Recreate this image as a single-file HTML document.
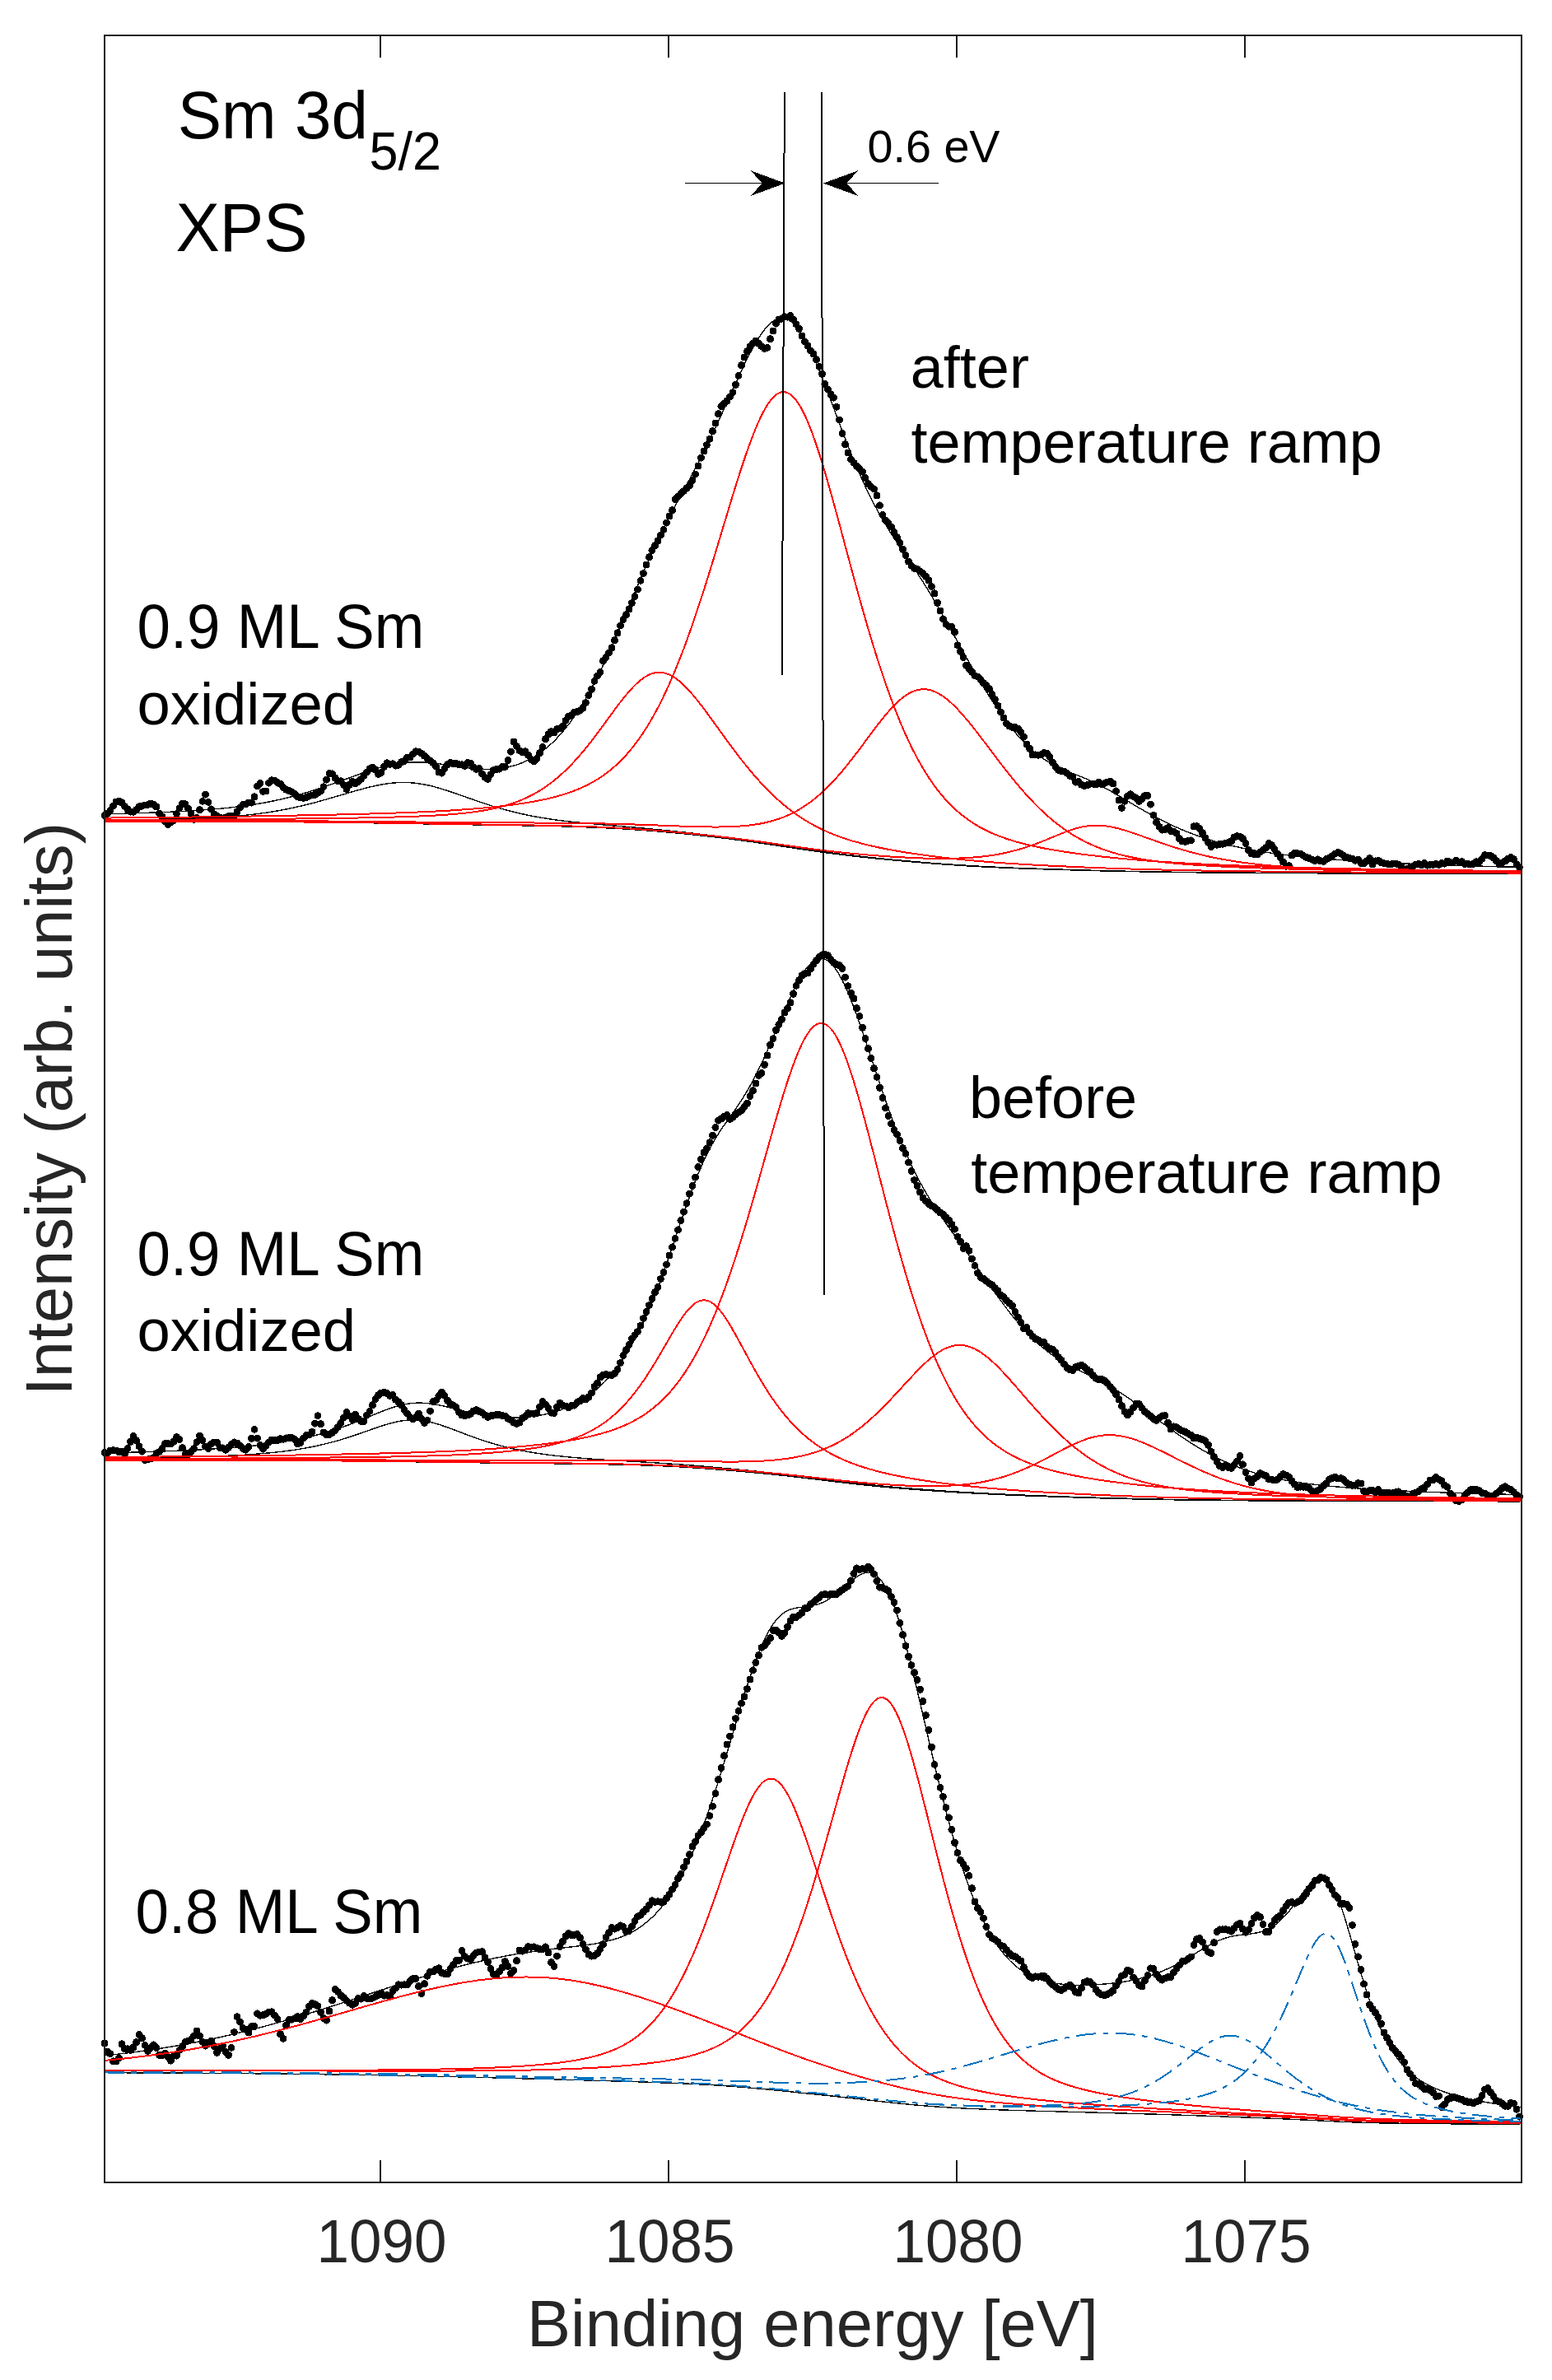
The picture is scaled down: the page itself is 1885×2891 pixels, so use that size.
<!DOCTYPE html>
<html lang="en"><head><meta charset="utf-8"><title>Sm 3d5/2 XPS</title>
<style>html,body{margin:0;padding:0;background:#fff;overflow:hidden}svg{display:block}</style></head>
<body>
<svg width="1885" height="2891" viewBox="0 0 1885 2891">
<rect x="0" y="0" width="1885" height="2891" fill="#fff"/>
<g fill="none" stroke-width="1.4" stroke-linejoin="round" shape-rendering="crispEdges">
<g fill="#000"><circle cx="127.0" cy="990.7" r="4.5"/><circle cx="130.5" cy="988.3" r="4.5"/><circle cx="134.0" cy="984.5" r="4.5"/><circle cx="137.5" cy="979.2" r="4.5"/><circle cx="141.0" cy="974.0" r="4.5"/><circle cx="144.5" cy="973.4" r="4.5"/><circle cx="148.0" cy="974.9" r="4.5"/><circle cx="151.5" cy="979.5" r="4.5"/><circle cx="155.0" cy="982.9" r="4.5"/><circle cx="158.5" cy="986.1" r="4.5"/><circle cx="162.0" cy="986.3" r="4.5"/><circle cx="165.5" cy="983.6" r="4.5"/><circle cx="169.0" cy="979.9" r="4.5"/><circle cx="172.5" cy="979.1" r="4.5"/><circle cx="176.0" cy="978.1" r="4.5"/><circle cx="179.5" cy="977.5" r="4.5"/><circle cx="183.0" cy="976.0" r="4.5"/><circle cx="186.5" cy="977.3" r="4.5"/><circle cx="190.0" cy="980.0" r="4.5"/><circle cx="193.5" cy="988.0" r="4.5"/><circle cx="197.0" cy="992.0" r="4.5"/><circle cx="200.5" cy="997.6" r="4.5"/><circle cx="204.0" cy="1001.5" r="4.5"/><circle cx="207.5" cy="998.9" r="4.5"/><circle cx="211.0" cy="996.4" r="4.5"/><circle cx="214.5" cy="988.5" r="4.5"/><circle cx="218.0" cy="981.8" r="4.5"/><circle cx="221.5" cy="976.4" r="4.5"/><circle cx="225.0" cy="976.9" r="4.5"/><circle cx="228.5" cy="982.1" r="4.5"/><circle cx="232.0" cy="988.2" r="4.5"/><circle cx="235.5" cy="995.4" r="4.5"/><circle cx="239.0" cy="993.5" r="4.5"/><circle cx="242.5" cy="983.7" r="4.5"/><circle cx="246.0" cy="973.3" r="4.5"/><circle cx="249.5" cy="965.2" r="4.5"/><circle cx="253.0" cy="974.3" r="4.5"/><circle cx="256.5" cy="982.9" r="4.5"/><circle cx="260.0" cy="988.8" r="4.5"/><circle cx="263.5" cy="991.1" r="4.5"/><circle cx="267.0" cy="993.0" r="4.5"/><circle cx="270.5" cy="994.5" r="4.5"/><circle cx="274.0" cy="993.0" r="4.5"/><circle cx="277.5" cy="991.7" r="4.5"/><circle cx="281.0" cy="991.6" r="4.5"/><circle cx="284.5" cy="991.2" r="4.5"/><circle cx="288.0" cy="986.1" r="4.5"/><circle cx="291.5" cy="981.2" r="4.5"/><circle cx="295.0" cy="977.3" r="4.5"/><circle cx="298.5" cy="976.9" r="4.5"/><circle cx="302.0" cy="975.1" r="4.5"/><circle cx="305.5" cy="975.0" r="4.5"/><circle cx="309.0" cy="967.9" r="4.5"/><circle cx="312.5" cy="954.9" r="4.5"/><circle cx="316.0" cy="951.6" r="4.5"/><circle cx="319.5" cy="961.5" r="4.5"/><circle cx="323.0" cy="961.1" r="4.5"/><circle cx="326.5" cy="951.1" r="4.5"/><circle cx="330.0" cy="947.9" r="4.5"/><circle cx="333.5" cy="948.1" r="4.5"/><circle cx="337.0" cy="950.7" r="4.5"/><circle cx="340.5" cy="952.4" r="4.5"/><circle cx="344.0" cy="956.5" r="4.5"/><circle cx="347.5" cy="959.2" r="4.5"/><circle cx="351.0" cy="960.5" r="4.5"/><circle cx="354.5" cy="961.9" r="4.5"/><circle cx="358.0" cy="964.5" r="4.5"/><circle cx="361.5" cy="967.7" r="4.5"/><circle cx="365.0" cy="969.1" r="4.5"/><circle cx="368.5" cy="969.3" r="4.5"/><circle cx="372.0" cy="968.5" r="4.5"/><circle cx="375.5" cy="967.0" r="4.5"/><circle cx="379.0" cy="966.1" r="4.5"/><circle cx="382.5" cy="965.4" r="4.5"/><circle cx="386.0" cy="963.2" r="4.5"/><circle cx="389.5" cy="961.0" r="4.5"/><circle cx="393.0" cy="955.8" r="4.5"/><circle cx="396.5" cy="947.2" r="4.5"/><circle cx="400.0" cy="939.4" r="4.5"/><circle cx="403.5" cy="939.9" r="4.5"/><circle cx="407.0" cy="945.1" r="4.5"/><circle cx="410.5" cy="948.8" r="4.5"/><circle cx="414.0" cy="948.8" r="4.5"/><circle cx="417.5" cy="953.5" r="4.5"/><circle cx="421.0" cy="958.8" r="4.5"/><circle cx="424.5" cy="953.4" r="4.5"/><circle cx="428.0" cy="949.2" r="4.5"/><circle cx="431.5" cy="951.8" r="4.5"/><circle cx="435.0" cy="949.5" r="4.5"/><circle cx="438.5" cy="946.5" r="4.5"/><circle cx="442.0" cy="942.0" r="4.5"/><circle cx="445.5" cy="938.2" r="4.5"/><circle cx="449.0" cy="933.9" r="4.5"/><circle cx="452.5" cy="932.3" r="4.5"/><circle cx="456.0" cy="934.9" r="4.5"/><circle cx="459.5" cy="940.3" r="4.5"/><circle cx="463.0" cy="938.7" r="4.5"/><circle cx="466.5" cy="931.4" r="4.5"/><circle cx="470.0" cy="926.8" r="4.5"/><circle cx="473.5" cy="928.5" r="4.5"/><circle cx="477.0" cy="927.8" r="4.5"/><circle cx="480.5" cy="930.0" r="4.5"/><circle cx="484.0" cy="929.3" r="4.5"/><circle cx="487.5" cy="925.8" r="4.5"/><circle cx="491.0" cy="924.4" r="4.5"/><circle cx="494.5" cy="920.3" r="4.5"/><circle cx="498.0" cy="920.1" r="4.5"/><circle cx="501.5" cy="916.1" r="4.5"/><circle cx="505.0" cy="912.8" r="4.5"/><circle cx="508.5" cy="913.2" r="4.5"/><circle cx="512.0" cy="915.2" r="4.5"/><circle cx="515.5" cy="918.2" r="4.5"/><circle cx="519.0" cy="921.7" r="4.5"/><circle cx="522.5" cy="924.0" r="4.5"/><circle cx="526.0" cy="926.8" r="4.5"/><circle cx="529.5" cy="930.8" r="4.5"/><circle cx="533.0" cy="937.9" r="4.5"/><circle cx="536.5" cy="939.1" r="4.5"/><circle cx="540.0" cy="933.4" r="4.5"/><circle cx="543.5" cy="928.8" r="4.5"/><circle cx="547.0" cy="926.7" r="4.5"/><circle cx="550.5" cy="927.8" r="4.5"/><circle cx="554.0" cy="927.7" r="4.5"/><circle cx="557.5" cy="928.7" r="4.5"/><circle cx="561.0" cy="928.9" r="4.5"/><circle cx="564.5" cy="930.4" r="4.5"/><circle cx="568.0" cy="926.5" r="4.5"/><circle cx="571.5" cy="927.3" r="4.5"/><circle cx="575.0" cy="931.9" r="4.5"/><circle cx="578.5" cy="934.5" r="4.5"/><circle cx="582.0" cy="933.4" r="4.5"/><circle cx="585.5" cy="939.9" r="4.5"/><circle cx="589.0" cy="944.2" r="4.5"/><circle cx="592.5" cy="946.3" r="4.5"/><circle cx="596.0" cy="940.8" r="4.5"/><circle cx="599.5" cy="935.5" r="4.5"/><circle cx="603.0" cy="934.6" r="4.5"/><circle cx="606.5" cy="934.2" r="4.5"/><circle cx="610.0" cy="931.7" r="4.5"/><circle cx="613.5" cy="931.5" r="4.5"/><circle cx="617.0" cy="923.4" r="4.5"/><circle cx="620.5" cy="913.0" r="4.5"/><circle cx="624.0" cy="901.1" r="4.5"/><circle cx="627.5" cy="906.5" r="4.5"/><circle cx="631.0" cy="911.8" r="4.5"/><circle cx="634.5" cy="913.8" r="4.5"/><circle cx="638.0" cy="912.8" r="4.5"/><circle cx="641.5" cy="917.4" r="4.5"/><circle cx="645.0" cy="922.6" r="4.5"/><circle cx="648.5" cy="924.6" r="4.5"/><circle cx="652.0" cy="921.4" r="4.5"/><circle cx="655.5" cy="914.6" r="4.5"/><circle cx="659.0" cy="907.4" r="4.5"/><circle cx="662.5" cy="897.6" r="4.5"/><circle cx="666.0" cy="892.1" r="4.5"/><circle cx="669.5" cy="888.5" r="4.5"/><circle cx="673.0" cy="890.1" r="4.5"/><circle cx="676.5" cy="885.8" r="4.5"/><circle cx="680.0" cy="884.9" r="4.5"/><circle cx="683.5" cy="881.9" r="4.5"/><circle cx="687.0" cy="875.2" r="4.5"/><circle cx="690.5" cy="870.4" r="4.5"/><circle cx="694.0" cy="869.1" r="4.5"/><circle cx="697.5" cy="865.0" r="4.5"/><circle cx="701.0" cy="864.7" r="4.5"/><circle cx="704.5" cy="863.2" r="4.5"/><circle cx="708.0" cy="860.1" r="4.5"/><circle cx="711.5" cy="853.5" r="4.5"/><circle cx="715.0" cy="844.5" r="4.5"/><circle cx="718.5" cy="837.4" r="4.5"/><circle cx="722.0" cy="827.3" r="4.5"/><circle cx="725.5" cy="821.1" r="4.5"/><circle cx="729.0" cy="816.6" r="4.5"/><circle cx="732.5" cy="802.6" r="4.5"/><circle cx="736.0" cy="798.4" r="4.5"/><circle cx="739.5" cy="792.9" r="4.5"/><circle cx="743.0" cy="786.9" r="4.5"/><circle cx="746.5" cy="777.8" r="4.5"/><circle cx="750.0" cy="768.9" r="4.5"/><circle cx="753.5" cy="759.9" r="4.5"/><circle cx="757.0" cy="752.7" r="4.5"/><circle cx="760.5" cy="746.7" r="4.5"/><circle cx="764.0" cy="740.0" r="4.5"/><circle cx="767.5" cy="732.5" r="4.5"/><circle cx="771.0" cy="724.4" r="4.5"/><circle cx="774.5" cy="715.9" r="4.5"/><circle cx="778.0" cy="705.3" r="4.5"/><circle cx="781.5" cy="696.5" r="4.5"/><circle cx="785.0" cy="686.1" r="4.5"/><circle cx="788.5" cy="676.7" r="4.5"/><circle cx="792.0" cy="668.5" r="4.5"/><circle cx="795.5" cy="662.8" r="4.5"/><circle cx="799.0" cy="656.9" r="4.5"/><circle cx="802.5" cy="649.9" r="4.5"/><circle cx="806.0" cy="643.3" r="4.5"/><circle cx="809.5" cy="635.0" r="4.5"/><circle cx="813.0" cy="627.1" r="4.5"/><circle cx="816.5" cy="619.8" r="4.5"/><circle cx="820.0" cy="606.7" r="4.5"/><circle cx="823.5" cy="603.1" r="4.5"/><circle cx="827.0" cy="599.4" r="4.5"/><circle cx="830.5" cy="596.5" r="4.5"/><circle cx="834.0" cy="592.9" r="4.5"/><circle cx="837.5" cy="589.8" r="4.5"/><circle cx="841.0" cy="583.4" r="4.5"/><circle cx="844.5" cy="576.2" r="4.5"/><circle cx="848.0" cy="566.0" r="4.5"/><circle cx="851.5" cy="556.2" r="4.5"/><circle cx="855.0" cy="548.0" r="4.5"/><circle cx="858.5" cy="540.5" r="4.5"/><circle cx="862.0" cy="533.2" r="4.5"/><circle cx="865.5" cy="523.6" r="4.5"/><circle cx="869.0" cy="514.0" r="4.5"/><circle cx="872.5" cy="502.8" r="4.5"/><circle cx="876.0" cy="493.5" r="4.5"/><circle cx="879.5" cy="490.4" r="4.5"/><circle cx="883.0" cy="487.0" r="4.5"/><circle cx="886.5" cy="481.9" r="4.5"/><circle cx="890.0" cy="476.8" r="4.5"/><circle cx="893.5" cy="467.4" r="4.5"/><circle cx="897.0" cy="456.3" r="4.5"/><circle cx="900.5" cy="443.6" r="4.5"/><circle cx="904.0" cy="434.0" r="4.5"/><circle cx="907.5" cy="426.7" r="4.5"/><circle cx="911.0" cy="421.0" r="4.5"/><circle cx="914.5" cy="417.0" r="4.5"/><circle cx="918.0" cy="414.1" r="4.5"/><circle cx="921.5" cy="417.4" r="4.5"/><circle cx="925.0" cy="420.8" r="4.5"/><circle cx="928.5" cy="423.4" r="4.5"/><circle cx="932.0" cy="422.3" r="4.5"/><circle cx="935.5" cy="411.8" r="4.5"/><circle cx="939.0" cy="402.0" r="4.5"/><circle cx="942.5" cy="393.0" r="4.5"/><circle cx="946.0" cy="388.1" r="4.5"/><circle cx="949.5" cy="387.0" r="4.5"/><circle cx="953.0" cy="384.9" r="4.5"/><circle cx="956.5" cy="385.1" r="4.5"/><circle cx="960.0" cy="383.7" r="4.5"/><circle cx="963.5" cy="387.9" r="4.5"/><circle cx="967.0" cy="393.8" r="4.5"/><circle cx="970.5" cy="399.4" r="4.5"/><circle cx="974.0" cy="408.0" r="4.5"/><circle cx="977.5" cy="414.9" r="4.5"/><circle cx="981.0" cy="420.1" r="4.5"/><circle cx="984.5" cy="425.9" r="4.5"/><circle cx="988.0" cy="430.1" r="4.5"/><circle cx="991.5" cy="436.8" r="4.5"/><circle cx="995.0" cy="445.2" r="4.5"/><circle cx="998.5" cy="454.4" r="4.5"/><circle cx="1002.0" cy="466.5" r="4.5"/><circle cx="1005.5" cy="473.1" r="4.5"/><circle cx="1009.0" cy="479.0" r="4.5"/><circle cx="1012.5" cy="483.1" r="4.5"/><circle cx="1016.0" cy="494.2" r="4.5"/><circle cx="1019.5" cy="510.1" r="4.5"/><circle cx="1023.0" cy="526.4" r="4.5"/><circle cx="1026.5" cy="539.8" r="4.5"/><circle cx="1030.0" cy="550.0" r="4.5"/><circle cx="1033.5" cy="557.9" r="4.5"/><circle cx="1037.0" cy="562.2" r="4.5"/><circle cx="1040.5" cy="566.3" r="4.5"/><circle cx="1044.0" cy="569.3" r="4.5"/><circle cx="1047.5" cy="573.1" r="4.5"/><circle cx="1051.0" cy="580.6" r="4.5"/><circle cx="1054.5" cy="587.7" r="4.5"/><circle cx="1058.0" cy="591.3" r="4.5"/><circle cx="1061.5" cy="593.9" r="4.5"/><circle cx="1065.0" cy="601.9" r="4.5"/><circle cx="1068.5" cy="613.9" r="4.5"/><circle cx="1072.0" cy="625.5" r="4.5"/><circle cx="1075.5" cy="632.1" r="4.5"/><circle cx="1079.0" cy="635.3" r="4.5"/><circle cx="1082.5" cy="640.0" r="4.5"/><circle cx="1086.0" cy="646.6" r="4.5"/><circle cx="1089.5" cy="652.8" r="4.5"/><circle cx="1093.0" cy="659.6" r="4.5"/><circle cx="1096.5" cy="667.3" r="4.5"/><circle cx="1100.0" cy="674.7" r="4.5"/><circle cx="1103.5" cy="682.2" r="4.5"/><circle cx="1107.0" cy="687.3" r="4.5"/><circle cx="1110.5" cy="690.4" r="4.5"/><circle cx="1114.0" cy="691.2" r="4.5"/><circle cx="1117.5" cy="694.1" r="4.5"/><circle cx="1121.0" cy="696.7" r="4.5"/><circle cx="1124.5" cy="700.3" r="4.5"/><circle cx="1128.0" cy="704.9" r="4.5"/><circle cx="1131.5" cy="712.5" r="4.5"/><circle cx="1135.0" cy="720.9" r="4.5"/><circle cx="1138.5" cy="732.3" r="4.5"/><circle cx="1142.0" cy="742.0" r="4.5"/><circle cx="1145.5" cy="752.1" r="4.5"/><circle cx="1149.0" cy="758.3" r="4.5"/><circle cx="1152.5" cy="761.0" r="4.5"/><circle cx="1156.0" cy="761.6" r="4.5"/><circle cx="1159.5" cy="767.6" r="4.5"/><circle cx="1163.0" cy="783.8" r="4.5"/><circle cx="1166.5" cy="791.4" r="4.5"/><circle cx="1170.0" cy="798.7" r="4.5"/><circle cx="1173.5" cy="808.2" r="4.5"/><circle cx="1177.0" cy="812.5" r="4.5"/><circle cx="1180.5" cy="816.4" r="4.5"/><circle cx="1184.0" cy="820.8" r="4.5"/><circle cx="1187.5" cy="822.0" r="4.5"/><circle cx="1191.0" cy="825.4" r="4.5"/><circle cx="1194.5" cy="829.6" r="4.5"/><circle cx="1198.0" cy="832.6" r="4.5"/><circle cx="1201.5" cy="836.8" r="4.5"/><circle cx="1205.0" cy="843.7" r="4.5"/><circle cx="1208.5" cy="849.5" r="4.5"/><circle cx="1212.0" cy="857.2" r="4.5"/><circle cx="1215.5" cy="864.9" r="4.5"/><circle cx="1219.0" cy="872.1" r="4.5"/><circle cx="1222.5" cy="879.0" r="4.5"/><circle cx="1226.0" cy="882.1" r="4.5"/><circle cx="1229.5" cy="883.4" r="4.5"/><circle cx="1233.0" cy="883.7" r="4.5"/><circle cx="1236.5" cy="885.4" r="4.5"/><circle cx="1240.0" cy="889.6" r="4.5"/><circle cx="1243.5" cy="895.1" r="4.5"/><circle cx="1247.0" cy="904.0" r="4.5"/><circle cx="1250.5" cy="909.4" r="4.5"/><circle cx="1254.0" cy="917.1" r="4.5"/><circle cx="1257.5" cy="916.9" r="4.5"/><circle cx="1261.0" cy="917.2" r="4.5"/><circle cx="1264.5" cy="916.7" r="4.5"/><circle cx="1268.0" cy="914.6" r="4.5"/><circle cx="1271.5" cy="915.4" r="4.5"/><circle cx="1275.0" cy="919.5" r="4.5"/><circle cx="1278.5" cy="926.4" r="4.5"/><circle cx="1282.0" cy="931.7" r="4.5"/><circle cx="1285.5" cy="935.4" r="4.5"/><circle cx="1289.0" cy="936.7" r="4.5"/><circle cx="1292.5" cy="937.2" r="4.5"/><circle cx="1296.0" cy="939.3" r="4.5"/><circle cx="1299.5" cy="942.3" r="4.5"/><circle cx="1303.0" cy="943.6" r="4.5"/><circle cx="1306.5" cy="950.0" r="4.5"/><circle cx="1310.0" cy="949.6" r="4.5"/><circle cx="1313.5" cy="953.2" r="4.5"/><circle cx="1317.0" cy="954.7" r="4.5"/><circle cx="1320.5" cy="953.8" r="4.5"/><circle cx="1324.0" cy="952.3" r="4.5"/><circle cx="1327.5" cy="952.1" r="4.5"/><circle cx="1331.0" cy="952.9" r="4.5"/><circle cx="1334.5" cy="950.3" r="4.5"/><circle cx="1338.0" cy="952.7" r="4.5"/><circle cx="1341.5" cy="951.5" r="4.5"/><circle cx="1345.0" cy="950.0" r="4.5"/><circle cx="1348.5" cy="949.3" r="4.5"/><circle cx="1352.0" cy="952.0" r="4.5"/><circle cx="1355.5" cy="960.9" r="4.5"/><circle cx="1359.0" cy="972.0" r="4.5"/><circle cx="1362.5" cy="981.5" r="4.5"/><circle cx="1366.0" cy="973.3" r="4.5"/><circle cx="1369.5" cy="966.9" r="4.5"/><circle cx="1373.0" cy="964.8" r="4.5"/><circle cx="1376.5" cy="967.5" r="4.5"/><circle cx="1380.0" cy="969.7" r="4.5"/><circle cx="1383.5" cy="973.3" r="4.5"/><circle cx="1387.0" cy="970.4" r="4.5"/><circle cx="1390.5" cy="966.5" r="4.5"/><circle cx="1394.0" cy="966.4" r="4.5"/><circle cx="1397.5" cy="977.0" r="4.5"/><circle cx="1401.0" cy="990.2" r="4.5"/><circle cx="1404.5" cy="998.6" r="4.5"/><circle cx="1408.0" cy="1004.2" r="4.5"/><circle cx="1411.5" cy="1008.1" r="4.5"/><circle cx="1415.0" cy="1007.4" r="4.5"/><circle cx="1418.5" cy="1005.8" r="4.5"/><circle cx="1422.0" cy="1009.4" r="4.5"/><circle cx="1425.5" cy="1010.1" r="4.5"/><circle cx="1429.0" cy="1012.2" r="4.5"/><circle cx="1432.5" cy="1018.8" r="4.5"/><circle cx="1436.0" cy="1021.9" r="4.5"/><circle cx="1439.5" cy="1022.3" r="4.5"/><circle cx="1443.0" cy="1021.3" r="4.5"/><circle cx="1446.5" cy="1020.9" r="4.5"/><circle cx="1450.0" cy="1003.9" r="4.5"/><circle cx="1453.5" cy="1003.7" r="4.5"/><circle cx="1457.0" cy="1006.4" r="4.5"/><circle cx="1460.5" cy="1011.7" r="4.5"/><circle cx="1464.0" cy="1018.0" r="4.5"/><circle cx="1467.5" cy="1023.5" r="4.5"/><circle cx="1471.0" cy="1028.7" r="4.5"/><circle cx="1474.5" cy="1025.7" r="4.5"/><circle cx="1478.0" cy="1026.2" r="4.5"/><circle cx="1481.5" cy="1025.3" r="4.5"/><circle cx="1485.0" cy="1025.2" r="4.5"/><circle cx="1488.5" cy="1024.0" r="4.5"/><circle cx="1492.0" cy="1023.5" r="4.5"/><circle cx="1495.5" cy="1021.8" r="4.5"/><circle cx="1499.0" cy="1017.1" r="4.5"/><circle cx="1502.5" cy="1015.5" r="4.5"/><circle cx="1506.0" cy="1016.2" r="4.5"/><circle cx="1509.5" cy="1018.6" r="4.5"/><circle cx="1513.0" cy="1024.7" r="4.5"/><circle cx="1516.5" cy="1032.8" r="4.5"/><circle cx="1520.0" cy="1037.1" r="4.5"/><circle cx="1523.5" cy="1037.7" r="4.5"/><circle cx="1527.0" cy="1038.0" r="4.5"/><circle cx="1530.5" cy="1035.0" r="4.5"/><circle cx="1534.0" cy="1032.7" r="4.5"/><circle cx="1537.5" cy="1029.6" r="4.5"/><circle cx="1541.0" cy="1024.6" r="4.5"/><circle cx="1544.5" cy="1026.6" r="4.5"/><circle cx="1548.0" cy="1031.5" r="4.5"/><circle cx="1551.5" cy="1037.2" r="4.5"/><circle cx="1555.0" cy="1041.6" r="4.5"/><circle cx="1558.5" cy="1047.2" r="4.5"/><circle cx="1562.0" cy="1052.3" r="4.5"/><circle cx="1565.5" cy="1051.6" r="4.5"/><circle cx="1569.0" cy="1039.1" r="4.5"/><circle cx="1572.5" cy="1036.4" r="4.5"/><circle cx="1576.0" cy="1036.9" r="4.5"/><circle cx="1579.5" cy="1037.2" r="4.5"/><circle cx="1583.0" cy="1039.3" r="4.5"/><circle cx="1586.5" cy="1041.3" r="4.5"/><circle cx="1590.0" cy="1042.6" r="4.5"/><circle cx="1593.5" cy="1044.0" r="4.5"/><circle cx="1597.0" cy="1045.8" r="4.5"/><circle cx="1600.5" cy="1043.9" r="4.5"/><circle cx="1604.0" cy="1045.9" r="4.5"/><circle cx="1607.5" cy="1046.4" r="4.5"/><circle cx="1611.0" cy="1043.5" r="4.5"/><circle cx="1614.5" cy="1042.0" r="4.5"/><circle cx="1618.0" cy="1039.8" r="4.5"/><circle cx="1621.5" cy="1037.2" r="4.5"/><circle cx="1625.0" cy="1035.4" r="4.5"/><circle cx="1628.5" cy="1036.9" r="4.5"/><circle cx="1632.0" cy="1039.5" r="4.5"/><circle cx="1635.5" cy="1041.0" r="4.5"/><circle cx="1639.0" cy="1042.5" r="4.5"/><circle cx="1642.5" cy="1043.2" r="4.5"/><circle cx="1646.0" cy="1045.2" r="4.5"/><circle cx="1649.5" cy="1044.1" r="4.5"/><circle cx="1653.0" cy="1048.5" r="4.5"/><circle cx="1656.5" cy="1048.7" r="4.5"/><circle cx="1660.0" cy="1046.1" r="4.5"/><circle cx="1663.5" cy="1042.8" r="4.5"/><circle cx="1667.0" cy="1049.9" r="4.5"/><circle cx="1670.5" cy="1045.9" r="4.5"/><circle cx="1674.0" cy="1045.2" r="4.5"/><circle cx="1677.5" cy="1047.6" r="4.5"/><circle cx="1681.0" cy="1048.8" r="4.5"/><circle cx="1684.5" cy="1049.1" r="4.5"/><circle cx="1688.0" cy="1050.1" r="4.5"/><circle cx="1691.5" cy="1049.2" r="4.5"/><circle cx="1695.0" cy="1049.0" r="4.5"/><circle cx="1698.5" cy="1050.2" r="4.5"/><circle cx="1702.0" cy="1052.3" r="4.5"/><circle cx="1705.5" cy="1055.9" r="4.5"/><circle cx="1709.0" cy="1055.3" r="4.5"/><circle cx="1712.5" cy="1054.0" r="4.5"/><circle cx="1716.0" cy="1052.3" r="4.5"/><circle cx="1719.5" cy="1050.0" r="4.5"/><circle cx="1723.0" cy="1049.3" r="4.5"/><circle cx="1726.5" cy="1050.6" r="4.5"/><circle cx="1730.0" cy="1048.7" r="4.5"/><circle cx="1733.5" cy="1051.1" r="4.5"/><circle cx="1737.0" cy="1050.3" r="4.5"/><circle cx="1740.5" cy="1050.5" r="4.5"/><circle cx="1744.0" cy="1049.5" r="4.5"/><circle cx="1747.5" cy="1050.3" r="4.5"/><circle cx="1751.0" cy="1048.7" r="4.5"/><circle cx="1754.5" cy="1049.1" r="4.5"/><circle cx="1758.0" cy="1046.1" r="4.5"/><circle cx="1761.5" cy="1047.8" r="4.5"/><circle cx="1765.0" cy="1047.8" r="4.5"/><circle cx="1768.5" cy="1045.3" r="4.5"/><circle cx="1772.0" cy="1047.4" r="4.5"/><circle cx="1775.5" cy="1046.6" r="4.5"/><circle cx="1779.0" cy="1049.4" r="4.5"/><circle cx="1782.5" cy="1049.2" r="4.5"/><circle cx="1786.0" cy="1050.0" r="4.5"/><circle cx="1789.5" cy="1049.3" r="4.5"/><circle cx="1793.0" cy="1046.8" r="4.5"/><circle cx="1796.5" cy="1046.8" r="4.5"/><circle cx="1800.0" cy="1043.3" r="4.5"/><circle cx="1803.5" cy="1038.7" r="4.5"/><circle cx="1807.0" cy="1039.0" r="4.5"/><circle cx="1810.5" cy="1039.7" r="4.5"/><circle cx="1814.0" cy="1041.9" r="4.5"/><circle cx="1817.5" cy="1045.6" r="4.5"/><circle cx="1821.0" cy="1050.0" r="4.5"/><circle cx="1824.5" cy="1047.9" r="4.5"/><circle cx="1828.0" cy="1046.0" r="4.5"/><circle cx="1831.5" cy="1043.4" r="4.5"/><circle cx="1835.0" cy="1041.5" r="4.5"/><circle cx="1838.5" cy="1043.8" r="4.5"/><circle cx="1842.0" cy="1050.0" r="4.5"/><circle cx="1845.5" cy="1053.5" r="4.5"/></g>
<path d="M127.0,997.8 L130.0,997.8 L133.0,997.8 L136.0,997.8 L139.0,997.8 L142.0,997.8 L145.0,997.8 L148.0,997.9 L151.0,997.9 L154.0,997.9 L157.0,997.9 L160.0,997.9 L163.0,997.9 L166.0,997.9 L169.0,997.9 L172.0,997.9 L175.0,997.9 L178.0,997.9 L181.0,997.9 L184.0,997.9 L187.0,997.9 L190.0,998.0 L193.0,998.0 L196.0,998.0 L199.0,998.0 L202.0,998.0 L205.0,998.0 L208.0,998.0 L211.0,998.0 L214.0,998.0 L217.0,998.0 L220.0,998.0 L223.0,998.0 L226.0,998.1 L229.0,998.1 L232.0,998.1 L235.0,998.1 L238.0,998.1 L241.0,998.1 L244.0,998.1 L247.0,998.1 L250.0,998.1 L253.0,998.1 L256.0,998.2 L259.0,998.2 L262.0,998.2 L265.0,998.2 L268.0,998.2 L271.0,998.2 L274.0,998.2 L277.0,998.2 L280.0,998.2 L283.0,998.3 L286.0,998.3 L289.0,998.3 L292.0,998.3 L295.0,998.3 L298.0,998.3 L301.0,998.3 L304.0,998.3 L307.0,998.4 L310.0,998.4 L313.0,998.4 L316.0,998.4 L319.0,998.4 L322.0,998.4 L325.0,998.5 L328.0,998.5 L331.0,998.5 L334.0,998.5 L337.0,998.5 L340.0,998.5 L343.0,998.6 L346.0,998.6 L349.0,998.6 L352.0,998.6 L355.0,998.7 L358.0,998.7 L361.0,998.7 L364.0,998.7 L367.0,998.7 L370.0,998.8 L373.0,998.8 L376.0,998.8 L379.0,998.8 L382.0,998.9 L385.0,998.9 L388.0,998.9 L391.0,999.0 L394.0,999.0 L397.0,999.0 L400.0,999.1 L403.0,999.1 L406.0,999.1 L409.0,999.2 L412.0,999.2 L415.0,999.2 L418.0,999.3 L421.0,999.3 L424.0,999.3 L427.0,999.4 L430.0,999.4 L433.0,999.5 L436.0,999.5 L439.0,999.5 L442.0,999.6 L445.0,999.6 L448.0,999.7 L451.0,999.7 L454.0,999.8 L457.0,999.8 L460.0,999.9 L463.0,999.9 L466.0,999.9 L469.0,1000.0 L472.0,1000.0 L475.0,1000.1 L478.0,1000.1 L481.0,1000.2 L484.0,1000.2 L487.0,1000.3 L490.0,1000.4 L493.0,1000.4 L496.0,1000.5 L499.0,1000.5 L502.0,1000.6 L505.0,1000.6 L508.0,1000.7 L511.0,1000.7 L514.0,1000.8 L517.0,1000.8 L520.0,1000.9 L523.0,1000.9 L526.0,1001.0 L529.0,1001.0 L532.0,1001.1 L535.0,1001.1 L538.0,1001.2 L541.0,1001.2 L544.0,1001.3 L547.0,1001.3 L550.0,1001.4 L553.0,1001.4 L556.0,1001.5 L559.0,1001.5 L562.0,1001.6 L565.0,1001.6 L568.0,1001.7 L571.0,1001.7 L574.0,1001.8 L577.0,1001.8 L580.0,1001.9 L583.0,1001.9 L586.0,1002.0 L589.0,1002.0 L592.0,1002.1 L595.0,1002.1 L598.0,1002.2 L601.0,1002.2 L604.0,1002.3 L607.0,1002.3 L610.0,1002.4 L613.0,1002.4 L616.0,1002.5 L619.0,1002.5 L622.0,1002.6 L625.0,1002.6 L628.0,1002.7 L631.0,1002.7 L634.0,1002.8 L637.0,1002.8 L640.0,1002.9 L643.0,1002.9 L646.0,1003.0 L649.0,1003.1 L652.0,1003.1 L655.0,1003.2 L658.0,1003.2 L661.0,1003.3 L664.0,1003.4 L667.0,1003.4 L670.0,1003.5 L673.0,1003.6 L676.0,1003.7 L679.0,1003.7 L682.0,1003.8 L685.0,1003.9 L688.0,1004.0 L691.0,1004.1 L694.0,1004.2 L697.0,1004.2 L700.0,1004.3 L703.0,1004.4 L706.0,1004.5 L709.0,1004.6 L712.0,1004.8 L715.0,1004.9 L718.0,1005.0 L721.0,1005.1 L724.0,1005.2 L727.0,1005.4 L730.0,1005.5 L733.0,1005.6 L736.0,1005.8 L739.0,1005.9 L742.0,1006.1 L745.0,1006.2 L748.0,1006.4 L751.0,1006.6 L754.0,1006.7 L757.0,1006.9 L760.0,1007.1 L763.0,1007.3 L766.0,1007.5 L769.0,1007.7 L772.0,1007.9 L775.0,1008.1 L778.0,1008.3 L781.0,1008.5 L784.0,1008.7 L787.0,1009.0 L790.0,1009.2 L793.0,1009.4 L796.0,1009.7 L799.0,1009.9 L802.0,1010.2 L805.0,1010.4 L808.0,1010.7 L811.0,1011.0 L814.0,1011.2 L817.0,1011.5 L820.0,1011.8 L823.0,1012.1 L826.0,1012.3 L829.0,1012.6 L832.0,1012.9 L835.0,1013.2 L838.0,1013.5 L841.0,1013.8 L844.0,1014.2 L847.0,1014.5 L850.0,1014.8 L853.0,1015.1 L856.0,1015.4 L859.0,1015.8 L862.0,1016.1 L865.0,1016.5 L868.0,1016.8 L871.0,1017.2 L874.0,1017.5 L877.0,1017.9 L880.0,1018.2 L883.0,1018.6 L886.0,1019.0 L889.0,1019.4 L892.0,1019.8 L895.0,1020.2 L898.0,1020.5 L901.0,1021.0 L904.0,1021.4 L907.0,1021.8 L910.0,1022.2 L913.0,1022.6 L916.0,1023.0 L919.0,1023.5 L922.0,1023.9 L925.0,1024.3 L928.0,1024.8 L931.0,1025.2 L934.0,1025.7 L937.0,1026.1 L940.0,1026.6 L943.0,1027.0 L946.0,1027.5 L949.0,1027.9 L952.0,1028.4 L955.0,1028.8 L958.0,1029.3 L961.0,1029.7 L964.0,1030.2 L967.0,1030.6 L970.0,1031.1 L973.0,1031.5 L976.0,1032.0 L979.0,1032.4 L982.0,1032.8 L985.0,1033.3 L988.0,1033.7 L991.0,1034.1 L994.0,1034.5 L997.0,1035.0 L1000.0,1035.4 L1003.0,1035.8 L1006.0,1036.2 L1009.0,1036.6 L1012.0,1037.0 L1015.0,1037.3 L1018.0,1037.7 L1021.0,1038.1 L1024.0,1038.4 L1027.0,1038.8 L1030.0,1039.2 L1033.0,1039.5 L1036.0,1039.9 L1039.0,1040.2 L1042.0,1040.5 L1045.0,1040.9 L1048.0,1041.2 L1051.0,1041.5 L1054.0,1041.8 L1057.0,1042.1 L1060.0,1042.5 L1063.0,1042.8 L1066.0,1043.1 L1069.0,1043.4 L1072.0,1043.7 L1075.0,1043.9 L1078.0,1044.2 L1081.0,1044.5 L1084.0,1044.8 L1087.0,1045.1 L1090.0,1045.4 L1093.0,1045.6 L1096.0,1045.9 L1099.0,1046.2 L1102.0,1046.4 L1105.0,1046.7 L1108.0,1046.9 L1111.0,1047.2 L1114.0,1047.4 L1117.0,1047.7 L1120.0,1047.9 L1123.0,1048.2 L1126.0,1048.4 L1129.0,1048.7 L1132.0,1048.9 L1135.0,1049.1 L1138.0,1049.3 L1141.0,1049.6 L1144.0,1049.8 L1147.0,1050.0 L1150.0,1050.2 L1153.0,1050.4 L1156.0,1050.6 L1159.0,1050.8 L1162.0,1051.0 L1165.0,1051.2 L1168.0,1051.4 L1171.0,1051.6 L1174.0,1051.8 L1177.0,1051.9 L1180.0,1052.1 L1183.0,1052.3 L1186.0,1052.4 L1189.0,1052.6 L1192.0,1052.8 L1195.0,1052.9 L1198.0,1053.1 L1201.0,1053.2 L1204.0,1053.4 L1207.0,1053.5 L1210.0,1053.7 L1213.0,1053.8 L1216.0,1053.9 L1219.0,1054.1 L1222.0,1054.2 L1225.0,1054.3 L1228.0,1054.4 L1231.0,1054.6 L1234.0,1054.7 L1237.0,1054.8 L1240.0,1054.9 L1243.0,1055.0 L1246.0,1055.1 L1249.0,1055.2 L1252.0,1055.3 L1255.0,1055.4 L1258.0,1055.5 L1261.0,1055.6 L1264.0,1055.7 L1267.0,1055.8 L1270.0,1055.9 L1273.0,1056.0 L1276.0,1056.1 L1279.0,1056.2 L1282.0,1056.3 L1285.0,1056.4 L1288.0,1056.5 L1291.0,1056.6 L1294.0,1056.6 L1297.0,1056.7 L1300.0,1056.8 L1303.0,1056.9 L1306.0,1057.0 L1309.0,1057.1 L1312.0,1057.1 L1315.0,1057.2 L1318.0,1057.3 L1321.0,1057.4 L1324.0,1057.5 L1327.0,1057.5 L1330.0,1057.6 L1333.0,1057.7 L1336.0,1057.8 L1339.0,1057.8 L1342.0,1057.9 L1345.0,1058.0 L1348.0,1058.0 L1351.0,1058.1 L1354.0,1058.2 L1357.0,1058.2 L1360.0,1058.3 L1363.0,1058.4 L1366.0,1058.4 L1369.0,1058.5 L1372.0,1058.6 L1375.0,1058.6 L1378.0,1058.7 L1381.0,1058.7 L1384.0,1058.8 L1387.0,1058.8 L1390.0,1058.9 L1393.0,1058.9 L1396.0,1059.0 L1399.0,1059.0 L1402.0,1059.1 L1405.0,1059.1 L1408.0,1059.2 L1411.0,1059.2 L1414.0,1059.3 L1417.0,1059.3 L1420.0,1059.4 L1423.0,1059.4 L1426.0,1059.4 L1429.0,1059.5 L1432.0,1059.5 L1435.0,1059.6 L1438.0,1059.6 L1441.0,1059.6 L1444.0,1059.7 L1447.0,1059.7 L1450.0,1059.7 L1453.0,1059.8 L1456.0,1059.8 L1459.0,1059.8 L1462.0,1059.9 L1465.0,1059.9 L1468.0,1059.9 L1471.0,1059.9 L1474.0,1060.0 L1477.0,1060.0 L1480.0,1060.0 L1483.0,1060.1 L1486.0,1060.1 L1489.0,1060.1 L1492.0,1060.1 L1495.0,1060.2 L1498.0,1060.2 L1501.0,1060.2 L1504.0,1060.2 L1507.0,1060.2 L1510.0,1060.3 L1513.0,1060.3 L1516.0,1060.3 L1519.0,1060.3 L1522.0,1060.3 L1525.0,1060.4 L1528.0,1060.4 L1531.0,1060.4 L1534.0,1060.4 L1537.0,1060.4 L1540.0,1060.5 L1543.0,1060.5 L1546.0,1060.5 L1549.0,1060.5 L1552.0,1060.5 L1555.0,1060.5 L1558.0,1060.6 L1561.0,1060.6 L1564.0,1060.6 L1567.0,1060.6 L1570.0,1060.6 L1573.0,1060.6 L1576.0,1060.7 L1579.0,1060.7 L1582.0,1060.7 L1585.0,1060.7 L1588.0,1060.7 L1591.0,1060.7 L1594.0,1060.7 L1597.0,1060.7 L1600.0,1060.8 L1603.0,1060.8 L1606.0,1060.8 L1609.0,1060.8 L1612.0,1060.8 L1615.0,1060.8 L1618.0,1060.8 L1621.0,1060.8 L1624.0,1060.9 L1627.0,1060.9 L1630.0,1060.9 L1633.0,1060.9 L1636.0,1060.9 L1639.0,1060.9 L1642.0,1060.9 L1645.0,1060.9 L1648.0,1060.9 L1651.0,1061.0 L1654.0,1061.0 L1657.0,1061.0 L1660.0,1061.0 L1663.0,1061.0 L1666.0,1061.0 L1669.0,1061.0 L1672.0,1061.0 L1675.0,1061.0 L1678.0,1061.0 L1681.0,1061.1 L1684.0,1061.1 L1687.0,1061.1 L1690.0,1061.1 L1693.0,1061.1 L1696.0,1061.1 L1699.0,1061.1 L1702.0,1061.1 L1705.0,1061.1 L1708.0,1061.1 L1711.0,1061.1 L1714.0,1061.2 L1717.0,1061.2 L1720.0,1061.2 L1723.0,1061.2 L1726.0,1061.2 L1729.0,1061.2 L1732.0,1061.2 L1735.0,1061.2 L1738.0,1061.2 L1741.0,1061.2 L1744.0,1061.2 L1747.0,1061.2 L1750.0,1061.3 L1753.0,1061.3 L1756.0,1061.3 L1759.0,1061.3 L1762.0,1061.3 L1765.0,1061.3 L1768.0,1061.3 L1771.0,1061.3 L1774.0,1061.3 L1777.0,1061.3 L1780.0,1061.3 L1783.0,1061.3 L1786.0,1061.3 L1789.0,1061.3 L1792.0,1061.4 L1795.0,1061.4 L1798.0,1061.4 L1801.0,1061.4 L1804.0,1061.4 L1807.0,1061.4 L1810.0,1061.4 L1813.0,1061.4 L1816.0,1061.4 L1819.0,1061.4 L1822.0,1061.4 L1825.0,1061.4 L1828.0,1061.4 L1831.0,1061.4 L1834.0,1061.4 L1837.0,1061.4 L1840.0,1061.5 L1843.0,1061.5 L1846.0,1061.5" stroke="#000"/>
<path d="M127.0,988.8 L129.0,988.8 L131.0,988.7 L133.0,988.7 L135.0,988.6 L137.0,988.6 L139.0,988.5 L141.0,988.4 L143.0,988.4 L145.0,988.3 L147.0,988.3 L149.0,988.2 L151.0,988.2 L153.0,988.1 L155.0,988.0 L157.0,988.0 L159.0,987.9 L161.0,987.9 L163.0,987.8 L165.0,987.7 L167.0,987.7 L169.0,987.6 L171.0,987.5 L173.0,987.5 L175.0,987.4 L177.0,987.3 L179.0,987.3 L181.0,987.2 L183.0,987.1 L185.0,987.1 L187.0,987.0 L189.0,986.9 L191.0,986.8 L193.0,986.7 L195.0,986.7 L197.0,986.6 L199.0,986.5 L201.0,986.4 L203.0,986.3 L205.0,986.2 L207.0,986.2 L209.0,986.1 L211.0,986.0 L213.0,985.9 L215.0,985.8 L217.0,985.7 L219.0,985.6 L221.0,985.5 L223.0,985.4 L225.0,985.3 L227.0,985.1 L229.0,985.0 L231.0,984.9 L233.0,984.8 L235.0,984.7 L237.0,984.5 L239.0,984.4 L241.0,984.3 L243.0,984.2 L245.0,984.0 L247.0,983.9 L249.0,983.7 L251.0,983.6 L253.0,983.4 L255.0,983.3 L257.0,983.1 L259.0,983.0 L261.0,982.8 L263.0,982.6 L265.0,982.4 L267.0,982.3 L269.0,982.1 L271.0,981.9 L273.0,981.7 L275.0,981.5 L277.0,981.3 L279.0,981.1 L281.0,980.8 L283.0,980.6 L285.0,980.4 L287.0,980.1 L289.0,979.9 L291.0,979.7 L293.0,979.4 L295.0,979.1 L297.0,978.9 L299.0,978.6 L301.0,978.3 L303.0,978.0 L305.0,977.7 L307.0,977.4 L309.0,977.1 L311.0,976.8 L313.0,976.5 L315.0,976.1 L317.0,975.8 L319.0,975.4 L321.0,975.1 L323.0,974.7 L325.0,974.3 L327.0,973.9 L329.0,973.5 L331.0,973.1 L333.0,972.7 L335.0,972.3 L337.0,971.8 L339.0,971.4 L341.0,970.9 L343.0,970.5 L345.0,970.0 L347.0,969.5 L349.0,969.0 L351.0,968.5 L353.0,968.0 L355.0,967.5 L357.0,967.0 L359.0,966.4 L361.0,965.9 L363.0,965.3 L365.0,964.8 L367.0,964.2 L369.0,963.6 L371.0,963.0 L373.0,962.4 L375.0,961.8 L377.0,961.2 L379.0,960.6 L381.0,960.0 L383.0,959.3 L385.0,958.7 L387.0,958.0 L389.0,957.3 L391.0,956.7 L393.0,956.0 L395.0,955.3 L397.0,954.6 L399.0,953.9 L401.0,953.2 L403.0,952.5 L405.0,951.8 L407.0,951.1 L409.0,950.4 L411.0,949.7 L413.0,948.9 L415.0,948.2 L417.0,947.5 L419.0,946.8 L421.0,946.0 L423.0,945.3 L425.0,944.6 L427.0,943.9 L429.0,943.1 L431.0,942.4 L433.0,941.7 L435.0,941.0 L437.0,940.3 L439.0,939.6 L441.0,938.9 L443.0,938.2 L445.0,937.5 L447.0,936.9 L449.0,936.2 L451.0,935.6 L453.0,934.9 L455.0,934.3 L457.0,933.7 L459.0,933.1 L461.0,932.6 L463.0,932.0 L465.0,931.5 L467.0,930.9 L469.0,930.5 L471.0,930.0 L473.0,929.5 L475.0,929.1 L477.0,928.7 L479.0,928.3 L481.0,927.9 L483.0,927.6 L485.0,927.3 L487.0,927.0 L489.0,926.8 L491.0,926.5 L493.0,926.4 L495.0,926.2 L497.0,926.0 L499.0,925.9 L501.0,925.9 L503.0,925.8 L505.0,925.8 L507.0,925.8 L509.0,925.8 L511.0,925.8 L513.0,925.9 L515.0,926.0 L517.0,926.1 L519.0,926.3 L521.0,926.4 L523.0,926.6 L525.0,926.8 L527.0,927.0 L529.0,927.2 L531.0,927.5 L533.0,927.7 L535.0,928.0 L537.0,928.3 L539.0,928.6 L541.0,928.9 L543.0,929.2 L545.0,929.5 L547.0,929.8 L549.0,930.1 L551.0,930.4 L553.0,930.7 L555.0,931.0 L557.0,931.3 L559.0,931.6 L561.0,931.8 L563.0,932.1 L565.0,932.4 L567.0,932.6 L569.0,932.8 L571.0,933.1 L573.0,933.3 L575.0,933.5 L577.0,933.6 L579.0,933.8 L581.0,933.9 L583.0,934.0 L585.0,934.1 L587.0,934.2 L589.0,934.2 L591.0,934.3 L593.0,934.3 L595.0,934.2 L597.0,934.2 L599.0,934.1 L601.0,934.0 L603.0,933.8 L605.0,933.6 L607.0,933.4 L609.0,933.1 L611.0,932.9 L613.0,932.5 L615.0,932.2 L617.0,931.8 L619.0,931.3 L621.0,930.8 L623.0,930.3 L625.0,929.7 L627.0,929.1 L629.0,928.5 L631.0,927.7 L633.0,927.0 L635.0,926.2 L637.0,925.3 L639.0,924.4 L641.0,923.5 L643.0,922.5 L645.0,921.4 L647.0,920.3 L649.0,919.1 L651.0,917.8 L653.0,916.6 L655.0,915.2 L657.0,913.8 L659.0,912.3 L661.0,910.8 L663.0,909.1 L665.0,907.5 L667.0,905.7 L669.0,903.9 L671.0,902.1 L673.0,900.1 L675.0,898.1 L677.0,896.0 L679.0,893.9 L681.0,891.6 L683.0,889.3 L685.0,887.0 L687.0,884.5 L689.0,882.0 L691.0,879.4 L693.0,876.7 L695.0,873.9 L697.0,871.1 L699.0,868.2 L701.0,865.2 L703.0,862.1 L705.0,859.0 L707.0,855.8 L709.0,852.5 L711.0,849.1 L713.0,845.6 L715.0,842.1 L717.0,838.5 L719.0,834.8 L721.0,831.0 L723.0,827.2 L725.0,823.3 L727.0,819.3 L729.0,815.3 L731.0,811.2 L733.0,807.0 L735.0,802.7 L737.0,798.4 L739.0,794.1 L741.0,789.7 L743.0,785.2 L745.0,780.7 L747.0,776.1 L749.0,771.5 L751.0,766.9 L753.0,762.2 L755.0,757.5 L757.0,752.7 L759.0,748.0 L761.0,743.2 L763.0,738.4 L765.0,733.7 L767.0,728.9 L769.0,724.1 L771.0,719.3 L773.0,714.6 L775.0,709.9 L777.0,705.1 L779.0,700.5 L781.0,695.8 L783.0,691.2 L785.0,686.7 L787.0,682.2 L789.0,677.7 L791.0,673.3 L793.0,668.9 L795.0,664.6 L797.0,660.3 L799.0,656.1 L801.0,652.0 L803.0,647.8 L805.0,643.8 L807.0,639.8 L809.0,635.8 L811.0,631.9 L813.0,628.0 L815.0,624.2 L817.0,620.4 L819.0,616.6 L821.0,612.8 L823.0,609.1 L825.0,605.4 L827.0,601.7 L829.0,597.9 L831.0,594.2 L833.0,590.5 L835.0,586.8 L837.0,583.1 L839.0,579.3 L841.0,575.5 L843.0,571.7 L845.0,567.9 L847.0,564.1 L849.0,560.2 L851.0,556.3 L853.0,552.3 L855.0,548.3 L857.0,544.3 L859.0,540.2 L861.0,536.1 L863.0,532.0 L865.0,527.8 L867.0,523.6 L869.0,519.3 L871.0,515.0 L873.0,510.7 L875.0,506.3 L877.0,502.0 L879.0,497.6 L881.0,493.1 L883.0,488.7 L885.0,484.3 L887.0,479.8 L889.0,475.4 L891.0,471.0 L893.0,466.6 L895.0,462.2 L897.0,457.8 L899.0,453.5 L901.0,449.2 L903.0,445.0 L905.0,440.9 L907.0,436.8 L909.0,432.8 L911.0,428.9 L913.0,425.1 L915.0,421.4 L917.0,417.9 L919.0,414.5 L921.0,411.2 L923.0,408.1 L925.0,405.1 L927.0,402.4 L929.0,399.8 L931.0,397.4 L933.0,395.2 L935.0,393.3 L937.0,391.6 L939.0,390.1 L941.0,388.8 L943.0,387.8 L945.0,387.1 L947.0,386.6 L949.0,386.4 L951.0,386.4 L953.0,386.8 L955.0,387.4 L957.0,388.2 L959.0,389.4 L961.0,390.8 L963.0,392.5 L965.0,394.4 L967.0,396.6 L969.0,399.1 L971.0,401.8 L973.0,404.7 L975.0,407.9 L977.0,411.3 L979.0,414.9 L981.0,418.7 L983.0,422.7 L985.0,426.8 L987.0,431.1 L989.0,435.6 L991.0,440.2 L993.0,445.0 L995.0,449.9 L997.0,454.8 L999.0,459.9 L1001.0,465.0 L1003.0,470.2 L1005.0,475.5 L1007.0,480.8 L1009.0,486.1 L1011.0,491.4 L1013.0,496.8 L1015.0,502.2 L1017.0,507.5 L1019.0,512.9 L1021.0,518.2 L1023.0,523.5 L1025.0,528.7 L1027.0,533.9 L1029.0,539.1 L1031.0,544.1 L1033.0,549.2 L1035.0,554.1 L1037.0,559.0 L1039.0,563.8 L1041.0,568.6 L1043.0,573.2 L1045.0,577.8 L1047.0,582.3 L1049.0,586.7 L1051.0,591.0 L1053.0,595.2 L1055.0,599.3 L1057.0,603.4 L1059.0,607.3 L1061.0,611.2 L1063.0,615.0 L1065.0,618.8 L1067.0,622.4 L1069.0,626.0 L1071.0,629.5 L1073.0,632.9 L1075.0,636.3 L1077.0,639.6 L1079.0,642.8 L1081.0,646.0 L1083.0,649.2 L1085.0,652.3 L1087.0,655.4 L1089.0,658.5 L1091.0,661.5 L1093.0,664.5 L1095.0,667.5 L1097.0,670.5 L1099.0,673.4 L1101.0,676.4 L1103.0,679.4 L1105.0,682.4 L1107.0,685.4 L1109.0,688.4 L1111.0,691.4 L1113.0,694.4 L1115.0,697.5 L1117.0,700.6 L1119.0,703.7 L1121.0,706.9 L1123.0,710.1 L1125.0,713.3 L1127.0,716.6 L1129.0,719.9 L1131.0,723.2 L1133.0,726.5 L1135.0,729.9 L1137.0,733.3 L1139.0,736.7 L1141.0,740.2 L1143.0,743.7 L1145.0,747.2 L1147.0,750.7 L1149.0,754.3 L1151.0,757.8 L1153.0,761.4 L1155.0,765.0 L1157.0,768.6 L1159.0,772.2 L1161.0,775.8 L1163.0,779.4 L1165.0,783.0 L1167.0,786.6 L1169.0,790.2 L1171.0,793.8 L1173.0,797.4 L1175.0,801.0 L1177.0,804.5 L1179.0,808.0 L1181.0,811.6 L1183.0,815.0 L1185.0,818.5 L1187.0,821.9 L1189.0,825.3 L1191.0,828.7 L1193.0,832.1 L1195.0,835.4 L1197.0,838.7 L1199.0,841.9 L1201.0,845.1 L1203.0,848.2 L1205.0,851.4 L1207.0,854.4 L1209.0,857.5 L1211.0,860.4 L1213.0,863.4 L1215.0,866.2 L1217.0,869.1 L1219.0,871.9 L1221.0,874.6 L1223.0,877.3 L1225.0,879.9 L1227.0,882.4 L1229.0,884.9 L1231.0,887.4 L1233.0,889.8 L1235.0,892.1 L1237.0,894.4 L1239.0,896.6 L1241.0,898.8 L1243.0,900.9 L1245.0,902.9 L1247.0,904.9 L1249.0,906.8 L1251.0,908.7 L1253.0,910.5 L1255.0,912.2 L1257.0,913.9 L1259.0,915.5 L1261.0,917.0 L1263.0,918.6 L1265.0,920.0 L1267.0,921.4 L1269.0,922.7 L1271.0,924.0 L1273.0,925.3 L1275.0,926.5 L1277.0,927.6 L1279.0,928.7 L1281.0,929.8 L1283.0,930.8 L1285.0,931.8 L1287.0,932.7 L1289.0,933.6 L1291.0,934.5 L1293.0,935.4 L1295.0,936.2 L1297.0,937.1 L1299.0,937.9 L1301.0,938.7 L1303.0,939.5 L1305.0,940.3 L1307.0,941.1 L1309.0,941.8 L1311.0,942.6 L1313.0,943.5 L1315.0,944.3 L1317.0,945.1 L1319.0,945.9 L1321.0,946.8 L1323.0,947.7 L1325.0,948.6 L1327.0,949.5 L1329.0,950.4 L1331.0,951.4 L1333.0,952.4 L1335.0,953.4 L1337.0,954.4 L1339.0,955.5 L1341.0,956.5 L1343.0,957.6 L1345.0,958.7 L1347.0,959.8 L1349.0,960.9 L1351.0,962.1 L1353.0,963.2 L1355.0,964.4 L1357.0,965.6 L1359.0,966.8 L1361.0,968.0 L1363.0,969.1 L1365.0,970.3 L1367.0,971.5 L1369.0,972.7 L1371.0,973.9 L1373.0,975.1 L1375.0,976.3 L1377.0,977.5 L1379.0,978.7 L1381.0,979.9 L1383.0,981.1 L1385.0,982.2 L1387.0,983.4 L1389.0,984.5 L1391.0,985.7 L1393.0,986.8 L1395.0,987.9 L1397.0,989.0 L1399.0,990.1 L1401.0,991.2 L1403.0,992.3 L1405.0,993.3 L1407.0,994.4 L1409.0,995.4 L1411.0,996.4 L1413.0,997.4 L1415.0,998.4 L1417.0,999.4 L1419.0,1000.4 L1421.0,1001.3 L1423.0,1002.3 L1425.0,1003.2 L1427.0,1004.1 L1429.0,1005.0 L1431.0,1005.9 L1433.0,1006.7 L1435.0,1007.6 L1437.0,1008.4 L1439.0,1009.2 L1441.0,1010.1 L1443.0,1010.9 L1445.0,1011.6 L1447.0,1012.4 L1449.0,1013.2 L1451.0,1013.9 L1453.0,1014.6 L1455.0,1015.3 L1457.0,1016.0 L1459.0,1016.7 L1461.0,1017.4 L1463.0,1018.1 L1465.0,1018.7 L1467.0,1019.3 L1469.0,1020.0 L1471.0,1020.6 L1473.0,1021.2 L1475.0,1021.8 L1477.0,1022.4 L1479.0,1022.9 L1481.0,1023.5 L1483.0,1024.0 L1485.0,1024.5 L1487.0,1025.1 L1489.0,1025.6 L1491.0,1026.1 L1493.0,1026.6 L1495.0,1027.1 L1497.0,1027.5 L1499.0,1028.0 L1501.0,1028.4 L1503.0,1028.9 L1505.0,1029.3 L1507.0,1029.7 L1509.0,1030.2 L1511.0,1030.6 L1513.0,1031.0 L1515.0,1031.3 L1517.0,1031.7 L1519.0,1032.1 L1521.0,1032.5 L1523.0,1032.8 L1525.0,1033.2 L1527.0,1033.5 L1529.0,1033.9 L1531.0,1034.2 L1533.0,1034.5 L1535.0,1034.8 L1537.0,1035.1 L1539.0,1035.5 L1541.0,1035.7 L1543.0,1036.0 L1545.0,1036.3 L1547.0,1036.6 L1549.0,1036.9 L1551.0,1037.2 L1553.0,1037.4 L1555.0,1037.7 L1557.0,1037.9 L1559.0,1038.2 L1561.0,1038.4 L1563.0,1038.7 L1565.0,1038.9 L1567.0,1039.1 L1569.0,1039.4 L1571.0,1039.6 L1573.0,1039.8 L1575.0,1040.0 L1577.0,1040.2 L1579.0,1040.4 L1581.0,1040.6 L1583.0,1040.9 L1585.0,1041.0 L1587.0,1041.2 L1589.0,1041.4 L1591.0,1041.6 L1593.0,1041.8 L1595.0,1042.0 L1597.0,1042.2 L1599.0,1042.3 L1601.0,1042.5 L1603.0,1042.7 L1605.0,1042.8 L1607.0,1043.0 L1609.0,1043.2 L1611.0,1043.3 L1613.0,1043.5 L1615.0,1043.6 L1617.0,1043.8 L1619.0,1043.9 L1621.0,1044.1 L1623.0,1044.2 L1625.0,1044.4 L1627.0,1044.5 L1629.0,1044.7 L1631.0,1044.8 L1633.0,1044.9 L1635.0,1045.1 L1637.0,1045.2 L1639.0,1045.3 L1641.0,1045.5 L1643.0,1045.6 L1645.0,1045.7 L1647.0,1045.8 L1649.0,1046.0 L1651.0,1046.1 L1653.0,1046.2 L1655.0,1046.3 L1657.0,1046.4 L1659.0,1046.6 L1661.0,1046.7 L1663.0,1046.8 L1665.0,1046.9 L1667.0,1047.0 L1669.0,1047.1 L1671.0,1047.2 L1673.0,1047.3 L1675.0,1047.4 L1677.0,1047.5 L1679.0,1047.6 L1681.0,1047.7 L1683.0,1047.8 L1685.0,1047.9 L1687.0,1048.0 L1689.0,1048.1 L1691.0,1048.2 L1693.0,1048.3 L1695.0,1048.4 L1697.0,1048.5 L1699.0,1048.6 L1701.0,1048.7 L1703.0,1048.8 L1705.0,1048.9 L1707.0,1048.9 L1709.0,1049.0 L1711.0,1049.1 L1713.0,1049.2 L1715.0,1049.3 L1717.0,1049.4 L1719.0,1049.4 L1721.0,1049.5 L1723.0,1049.6 L1725.0,1049.7 L1727.0,1049.8 L1729.0,1049.8 L1731.0,1049.9 L1733.0,1050.0 L1735.0,1050.1 L1737.0,1050.1 L1739.0,1050.2 L1741.0,1050.3 L1743.0,1050.4 L1745.0,1050.4 L1747.0,1050.5 L1749.0,1050.6 L1751.0,1050.6 L1753.0,1050.7 L1755.0,1050.8 L1757.0,1050.9 L1759.0,1050.9 L1761.0,1051.0 L1763.0,1051.1 L1765.0,1051.1 L1767.0,1051.2 L1769.0,1051.3 L1771.0,1051.3 L1773.0,1051.4 L1775.0,1051.4 L1777.0,1051.5 L1779.0,1051.6 L1781.0,1051.6 L1783.0,1051.7 L1785.0,1051.7 L1787.0,1051.8 L1789.0,1051.9 L1791.0,1051.9 L1793.0,1052.0 L1795.0,1052.0 L1797.0,1052.1 L1799.0,1052.1 L1801.0,1052.2 L1803.0,1052.3 L1805.0,1052.3 L1807.0,1052.4 L1809.0,1052.4 L1811.0,1052.5 L1813.0,1052.5 L1815.0,1052.6 L1817.0,1052.6 L1819.0,1052.7 L1821.0,1052.7 L1823.0,1052.8 L1825.0,1052.8 L1827.0,1052.9 L1829.0,1052.9 L1831.0,1053.0 L1833.0,1053.0 L1835.0,1053.1 L1837.0,1053.1 L1839.0,1053.2 L1841.0,1053.2 L1843.0,1053.3 L1845.0,1053.3 L1847.0,1053.4" stroke="#000"/>
<path d="M127.0,996.0 L129.0,996.0 L131.0,996.0 L133.0,995.9 L135.0,995.9 L137.0,995.9 L139.0,995.9 L141.0,995.9 L143.0,995.9 L145.0,995.8 L147.0,995.8 L149.0,995.8 L151.0,995.8 L153.0,995.8 L155.0,995.8 L157.0,995.7 L159.0,995.7 L161.0,995.7 L163.0,995.7 L165.0,995.6 L167.0,995.6 L169.0,995.6 L171.0,995.6 L173.0,995.6 L175.0,995.5 L177.0,995.5 L179.0,995.5 L181.0,995.4 L183.0,995.4 L185.0,995.4 L187.0,995.4 L189.0,995.3 L191.0,995.3 L193.0,995.3 L195.0,995.2 L197.0,995.2 L199.0,995.2 L201.0,995.1 L203.0,995.1 L205.0,995.0 L207.0,995.0 L209.0,994.9 L211.0,994.9 L213.0,994.9 L215.0,994.8 L217.0,994.8 L219.0,994.7 L221.0,994.7 L223.0,994.6 L225.0,994.5 L227.0,994.5 L229.0,994.4 L231.0,994.4 L233.0,994.3 L235.0,994.2 L237.0,994.2 L239.0,994.1 L241.0,994.0 L243.0,993.9 L245.0,993.8 L247.0,993.8 L249.0,993.7 L251.0,993.6 L253.0,993.5 L255.0,993.4 L257.0,993.3 L259.0,993.2 L261.0,993.1 L263.0,993.0 L265.0,992.9 L267.0,992.7 L269.0,992.6 L271.0,992.5 L273.0,992.4 L275.0,992.2 L277.0,992.1 L279.0,991.9 L281.0,991.8 L283.0,991.6 L285.0,991.5 L287.0,991.3 L289.0,991.1 L291.0,990.9 L293.0,990.7 L295.0,990.6 L297.0,990.4 L299.0,990.2 L301.0,989.9 L303.0,989.7 L305.0,989.5 L307.0,989.3 L309.0,989.0 L311.0,988.8 L313.0,988.5 L315.0,988.3 L317.0,988.0 L319.0,987.7 L321.0,987.5 L323.0,987.2 L325.0,986.9 L327.0,986.6 L329.0,986.3 L331.0,985.9 L333.0,985.6 L335.0,985.3 L337.0,984.9 L339.0,984.6 L341.0,984.2 L343.0,983.8 L345.0,983.4 L347.0,983.1 L349.0,982.7 L351.0,982.3 L353.0,981.8 L355.0,981.4 L357.0,981.0 L359.0,980.5 L361.0,980.1 L363.0,979.6 L365.0,979.2 L367.0,978.7 L369.0,978.2 L371.0,977.7 L373.0,977.2 L375.0,976.7 L377.0,976.2 L379.0,975.7 L381.0,975.2 L383.0,974.7 L385.0,974.1 L387.0,973.6 L389.0,973.0 L391.0,972.5 L393.0,971.9 L395.0,971.4 L397.0,970.8 L399.0,970.2 L401.0,969.6 L403.0,969.1 L405.0,968.5 L407.0,967.9 L409.0,967.3 L411.0,966.7 L413.0,966.1 L415.0,965.5 L417.0,965.0 L419.0,964.4 L421.0,963.8 L423.0,963.2 L425.0,962.6 L427.0,962.0 L429.0,961.5 L431.0,960.9 L433.0,960.3 L435.0,959.8 L437.0,959.2 L439.0,958.7 L441.0,958.1 L443.0,957.6 L445.0,957.1 L447.0,956.6 L449.0,956.1 L451.0,955.6 L453.0,955.2 L455.0,954.7 L457.0,954.3 L459.0,953.9 L461.0,953.5 L463.0,953.1 L465.0,952.7 L467.0,952.4 L469.0,952.1 L471.0,951.8 L473.0,951.6 L475.0,951.3 L477.0,951.1 L479.0,950.9 L481.0,950.8 L483.0,950.7 L485.0,950.6 L487.0,950.5 L489.0,950.5 L491.0,950.5 L493.0,950.5 L495.0,950.6 L497.0,950.6 L499.0,950.8 L501.0,950.9 L503.0,951.1 L505.0,951.3 L507.0,951.6 L509.0,951.9 L511.0,952.2 L513.0,952.5 L515.0,952.9 L517.0,953.3 L519.0,953.7 L521.0,954.1 L523.0,954.6 L525.0,955.1 L527.0,955.6 L529.0,956.1 L531.0,956.7 L533.0,957.2 L535.0,957.8 L537.0,958.4 L539.0,959.1 L541.0,959.7 L543.0,960.3 L545.0,961.0 L547.0,961.7 L549.0,962.3 L551.0,963.0 L553.0,963.7 L555.0,964.4 L557.0,965.1 L559.0,965.8 L561.0,966.5 L563.0,967.2 L565.0,967.9 L567.0,968.6 L569.0,969.3 L571.0,970.0 L573.0,970.7 L575.0,971.4 L577.0,972.1 L579.0,972.8 L581.0,973.5 L583.0,974.2 L585.0,974.9 L587.0,975.5 L589.0,976.2 L591.0,976.9 L593.0,977.5 L595.0,978.1 L597.0,978.8 L599.0,979.4 L601.0,980.0 L603.0,980.6 L605.0,981.2 L607.0,981.8 L609.0,982.4 L611.0,982.9 L613.0,983.5 L615.0,984.0 L617.0,984.6 L619.0,985.1 L621.0,985.6 L623.0,986.1 L625.0,986.6 L627.0,987.1 L629.0,987.6 L631.0,988.0 L633.0,988.5 L635.0,988.9 L637.0,989.3 L639.0,989.8 L641.0,990.2 L643.0,990.6 L645.0,991.0 L647.0,991.4 L649.0,991.7 L651.0,992.1 L653.0,992.5 L655.0,992.8 L657.0,993.2 L659.0,993.5 L661.0,993.8 L663.0,994.1 L665.0,994.4 L667.0,994.8 L669.0,995.0 L671.0,995.3 L673.0,995.6 L675.0,995.9 L677.0,996.2 L679.0,996.4 L681.0,996.7 L683.0,996.9 L685.0,997.2 L687.0,997.4 L689.0,997.6 L691.0,997.9 L693.0,998.1 L695.0,998.3 L697.0,998.5 L699.0,998.7 L701.0,998.9 L703.0,999.1 L705.0,999.3 L707.0,999.5 L709.0,999.7 L711.0,999.9 L713.0,1000.1 L715.0,1000.3 L717.0,1000.5 L719.0,1000.7 L721.0,1000.8 L723.0,1001.0 L725.0,1001.2 L727.0,1001.4 L729.0,1001.5 L731.0,1001.7 L733.0,1001.9 L735.0,1002.1 L737.0,1002.2 L739.0,1002.4 L741.0,1002.6 L743.0,1002.7 L745.0,1002.9 L747.0,1003.1 L749.0,1003.2 L751.0,1003.4 L753.0,1003.6 L755.0,1003.7 L757.0,1003.9 L759.0,1004.1 L761.0,1004.3 L763.0,1004.4 L765.0,1004.6 L767.0,1004.8 L769.0,1005.0 L771.0,1005.1 L773.0,1005.3 L775.0,1005.5 L777.0,1005.7 L779.0,1005.8 L781.0,1006.0 L783.0,1006.2 L785.0,1006.4 L787.0,1006.6 L789.0,1006.8 L791.0,1007.0 L793.0,1007.2 L795.0,1007.3 L797.0,1007.5 L799.0,1007.7 L801.0,1007.9 L803.0,1008.1 L805.0,1008.3 L807.0,1008.5 L809.0,1008.7 L811.0,1008.9 L813.0,1009.1 L815.0,1009.3 L817.0,1009.5 L819.0,1009.8 L821.0,1010.0 L823.0,1010.2 L825.0,1010.4 L827.0,1010.6 L829.0,1010.8 L831.0,1011.0 L833.0,1011.2 L835.0,1011.5 L837.0,1011.7 L839.0,1011.9 L841.0,1012.1 L843.0,1012.4 L845.0,1012.6 L847.0,1012.8 L849.0,1013.0 L851.0,1013.3 L853.0,1013.5 L855.0,1013.7 L857.0,1014.0 L859.0,1014.2 L861.0,1014.5 L863.0,1014.7 L865.0,1015.0 L867.0,1015.2 L869.0,1015.4 L871.0,1015.7 L873.0,1016.0 L875.0,1016.2 L877.0,1016.5 L879.0,1016.7 L881.0,1017.0 L883.0,1017.2 L885.0,1017.5 L887.0,1017.8 L889.0,1018.0 L891.0,1018.3 L893.0,1018.6 L895.0,1018.9 L897.0,1019.1 L899.0,1019.4 L901.0,1019.7 L903.0,1020.0 L905.0,1020.3 L907.0,1020.5 L909.0,1020.8 L911.0,1021.1 L913.0,1021.4 L915.0,1021.7 L917.0,1022.0 L919.0,1022.3 L921.0,1022.6 L923.0,1022.9 L925.0,1023.2 L927.0,1023.5 L929.0,1023.8 L931.0,1024.1 L933.0,1024.4 L935.0,1024.7 L937.0,1025.0 L939.0,1025.3 L941.0,1025.6 L943.0,1026.0 L945.0,1026.3 L947.0,1026.6 L949.0,1026.9 L951.0,1027.2 L953.0,1027.5 L955.0,1027.8 L957.0,1028.1 L959.0,1028.4 L961.0,1028.8 L963.0,1029.1 L965.0,1029.4 L967.0,1029.7 L969.0,1030.0 L971.0,1030.3 L973.0,1030.6 L975.0,1030.9 L977.0,1031.2 L979.0,1031.5 L981.0,1031.8 L983.0,1032.1 L985.0,1032.4 L987.0,1032.7 L989.0,1033.0 L991.0,1033.3 L993.0,1033.5 L995.0,1033.8 L997.0,1034.1 L999.0,1034.4 L1001.0,1034.7 L1003.0,1034.9 L1005.0,1035.2 L1007.0,1035.5 L1009.0,1035.8 L1011.0,1036.0 L1013.0,1036.3 L1015.0,1036.5 L1017.0,1036.8 L1019.0,1037.1 L1021.0,1037.3 L1023.0,1037.6 L1025.0,1037.8 L1027.0,1038.1 L1029.0,1038.3 L1031.0,1038.5 L1033.0,1038.8 L1035.0,1039.0 L1037.0,1039.2 L1039.0,1039.5 L1041.0,1039.7 L1043.0,1039.9 L1045.0,1040.2 L1047.0,1040.4 L1049.0,1040.6 L1051.0,1040.8 L1053.0,1041.0 L1055.0,1041.3 L1057.0,1041.5 L1059.0,1041.7 L1061.0,1041.9 L1063.0,1042.1 L1065.0,1042.3 L1067.0,1042.5 L1069.0,1042.7 L1071.0,1042.9 L1073.0,1043.1 L1075.0,1043.3 L1077.0,1043.5 L1079.0,1043.7 L1081.0,1043.9 L1083.0,1044.1 L1085.0,1044.3 L1087.0,1044.5 L1089.0,1044.7 L1091.0,1044.8 L1093.0,1045.0 L1095.0,1045.2 L1097.0,1045.4 L1099.0,1045.6 L1101.0,1045.8 L1103.0,1045.9 L1105.0,1046.1 L1107.0,1046.3 L1109.0,1046.5 L1111.0,1046.6 L1113.0,1046.8 L1115.0,1047.0 L1117.0,1047.1 L1119.0,1047.3 L1121.0,1047.5 L1123.0,1047.6 L1125.0,1047.8 L1127.0,1048.0 L1129.0,1048.1 L1131.0,1048.3 L1133.0,1048.4 L1135.0,1048.6 L1137.0,1048.7 L1139.0,1048.9 L1141.0,1049.0 L1143.0,1049.2 L1145.0,1049.3 L1147.0,1049.5 L1149.0,1049.6 L1151.0,1049.8 L1153.0,1049.9 L1155.0,1050.0 L1157.0,1050.2 L1159.0,1050.3 L1161.0,1050.5 L1163.0,1050.6 L1165.0,1050.7 L1167.0,1050.8 L1169.0,1051.0 L1171.0,1051.1 L1173.0,1051.2 L1175.0,1051.3 L1177.0,1051.5 L1179.0,1051.6 L1181.0,1051.7 L1183.0,1051.8 L1185.0,1051.9 L1187.0,1052.0 L1189.0,1052.2 L1191.0,1052.3 L1193.0,1052.4 L1195.0,1052.5 L1197.0,1052.6 L1199.0,1052.7 L1201.0,1052.8 L1203.0,1052.9 L1205.0,1053.0 L1207.0,1053.1 L1209.0,1053.2 L1211.0,1053.3 L1213.0,1053.4 L1215.0,1053.5 L1217.0,1053.6 L1219.0,1053.6 L1221.0,1053.7 L1223.0,1053.8 L1225.0,1053.9 L1227.0,1054.0 L1229.0,1054.1 L1231.0,1054.2 L1233.0,1054.2 L1235.0,1054.3 L1237.0,1054.4 L1239.0,1054.5 L1241.0,1054.5 L1243.0,1054.6 L1245.0,1054.7 L1247.0,1054.8 L1249.0,1054.8 L1251.0,1054.9 L1253.0,1055.0 L1255.0,1055.1 L1257.0,1055.1 L1259.0,1055.2 L1261.0,1055.3 L1263.0,1055.3 L1265.0,1055.4 L1267.0,1055.5 L1269.0,1055.5 L1271.0,1055.6 L1273.0,1055.7 L1275.0,1055.7 L1277.0,1055.8 L1279.0,1055.8 L1281.0,1055.9 L1283.0,1056.0 L1285.0,1056.0 L1287.0,1056.1 L1289.0,1056.1 L1291.0,1056.2 L1293.0,1056.3 L1295.0,1056.3 L1297.0,1056.4 L1299.0,1056.4 L1301.0,1056.5 L1303.0,1056.6 L1305.0,1056.6 L1307.0,1056.7 L1309.0,1056.7 L1311.0,1056.8 L1313.0,1056.8 L1315.0,1056.9 L1317.0,1056.9 L1319.0,1057.0 L1321.0,1057.1 L1323.0,1057.1 L1325.0,1057.2 L1327.0,1057.2 L1329.0,1057.3 L1331.0,1057.3 L1333.0,1057.4 L1335.0,1057.4 L1337.0,1057.5 L1339.0,1057.5 L1341.0,1057.6 L1343.0,1057.6 L1345.0,1057.7 L1347.0,1057.7 L1349.0,1057.8 L1351.0,1057.8 L1353.0,1057.9 L1355.0,1057.9 L1357.0,1058.0 L1359.0,1058.0 L1361.0,1058.0 L1363.0,1058.1 L1365.0,1058.1 L1367.0,1058.2 L1369.0,1058.2 L1371.0,1058.3 L1373.0,1058.3 L1375.0,1058.3 L1377.0,1058.4 L1379.0,1058.4 L1381.0,1058.5 L1383.0,1058.5 L1385.0,1058.5 L1387.0,1058.6 L1389.0,1058.6 L1391.0,1058.6 L1393.0,1058.7 L1395.0,1058.7 L1397.0,1058.7 L1399.0,1058.8 L1401.0,1058.8 L1403.0,1058.8 L1405.0,1058.9 L1407.0,1058.9 L1409.0,1058.9 L1411.0,1059.0 L1413.0,1059.0 L1415.0,1059.0 L1417.0,1059.1 L1419.0,1059.1 L1421.0,1059.1 L1423.0,1059.2 L1425.0,1059.2 L1427.0,1059.2 L1429.0,1059.2 L1431.0,1059.3 L1433.0,1059.3 L1435.0,1059.3 L1437.0,1059.3 L1439.0,1059.4 L1441.0,1059.4 L1443.0,1059.4 L1445.0,1059.4 L1447.0,1059.5 L1449.0,1059.5 L1451.0,1059.5 L1453.0,1059.5 L1455.0,1059.6 L1457.0,1059.6 L1459.0,1059.6 L1461.0,1059.6 L1463.0,1059.6 L1465.0,1059.7 L1467.0,1059.7 L1469.0,1059.7 L1471.0,1059.7 L1473.0,1059.7 L1475.0,1059.8 L1477.0,1059.8 L1479.0,1059.8 L1481.0,1059.8 L1483.0,1059.8 L1485.0,1059.8 L1487.0,1059.9 L1489.0,1059.9 L1491.0,1059.9 L1493.0,1059.9 L1495.0,1059.9 L1497.0,1059.9 L1499.0,1060.0 L1501.0,1060.0 L1503.0,1060.0 L1505.0,1060.0 L1507.0,1060.0 L1509.0,1060.0 L1511.0,1060.1 L1513.0,1060.1 L1515.0,1060.1 L1517.0,1060.1 L1519.0,1060.1 L1521.0,1060.1 L1523.0,1060.1 L1525.0,1060.2 L1527.0,1060.2 L1529.0,1060.2 L1531.0,1060.2 L1533.0,1060.2 L1535.0,1060.2 L1537.0,1060.2 L1539.0,1060.3 L1541.0,1060.3 L1543.0,1060.3 L1545.0,1060.3 L1547.0,1060.3 L1549.0,1060.3 L1551.0,1060.3 L1553.0,1060.3 L1555.0,1060.3 L1557.0,1060.4 L1559.0,1060.4 L1561.0,1060.4 L1563.0,1060.4 L1565.0,1060.4 L1567.0,1060.4 L1569.0,1060.4 L1571.0,1060.4 L1573.0,1060.4 L1575.0,1060.5 L1577.0,1060.5 L1579.0,1060.5 L1581.0,1060.5 L1583.0,1060.5 L1585.0,1060.5 L1587.0,1060.5 L1589.0,1060.5 L1591.0,1060.5 L1593.0,1060.5 L1595.0,1060.6 L1597.0,1060.6 L1599.0,1060.6 L1601.0,1060.6 L1603.0,1060.6 L1605.0,1060.6 L1607.0,1060.6 L1609.0,1060.6 L1611.0,1060.6 L1613.0,1060.6 L1615.0,1060.6 L1617.0,1060.7 L1619.0,1060.7 L1621.0,1060.7 L1623.0,1060.7 L1625.0,1060.7 L1627.0,1060.7 L1629.0,1060.7 L1631.0,1060.7 L1633.0,1060.7 L1635.0,1060.7 L1637.0,1060.7 L1639.0,1060.7 L1641.0,1060.8 L1643.0,1060.8 L1645.0,1060.8 L1647.0,1060.8 L1649.0,1060.8 L1651.0,1060.8 L1653.0,1060.8 L1655.0,1060.8 L1657.0,1060.8 L1659.0,1060.8 L1661.0,1060.8 L1663.0,1060.8 L1665.0,1060.8 L1667.0,1060.9 L1669.0,1060.9 L1671.0,1060.9 L1673.0,1060.9 L1675.0,1060.9 L1677.0,1060.9 L1679.0,1060.9 L1681.0,1060.9 L1683.0,1060.9 L1685.0,1060.9 L1687.0,1060.9 L1689.0,1060.9 L1691.0,1060.9 L1693.0,1060.9 L1695.0,1060.9 L1697.0,1061.0 L1699.0,1061.0 L1701.0,1061.0 L1703.0,1061.0 L1705.0,1061.0 L1707.0,1061.0 L1709.0,1061.0 L1711.0,1061.0 L1713.0,1061.0 L1715.0,1061.0 L1717.0,1061.0 L1719.0,1061.0 L1721.0,1061.0 L1723.0,1061.0 L1725.0,1061.0 L1727.0,1061.0 L1729.0,1061.1 L1731.0,1061.1 L1733.0,1061.1 L1735.0,1061.1 L1737.0,1061.1 L1739.0,1061.1 L1741.0,1061.1 L1743.0,1061.1 L1745.0,1061.1 L1747.0,1061.1 L1749.0,1061.1 L1751.0,1061.1 L1753.0,1061.1 L1755.0,1061.1 L1757.0,1061.1 L1759.0,1061.1 L1761.0,1061.1 L1763.0,1061.1 L1765.0,1061.2 L1767.0,1061.2 L1769.0,1061.2 L1771.0,1061.2 L1773.0,1061.2 L1775.0,1061.2 L1777.0,1061.2 L1779.0,1061.2 L1781.0,1061.2 L1783.0,1061.2 L1785.0,1061.2 L1787.0,1061.2 L1789.0,1061.2 L1791.0,1061.2 L1793.0,1061.2 L1795.0,1061.2 L1797.0,1061.2 L1799.0,1061.2 L1801.0,1061.2 L1803.0,1061.2 L1805.0,1061.3 L1807.0,1061.3 L1809.0,1061.3 L1811.0,1061.3 L1813.0,1061.3 L1815.0,1061.3 L1817.0,1061.3 L1819.0,1061.3 L1821.0,1061.3 L1823.0,1061.3 L1825.0,1061.3 L1827.0,1061.3 L1829.0,1061.3 L1831.0,1061.3 L1833.0,1061.3 L1835.0,1061.3 L1837.0,1061.3 L1839.0,1061.3 L1841.0,1061.3 L1843.0,1061.3 L1845.0,1061.3 L1847.0,1061.3" stroke="#000"/>
<path d="M127.0,995.9 L129.0,995.9 L131.0,995.9 L133.0,995.9 L135.0,995.9 L137.0,995.9 L139.0,995.9 L141.0,995.9 L143.0,995.9 L145.0,995.9 L147.0,995.9 L149.0,995.9 L151.0,995.9 L153.0,995.9 L155.0,995.8 L157.0,995.8 L159.0,995.8 L161.0,995.8 L163.0,995.8 L165.0,995.8 L167.0,995.8 L169.0,995.8 L171.0,995.8 L173.0,995.8 L175.0,995.8 L177.0,995.8 L179.0,995.7 L181.0,995.7 L183.0,995.7 L185.0,995.7 L187.0,995.7 L189.0,995.7 L191.0,995.7 L193.0,995.7 L195.0,995.7 L197.0,995.7 L199.0,995.7 L201.0,995.6 L203.0,995.6 L205.0,995.6 L207.0,995.6 L209.0,995.6 L211.0,995.6 L213.0,995.6 L215.0,995.6 L217.0,995.6 L219.0,995.6 L221.0,995.5 L223.0,995.5 L225.0,995.5 L227.0,995.5 L229.0,995.5 L231.0,995.5 L233.0,995.5 L235.0,995.5 L237.0,995.5 L239.0,995.4 L241.0,995.4 L243.0,995.4 L245.0,995.4 L247.0,995.4 L249.0,995.4 L251.0,995.4 L253.0,995.4 L255.0,995.3 L257.0,995.3 L259.0,995.3 L261.0,995.3 L263.0,995.3 L265.0,995.3 L267.0,995.3 L269.0,995.3 L271.0,995.2 L273.0,995.2 L275.0,995.2 L277.0,995.2 L279.0,995.2 L281.0,995.2 L283.0,995.1 L285.0,995.1 L287.0,995.1 L289.0,995.1 L291.0,995.1 L293.0,995.1 L295.0,995.1 L297.0,995.0 L299.0,995.0 L301.0,995.0 L303.0,995.0 L305.0,995.0 L307.0,995.0 L309.0,994.9 L311.0,994.9 L313.0,994.9 L315.0,994.9 L317.0,994.9 L319.0,994.9 L321.0,994.8 L323.0,994.8 L325.0,994.8 L327.0,994.8 L329.0,994.8 L331.0,994.7 L333.0,994.7 L335.0,994.7 L337.0,994.7 L339.0,994.7 L341.0,994.7 L343.0,994.6 L345.0,994.6 L347.0,994.6 L349.0,994.6 L351.0,994.6 L353.0,994.5 L355.0,994.5 L357.0,994.5 L359.0,994.5 L361.0,994.4 L363.0,994.4 L365.0,994.4 L367.0,994.4 L369.0,994.4 L371.0,994.3 L373.0,994.3 L375.0,994.3 L377.0,994.3 L379.0,994.2 L381.0,994.2 L383.0,994.2 L385.0,994.2 L387.0,994.1 L389.0,994.1 L391.0,994.1 L393.0,994.1 L395.0,994.0 L397.0,994.0 L399.0,994.0 L401.0,994.0 L403.0,993.9 L405.0,993.9 L407.0,993.9 L409.0,993.9 L411.0,993.8 L413.0,993.8 L415.0,993.8 L417.0,993.7 L419.0,993.7 L421.0,993.7 L423.0,993.7 L425.0,993.6 L427.0,993.6 L429.0,993.6 L431.0,993.5 L433.0,993.5 L435.0,993.5 L437.0,993.4 L439.0,993.4 L441.0,993.3 L443.0,993.3 L445.0,993.3 L447.0,993.2 L449.0,993.2 L451.0,993.2 L453.0,993.1 L455.0,993.1 L457.0,993.0 L459.0,993.0 L461.0,992.9 L463.0,992.9 L465.0,992.9 L467.0,992.8 L469.0,992.8 L471.0,992.7 L473.0,992.7 L475.0,992.6 L477.0,992.6 L479.0,992.5 L481.0,992.4 L483.0,992.4 L485.0,992.3 L487.0,992.3 L489.0,992.2 L491.0,992.1 L493.0,992.1 L495.0,992.0 L497.0,991.9 L499.0,991.9 L501.0,991.8 L503.0,991.7 L505.0,991.6 L507.0,991.6 L509.0,991.5 L511.0,991.4 L513.0,991.3 L515.0,991.2 L517.0,991.1 L519.0,991.0 L521.0,990.9 L523.0,990.8 L525.0,990.7 L527.0,990.6 L529.0,990.5 L531.0,990.4 L533.0,990.3 L535.0,990.1 L537.0,990.0 L539.0,989.9 L541.0,989.7 L543.0,989.6 L545.0,989.4 L547.0,989.3 L549.0,989.1 L551.0,988.9 L553.0,988.8 L555.0,988.6 L557.0,988.4 L559.0,988.2 L561.0,988.0 L563.0,987.8 L565.0,987.6 L567.0,987.4 L569.0,987.1 L571.0,986.9 L573.0,986.6 L575.0,986.4 L577.0,986.1 L579.0,985.8 L581.0,985.5 L583.0,985.2 L585.0,984.9 L587.0,984.6 L589.0,984.2 L591.0,983.8 L593.0,983.5 L595.0,983.1 L597.0,982.7 L599.0,982.3 L601.0,981.8 L603.0,981.4 L605.0,980.9 L607.0,980.4 L609.0,979.9 L611.0,979.3 L613.0,978.8 L615.0,978.2 L617.0,977.6 L619.0,977.0 L621.0,976.3 L623.0,975.7 L625.0,975.0 L627.0,974.2 L629.0,973.5 L631.0,972.7 L633.0,971.9 L635.0,971.0 L637.0,970.2 L639.0,969.2 L641.0,968.3 L643.0,967.3 L645.0,966.3 L647.0,965.3 L649.0,964.2 L651.0,963.1 L653.0,961.9 L655.0,960.7 L657.0,959.5 L659.0,958.2 L661.0,956.9 L663.0,955.5 L665.0,954.1 L667.0,952.6 L669.0,951.2 L671.0,949.6 L673.0,948.0 L675.0,946.4 L677.0,944.7 L679.0,943.0 L681.0,941.3 L683.0,939.5 L685.0,937.6 L687.0,935.7 L689.0,933.7 L691.0,931.7 L693.0,929.7 L695.0,927.6 L697.0,925.5 L699.0,923.3 L701.0,921.1 L703.0,918.8 L705.0,916.5 L707.0,914.2 L709.0,911.8 L711.0,909.4 L713.0,906.9 L715.0,904.4 L717.0,901.9 L719.0,899.3 L721.0,896.7 L723.0,894.1 L725.0,891.4 L727.0,888.7 L729.0,886.0 L731.0,883.3 L733.0,880.6 L735.0,877.9 L737.0,875.1 L739.0,872.4 L741.0,869.7 L743.0,866.9 L745.0,864.2 L747.0,861.5 L749.0,858.8 L751.0,856.2 L753.0,853.5 L755.0,851.0 L757.0,848.4 L759.0,846.0 L761.0,843.5 L763.0,841.2 L765.0,838.9 L767.0,836.7 L769.0,834.5 L771.0,832.5 L773.0,830.6 L775.0,828.7 L777.0,827.0 L779.0,825.4 L781.0,823.9 L783.0,822.6 L785.0,821.4 L787.0,820.3 L789.0,819.3 L791.0,818.5 L793.0,817.9 L795.0,817.4 L797.0,817.0 L799.0,816.8 L801.0,816.8 L803.0,816.9 L805.0,817.1 L807.0,817.5 L809.0,818.1 L811.0,818.8 L813.0,819.6 L815.0,820.6 L817.0,821.7 L819.0,822.9 L821.0,824.3 L823.0,825.7 L825.0,827.3 L827.0,829.0 L829.0,830.8 L831.0,832.7 L833.0,834.7 L835.0,836.8 L837.0,838.9 L839.0,841.2 L841.0,843.5 L843.0,845.8 L845.0,848.3 L847.0,850.7 L849.0,853.3 L851.0,855.8 L853.0,858.5 L855.0,861.1 L857.0,863.8 L859.0,866.5 L861.0,869.2 L863.0,871.9 L865.0,874.7 L867.0,877.5 L869.0,880.2 L871.0,883.0 L873.0,885.8 L875.0,888.6 L877.0,891.3 L879.0,894.1 L881.0,896.9 L883.0,899.6 L885.0,902.3 L887.0,905.1 L889.0,907.8 L891.0,910.4 L893.0,913.1 L895.0,915.7 L897.0,918.3 L899.0,920.9 L901.0,923.5 L903.0,926.0 L905.0,928.5 L907.0,931.0 L909.0,933.4 L911.0,935.9 L913.0,938.2 L915.0,940.6 L917.0,942.9 L919.0,945.2 L921.0,947.4 L923.0,949.6 L925.0,951.8 L927.0,954.0 L929.0,956.1 L931.0,958.1 L933.0,960.2 L935.0,962.2 L937.0,964.1 L939.0,966.0 L941.0,967.9 L943.0,969.8 L945.0,971.6 L947.0,973.3 L949.0,975.1 L951.0,976.8 L953.0,978.5 L955.0,980.1 L957.0,981.7 L959.0,983.2 L961.0,984.8 L963.0,986.3 L965.0,987.7 L967.0,989.1 L969.0,990.5 L971.0,991.9 L973.0,993.2 L975.0,994.5 L977.0,995.8 L979.0,997.0 L981.0,998.2 L983.0,999.4 L985.0,1000.5 L987.0,1001.6 L989.0,1002.7 L991.0,1003.8 L993.0,1004.8 L995.0,1005.8 L997.0,1006.8 L999.0,1007.8 L1001.0,1008.7 L1003.0,1009.6 L1005.0,1010.5 L1007.0,1011.4 L1009.0,1012.2 L1011.0,1013.0 L1013.0,1013.8 L1015.0,1014.6 L1017.0,1015.3 L1019.0,1016.1 L1021.0,1016.8 L1023.0,1017.5 L1025.0,1018.2 L1027.0,1018.9 L1029.0,1019.5 L1031.0,1020.1 L1033.0,1020.8 L1035.0,1021.4 L1037.0,1022.0 L1039.0,1022.5 L1041.0,1023.1 L1043.0,1023.6 L1045.0,1024.2 L1047.0,1024.7 L1049.0,1025.2 L1051.0,1025.7 L1053.0,1026.2 L1055.0,1026.7 L1057.0,1027.2 L1059.0,1027.6 L1061.0,1028.1 L1063.0,1028.5 L1065.0,1029.0 L1067.0,1029.4 L1069.0,1029.8 L1071.0,1030.2 L1073.0,1030.6 L1075.0,1031.0 L1077.0,1031.4 L1079.0,1031.8 L1081.0,1032.1 L1083.0,1032.5 L1085.0,1032.9 L1087.0,1033.2 L1089.0,1033.6 L1091.0,1033.9 L1093.0,1034.3 L1095.0,1034.6 L1097.0,1034.9 L1099.0,1035.3 L1101.0,1035.6 L1103.0,1035.9 L1105.0,1036.2 L1107.0,1036.5 L1109.0,1036.8 L1111.0,1037.1 L1113.0,1037.4 L1115.0,1037.7 L1117.0,1038.0 L1119.0,1038.3 L1121.0,1038.5 L1123.0,1038.8 L1125.0,1039.1 L1127.0,1039.3 L1129.0,1039.6 L1131.0,1039.9 L1133.0,1040.1 L1135.0,1040.4 L1137.0,1040.6 L1139.0,1040.9 L1141.0,1041.1 L1143.0,1041.3 L1145.0,1041.6 L1147.0,1041.8 L1149.0,1042.0 L1151.0,1042.3 L1153.0,1042.5 L1155.0,1042.7 L1157.0,1042.9 L1159.0,1043.1 L1161.0,1043.4 L1163.0,1043.6 L1165.0,1043.8 L1167.0,1044.0 L1169.0,1044.2 L1171.0,1044.4 L1173.0,1044.6 L1175.0,1044.8 L1177.0,1044.9 L1179.0,1045.1 L1181.0,1045.3 L1183.0,1045.5 L1185.0,1045.7 L1187.0,1045.9 L1189.0,1046.0 L1191.0,1046.2 L1193.0,1046.4 L1195.0,1046.5 L1197.0,1046.7 L1199.0,1046.9 L1201.0,1047.0 L1203.0,1047.2 L1205.0,1047.3 L1207.0,1047.5 L1209.0,1047.6 L1211.0,1047.8 L1213.0,1047.9 L1215.0,1048.1 L1217.0,1048.2 L1219.0,1048.3 L1221.0,1048.5 L1223.0,1048.6 L1225.0,1048.7 L1227.0,1048.9 L1229.0,1049.0 L1231.0,1049.1 L1233.0,1049.3 L1235.0,1049.4 L1237.0,1049.5 L1239.0,1049.6 L1241.0,1049.8 L1243.0,1049.9 L1245.0,1050.0 L1247.0,1050.1 L1249.0,1050.2 L1251.0,1050.3 L1253.0,1050.4 L1255.0,1050.6 L1257.0,1050.7 L1259.0,1050.8 L1261.0,1050.9 L1263.0,1051.0 L1265.0,1051.1 L1267.0,1051.2 L1269.0,1051.3 L1271.0,1051.4 L1273.0,1051.5 L1275.0,1051.6 L1277.0,1051.7 L1279.0,1051.8 L1281.0,1051.9 L1283.0,1052.0 L1285.0,1052.1 L1287.0,1052.2 L1289.0,1052.2 L1291.0,1052.3 L1293.0,1052.4 L1295.0,1052.5 L1297.0,1052.6 L1299.0,1052.7 L1301.0,1052.8 L1303.0,1052.9 L1305.0,1053.0 L1307.0,1053.0 L1309.0,1053.1 L1311.0,1053.2 L1313.0,1053.3 L1315.0,1053.4 L1317.0,1053.5 L1319.0,1053.5 L1321.0,1053.6 L1323.0,1053.7 L1325.0,1053.8 L1327.0,1053.9 L1329.0,1053.9 L1331.0,1054.0 L1333.0,1054.1 L1335.0,1054.2 L1337.0,1054.2 L1339.0,1054.3 L1341.0,1054.4 L1343.0,1054.5 L1345.0,1054.5 L1347.0,1054.6 L1349.0,1054.7 L1351.0,1054.7 L1353.0,1054.8 L1355.0,1054.9 L1357.0,1054.9 L1359.0,1055.0 L1361.0,1055.1 L1363.0,1055.1 L1365.0,1055.2 L1367.0,1055.3 L1369.0,1055.3 L1371.0,1055.4 L1373.0,1055.5 L1375.0,1055.5 L1377.0,1055.6 L1379.0,1055.6 L1381.0,1055.7 L1383.0,1055.8 L1385.0,1055.8 L1387.0,1055.9 L1389.0,1055.9 L1391.0,1056.0 L1393.0,1056.0 L1395.0,1056.1 L1397.0,1056.1 L1399.0,1056.2 L1401.0,1056.2 L1403.0,1056.3 L1405.0,1056.3 L1407.0,1056.4 L1409.0,1056.4 L1411.0,1056.5 L1413.0,1056.5 L1415.0,1056.6 L1417.0,1056.6 L1419.0,1056.7 L1421.0,1056.7 L1423.0,1056.8 L1425.0,1056.8 L1427.0,1056.8 L1429.0,1056.9 L1431.0,1056.9 L1433.0,1057.0 L1435.0,1057.0 L1437.0,1057.0 L1439.0,1057.1 L1441.0,1057.1 L1443.0,1057.2 L1445.0,1057.2 L1447.0,1057.2 L1449.0,1057.3 L1451.0,1057.3 L1453.0,1057.3 L1455.0,1057.4 L1457.0,1057.4 L1459.0,1057.5 L1461.0,1057.5 L1463.0,1057.5 L1465.0,1057.6 L1467.0,1057.6 L1469.0,1057.6 L1471.0,1057.7 L1473.0,1057.7 L1475.0,1057.7 L1477.0,1057.7 L1479.0,1057.8 L1481.0,1057.8 L1483.0,1057.8 L1485.0,1057.9 L1487.0,1057.9 L1489.0,1057.9 L1491.0,1058.0 L1493.0,1058.0 L1495.0,1058.0 L1497.0,1058.0 L1499.0,1058.1 L1501.0,1058.1 L1503.0,1058.1 L1505.0,1058.1 L1507.0,1058.2 L1509.0,1058.2 L1511.0,1058.2 L1513.0,1058.3 L1515.0,1058.3 L1517.0,1058.3 L1519.0,1058.3 L1521.0,1058.3 L1523.0,1058.4 L1525.0,1058.4 L1527.0,1058.4 L1529.0,1058.4 L1531.0,1058.5 L1533.0,1058.5 L1535.0,1058.5 L1537.0,1058.5 L1539.0,1058.6 L1541.0,1058.6 L1543.0,1058.6 L1545.0,1058.6 L1547.0,1058.6 L1549.0,1058.7 L1551.0,1058.7 L1553.0,1058.7 L1555.0,1058.7 L1557.0,1058.7 L1559.0,1058.8 L1561.0,1058.8 L1563.0,1058.8 L1565.0,1058.8 L1567.0,1058.8 L1569.0,1058.9 L1571.0,1058.9 L1573.0,1058.9 L1575.0,1058.9 L1577.0,1058.9 L1579.0,1059.0 L1581.0,1059.0 L1583.0,1059.0 L1585.0,1059.0 L1587.0,1059.0 L1589.0,1059.0 L1591.0,1059.1 L1593.0,1059.1 L1595.0,1059.1 L1597.0,1059.1 L1599.0,1059.1 L1601.0,1059.1 L1603.0,1059.2 L1605.0,1059.2 L1607.0,1059.2 L1609.0,1059.2 L1611.0,1059.2 L1613.0,1059.2 L1615.0,1059.3 L1617.0,1059.3 L1619.0,1059.3 L1621.0,1059.3 L1623.0,1059.3 L1625.0,1059.3 L1627.0,1059.4 L1629.0,1059.4 L1631.0,1059.4 L1633.0,1059.4 L1635.0,1059.4 L1637.0,1059.4 L1639.0,1059.4 L1641.0,1059.5 L1643.0,1059.5 L1645.0,1059.5 L1647.0,1059.5 L1649.0,1059.5 L1651.0,1059.5 L1653.0,1059.5 L1655.0,1059.6 L1657.0,1059.6 L1659.0,1059.6 L1661.0,1059.6 L1663.0,1059.6 L1665.0,1059.6 L1667.0,1059.6 L1669.0,1059.6 L1671.0,1059.7 L1673.0,1059.7 L1675.0,1059.7 L1677.0,1059.7 L1679.0,1059.7 L1681.0,1059.7 L1683.0,1059.7 L1685.0,1059.7 L1687.0,1059.8 L1689.0,1059.8 L1691.0,1059.8 L1693.0,1059.8 L1695.0,1059.8 L1697.0,1059.8 L1699.0,1059.8 L1701.0,1059.8 L1703.0,1059.9 L1705.0,1059.9 L1707.0,1059.9 L1709.0,1059.9 L1711.0,1059.9 L1713.0,1059.9 L1715.0,1059.9 L1717.0,1059.9 L1719.0,1059.9 L1721.0,1060.0 L1723.0,1060.0 L1725.0,1060.0 L1727.0,1060.0 L1729.0,1060.0 L1731.0,1060.0 L1733.0,1060.0 L1735.0,1060.0 L1737.0,1060.0 L1739.0,1060.0 L1741.0,1060.1 L1743.0,1060.1 L1745.0,1060.1 L1747.0,1060.1 L1749.0,1060.1 L1751.0,1060.1 L1753.0,1060.1 L1755.0,1060.1 L1757.0,1060.1 L1759.0,1060.1 L1761.0,1060.2 L1763.0,1060.2 L1765.0,1060.2 L1767.0,1060.2 L1769.0,1060.2 L1771.0,1060.2 L1773.0,1060.2 L1775.0,1060.2 L1777.0,1060.2 L1779.0,1060.2 L1781.0,1060.2 L1783.0,1060.3 L1785.0,1060.3 L1787.0,1060.3 L1789.0,1060.3 L1791.0,1060.3 L1793.0,1060.3 L1795.0,1060.3 L1797.0,1060.3 L1799.0,1060.3 L1801.0,1060.3 L1803.0,1060.3 L1805.0,1060.3 L1807.0,1060.4 L1809.0,1060.4 L1811.0,1060.4 L1813.0,1060.4 L1815.0,1060.4 L1817.0,1060.4 L1819.0,1060.4 L1821.0,1060.4 L1823.0,1060.4 L1825.0,1060.4 L1827.0,1060.4 L1829.0,1060.4 L1831.0,1060.5 L1833.0,1060.5 L1835.0,1060.5 L1837.0,1060.5 L1839.0,1060.5 L1841.0,1060.5 L1843.0,1060.5 L1845.0,1060.5 L1847.0,1060.5" stroke="#f00" stroke-width="2"/>
<path d="M127.0,993.5 L129.0,993.5 L131.0,993.5 L133.0,993.5 L135.0,993.5 L137.0,993.4 L139.0,993.4 L141.0,993.4 L143.0,993.4 L145.0,993.4 L147.0,993.3 L149.0,993.3 L151.0,993.3 L153.0,993.3 L155.0,993.3 L157.0,993.3 L159.0,993.2 L161.0,993.2 L163.0,993.2 L165.0,993.2 L167.0,993.2 L169.0,993.1 L171.0,993.1 L173.0,993.1 L175.0,993.1 L177.0,993.1 L179.0,993.1 L181.0,993.0 L183.0,993.0 L185.0,993.0 L187.0,993.0 L189.0,993.0 L191.0,992.9 L193.0,992.9 L195.0,992.9 L197.0,992.9 L199.0,992.8 L201.0,992.8 L203.0,992.8 L205.0,992.8 L207.0,992.8 L209.0,992.7 L211.0,992.7 L213.0,992.7 L215.0,992.7 L217.0,992.6 L219.0,992.6 L221.0,992.6 L223.0,992.6 L225.0,992.6 L227.0,992.5 L229.0,992.5 L231.0,992.5 L233.0,992.5 L235.0,992.4 L237.0,992.4 L239.0,992.4 L241.0,992.4 L243.0,992.3 L245.0,992.3 L247.0,992.3 L249.0,992.3 L251.0,992.2 L253.0,992.2 L255.0,992.2 L257.0,992.2 L259.0,992.1 L261.0,992.1 L263.0,992.1 L265.0,992.0 L267.0,992.0 L269.0,992.0 L271.0,992.0 L273.0,991.9 L275.0,991.9 L277.0,991.9 L279.0,991.9 L281.0,991.8 L283.0,991.8 L285.0,991.8 L287.0,991.7 L289.0,991.7 L291.0,991.7 L293.0,991.6 L295.0,991.6 L297.0,991.6 L299.0,991.6 L301.0,991.5 L303.0,991.5 L305.0,991.5 L307.0,991.4 L309.0,991.4 L311.0,991.4 L313.0,991.3 L315.0,991.3 L317.0,991.3 L319.0,991.2 L321.0,991.2 L323.0,991.2 L325.0,991.1 L327.0,991.1 L329.0,991.1 L331.0,991.0 L333.0,991.0 L335.0,991.0 L337.0,990.9 L339.0,990.9 L341.0,990.8 L343.0,990.8 L345.0,990.8 L347.0,990.7 L349.0,990.7 L351.0,990.7 L353.0,990.6 L355.0,990.6 L357.0,990.6 L359.0,990.5 L361.0,990.5 L363.0,990.4 L365.0,990.4 L367.0,990.4 L369.0,990.3 L371.0,990.3 L373.0,990.2 L375.0,990.2 L377.0,990.2 L379.0,990.1 L381.0,990.1 L383.0,990.0 L385.0,990.0 L387.0,990.0 L389.0,989.9 L391.0,989.9 L393.0,989.8 L395.0,989.8 L397.0,989.7 L399.0,989.7 L401.0,989.7 L403.0,989.6 L405.0,989.6 L407.0,989.5 L409.0,989.5 L411.0,989.4 L413.0,989.4 L415.0,989.3 L417.0,989.3 L419.0,989.2 L421.0,989.2 L423.0,989.1 L425.0,989.1 L427.0,989.0 L429.0,989.0 L431.0,988.9 L433.0,988.9 L435.0,988.8 L437.0,988.8 L439.0,988.7 L441.0,988.7 L443.0,988.6 L445.0,988.6 L447.0,988.5 L449.0,988.5 L451.0,988.4 L453.0,988.4 L455.0,988.3 L457.0,988.2 L459.0,988.2 L461.0,988.1 L463.0,988.1 L465.0,988.0 L467.0,987.9 L469.0,987.9 L471.0,987.8 L473.0,987.8 L475.0,987.7 L477.0,987.6 L479.0,987.6 L481.0,987.5 L483.0,987.4 L485.0,987.4 L487.0,987.3 L489.0,987.2 L491.0,987.1 L493.0,987.1 L495.0,987.0 L497.0,986.9 L499.0,986.8 L501.0,986.8 L503.0,986.7 L505.0,986.6 L507.0,986.5 L509.0,986.4 L511.0,986.3 L513.0,986.2 L515.0,986.2 L517.0,986.1 L519.0,986.0 L521.0,985.9 L523.0,985.8 L525.0,985.7 L527.0,985.6 L529.0,985.5 L531.0,985.4 L533.0,985.3 L535.0,985.2 L537.0,985.0 L539.0,984.9 L541.0,984.8 L543.0,984.7 L545.0,984.6 L547.0,984.5 L549.0,984.3 L551.0,984.2 L553.0,984.1 L555.0,983.9 L557.0,983.8 L559.0,983.7 L561.0,983.5 L563.0,983.4 L565.0,983.3 L567.0,983.1 L569.0,983.0 L571.0,982.8 L573.0,982.6 L575.0,982.5 L577.0,982.3 L579.0,982.2 L581.0,982.0 L583.0,981.8 L585.0,981.6 L587.0,981.5 L589.0,981.3 L591.0,981.1 L593.0,980.9 L595.0,980.7 L597.0,980.5 L599.0,980.3 L601.0,980.1 L603.0,979.9 L605.0,979.7 L607.0,979.5 L609.0,979.2 L611.0,979.0 L613.0,978.8 L615.0,978.5 L617.0,978.3 L619.0,978.0 L621.0,977.8 L623.0,977.5 L625.0,977.3 L627.0,977.0 L629.0,976.7 L631.0,976.4 L633.0,976.1 L635.0,975.8 L637.0,975.5 L639.0,975.2 L641.0,974.9 L643.0,974.5 L645.0,974.2 L647.0,973.8 L649.0,973.5 L651.0,973.1 L653.0,972.7 L655.0,972.3 L657.0,971.9 L659.0,971.5 L661.0,971.1 L663.0,970.7 L665.0,970.2 L667.0,969.7 L669.0,969.3 L671.0,968.8 L673.0,968.3 L675.0,967.7 L677.0,967.2 L679.0,966.6 L681.0,966.0 L683.0,965.5 L685.0,964.8 L687.0,964.2 L689.0,963.5 L691.0,962.9 L693.0,962.2 L695.0,961.4 L697.0,960.7 L699.0,959.9 L701.0,959.1 L703.0,958.3 L705.0,957.4 L707.0,956.5 L709.0,955.6 L711.0,954.7 L713.0,953.7 L715.0,952.7 L717.0,951.6 L719.0,950.5 L721.0,949.4 L723.0,948.2 L725.0,947.0 L727.0,945.8 L729.0,944.5 L731.0,943.1 L733.0,941.7 L735.0,940.3 L737.0,938.8 L739.0,937.3 L741.0,935.7 L743.0,934.1 L745.0,932.4 L747.0,930.6 L749.0,928.8 L751.0,926.9 L753.0,925.0 L755.0,923.0 L757.0,920.9 L759.0,918.8 L761.0,916.6 L763.0,914.3 L765.0,912.0 L767.0,909.5 L769.0,907.1 L771.0,904.5 L773.0,901.8 L775.0,899.1 L777.0,896.3 L779.0,893.4 L781.0,890.5 L783.0,887.4 L785.0,884.3 L787.0,881.0 L789.0,877.7 L791.0,874.3 L793.0,870.8 L795.0,867.2 L797.0,863.5 L799.0,859.8 L801.0,855.9 L803.0,851.9 L805.0,847.9 L807.0,843.7 L809.0,839.5 L811.0,835.1 L813.0,830.7 L815.0,826.1 L817.0,821.5 L819.0,816.8 L821.0,811.9 L823.0,807.0 L825.0,802.0 L827.0,796.9 L829.0,791.7 L831.0,786.4 L833.0,781.0 L835.0,775.5 L837.0,769.9 L839.0,764.3 L841.0,758.6 L843.0,752.8 L845.0,746.9 L847.0,740.9 L849.0,734.9 L851.0,728.7 L853.0,722.6 L855.0,716.3 L857.0,710.0 L859.0,703.7 L861.0,697.3 L863.0,690.8 L865.0,684.3 L867.0,677.8 L869.0,671.2 L871.0,664.6 L873.0,658.0 L875.0,651.3 L877.0,644.7 L879.0,638.0 L881.0,631.4 L883.0,624.8 L885.0,618.2 L887.0,611.6 L889.0,605.0 L891.0,598.5 L893.0,592.1 L895.0,585.7 L897.0,579.4 L899.0,573.1 L901.0,567.0 L903.0,561.0 L905.0,555.0 L907.0,549.2 L909.0,543.6 L911.0,538.1 L913.0,532.7 L915.0,527.5 L917.0,522.5 L919.0,517.7 L921.0,513.1 L923.0,508.7 L925.0,504.5 L927.0,500.6 L929.0,497.0 L931.0,493.6 L933.0,490.4 L935.0,487.6 L937.0,485.0 L939.0,482.8 L941.0,480.9 L943.0,479.3 L945.0,478.0 L947.0,477.0 L949.0,476.4 L951.0,476.1 L953.0,476.2 L955.0,476.6 L957.0,477.4 L959.0,478.5 L961.0,479.9 L963.0,481.7 L965.0,483.9 L967.0,486.3 L969.0,489.1 L971.0,492.2 L973.0,495.6 L975.0,499.4 L977.0,503.4 L979.0,507.7 L981.0,512.3 L983.0,517.1 L985.0,522.2 L987.0,527.5 L989.0,533.1 L991.0,538.9 L993.0,544.8 L995.0,551.0 L997.0,557.3 L999.0,563.8 L1001.0,570.4 L1003.0,577.2 L1005.0,584.1 L1007.0,591.1 L1009.0,598.2 L1011.0,605.3 L1013.0,612.6 L1015.0,619.9 L1017.0,627.3 L1019.0,634.7 L1021.0,642.1 L1023.0,649.6 L1025.0,657.0 L1027.0,664.5 L1029.0,672.0 L1031.0,679.4 L1033.0,686.8 L1035.0,694.2 L1037.0,701.6 L1039.0,708.9 L1041.0,716.2 L1043.0,723.5 L1045.0,730.6 L1047.0,737.7 L1049.0,744.8 L1051.0,751.7 L1053.0,758.6 L1055.0,765.4 L1057.0,772.2 L1059.0,778.8 L1061.0,785.3 L1063.0,791.8 L1065.0,798.1 L1067.0,804.4 L1069.0,810.6 L1071.0,816.6 L1073.0,822.6 L1075.0,828.4 L1077.0,834.2 L1079.0,839.8 L1081.0,845.3 L1083.0,850.8 L1085.0,856.1 L1087.0,861.3 L1089.0,866.4 L1091.0,871.3 L1093.0,876.2 L1095.0,881.0 L1097.0,885.6 L1099.0,890.2 L1101.0,894.6 L1103.0,898.9 L1105.0,903.2 L1107.0,907.3 L1109.0,911.3 L1111.0,915.2 L1113.0,919.0 L1115.0,922.7 L1117.0,926.3 L1119.0,929.8 L1121.0,933.2 L1123.0,936.6 L1125.0,939.8 L1127.0,942.9 L1129.0,946.0 L1131.0,948.9 L1133.0,951.8 L1135.0,954.6 L1137.0,957.3 L1139.0,959.9 L1141.0,962.4 L1143.0,964.9 L1145.0,967.2 L1147.0,969.6 L1149.0,971.8 L1151.0,974.0 L1153.0,976.1 L1155.0,978.1 L1157.0,980.0 L1159.0,982.0 L1161.0,983.8 L1163.0,985.6 L1165.0,987.3 L1167.0,989.0 L1169.0,990.6 L1171.0,992.1 L1173.0,993.6 L1175.0,995.1 L1177.0,996.5 L1179.0,997.9 L1181.0,999.2 L1183.0,1000.5 L1185.0,1001.7 L1187.0,1002.9 L1189.0,1004.1 L1191.0,1005.2 L1193.0,1006.3 L1195.0,1007.3 L1197.0,1008.3 L1199.0,1009.3 L1201.0,1010.3 L1203.0,1011.2 L1205.0,1012.1 L1207.0,1013.0 L1209.0,1013.8 L1211.0,1014.6 L1213.0,1015.4 L1215.0,1016.2 L1217.0,1016.9 L1219.0,1017.6 L1221.0,1018.3 L1223.0,1019.0 L1225.0,1019.7 L1227.0,1020.3 L1229.0,1020.9 L1231.0,1021.5 L1233.0,1022.1 L1235.0,1022.7 L1237.0,1023.3 L1239.0,1023.8 L1241.0,1024.3 L1243.0,1024.9 L1245.0,1025.4 L1247.0,1025.9 L1249.0,1026.3 L1251.0,1026.8 L1253.0,1027.3 L1255.0,1027.7 L1257.0,1028.1 L1259.0,1028.6 L1261.0,1029.0 L1263.0,1029.4 L1265.0,1029.8 L1267.0,1030.2 L1269.0,1030.6 L1271.0,1030.9 L1273.0,1031.3 L1275.0,1031.7 L1277.0,1032.0 L1279.0,1032.4 L1281.0,1032.7 L1283.0,1033.1 L1285.0,1033.4 L1287.0,1033.7 L1289.0,1034.0 L1291.0,1034.3 L1293.0,1034.6 L1295.0,1034.9 L1297.0,1035.2 L1299.0,1035.5 L1301.0,1035.8 L1303.0,1036.1 L1305.0,1036.4 L1307.0,1036.7 L1309.0,1036.9 L1311.0,1037.2 L1313.0,1037.5 L1315.0,1037.7 L1317.0,1038.0 L1319.0,1038.2 L1321.0,1038.5 L1323.0,1038.7 L1325.0,1039.0 L1327.0,1039.2 L1329.0,1039.4 L1331.0,1039.7 L1333.0,1039.9 L1335.0,1040.1 L1337.0,1040.3 L1339.0,1040.6 L1341.0,1040.8 L1343.0,1041.0 L1345.0,1041.2 L1347.0,1041.4 L1349.0,1041.6 L1351.0,1041.8 L1353.0,1042.0 L1355.0,1042.2 L1357.0,1042.4 L1359.0,1042.6 L1361.0,1042.8 L1363.0,1043.0 L1365.0,1043.1 L1367.0,1043.3 L1369.0,1043.5 L1371.0,1043.7 L1373.0,1043.9 L1375.0,1044.0 L1377.0,1044.2 L1379.0,1044.4 L1381.0,1044.5 L1383.0,1044.7 L1385.0,1044.8 L1387.0,1045.0 L1389.0,1045.2 L1391.0,1045.3 L1393.0,1045.5 L1395.0,1045.6 L1397.0,1045.8 L1399.0,1045.9 L1401.0,1046.1 L1403.0,1046.2 L1405.0,1046.3 L1407.0,1046.5 L1409.0,1046.6 L1411.0,1046.7 L1413.0,1046.9 L1415.0,1047.0 L1417.0,1047.1 L1419.0,1047.3 L1421.0,1047.4 L1423.0,1047.5 L1425.0,1047.6 L1427.0,1047.8 L1429.0,1047.9 L1431.0,1048.0 L1433.0,1048.1 L1435.0,1048.2 L1437.0,1048.3 L1439.0,1048.5 L1441.0,1048.6 L1443.0,1048.7 L1445.0,1048.8 L1447.0,1048.9 L1449.0,1049.0 L1451.0,1049.1 L1453.0,1049.2 L1455.0,1049.3 L1457.0,1049.4 L1459.0,1049.5 L1461.0,1049.6 L1463.0,1049.7 L1465.0,1049.8 L1467.0,1049.9 L1469.0,1050.0 L1471.0,1050.1 L1473.0,1050.2 L1475.0,1050.3 L1477.0,1050.4 L1479.0,1050.4 L1481.0,1050.5 L1483.0,1050.6 L1485.0,1050.7 L1487.0,1050.8 L1489.0,1050.9 L1491.0,1051.0 L1493.0,1051.0 L1495.0,1051.1 L1497.0,1051.2 L1499.0,1051.3 L1501.0,1051.4 L1503.0,1051.4 L1505.0,1051.5 L1507.0,1051.6 L1509.0,1051.7 L1511.0,1051.7 L1513.0,1051.8 L1515.0,1051.9 L1517.0,1051.9 L1519.0,1052.0 L1521.0,1052.1 L1523.0,1052.2 L1525.0,1052.2 L1527.0,1052.3 L1529.0,1052.4 L1531.0,1052.4 L1533.0,1052.5 L1535.0,1052.6 L1537.0,1052.6 L1539.0,1052.7 L1541.0,1052.7 L1543.0,1052.8 L1545.0,1052.9 L1547.0,1052.9 L1549.0,1053.0 L1551.0,1053.1 L1553.0,1053.1 L1555.0,1053.2 L1557.0,1053.2 L1559.0,1053.3 L1561.0,1053.3 L1563.0,1053.4 L1565.0,1053.5 L1567.0,1053.5 L1569.0,1053.6 L1571.0,1053.6 L1573.0,1053.7 L1575.0,1053.7 L1577.0,1053.8 L1579.0,1053.8 L1581.0,1053.9 L1583.0,1053.9 L1585.0,1054.0 L1587.0,1054.0 L1589.0,1054.1 L1591.0,1054.1 L1593.0,1054.2 L1595.0,1054.2 L1597.0,1054.3 L1599.0,1054.3 L1601.0,1054.4 L1603.0,1054.4 L1605.0,1054.5 L1607.0,1054.5 L1609.0,1054.6 L1611.0,1054.6 L1613.0,1054.7 L1615.0,1054.7 L1617.0,1054.7 L1619.0,1054.8 L1621.0,1054.8 L1623.0,1054.9 L1625.0,1054.9 L1627.0,1055.0 L1629.0,1055.0 L1631.0,1055.0 L1633.0,1055.1 L1635.0,1055.1 L1637.0,1055.2 L1639.0,1055.2 L1641.0,1055.2 L1643.0,1055.3 L1645.0,1055.3 L1647.0,1055.4 L1649.0,1055.4 L1651.0,1055.4 L1653.0,1055.5 L1655.0,1055.5 L1657.0,1055.5 L1659.0,1055.6 L1661.0,1055.6 L1663.0,1055.7 L1665.0,1055.7 L1667.0,1055.7 L1669.0,1055.8 L1671.0,1055.8 L1673.0,1055.8 L1675.0,1055.9 L1677.0,1055.9 L1679.0,1055.9 L1681.0,1056.0 L1683.0,1056.0 L1685.0,1056.0 L1687.0,1056.1 L1689.0,1056.1 L1691.0,1056.1 L1693.0,1056.2 L1695.0,1056.2 L1697.0,1056.2 L1699.0,1056.3 L1701.0,1056.3 L1703.0,1056.3 L1705.0,1056.4 L1707.0,1056.4 L1709.0,1056.4 L1711.0,1056.5 L1713.0,1056.5 L1715.0,1056.5 L1717.0,1056.5 L1719.0,1056.6 L1721.0,1056.6 L1723.0,1056.6 L1725.0,1056.7 L1727.0,1056.7 L1729.0,1056.7 L1731.0,1056.7 L1733.0,1056.8 L1735.0,1056.8 L1737.0,1056.8 L1739.0,1056.9 L1741.0,1056.9 L1743.0,1056.9 L1745.0,1056.9 L1747.0,1057.0 L1749.0,1057.0 L1751.0,1057.0 L1753.0,1057.0 L1755.0,1057.1 L1757.0,1057.1 L1759.0,1057.1 L1761.0,1057.1 L1763.0,1057.2 L1765.0,1057.2 L1767.0,1057.2 L1769.0,1057.2 L1771.0,1057.3 L1773.0,1057.3 L1775.0,1057.3 L1777.0,1057.3 L1779.0,1057.4 L1781.0,1057.4 L1783.0,1057.4 L1785.0,1057.4 L1787.0,1057.4 L1789.0,1057.5 L1791.0,1057.5 L1793.0,1057.5 L1795.0,1057.5 L1797.0,1057.6 L1799.0,1057.6 L1801.0,1057.6 L1803.0,1057.6 L1805.0,1057.6 L1807.0,1057.7 L1809.0,1057.7 L1811.0,1057.7 L1813.0,1057.7 L1815.0,1057.8 L1817.0,1057.8 L1819.0,1057.8 L1821.0,1057.8 L1823.0,1057.8 L1825.0,1057.9 L1827.0,1057.9 L1829.0,1057.9 L1831.0,1057.9 L1833.0,1057.9 L1835.0,1058.0 L1837.0,1058.0 L1839.0,1058.0 L1841.0,1058.0 L1843.0,1058.0 L1845.0,1058.1 L1847.0,1058.1" stroke="#f00" stroke-width="2"/>
<path d="M127.0,997.0 L129.0,997.0 L131.0,997.0 L133.0,997.0 L135.0,997.0 L137.0,997.0 L139.0,997.0 L141.0,997.0 L143.0,997.0 L145.0,997.0 L147.0,997.0 L149.0,997.0 L151.0,997.0 L153.0,997.0 L155.0,997.0 L157.0,997.0 L159.0,997.0 L161.0,997.0 L163.0,997.0 L165.0,997.0 L167.0,997.0 L169.0,997.0 L171.0,997.0 L173.0,997.0 L175.0,997.0 L177.0,997.0 L179.0,997.0 L181.0,997.0 L183.0,997.0 L185.0,997.0 L187.0,997.0 L189.0,997.0 L191.0,997.0 L193.0,997.0 L195.0,997.0 L197.0,997.0 L199.0,997.0 L201.0,997.0 L203.0,997.0 L205.0,997.0 L207.0,997.0 L209.0,997.0 L211.0,997.0 L213.0,997.0 L215.0,997.0 L217.0,997.0 L219.0,997.0 L221.0,997.0 L223.0,997.0 L225.0,997.0 L227.0,997.0 L229.0,997.0 L231.0,997.0 L233.0,997.0 L235.0,997.0 L237.0,997.0 L239.0,997.0 L241.0,997.0 L243.0,997.0 L245.0,997.0 L247.0,997.0 L249.0,997.0 L251.0,997.0 L253.0,997.0 L255.0,997.0 L257.0,997.0 L259.0,997.0 L261.0,997.0 L263.0,997.0 L265.0,997.0 L267.0,997.1 L269.0,997.1 L271.0,997.1 L273.0,997.1 L275.0,997.1 L277.0,997.1 L279.0,997.1 L281.0,997.1 L283.0,997.1 L285.0,997.1 L287.0,997.1 L289.0,997.1 L291.0,997.1 L293.0,997.1 L295.0,997.1 L297.0,997.1 L299.0,997.1 L301.0,997.1 L303.0,997.1 L305.0,997.1 L307.0,997.1 L309.0,997.1 L311.0,997.1 L313.0,997.1 L315.0,997.1 L317.0,997.1 L319.0,997.1 L321.0,997.1 L323.0,997.1 L325.0,997.1 L327.0,997.2 L329.0,997.2 L331.0,997.2 L333.0,997.2 L335.0,997.2 L337.0,997.2 L339.0,997.2 L341.0,997.2 L343.0,997.2 L345.0,997.2 L347.0,997.2 L349.0,997.2 L351.0,997.2 L353.0,997.2 L355.0,997.2 L357.0,997.2 L359.0,997.3 L361.0,997.3 L363.0,997.3 L365.0,997.3 L367.0,997.3 L369.0,997.3 L371.0,997.3 L373.0,997.3 L375.0,997.3 L377.0,997.3 L379.0,997.3 L381.0,997.4 L383.0,997.4 L385.0,997.4 L387.0,997.4 L389.0,997.4 L391.0,997.4 L393.0,997.4 L395.0,997.4 L397.0,997.4 L399.0,997.5 L401.0,997.5 L403.0,997.5 L405.0,997.5 L407.0,997.5 L409.0,997.5 L411.0,997.5 L413.0,997.6 L415.0,997.6 L417.0,997.6 L419.0,997.6 L421.0,997.6 L423.0,997.6 L425.0,997.6 L427.0,997.7 L429.0,997.7 L431.0,997.7 L433.0,997.7 L435.0,997.7 L437.0,997.7 L439.0,997.8 L441.0,997.8 L443.0,997.8 L445.0,997.8 L447.0,997.8 L449.0,997.9 L451.0,997.9 L453.0,997.9 L455.0,997.9 L457.0,997.9 L459.0,998.0 L461.0,998.0 L463.0,998.0 L465.0,998.0 L467.0,998.0 L469.0,998.1 L471.0,998.1 L473.0,998.1 L475.0,998.1 L477.0,998.1 L479.0,998.2 L481.0,998.2 L483.0,998.2 L485.0,998.2 L487.0,998.3 L489.0,998.3 L491.0,998.3 L493.0,998.3 L495.0,998.3 L497.0,998.4 L499.0,998.4 L501.0,998.4 L503.0,998.4 L505.0,998.5 L507.0,998.5 L509.0,998.5 L511.0,998.5 L513.0,998.5 L515.0,998.6 L517.0,998.6 L519.0,998.6 L521.0,998.6 L523.0,998.6 L525.0,998.7 L527.0,998.7 L529.0,998.7 L531.0,998.7 L533.0,998.7 L535.0,998.8 L537.0,998.8 L539.0,998.8 L541.0,998.8 L543.0,998.8 L545.0,998.9 L547.0,998.9 L549.0,998.9 L551.0,998.9 L553.0,998.9 L555.0,998.9 L557.0,999.0 L559.0,999.0 L561.0,999.0 L563.0,999.0 L565.0,999.0 L567.0,999.0 L569.0,999.0 L571.0,999.1 L573.0,999.1 L575.0,999.1 L577.0,999.1 L579.0,999.1 L581.0,999.1 L583.0,999.1 L585.0,999.1 L587.0,999.2 L589.0,999.2 L591.0,999.2 L593.0,999.2 L595.0,999.2 L597.0,999.2 L599.0,999.2 L601.0,999.2 L603.0,999.2 L605.0,999.2 L607.0,999.3 L609.0,999.3 L611.0,999.3 L613.0,999.3 L615.0,999.3 L617.0,999.3 L619.0,999.3 L621.0,999.3 L623.0,999.3 L625.0,999.3 L627.0,999.4 L629.0,999.4 L631.0,999.4 L633.0,999.4 L635.0,999.4 L637.0,999.4 L639.0,999.4 L641.0,999.4 L643.0,999.4 L645.0,999.4 L647.0,999.4 L649.0,999.5 L651.0,999.5 L653.0,999.5 L655.0,999.5 L657.0,999.5 L659.0,999.5 L661.0,999.5 L663.0,999.5 L665.0,999.5 L667.0,999.6 L669.0,999.6 L671.0,999.6 L673.0,999.6 L675.0,999.6 L677.0,999.6 L679.0,999.7 L681.0,999.7 L683.0,999.7 L685.0,999.7 L687.0,999.7 L689.0,999.7 L691.0,999.8 L693.0,999.8 L695.0,999.8 L697.0,999.8 L699.0,999.9 L701.0,999.9 L703.0,999.9 L705.0,999.9 L707.0,1000.0 L709.0,1000.0 L711.0,1000.0 L713.0,1000.0 L715.0,1000.1 L717.0,1000.1 L719.0,1000.1 L721.0,1000.2 L723.0,1000.2 L725.0,1000.2 L727.0,1000.3 L729.0,1000.3 L731.0,1000.4 L733.0,1000.4 L735.0,1000.5 L737.0,1000.5 L739.0,1000.5 L741.0,1000.6 L743.0,1000.6 L745.0,1000.7 L747.0,1000.7 L749.0,1000.8 L751.0,1000.8 L753.0,1000.9 L755.0,1001.0 L757.0,1001.0 L759.0,1001.1 L761.0,1001.1 L763.0,1001.2 L765.0,1001.3 L767.0,1001.3 L769.0,1001.4 L771.0,1001.5 L773.0,1001.5 L775.0,1001.6 L777.0,1001.7 L779.0,1001.7 L781.0,1001.8 L783.0,1001.9 L785.0,1002.0 L787.0,1002.0 L789.0,1002.1 L791.0,1002.2 L793.0,1002.3 L795.0,1002.3 L797.0,1002.4 L799.0,1002.5 L801.0,1002.6 L803.0,1002.7 L805.0,1002.7 L807.0,1002.8 L809.0,1002.9 L811.0,1003.0 L813.0,1003.0 L815.0,1003.1 L817.0,1003.2 L819.0,1003.3 L821.0,1003.3 L823.0,1003.4 L825.0,1003.5 L827.0,1003.6 L829.0,1003.6 L831.0,1003.7 L833.0,1003.8 L835.0,1003.8 L837.0,1003.9 L839.0,1004.0 L841.0,1004.0 L843.0,1004.1 L845.0,1004.1 L847.0,1004.2 L849.0,1004.2 L851.0,1004.3 L853.0,1004.3 L855.0,1004.3 L857.0,1004.4 L859.0,1004.4 L861.0,1004.4 L863.0,1004.4 L865.0,1004.5 L867.0,1004.5 L869.0,1004.5 L871.0,1004.5 L873.0,1004.5 L875.0,1004.4 L877.0,1004.4 L879.0,1004.4 L881.0,1004.3 L883.0,1004.3 L885.0,1004.2 L887.0,1004.2 L889.0,1004.1 L891.0,1004.0 L893.0,1003.9 L895.0,1003.8 L897.0,1003.6 L899.0,1003.5 L901.0,1003.3 L903.0,1003.2 L905.0,1003.0 L907.0,1002.8 L909.0,1002.6 L911.0,1002.4 L913.0,1002.1 L915.0,1001.8 L917.0,1001.5 L919.0,1001.2 L921.0,1000.9 L923.0,1000.6 L925.0,1000.2 L927.0,999.8 L929.0,999.4 L931.0,998.9 L933.0,998.4 L935.0,997.9 L937.0,997.4 L939.0,996.8 L941.0,996.2 L943.0,995.6 L945.0,995.0 L947.0,994.3 L949.0,993.6 L951.0,992.8 L953.0,992.0 L955.0,991.2 L957.0,990.3 L959.0,989.4 L961.0,988.5 L963.0,987.5 L965.0,986.4 L967.0,985.4 L969.0,984.3 L971.0,983.1 L973.0,981.9 L975.0,980.6 L977.0,979.3 L979.0,978.0 L981.0,976.6 L983.0,975.2 L985.0,973.7 L987.0,972.2 L989.0,970.6 L991.0,969.0 L993.0,967.3 L995.0,965.6 L997.0,963.8 L999.0,962.0 L1001.0,960.1 L1003.0,958.2 L1005.0,956.2 L1007.0,954.2 L1009.0,952.2 L1011.0,950.1 L1013.0,947.9 L1015.0,945.7 L1017.0,943.5 L1019.0,941.2 L1021.0,938.9 L1023.0,936.6 L1025.0,934.2 L1027.0,931.7 L1029.0,929.3 L1031.0,926.8 L1033.0,924.2 L1035.0,921.7 L1037.0,919.1 L1039.0,916.5 L1041.0,913.9 L1043.0,911.2 L1045.0,908.6 L1047.0,905.9 L1049.0,903.2 L1051.0,900.5 L1053.0,897.8 L1055.0,895.1 L1057.0,892.4 L1059.0,889.8 L1061.0,887.1 L1063.0,884.5 L1065.0,881.8 L1067.0,879.2 L1069.0,876.7 L1071.0,874.1 L1073.0,871.7 L1075.0,869.2 L1077.0,866.8 L1079.0,864.5 L1081.0,862.3 L1083.0,860.1 L1085.0,857.9 L1087.0,855.9 L1089.0,853.9 L1091.0,852.0 L1093.0,850.3 L1095.0,848.6 L1097.0,847.0 L1099.0,845.5 L1101.0,844.2 L1103.0,842.9 L1105.0,841.8 L1107.0,840.8 L1109.0,839.9 L1111.0,839.1 L1113.0,838.5 L1115.0,838.0 L1117.0,837.6 L1119.0,837.4 L1121.0,837.3 L1123.0,837.3 L1125.0,837.4 L1127.0,837.7 L1129.0,838.1 L1131.0,838.6 L1133.0,839.3 L1135.0,840.1 L1137.0,840.9 L1139.0,841.9 L1141.0,843.1 L1143.0,844.3 L1145.0,845.6 L1147.0,847.0 L1149.0,848.5 L1151.0,850.1 L1153.0,851.8 L1155.0,853.6 L1157.0,855.4 L1159.0,857.4 L1161.0,859.4 L1163.0,861.4 L1165.0,863.6 L1167.0,865.8 L1169.0,868.0 L1171.0,870.3 L1173.0,872.6 L1175.0,875.0 L1177.0,877.4 L1179.0,879.9 L1181.0,882.4 L1183.0,884.9 L1185.0,887.5 L1187.0,890.0 L1189.0,892.6 L1191.0,895.2 L1193.0,897.9 L1195.0,900.5 L1197.0,903.1 L1199.0,905.8 L1201.0,908.4 L1203.0,911.1 L1205.0,913.7 L1207.0,916.4 L1209.0,919.0 L1211.0,921.7 L1213.0,924.3 L1215.0,926.9 L1217.0,929.5 L1219.0,932.1 L1221.0,934.6 L1223.0,937.2 L1225.0,939.7 L1227.0,942.2 L1229.0,944.7 L1231.0,947.2 L1233.0,949.6 L1235.0,952.0 L1237.0,954.4 L1239.0,956.7 L1241.0,959.1 L1243.0,961.4 L1245.0,963.6 L1247.0,965.9 L1249.0,968.1 L1251.0,970.2 L1253.0,972.4 L1255.0,974.4 L1257.0,976.5 L1259.0,978.5 L1261.0,980.5 L1263.0,982.5 L1265.0,984.4 L1267.0,986.3 L1269.0,988.1 L1271.0,990.0 L1273.0,991.7 L1275.0,993.5 L1277.0,995.2 L1279.0,996.8 L1281.0,998.5 L1283.0,1000.1 L1285.0,1001.6 L1287.0,1003.1 L1289.0,1004.6 L1291.0,1006.1 L1293.0,1007.5 L1295.0,1008.9 L1297.0,1010.2 L1299.0,1011.5 L1301.0,1012.8 L1303.0,1014.1 L1305.0,1015.3 L1307.0,1016.5 L1309.0,1017.6 L1311.0,1018.7 L1313.0,1019.8 L1315.0,1020.9 L1317.0,1021.9 L1319.0,1022.9 L1321.0,1023.9 L1323.0,1024.8 L1325.0,1025.7 L1327.0,1026.6 L1329.0,1027.5 L1331.0,1028.3 L1333.0,1029.2 L1335.0,1029.9 L1337.0,1030.7 L1339.0,1031.4 L1341.0,1032.2 L1343.0,1032.9 L1345.0,1033.5 L1347.0,1034.2 L1349.0,1034.8 L1351.0,1035.4 L1353.0,1036.0 L1355.0,1036.6 L1357.0,1037.2 L1359.0,1037.7 L1361.0,1038.2 L1363.0,1038.7 L1365.0,1039.2 L1367.0,1039.7 L1369.0,1040.2 L1371.0,1040.6 L1373.0,1041.0 L1375.0,1041.4 L1377.0,1041.8 L1379.0,1042.2 L1381.0,1042.6 L1383.0,1043.0 L1385.0,1043.3 L1387.0,1043.7 L1389.0,1044.0 L1391.0,1044.3 L1393.0,1044.6 L1395.0,1044.9 L1397.0,1045.2 L1399.0,1045.5 L1401.0,1045.8 L1403.0,1046.1 L1405.0,1046.3 L1407.0,1046.6 L1409.0,1046.8 L1411.0,1047.0 L1413.0,1047.3 L1415.0,1047.5 L1417.0,1047.7 L1419.0,1047.9 L1421.0,1048.1 L1423.0,1048.3 L1425.0,1048.5 L1427.0,1048.7 L1429.0,1048.9 L1431.0,1049.1 L1433.0,1049.2 L1435.0,1049.4 L1437.0,1049.6 L1439.0,1049.7 L1441.0,1049.9 L1443.0,1050.1 L1445.0,1050.2 L1447.0,1050.4 L1449.0,1050.5 L1451.0,1050.6 L1453.0,1050.8 L1455.0,1050.9 L1457.0,1051.0 L1459.0,1051.2 L1461.0,1051.3 L1463.0,1051.4 L1465.0,1051.5 L1467.0,1051.6 L1469.0,1051.8 L1471.0,1051.9 L1473.0,1052.0 L1475.0,1052.1 L1477.0,1052.2 L1479.0,1052.3 L1481.0,1052.4 L1483.0,1052.5 L1485.0,1052.6 L1487.0,1052.7 L1489.0,1052.8 L1491.0,1052.9 L1493.0,1053.0 L1495.0,1053.1 L1497.0,1053.2 L1499.0,1053.2 L1501.0,1053.3 L1503.0,1053.4 L1505.0,1053.5 L1507.0,1053.6 L1509.0,1053.7 L1511.0,1053.7 L1513.0,1053.8 L1515.0,1053.9 L1517.0,1054.0 L1519.0,1054.0 L1521.0,1054.1 L1523.0,1054.2 L1525.0,1054.3 L1527.0,1054.3 L1529.0,1054.4 L1531.0,1054.5 L1533.0,1054.5 L1535.0,1054.6 L1537.0,1054.7 L1539.0,1054.7 L1541.0,1054.8 L1543.0,1054.8 L1545.0,1054.9 L1547.0,1055.0 L1549.0,1055.0 L1551.0,1055.1 L1553.0,1055.1 L1555.0,1055.2 L1557.0,1055.3 L1559.0,1055.3 L1561.0,1055.4 L1563.0,1055.4 L1565.0,1055.5 L1567.0,1055.5 L1569.0,1055.6 L1571.0,1055.6 L1573.0,1055.7 L1575.0,1055.7 L1577.0,1055.8 L1579.0,1055.8 L1581.0,1055.9 L1583.0,1055.9 L1585.0,1056.0 L1587.0,1056.0 L1589.0,1056.1 L1591.0,1056.1 L1593.0,1056.2 L1595.0,1056.2 L1597.0,1056.3 L1599.0,1056.3 L1601.0,1056.4 L1603.0,1056.4 L1605.0,1056.4 L1607.0,1056.5 L1609.0,1056.5 L1611.0,1056.6 L1613.0,1056.6 L1615.0,1056.7 L1617.0,1056.7 L1619.0,1056.7 L1621.0,1056.8 L1623.0,1056.8 L1625.0,1056.9 L1627.0,1056.9 L1629.0,1056.9 L1631.0,1057.0 L1633.0,1057.0 L1635.0,1057.0 L1637.0,1057.1 L1639.0,1057.1 L1641.0,1057.1 L1643.0,1057.2 L1645.0,1057.2 L1647.0,1057.3 L1649.0,1057.3 L1651.0,1057.3 L1653.0,1057.4 L1655.0,1057.4 L1657.0,1057.4 L1659.0,1057.5 L1661.0,1057.5 L1663.0,1057.5 L1665.0,1057.5 L1667.0,1057.6 L1669.0,1057.6 L1671.0,1057.6 L1673.0,1057.7 L1675.0,1057.7 L1677.0,1057.7 L1679.0,1057.8 L1681.0,1057.8 L1683.0,1057.8 L1685.0,1057.8 L1687.0,1057.9 L1689.0,1057.9 L1691.0,1057.9 L1693.0,1058.0 L1695.0,1058.0 L1697.0,1058.0 L1699.0,1058.0 L1701.0,1058.1 L1703.0,1058.1 L1705.0,1058.1 L1707.0,1058.1 L1709.0,1058.2 L1711.0,1058.2 L1713.0,1058.2 L1715.0,1058.2 L1717.0,1058.3 L1719.0,1058.3 L1721.0,1058.3 L1723.0,1058.3 L1725.0,1058.4 L1727.0,1058.4 L1729.0,1058.4 L1731.0,1058.4 L1733.0,1058.5 L1735.0,1058.5 L1737.0,1058.5 L1739.0,1058.5 L1741.0,1058.5 L1743.0,1058.6 L1745.0,1058.6 L1747.0,1058.6 L1749.0,1058.6 L1751.0,1058.7 L1753.0,1058.7 L1755.0,1058.7 L1757.0,1058.7 L1759.0,1058.7 L1761.0,1058.8 L1763.0,1058.8 L1765.0,1058.8 L1767.0,1058.8 L1769.0,1058.8 L1771.0,1058.9 L1773.0,1058.9 L1775.0,1058.9 L1777.0,1058.9 L1779.0,1058.9 L1781.0,1059.0 L1783.0,1059.0 L1785.0,1059.0 L1787.0,1059.0 L1789.0,1059.0 L1791.0,1059.0 L1793.0,1059.1 L1795.0,1059.1 L1797.0,1059.1 L1799.0,1059.1 L1801.0,1059.1 L1803.0,1059.1 L1805.0,1059.2 L1807.0,1059.2 L1809.0,1059.2 L1811.0,1059.2 L1813.0,1059.2 L1815.0,1059.2 L1817.0,1059.3 L1819.0,1059.3 L1821.0,1059.3 L1823.0,1059.3 L1825.0,1059.3 L1827.0,1059.3 L1829.0,1059.4 L1831.0,1059.4 L1833.0,1059.4 L1835.0,1059.4 L1837.0,1059.4 L1839.0,1059.4 L1841.0,1059.5 L1843.0,1059.5 L1845.0,1059.5 L1847.0,1059.5" stroke="#f00" stroke-width="2"/>
<path d="M127.0,997.6 L129.0,997.6 L131.0,997.6 L133.0,997.6 L135.0,997.6 L137.0,997.6 L139.0,997.6 L141.0,997.6 L143.0,997.6 L145.0,997.6 L147.0,997.6 L149.0,997.7 L151.0,997.7 L153.0,997.7 L155.0,997.7 L157.0,997.7 L159.0,997.7 L161.0,997.7 L163.0,997.7 L165.0,997.7 L167.0,997.7 L169.0,997.7 L171.0,997.7 L173.0,997.7 L175.0,997.7 L177.0,997.7 L179.0,997.7 L181.0,997.7 L183.0,997.7 L185.0,997.7 L187.0,997.7 L189.0,997.7 L191.0,997.7 L193.0,997.7 L195.0,997.7 L197.0,997.8 L199.0,997.8 L201.0,997.8 L203.0,997.8 L205.0,997.8 L207.0,997.8 L209.0,997.8 L211.0,997.8 L213.0,997.8 L215.0,997.8 L217.0,997.8 L219.0,997.8 L221.0,997.8 L223.0,997.8 L225.0,997.8 L227.0,997.8 L229.0,997.8 L231.0,997.8 L233.0,997.8 L235.0,997.8 L237.0,997.9 L239.0,997.9 L241.0,997.9 L243.0,997.9 L245.0,997.9 L247.0,997.9 L249.0,997.9 L251.0,997.9 L253.0,997.9 L255.0,997.9 L257.0,997.9 L259.0,997.9 L261.0,997.9 L263.0,997.9 L265.0,997.9 L267.0,997.9 L269.0,998.0 L271.0,998.0 L273.0,998.0 L275.0,998.0 L277.0,998.0 L279.0,998.0 L281.0,998.0 L283.0,998.0 L285.0,998.0 L287.0,998.0 L289.0,998.0 L291.0,998.0 L293.0,998.0 L295.0,998.0 L297.0,998.1 L299.0,998.1 L301.0,998.1 L303.0,998.1 L305.0,998.1 L307.0,998.1 L309.0,998.1 L311.0,998.1 L313.0,998.1 L315.0,998.1 L317.0,998.1 L319.0,998.2 L321.0,998.2 L323.0,998.2 L325.0,998.2 L327.0,998.2 L329.0,998.2 L331.0,998.2 L333.0,998.2 L335.0,998.2 L337.0,998.2 L339.0,998.3 L341.0,998.3 L343.0,998.3 L345.0,998.3 L347.0,998.3 L349.0,998.3 L351.0,998.3 L353.0,998.3 L355.0,998.4 L357.0,998.4 L359.0,998.4 L361.0,998.4 L363.0,998.4 L365.0,998.4 L367.0,998.4 L369.0,998.5 L371.0,998.5 L373.0,998.5 L375.0,998.5 L377.0,998.5 L379.0,998.5 L381.0,998.6 L383.0,998.6 L385.0,998.6 L387.0,998.6 L389.0,998.6 L391.0,998.6 L393.0,998.7 L395.0,998.7 L397.0,998.7 L399.0,998.7 L401.0,998.7 L403.0,998.8 L405.0,998.8 L407.0,998.8 L409.0,998.8 L411.0,998.8 L413.0,998.9 L415.0,998.9 L417.0,998.9 L419.0,998.9 L421.0,999.0 L423.0,999.0 L425.0,999.0 L427.0,999.0 L429.0,999.1 L431.0,999.1 L433.0,999.1 L435.0,999.1 L437.0,999.2 L439.0,999.2 L441.0,999.2 L443.0,999.2 L445.0,999.3 L447.0,999.3 L449.0,999.3 L451.0,999.4 L453.0,999.4 L455.0,999.4 L457.0,999.4 L459.0,999.5 L461.0,999.5 L463.0,999.5 L465.0,999.6 L467.0,999.6 L469.0,999.6 L471.0,999.7 L473.0,999.7 L475.0,999.7 L477.0,999.7 L479.0,999.8 L481.0,999.8 L483.0,999.8 L485.0,999.9 L487.0,999.9 L489.0,999.9 L491.0,1000.0 L493.0,1000.0 L495.0,1000.0 L497.0,1000.1 L499.0,1000.1 L501.0,1000.1 L503.0,1000.2 L505.0,1000.2 L507.0,1000.2 L509.0,1000.3 L511.0,1000.3 L513.0,1000.3 L515.0,1000.4 L517.0,1000.4 L519.0,1000.4 L521.0,1000.5 L523.0,1000.5 L525.0,1000.5 L527.0,1000.6 L529.0,1000.6 L531.0,1000.6 L533.0,1000.7 L535.0,1000.7 L537.0,1000.7 L539.0,1000.8 L541.0,1000.8 L543.0,1000.8 L545.0,1000.9 L547.0,1000.9 L549.0,1000.9 L551.0,1001.0 L553.0,1001.0 L555.0,1001.0 L557.0,1001.1 L559.0,1001.1 L561.0,1001.1 L563.0,1001.1 L565.0,1001.2 L567.0,1001.2 L569.0,1001.2 L571.0,1001.3 L573.0,1001.3 L575.0,1001.3 L577.0,1001.4 L579.0,1001.4 L581.0,1001.4 L583.0,1001.4 L585.0,1001.5 L587.0,1001.5 L589.0,1001.5 L591.0,1001.6 L593.0,1001.6 L595.0,1001.6 L597.0,1001.6 L599.0,1001.7 L601.0,1001.7 L603.0,1001.7 L605.0,1001.8 L607.0,1001.8 L609.0,1001.8 L611.0,1001.9 L613.0,1001.9 L615.0,1001.9 L617.0,1001.9 L619.0,1002.0 L621.0,1002.0 L623.0,1002.0 L625.0,1002.1 L627.0,1002.1 L629.0,1002.1 L631.0,1002.2 L633.0,1002.2 L635.0,1002.2 L637.0,1002.3 L639.0,1002.3 L641.0,1002.3 L643.0,1002.4 L645.0,1002.4 L647.0,1002.4 L649.0,1002.5 L651.0,1002.5 L653.0,1002.5 L655.0,1002.6 L657.0,1002.6 L659.0,1002.7 L661.0,1002.7 L663.0,1002.7 L665.0,1002.8 L667.0,1002.8 L669.0,1002.9 L671.0,1002.9 L673.0,1002.9 L675.0,1003.0 L677.0,1003.0 L679.0,1003.1 L681.0,1003.1 L683.0,1003.2 L685.0,1003.2 L687.0,1003.3 L689.0,1003.3 L691.0,1003.4 L693.0,1003.4 L695.0,1003.5 L697.0,1003.6 L699.0,1003.6 L701.0,1003.7 L703.0,1003.7 L705.0,1003.8 L707.0,1003.9 L709.0,1003.9 L711.0,1004.0 L713.0,1004.1 L715.0,1004.1 L717.0,1004.2 L719.0,1004.3 L721.0,1004.4 L723.0,1004.4 L725.0,1004.5 L727.0,1004.6 L729.0,1004.7 L731.0,1004.8 L733.0,1004.9 L735.0,1005.0 L737.0,1005.0 L739.0,1005.1 L741.0,1005.2 L743.0,1005.3 L745.0,1005.4 L747.0,1005.5 L749.0,1005.6 L751.0,1005.7 L753.0,1005.9 L755.0,1006.0 L757.0,1006.1 L759.0,1006.2 L761.0,1006.3 L763.0,1006.4 L765.0,1006.5 L767.0,1006.7 L769.0,1006.8 L771.0,1006.9 L773.0,1007.1 L775.0,1007.2 L777.0,1007.3 L779.0,1007.5 L781.0,1007.6 L783.0,1007.7 L785.0,1007.9 L787.0,1008.0 L789.0,1008.2 L791.0,1008.3 L793.0,1008.5 L795.0,1008.6 L797.0,1008.8 L799.0,1009.0 L801.0,1009.1 L803.0,1009.3 L805.0,1009.4 L807.0,1009.6 L809.0,1009.8 L811.0,1009.9 L813.0,1010.1 L815.0,1010.3 L817.0,1010.5 L819.0,1010.6 L821.0,1010.8 L823.0,1011.0 L825.0,1011.2 L827.0,1011.4 L829.0,1011.6 L831.0,1011.7 L833.0,1011.9 L835.0,1012.1 L837.0,1012.3 L839.0,1012.5 L841.0,1012.7 L843.0,1012.9 L845.0,1013.1 L847.0,1013.3 L849.0,1013.5 L851.0,1013.7 L853.0,1013.9 L855.0,1014.1 L857.0,1014.3 L859.0,1014.6 L861.0,1014.8 L863.0,1015.0 L865.0,1015.2 L867.0,1015.4 L869.0,1015.7 L871.0,1015.9 L873.0,1016.1 L875.0,1016.3 L877.0,1016.6 L879.0,1016.8 L881.0,1017.0 L883.0,1017.3 L885.0,1017.5 L887.0,1017.8 L889.0,1018.0 L891.0,1018.2 L893.0,1018.5 L895.0,1018.7 L897.0,1019.0 L899.0,1019.2 L901.0,1019.5 L903.0,1019.8 L905.0,1020.0 L907.0,1020.3 L909.0,1020.5 L911.0,1020.8 L913.0,1021.1 L915.0,1021.3 L917.0,1021.6 L919.0,1021.9 L921.0,1022.2 L923.0,1022.4 L925.0,1022.7 L927.0,1023.0 L929.0,1023.3 L931.0,1023.5 L933.0,1023.8 L935.0,1024.1 L937.0,1024.4 L939.0,1024.7 L941.0,1024.9 L943.0,1025.2 L945.0,1025.5 L947.0,1025.8 L949.0,1026.1 L951.0,1026.4 L953.0,1026.7 L955.0,1026.9 L957.0,1027.2 L959.0,1027.5 L961.0,1027.8 L963.0,1028.1 L965.0,1028.3 L967.0,1028.6 L969.0,1028.9 L971.0,1029.2 L973.0,1029.5 L975.0,1029.7 L977.0,1030.0 L979.0,1030.3 L981.0,1030.5 L983.0,1030.8 L985.0,1031.1 L987.0,1031.3 L989.0,1031.6 L991.0,1031.9 L993.0,1032.1 L995.0,1032.4 L997.0,1032.6 L999.0,1032.9 L1001.0,1033.1 L1003.0,1033.3 L1005.0,1033.6 L1007.0,1033.8 L1009.0,1034.0 L1011.0,1034.3 L1013.0,1034.5 L1015.0,1034.7 L1017.0,1034.9 L1019.0,1035.2 L1021.0,1035.4 L1023.0,1035.6 L1025.0,1035.8 L1027.0,1036.0 L1029.0,1036.2 L1031.0,1036.4 L1033.0,1036.6 L1035.0,1036.8 L1037.0,1037.0 L1039.0,1037.2 L1041.0,1037.4 L1043.0,1037.5 L1045.0,1037.7 L1047.0,1037.9 L1049.0,1038.1 L1051.0,1038.3 L1053.0,1038.4 L1055.0,1038.6 L1057.0,1038.8 L1059.0,1038.9 L1061.0,1039.1 L1063.0,1039.2 L1065.0,1039.4 L1067.0,1039.5 L1069.0,1039.7 L1071.0,1039.8 L1073.0,1040.0 L1075.0,1040.1 L1077.0,1040.2 L1079.0,1040.4 L1081.0,1040.5 L1083.0,1040.6 L1085.0,1040.8 L1087.0,1040.9 L1089.0,1041.0 L1091.0,1041.1 L1093.0,1041.2 L1095.0,1041.3 L1097.0,1041.4 L1099.0,1041.5 L1101.0,1041.6 L1103.0,1041.7 L1105.0,1041.8 L1107.0,1041.9 L1109.0,1042.0 L1111.0,1042.1 L1113.0,1042.2 L1115.0,1042.3 L1117.0,1042.3 L1119.0,1042.4 L1121.0,1042.5 L1123.0,1042.5 L1125.0,1042.6 L1127.0,1042.6 L1129.0,1042.7 L1131.0,1042.7 L1133.0,1042.8 L1135.0,1042.8 L1137.0,1042.8 L1139.0,1042.8 L1141.0,1042.8 L1143.0,1042.9 L1145.0,1042.9 L1147.0,1042.8 L1149.0,1042.8 L1151.0,1042.8 L1153.0,1042.8 L1155.0,1042.8 L1157.0,1042.7 L1159.0,1042.7 L1161.0,1042.6 L1163.0,1042.6 L1165.0,1042.5 L1167.0,1042.4 L1169.0,1042.3 L1171.0,1042.2 L1173.0,1042.1 L1175.0,1042.0 L1177.0,1041.9 L1179.0,1041.7 L1181.0,1041.6 L1183.0,1041.4 L1185.0,1041.3 L1187.0,1041.1 L1189.0,1040.9 L1191.0,1040.7 L1193.0,1040.5 L1195.0,1040.2 L1197.0,1040.0 L1199.0,1039.8 L1201.0,1039.5 L1203.0,1039.2 L1205.0,1038.9 L1207.0,1038.6 L1209.0,1038.3 L1211.0,1037.9 L1213.0,1037.6 L1215.0,1037.2 L1217.0,1036.8 L1219.0,1036.4 L1221.0,1036.0 L1223.0,1035.5 L1225.0,1035.1 L1227.0,1034.6 L1229.0,1034.1 L1231.0,1033.6 L1233.0,1033.1 L1235.0,1032.5 L1237.0,1032.0 L1239.0,1031.4 L1241.0,1030.8 L1243.0,1030.2 L1245.0,1029.6 L1247.0,1028.9 L1249.0,1028.3 L1251.0,1027.6 L1253.0,1026.9 L1255.0,1026.2 L1257.0,1025.4 L1259.0,1024.7 L1261.0,1023.9 L1263.0,1023.2 L1265.0,1022.4 L1267.0,1021.6 L1269.0,1020.8 L1271.0,1020.0 L1273.0,1019.1 L1275.0,1018.3 L1277.0,1017.5 L1279.0,1016.7 L1281.0,1015.8 L1283.0,1015.0 L1285.0,1014.2 L1287.0,1013.4 L1289.0,1012.6 L1291.0,1011.8 L1293.0,1011.0 L1295.0,1010.2 L1297.0,1009.5 L1299.0,1008.8 L1301.0,1008.1 L1303.0,1007.4 L1305.0,1006.8 L1307.0,1006.2 L1309.0,1005.7 L1311.0,1005.2 L1313.0,1004.7 L1315.0,1004.3 L1317.0,1003.9 L1319.0,1003.6 L1321.0,1003.3 L1323.0,1003.0 L1325.0,1002.9 L1327.0,1002.7 L1329.0,1002.6 L1331.0,1002.6 L1333.0,1002.6 L1335.0,1002.7 L1337.0,1002.8 L1339.0,1002.9 L1341.0,1003.1 L1343.0,1003.4 L1345.0,1003.7 L1347.0,1004.0 L1349.0,1004.3 L1351.0,1004.7 L1353.0,1005.2 L1355.0,1005.6 L1357.0,1006.1 L1359.0,1006.6 L1361.0,1007.2 L1363.0,1007.7 L1365.0,1008.3 L1367.0,1008.9 L1369.0,1009.5 L1371.0,1010.2 L1373.0,1010.8 L1375.0,1011.5 L1377.0,1012.2 L1379.0,1012.8 L1381.0,1013.5 L1383.0,1014.2 L1385.0,1014.9 L1387.0,1015.6 L1389.0,1016.4 L1391.0,1017.1 L1393.0,1017.8 L1395.0,1018.5 L1397.0,1019.2 L1399.0,1019.9 L1401.0,1020.6 L1403.0,1021.3 L1405.0,1022.0 L1407.0,1022.7 L1409.0,1023.4 L1411.0,1024.1 L1413.0,1024.8 L1415.0,1025.5 L1417.0,1026.2 L1419.0,1026.8 L1421.0,1027.5 L1423.0,1028.1 L1425.0,1028.8 L1427.0,1029.4 L1429.0,1030.0 L1431.0,1030.7 L1433.0,1031.3 L1435.0,1031.9 L1437.0,1032.5 L1439.0,1033.0 L1441.0,1033.6 L1443.0,1034.2 L1445.0,1034.7 L1447.0,1035.3 L1449.0,1035.8 L1451.0,1036.3 L1453.0,1036.8 L1455.0,1037.3 L1457.0,1037.8 L1459.0,1038.3 L1461.0,1038.8 L1463.0,1039.3 L1465.0,1039.7 L1467.0,1040.2 L1469.0,1040.6 L1471.0,1041.1 L1473.0,1041.5 L1475.0,1041.9 L1477.0,1042.3 L1479.0,1042.7 L1481.0,1043.1 L1483.0,1043.4 L1485.0,1043.8 L1487.0,1044.2 L1489.0,1044.5 L1491.0,1044.9 L1493.0,1045.2 L1495.0,1045.5 L1497.0,1045.9 L1499.0,1046.2 L1501.0,1046.5 L1503.0,1046.8 L1505.0,1047.1 L1507.0,1047.4 L1509.0,1047.6 L1511.0,1047.9 L1513.0,1048.2 L1515.0,1048.4 L1517.0,1048.7 L1519.0,1048.9 L1521.0,1049.2 L1523.0,1049.4 L1525.0,1049.6 L1527.0,1049.8 L1529.0,1050.1 L1531.0,1050.3 L1533.0,1050.5 L1535.0,1050.7 L1537.0,1050.9 L1539.0,1051.0 L1541.0,1051.2 L1543.0,1051.4 L1545.0,1051.6 L1547.0,1051.8 L1549.0,1051.9 L1551.0,1052.1 L1553.0,1052.2 L1555.0,1052.4 L1557.0,1052.6 L1559.0,1052.7 L1561.0,1052.8 L1563.0,1053.0 L1565.0,1053.1 L1567.0,1053.3 L1569.0,1053.4 L1571.0,1053.5 L1573.0,1053.6 L1575.0,1053.8 L1577.0,1053.9 L1579.0,1054.0 L1581.0,1054.1 L1583.0,1054.2 L1585.0,1054.3 L1587.0,1054.4 L1589.0,1054.5 L1591.0,1054.6 L1593.0,1054.7 L1595.0,1054.8 L1597.0,1054.9 L1599.0,1055.0 L1601.0,1055.1 L1603.0,1055.2 L1605.0,1055.3 L1607.0,1055.4 L1609.0,1055.4 L1611.0,1055.5 L1613.0,1055.6 L1615.0,1055.7 L1617.0,1055.8 L1619.0,1055.8 L1621.0,1055.9 L1623.0,1056.0 L1625.0,1056.0 L1627.0,1056.1 L1629.0,1056.2 L1631.0,1056.2 L1633.0,1056.3 L1635.0,1056.4 L1637.0,1056.4 L1639.0,1056.5 L1641.0,1056.6 L1643.0,1056.6 L1645.0,1056.7 L1647.0,1056.7 L1649.0,1056.8 L1651.0,1056.8 L1653.0,1056.9 L1655.0,1057.0 L1657.0,1057.0 L1659.0,1057.1 L1661.0,1057.1 L1663.0,1057.2 L1665.0,1057.2 L1667.0,1057.3 L1669.0,1057.3 L1671.0,1057.4 L1673.0,1057.4 L1675.0,1057.4 L1677.0,1057.5 L1679.0,1057.5 L1681.0,1057.6 L1683.0,1057.6 L1685.0,1057.7 L1687.0,1057.7 L1689.0,1057.8 L1691.0,1057.8 L1693.0,1057.8 L1695.0,1057.9 L1697.0,1057.9 L1699.0,1057.9 L1701.0,1058.0 L1703.0,1058.0 L1705.0,1058.1 L1707.0,1058.1 L1709.0,1058.1 L1711.0,1058.2 L1713.0,1058.2 L1715.0,1058.2 L1717.0,1058.3 L1719.0,1058.3 L1721.0,1058.3 L1723.0,1058.4 L1725.0,1058.4 L1727.0,1058.4 L1729.0,1058.5 L1731.0,1058.5 L1733.0,1058.5 L1735.0,1058.6 L1737.0,1058.6 L1739.0,1058.6 L1741.0,1058.6 L1743.0,1058.7 L1745.0,1058.7 L1747.0,1058.7 L1749.0,1058.8 L1751.0,1058.8 L1753.0,1058.8 L1755.0,1058.8 L1757.0,1058.9 L1759.0,1058.9 L1761.0,1058.9 L1763.0,1058.9 L1765.0,1059.0 L1767.0,1059.0 L1769.0,1059.0 L1771.0,1059.0 L1773.0,1059.1 L1775.0,1059.1 L1777.0,1059.1 L1779.0,1059.1 L1781.0,1059.2 L1783.0,1059.2 L1785.0,1059.2 L1787.0,1059.2 L1789.0,1059.3 L1791.0,1059.3 L1793.0,1059.3 L1795.0,1059.3 L1797.0,1059.3 L1799.0,1059.4 L1801.0,1059.4 L1803.0,1059.4 L1805.0,1059.4 L1807.0,1059.4 L1809.0,1059.5 L1811.0,1059.5 L1813.0,1059.5 L1815.0,1059.5 L1817.0,1059.5 L1819.0,1059.6 L1821.0,1059.6 L1823.0,1059.6 L1825.0,1059.6 L1827.0,1059.6 L1829.0,1059.6 L1831.0,1059.7 L1833.0,1059.7 L1835.0,1059.7 L1837.0,1059.7 L1839.0,1059.7 L1841.0,1059.8 L1843.0,1059.8 L1845.0,1059.8 L1847.0,1059.8" stroke="#f00" stroke-width="2"/>
<g fill="#000"><circle cx="127.0" cy="1764.6" r="4.5"/><circle cx="130.5" cy="1765.1" r="4.5"/><circle cx="134.0" cy="1762.0" r="4.5"/><circle cx="137.5" cy="1761.5" r="4.5"/><circle cx="141.0" cy="1762.0" r="4.5"/><circle cx="144.5" cy="1763.7" r="4.5"/><circle cx="148.0" cy="1763.3" r="4.5"/><circle cx="151.5" cy="1765.6" r="4.5"/><circle cx="155.0" cy="1759.5" r="4.5"/><circle cx="158.5" cy="1751.4" r="4.5"/><circle cx="162.0" cy="1744.7" r="4.5"/><circle cx="165.5" cy="1749.7" r="4.5"/><circle cx="169.0" cy="1756.8" r="4.5"/><circle cx="172.5" cy="1763.0" r="4.5"/><circle cx="176.0" cy="1773.4" r="4.5"/><circle cx="179.5" cy="1772.9" r="4.5"/><circle cx="183.0" cy="1772.1" r="4.5"/><circle cx="186.5" cy="1770.8" r="4.5"/><circle cx="190.0" cy="1765.2" r="4.5"/><circle cx="193.5" cy="1763.5" r="4.5"/><circle cx="197.0" cy="1759.5" r="4.5"/><circle cx="200.5" cy="1753.8" r="4.5"/><circle cx="204.0" cy="1753.3" r="4.5"/><circle cx="207.5" cy="1753.9" r="4.5"/><circle cx="211.0" cy="1751.0" r="4.5"/><circle cx="214.5" cy="1745.6" r="4.5"/><circle cx="218.0" cy="1748.7" r="4.5"/><circle cx="221.5" cy="1758.7" r="4.5"/><circle cx="225.0" cy="1766.7" r="4.5"/><circle cx="228.5" cy="1766.6" r="4.5"/><circle cx="232.0" cy="1763.7" r="4.5"/><circle cx="235.5" cy="1759.7" r="4.5"/><circle cx="239.0" cy="1751.8" r="4.5"/><circle cx="242.5" cy="1744.2" r="4.5"/><circle cx="246.0" cy="1749.4" r="4.5"/><circle cx="249.5" cy="1757.1" r="4.5"/><circle cx="253.0" cy="1759.4" r="4.5"/><circle cx="256.5" cy="1754.2" r="4.5"/><circle cx="260.0" cy="1752.1" r="4.5"/><circle cx="263.5" cy="1752.4" r="4.5"/><circle cx="267.0" cy="1758.7" r="4.5"/><circle cx="270.5" cy="1758.9" r="4.5"/><circle cx="274.0" cy="1761.2" r="4.5"/><circle cx="277.5" cy="1758.3" r="4.5"/><circle cx="281.0" cy="1754.7" r="4.5"/><circle cx="284.5" cy="1751.9" r="4.5"/><circle cx="288.0" cy="1753.0" r="4.5"/><circle cx="291.5" cy="1756.0" r="4.5"/><circle cx="295.0" cy="1759.5" r="4.5"/><circle cx="298.5" cy="1761.2" r="4.5"/><circle cx="302.0" cy="1757.6" r="4.5"/><circle cx="305.5" cy="1747.4" r="4.5"/><circle cx="309.0" cy="1736.3" r="4.5"/><circle cx="312.5" cy="1747.1" r="4.5"/><circle cx="316.0" cy="1755.7" r="4.5"/><circle cx="319.5" cy="1760.1" r="4.5"/><circle cx="323.0" cy="1756.1" r="4.5"/><circle cx="326.5" cy="1752.1" r="4.5"/><circle cx="330.0" cy="1749.1" r="4.5"/><circle cx="333.5" cy="1749.5" r="4.5"/><circle cx="337.0" cy="1749.7" r="4.5"/><circle cx="340.5" cy="1747.6" r="4.5"/><circle cx="344.0" cy="1748.2" r="4.5"/><circle cx="347.5" cy="1746.9" r="4.5"/><circle cx="351.0" cy="1746.4" r="4.5"/><circle cx="354.5" cy="1746.5" r="4.5"/><circle cx="358.0" cy="1748.6" r="4.5"/><circle cx="361.5" cy="1753.6" r="4.5"/><circle cx="365.0" cy="1752.5" r="4.5"/><circle cx="368.5" cy="1747.2" r="4.5"/><circle cx="372.0" cy="1743.4" r="4.5"/><circle cx="375.5" cy="1742.9" r="4.5"/><circle cx="379.0" cy="1739.2" r="4.5"/><circle cx="382.5" cy="1729.0" r="4.5"/><circle cx="386.0" cy="1719.8" r="4.5"/><circle cx="389.5" cy="1729.8" r="4.5"/><circle cx="393.0" cy="1740.1" r="4.5"/><circle cx="396.5" cy="1742.8" r="4.5"/><circle cx="400.0" cy="1742.7" r="4.5"/><circle cx="403.5" cy="1740.4" r="4.5"/><circle cx="407.0" cy="1737.8" r="4.5"/><circle cx="410.5" cy="1733.5" r="4.5"/><circle cx="414.0" cy="1728.5" r="4.5"/><circle cx="417.5" cy="1721.9" r="4.5"/><circle cx="421.0" cy="1715.4" r="4.5"/><circle cx="424.5" cy="1720.1" r="4.5"/><circle cx="428.0" cy="1724.4" r="4.5"/><circle cx="431.5" cy="1718.3" r="4.5"/><circle cx="435.0" cy="1723.2" r="4.5"/><circle cx="438.5" cy="1726.3" r="4.5"/><circle cx="442.0" cy="1726.4" r="4.5"/><circle cx="445.5" cy="1719.0" r="4.5"/><circle cx="449.0" cy="1714.3" r="4.5"/><circle cx="452.5" cy="1706.8" r="4.5"/><circle cx="456.0" cy="1699.4" r="4.5"/><circle cx="459.5" cy="1694.8" r="4.5"/><circle cx="463.0" cy="1692.1" r="4.5"/><circle cx="466.5" cy="1691.2" r="4.5"/><circle cx="470.0" cy="1692.5" r="4.5"/><circle cx="473.5" cy="1695.3" r="4.5"/><circle cx="477.0" cy="1694.4" r="4.5"/><circle cx="480.5" cy="1700.2" r="4.5"/><circle cx="484.0" cy="1703.0" r="4.5"/><circle cx="487.5" cy="1706.8" r="4.5"/><circle cx="491.0" cy="1712.7" r="4.5"/><circle cx="494.5" cy="1717.0" r="4.5"/><circle cx="498.0" cy="1721.6" r="4.5"/><circle cx="501.5" cy="1723.7" r="4.5"/><circle cx="505.0" cy="1721.7" r="4.5"/><circle cx="508.5" cy="1717.2" r="4.5"/><circle cx="512.0" cy="1723.5" r="4.5"/><circle cx="515.5" cy="1728.5" r="4.5"/><circle cx="519.0" cy="1725.2" r="4.5"/><circle cx="522.5" cy="1714.1" r="4.5"/><circle cx="526.0" cy="1702.5" r="4.5"/><circle cx="529.5" cy="1701.0" r="4.5"/><circle cx="533.0" cy="1695.5" r="4.5"/><circle cx="536.5" cy="1691.4" r="4.5"/><circle cx="540.0" cy="1695.3" r="4.5"/><circle cx="543.5" cy="1701.4" r="4.5"/><circle cx="547.0" cy="1705.3" r="4.5"/><circle cx="550.5" cy="1706.9" r="4.5"/><circle cx="554.0" cy="1709.5" r="4.5"/><circle cx="557.5" cy="1715.5" r="4.5"/><circle cx="561.0" cy="1719.1" r="4.5"/><circle cx="564.5" cy="1719.6" r="4.5"/><circle cx="568.0" cy="1719.1" r="4.5"/><circle cx="571.5" cy="1717.4" r="4.5"/><circle cx="575.0" cy="1714.1" r="4.5"/><circle cx="578.5" cy="1712.7" r="4.5"/><circle cx="582.0" cy="1714.4" r="4.5"/><circle cx="585.5" cy="1715.9" r="4.5"/><circle cx="589.0" cy="1719.0" r="4.5"/><circle cx="592.5" cy="1721.5" r="4.5"/><circle cx="596.0" cy="1719.9" r="4.5"/><circle cx="599.5" cy="1719.1" r="4.5"/><circle cx="603.0" cy="1718.6" r="4.5"/><circle cx="606.5" cy="1718.5" r="4.5"/><circle cx="610.0" cy="1719.6" r="4.5"/><circle cx="613.5" cy="1720.0" r="4.5"/><circle cx="617.0" cy="1723.2" r="4.5"/><circle cx="620.5" cy="1725.1" r="4.5"/><circle cx="624.0" cy="1728.1" r="4.5"/><circle cx="627.5" cy="1729.4" r="4.5"/><circle cx="631.0" cy="1727.9" r="4.5"/><circle cx="634.5" cy="1722.6" r="4.5"/><circle cx="638.0" cy="1720.7" r="4.5"/><circle cx="641.5" cy="1716.7" r="4.5"/><circle cx="645.0" cy="1717.1" r="4.5"/><circle cx="648.5" cy="1717.5" r="4.5"/><circle cx="652.0" cy="1716.7" r="4.5"/><circle cx="655.5" cy="1709.0" r="4.5"/><circle cx="659.0" cy="1702.4" r="4.5"/><circle cx="662.5" cy="1706.1" r="4.5"/><circle cx="666.0" cy="1710.7" r="4.5"/><circle cx="669.5" cy="1716.1" r="4.5"/><circle cx="673.0" cy="1716.5" r="4.5"/><circle cx="676.5" cy="1709.0" r="4.5"/><circle cx="680.0" cy="1704.2" r="4.5"/><circle cx="683.5" cy="1707.0" r="4.5"/><circle cx="687.0" cy="1708.0" r="4.5"/><circle cx="690.5" cy="1709.6" r="4.5"/><circle cx="694.0" cy="1707.4" r="4.5"/><circle cx="697.5" cy="1707.1" r="4.5"/><circle cx="701.0" cy="1703.5" r="4.5"/><circle cx="704.5" cy="1701.7" r="4.5"/><circle cx="708.0" cy="1698.3" r="4.5"/><circle cx="711.5" cy="1699.8" r="4.5"/><circle cx="715.0" cy="1697.0" r="4.5"/><circle cx="718.5" cy="1692.2" r="4.5"/><circle cx="722.0" cy="1684.2" r="4.5"/><circle cx="725.5" cy="1679.9" r="4.5"/><circle cx="729.0" cy="1673.0" r="4.5"/><circle cx="732.5" cy="1670.3" r="4.5"/><circle cx="736.0" cy="1669.5" r="4.5"/><circle cx="739.5" cy="1670.0" r="4.5"/><circle cx="743.0" cy="1670.7" r="4.5"/><circle cx="746.5" cy="1668.4" r="4.5"/><circle cx="750.0" cy="1663.6" r="4.5"/><circle cx="753.5" cy="1655.5" r="4.5"/><circle cx="757.0" cy="1646.5" r="4.5"/><circle cx="760.5" cy="1639.7" r="4.5"/><circle cx="764.0" cy="1633.3" r="4.5"/><circle cx="767.5" cy="1626.1" r="4.5"/><circle cx="771.0" cy="1621.8" r="4.5"/><circle cx="774.5" cy="1617.5" r="4.5"/><circle cx="778.0" cy="1610.2" r="4.5"/><circle cx="781.5" cy="1601.5" r="4.5"/><circle cx="785.0" cy="1593.7" r="4.5"/><circle cx="788.5" cy="1585.5" r="4.5"/><circle cx="792.0" cy="1577.4" r="4.5"/><circle cx="795.5" cy="1569.6" r="4.5"/><circle cx="799.0" cy="1563.6" r="4.5"/><circle cx="802.5" cy="1553.5" r="4.5"/><circle cx="806.0" cy="1545.6" r="4.5"/><circle cx="809.5" cy="1536.1" r="4.5"/><circle cx="813.0" cy="1525.1" r="4.5"/><circle cx="816.5" cy="1514.9" r="4.5"/><circle cx="820.0" cy="1504.3" r="4.5"/><circle cx="823.5" cy="1493.9" r="4.5"/><circle cx="827.0" cy="1482.5" r="4.5"/><circle cx="830.5" cy="1472.1" r="4.5"/><circle cx="834.0" cy="1461.8" r="4.5"/><circle cx="837.5" cy="1450.2" r="4.5"/><circle cx="841.0" cy="1440.6" r="4.5"/><circle cx="844.5" cy="1430.2" r="4.5"/><circle cx="848.0" cy="1417.5" r="4.5"/><circle cx="851.5" cy="1408.4" r="4.5"/><circle cx="855.0" cy="1399.9" r="4.5"/><circle cx="858.5" cy="1395.2" r="4.5"/><circle cx="862.0" cy="1387.8" r="4.5"/><circle cx="865.5" cy="1379.4" r="4.5"/><circle cx="869.0" cy="1369.5" r="4.5"/><circle cx="872.5" cy="1361.0" r="4.5"/><circle cx="876.0" cy="1359.0" r="4.5"/><circle cx="879.5" cy="1356.4" r="4.5"/><circle cx="883.0" cy="1354.3" r="4.5"/><circle cx="886.5" cy="1359.5" r="4.5"/><circle cx="890.0" cy="1357.3" r="4.5"/><circle cx="893.5" cy="1354.1" r="4.5"/><circle cx="897.0" cy="1351.2" r="4.5"/><circle cx="900.5" cy="1348.9" r="4.5"/><circle cx="904.0" cy="1344.5" r="4.5"/><circle cx="907.5" cy="1340.4" r="4.5"/><circle cx="911.0" cy="1331.6" r="4.5"/><circle cx="914.5" cy="1324.6" r="4.5"/><circle cx="918.0" cy="1316.0" r="4.5"/><circle cx="921.5" cy="1306.3" r="4.5"/><circle cx="925.0" cy="1303.4" r="4.5"/><circle cx="928.5" cy="1293.3" r="4.5"/><circle cx="932.0" cy="1282.1" r="4.5"/><circle cx="935.5" cy="1269.4" r="4.5"/><circle cx="939.0" cy="1261.8" r="4.5"/><circle cx="942.5" cy="1251.3" r="4.5"/><circle cx="946.0" cy="1244.5" r="4.5"/><circle cx="949.5" cy="1238.4" r="4.5"/><circle cx="953.0" cy="1230.1" r="4.5"/><circle cx="956.5" cy="1225.0" r="4.5"/><circle cx="960.0" cy="1217.9" r="4.5"/><circle cx="963.5" cy="1207.3" r="4.5"/><circle cx="967.0" cy="1197.3" r="4.5"/><circle cx="970.5" cy="1190.7" r="4.5"/><circle cx="974.0" cy="1184.9" r="4.5"/><circle cx="977.5" cy="1182.8" r="4.5"/><circle cx="981.0" cy="1182.0" r="4.5"/><circle cx="984.5" cy="1177.2" r="4.5"/><circle cx="988.0" cy="1171.3" r="4.5"/><circle cx="991.5" cy="1166.7" r="4.5"/><circle cx="995.0" cy="1162.5" r="4.5"/><circle cx="998.5" cy="1159.9" r="4.5"/><circle cx="1002.0" cy="1159.2" r="4.5"/><circle cx="1005.5" cy="1160.7" r="4.5"/><circle cx="1009.0" cy="1165.3" r="4.5"/><circle cx="1012.5" cy="1169.4" r="4.5"/><circle cx="1016.0" cy="1171.5" r="4.5"/><circle cx="1019.5" cy="1172.8" r="4.5"/><circle cx="1023.0" cy="1176.6" r="4.5"/><circle cx="1026.5" cy="1187.0" r="4.5"/><circle cx="1030.0" cy="1197.8" r="4.5"/><circle cx="1033.5" cy="1206.0" r="4.5"/><circle cx="1037.0" cy="1212.9" r="4.5"/><circle cx="1040.5" cy="1224.7" r="4.5"/><circle cx="1044.0" cy="1234.3" r="4.5"/><circle cx="1047.5" cy="1248.3" r="4.5"/><circle cx="1051.0" cy="1261.4" r="4.5"/><circle cx="1054.5" cy="1273.8" r="4.5"/><circle cx="1058.0" cy="1285.5" r="4.5"/><circle cx="1061.5" cy="1297.8" r="4.5"/><circle cx="1065.0" cy="1308.3" r="4.5"/><circle cx="1068.5" cy="1321.4" r="4.5"/><circle cx="1072.0" cy="1333.6" r="4.5"/><circle cx="1075.5" cy="1345.9" r="4.5"/><circle cx="1079.0" cy="1355.7" r="4.5"/><circle cx="1082.5" cy="1364.9" r="4.5"/><circle cx="1086.0" cy="1372.6" r="4.5"/><circle cx="1089.5" cy="1378.1" r="4.5"/><circle cx="1093.0" cy="1385.4" r="4.5"/><circle cx="1096.5" cy="1394.6" r="4.5"/><circle cx="1100.0" cy="1401.3" r="4.5"/><circle cx="1103.5" cy="1411.9" r="4.5"/><circle cx="1107.0" cy="1422.6" r="4.5"/><circle cx="1110.5" cy="1433.5" r="4.5"/><circle cx="1114.0" cy="1440.4" r="4.5"/><circle cx="1117.5" cy="1448.2" r="4.5"/><circle cx="1121.0" cy="1455.0" r="4.5"/><circle cx="1124.5" cy="1459.0" r="4.5"/><circle cx="1128.0" cy="1462.5" r="4.5"/><circle cx="1131.5" cy="1464.8" r="4.5"/><circle cx="1135.0" cy="1466.4" r="4.5"/><circle cx="1138.5" cy="1469.8" r="4.5"/><circle cx="1142.0" cy="1473.1" r="4.5"/><circle cx="1145.5" cy="1475.1" r="4.5"/><circle cx="1149.0" cy="1478.9" r="4.5"/><circle cx="1152.5" cy="1482.4" r="4.5"/><circle cx="1156.0" cy="1487.2" r="4.5"/><circle cx="1159.5" cy="1493.1" r="4.5"/><circle cx="1163.0" cy="1502.2" r="4.5"/><circle cx="1166.5" cy="1508.4" r="4.5"/><circle cx="1170.0" cy="1516.6" r="4.5"/><circle cx="1173.5" cy="1513.5" r="4.5"/><circle cx="1177.0" cy="1519.2" r="4.5"/><circle cx="1180.5" cy="1529.2" r="4.5"/><circle cx="1184.0" cy="1537.3" r="4.5"/><circle cx="1187.5" cy="1546.5" r="4.5"/><circle cx="1191.0" cy="1551.4" r="4.5"/><circle cx="1194.5" cy="1553.4" r="4.5"/><circle cx="1198.0" cy="1556.2" r="4.5"/><circle cx="1201.5" cy="1558.9" r="4.5"/><circle cx="1205.0" cy="1560.9" r="4.5"/><circle cx="1208.5" cy="1564.8" r="4.5"/><circle cx="1212.0" cy="1568.0" r="4.5"/><circle cx="1215.5" cy="1572.9" r="4.5"/><circle cx="1219.0" cy="1575.6" r="4.5"/><circle cx="1222.5" cy="1579.7" r="4.5"/><circle cx="1226.0" cy="1583.1" r="4.5"/><circle cx="1229.5" cy="1586.3" r="4.5"/><circle cx="1233.0" cy="1593.6" r="4.5"/><circle cx="1236.5" cy="1599.9" r="4.5"/><circle cx="1240.0" cy="1606.6" r="4.5"/><circle cx="1243.5" cy="1613.8" r="4.5"/><circle cx="1247.0" cy="1612.3" r="4.5"/><circle cx="1250.5" cy="1619.0" r="4.5"/><circle cx="1254.0" cy="1623.2" r="4.5"/><circle cx="1257.5" cy="1626.3" r="4.5"/><circle cx="1261.0" cy="1627.8" r="4.5"/><circle cx="1264.5" cy="1630.6" r="4.5"/><circle cx="1268.0" cy="1630.7" r="4.5"/><circle cx="1271.5" cy="1635.8" r="4.5"/><circle cx="1275.0" cy="1638.1" r="4.5"/><circle cx="1278.5" cy="1639.4" r="4.5"/><circle cx="1282.0" cy="1643.1" r="4.5"/><circle cx="1285.5" cy="1648.5" r="4.5"/><circle cx="1289.0" cy="1652.2" r="4.5"/><circle cx="1292.5" cy="1657.1" r="4.5"/><circle cx="1296.0" cy="1661.6" r="4.5"/><circle cx="1299.5" cy="1663.7" r="4.5"/><circle cx="1303.0" cy="1664.4" r="4.5"/><circle cx="1306.5" cy="1660.8" r="4.5"/><circle cx="1310.0" cy="1659.5" r="4.5"/><circle cx="1313.5" cy="1658.3" r="4.5"/><circle cx="1317.0" cy="1660.7" r="4.5"/><circle cx="1320.5" cy="1663.6" r="4.5"/><circle cx="1324.0" cy="1666.0" r="4.5"/><circle cx="1327.5" cy="1670.6" r="4.5"/><circle cx="1331.0" cy="1674.2" r="4.5"/><circle cx="1334.5" cy="1675.6" r="4.5"/><circle cx="1338.0" cy="1675.2" r="4.5"/><circle cx="1341.5" cy="1677.3" r="4.5"/><circle cx="1345.0" cy="1680.3" r="4.5"/><circle cx="1348.5" cy="1684.5" r="4.5"/><circle cx="1352.0" cy="1688.6" r="4.5"/><circle cx="1355.5" cy="1694.0" r="4.5"/><circle cx="1359.0" cy="1700.1" r="4.5"/><circle cx="1362.5" cy="1707.8" r="4.5"/><circle cx="1366.0" cy="1714.8" r="4.5"/><circle cx="1369.5" cy="1718.7" r="4.5"/><circle cx="1373.0" cy="1714.9" r="4.5"/><circle cx="1376.5" cy="1710.2" r="4.5"/><circle cx="1380.0" cy="1705.0" r="4.5"/><circle cx="1383.5" cy="1705.8" r="4.5"/><circle cx="1387.0" cy="1710.3" r="4.5"/><circle cx="1390.5" cy="1714.8" r="4.5"/><circle cx="1394.0" cy="1717.4" r="4.5"/><circle cx="1397.5" cy="1720.4" r="4.5"/><circle cx="1401.0" cy="1723.6" r="4.5"/><circle cx="1404.5" cy="1725.5" r="4.5"/><circle cx="1408.0" cy="1722.6" r="4.5"/><circle cx="1411.5" cy="1719.9" r="4.5"/><circle cx="1415.0" cy="1719.7" r="4.5"/><circle cx="1418.5" cy="1728.4" r="4.5"/><circle cx="1422.0" cy="1736.1" r="4.5"/><circle cx="1425.5" cy="1732.9" r="4.5"/><circle cx="1429.0" cy="1733.8" r="4.5"/><circle cx="1432.5" cy="1736.3" r="4.5"/><circle cx="1436.0" cy="1738.0" r="4.5"/><circle cx="1439.5" cy="1739.4" r="4.5"/><circle cx="1443.0" cy="1741.3" r="4.5"/><circle cx="1446.5" cy="1743.4" r="4.5"/><circle cx="1450.0" cy="1747.1" r="4.5"/><circle cx="1453.5" cy="1746.3" r="4.5"/><circle cx="1457.0" cy="1747.4" r="4.5"/><circle cx="1460.5" cy="1748.8" r="4.5"/><circle cx="1464.0" cy="1750.6" r="4.5"/><circle cx="1467.5" cy="1755.3" r="4.5"/><circle cx="1471.0" cy="1763.2" r="4.5"/><circle cx="1474.5" cy="1769.8" r="4.5"/><circle cx="1478.0" cy="1775.6" r="4.5"/><circle cx="1481.5" cy="1780.8" r="4.5"/><circle cx="1485.0" cy="1782.4" r="4.5"/><circle cx="1488.5" cy="1780.2" r="4.5"/><circle cx="1492.0" cy="1782.5" r="4.5"/><circle cx="1495.5" cy="1783.5" r="4.5"/><circle cx="1499.0" cy="1779.7" r="4.5"/><circle cx="1502.5" cy="1774.9" r="4.5"/><circle cx="1506.0" cy="1768.4" r="4.5"/><circle cx="1509.5" cy="1778.9" r="4.5"/><circle cx="1513.0" cy="1788.4" r="4.5"/><circle cx="1516.5" cy="1796.0" r="4.5"/><circle cx="1520.0" cy="1801.0" r="4.5"/><circle cx="1523.5" cy="1795.9" r="4.5"/><circle cx="1527.0" cy="1793.4" r="4.5"/><circle cx="1530.5" cy="1789.8" r="4.5"/><circle cx="1534.0" cy="1791.2" r="4.5"/><circle cx="1537.5" cy="1792.8" r="4.5"/><circle cx="1541.0" cy="1796.8" r="4.5"/><circle cx="1544.5" cy="1797.2" r="4.5"/><circle cx="1548.0" cy="1798.1" r="4.5"/><circle cx="1551.5" cy="1797.0" r="4.5"/><circle cx="1555.0" cy="1793.5" r="4.5"/><circle cx="1558.5" cy="1790.7" r="4.5"/><circle cx="1562.0" cy="1792.1" r="4.5"/><circle cx="1565.5" cy="1793.9" r="4.5"/><circle cx="1569.0" cy="1798.9" r="4.5"/><circle cx="1572.5" cy="1803.2" r="4.5"/><circle cx="1576.0" cy="1806.8" r="4.5"/><circle cx="1579.5" cy="1806.2" r="4.5"/><circle cx="1583.0" cy="1806.2" r="4.5"/><circle cx="1586.5" cy="1806.5" r="4.5"/><circle cx="1590.0" cy="1807.4" r="4.5"/><circle cx="1593.5" cy="1811.1" r="4.5"/><circle cx="1597.0" cy="1812.3" r="4.5"/><circle cx="1600.5" cy="1810.5" r="4.5"/><circle cx="1604.0" cy="1808.5" r="4.5"/><circle cx="1607.5" cy="1804.8" r="4.5"/><circle cx="1611.0" cy="1801.9" r="4.5"/><circle cx="1614.5" cy="1796.9" r="4.5"/><circle cx="1618.0" cy="1795.7" r="4.5"/><circle cx="1621.5" cy="1794.0" r="4.5"/><circle cx="1625.0" cy="1796.1" r="4.5"/><circle cx="1628.5" cy="1795.8" r="4.5"/><circle cx="1632.0" cy="1797.7" r="4.5"/><circle cx="1635.5" cy="1801.0" r="4.5"/><circle cx="1639.0" cy="1803.1" r="4.5"/><circle cx="1642.5" cy="1804.5" r="4.5"/><circle cx="1646.0" cy="1804.2" r="4.5"/><circle cx="1649.5" cy="1801.6" r="4.5"/><circle cx="1653.0" cy="1802.0" r="4.5"/><circle cx="1656.5" cy="1811.4" r="4.5"/><circle cx="1660.0" cy="1812.5" r="4.5"/><circle cx="1663.5" cy="1810.5" r="4.5"/><circle cx="1667.0" cy="1810.6" r="4.5"/><circle cx="1670.5" cy="1812.9" r="4.5"/><circle cx="1674.0" cy="1809.6" r="4.5"/><circle cx="1677.5" cy="1813.7" r="4.5"/><circle cx="1681.0" cy="1814.3" r="4.5"/><circle cx="1684.5" cy="1814.5" r="4.5"/><circle cx="1688.0" cy="1814.2" r="4.5"/><circle cx="1691.5" cy="1813.6" r="4.5"/><circle cx="1695.0" cy="1812.9" r="4.5"/><circle cx="1698.5" cy="1811.9" r="4.5"/><circle cx="1702.0" cy="1814.2" r="4.5"/><circle cx="1705.5" cy="1816.3" r="4.5"/><circle cx="1709.0" cy="1817.3" r="4.5"/><circle cx="1712.5" cy="1818.4" r="4.5"/><circle cx="1716.0" cy="1814.5" r="4.5"/><circle cx="1719.5" cy="1813.1" r="4.5"/><circle cx="1723.0" cy="1811.5" r="4.5"/><circle cx="1726.5" cy="1808.8" r="4.5"/><circle cx="1730.0" cy="1807.0" r="4.5"/><circle cx="1733.5" cy="1803.1" r="4.5"/><circle cx="1737.0" cy="1798.0" r="4.5"/><circle cx="1740.5" cy="1797.6" r="4.5"/><circle cx="1744.0" cy="1794.6" r="4.5"/><circle cx="1747.5" cy="1796.9" r="4.5"/><circle cx="1751.0" cy="1798.9" r="4.5"/><circle cx="1754.5" cy="1804.2" r="4.5"/><circle cx="1758.0" cy="1806.3" r="4.5"/><circle cx="1761.5" cy="1814.0" r="4.5"/><circle cx="1765.0" cy="1817.7" r="4.5"/><circle cx="1768.5" cy="1822.6" r="4.5"/><circle cx="1772.0" cy="1823.8" r="4.5"/><circle cx="1775.5" cy="1821.8" r="4.5"/><circle cx="1779.0" cy="1816.6" r="4.5"/><circle cx="1782.5" cy="1813.0" r="4.5"/><circle cx="1786.0" cy="1809.8" r="4.5"/><circle cx="1789.5" cy="1809.4" r="4.5"/><circle cx="1793.0" cy="1809.4" r="4.5"/><circle cx="1796.5" cy="1810.7" r="4.5"/><circle cx="1800.0" cy="1813.7" r="4.5"/><circle cx="1803.5" cy="1814.2" r="4.5"/><circle cx="1807.0" cy="1816.7" r="4.5"/><circle cx="1810.5" cy="1817.8" r="4.5"/><circle cx="1814.0" cy="1817.3" r="4.5"/><circle cx="1817.5" cy="1814.1" r="4.5"/><circle cx="1821.0" cy="1811.4" r="4.5"/><circle cx="1824.5" cy="1807.8" r="4.5"/><circle cx="1828.0" cy="1805.8" r="4.5"/><circle cx="1831.5" cy="1807.9" r="4.5"/><circle cx="1835.0" cy="1809.5" r="4.5"/><circle cx="1838.5" cy="1812.5" r="4.5"/><circle cx="1842.0" cy="1815.8" r="4.5"/><circle cx="1845.5" cy="1818.4" r="4.5"/></g>
<path d="M127.0,1773.8 L130.0,1773.8 L133.0,1773.8 L136.0,1773.8 L139.0,1773.8 L142.0,1773.8 L145.0,1773.8 L148.0,1773.8 L151.0,1773.8 L154.0,1773.8 L157.0,1773.8 L160.0,1773.8 L163.0,1773.8 L166.0,1773.8 L169.0,1773.8 L172.0,1773.8 L175.0,1773.8 L178.0,1773.9 L181.0,1773.9 L184.0,1773.9 L187.0,1773.9 L190.0,1773.9 L193.0,1773.9 L196.0,1773.9 L199.0,1773.9 L202.0,1773.9 L205.0,1773.9 L208.0,1773.9 L211.0,1773.9 L214.0,1773.9 L217.0,1773.9 L220.0,1773.9 L223.0,1774.0 L226.0,1774.0 L229.0,1774.0 L232.0,1774.0 L235.0,1774.0 L238.0,1774.0 L241.0,1774.0 L244.0,1774.0 L247.0,1774.0 L250.0,1774.0 L253.0,1774.0 L256.0,1774.0 L259.0,1774.0 L262.0,1774.0 L265.0,1774.1 L268.0,1774.1 L271.0,1774.1 L274.0,1774.1 L277.0,1774.1 L280.0,1774.1 L283.0,1774.1 L286.0,1774.1 L289.0,1774.1 L292.0,1774.1 L295.0,1774.1 L298.0,1774.2 L301.0,1774.2 L304.0,1774.2 L307.0,1774.2 L310.0,1774.2 L313.0,1774.2 L316.0,1774.2 L319.0,1774.2 L322.0,1774.2 L325.0,1774.3 L328.0,1774.3 L331.0,1774.3 L334.0,1774.3 L337.0,1774.3 L340.0,1774.3 L343.0,1774.3 L346.0,1774.3 L349.0,1774.4 L352.0,1774.4 L355.0,1774.4 L358.0,1774.4 L361.0,1774.4 L364.0,1774.4 L367.0,1774.4 L370.0,1774.5 L373.0,1774.5 L376.0,1774.5 L379.0,1774.5 L382.0,1774.5 L385.0,1774.5 L388.0,1774.6 L391.0,1774.6 L394.0,1774.6 L397.0,1774.6 L400.0,1774.6 L403.0,1774.7 L406.0,1774.7 L409.0,1774.7 L412.0,1774.7 L415.0,1774.8 L418.0,1774.8 L421.0,1774.8 L424.0,1774.8 L427.0,1774.9 L430.0,1774.9 L433.0,1774.9 L436.0,1774.9 L439.0,1775.0 L442.0,1775.0 L445.0,1775.0 L448.0,1775.1 L451.0,1775.1 L454.0,1775.1 L457.0,1775.2 L460.0,1775.2 L463.0,1775.2 L466.0,1775.3 L469.0,1775.3 L472.0,1775.3 L475.0,1775.4 L478.0,1775.4 L481.0,1775.4 L484.0,1775.5 L487.0,1775.5 L490.0,1775.6 L493.0,1775.6 L496.0,1775.6 L499.0,1775.7 L502.0,1775.7 L505.0,1775.8 L508.0,1775.8 L511.0,1775.9 L514.0,1775.9 L517.0,1775.9 L520.0,1776.0 L523.0,1776.0 L526.0,1776.1 L529.0,1776.1 L532.0,1776.1 L535.0,1776.2 L538.0,1776.2 L541.0,1776.3 L544.0,1776.3 L547.0,1776.3 L550.0,1776.4 L553.0,1776.4 L556.0,1776.5 L559.0,1776.5 L562.0,1776.5 L565.0,1776.6 L568.0,1776.6 L571.0,1776.6 L574.0,1776.7 L577.0,1776.7 L580.0,1776.7 L583.0,1776.8 L586.0,1776.8 L589.0,1776.8 L592.0,1776.9 L595.0,1776.9 L598.0,1776.9 L601.0,1777.0 L604.0,1777.0 L607.0,1777.0 L610.0,1777.1 L613.0,1777.1 L616.0,1777.1 L619.0,1777.2 L622.0,1777.2 L625.0,1777.2 L628.0,1777.3 L631.0,1777.3 L634.0,1777.3 L637.0,1777.4 L640.0,1777.4 L643.0,1777.4 L646.0,1777.5 L649.0,1777.5 L652.0,1777.5 L655.0,1777.6 L658.0,1777.6 L661.0,1777.6 L664.0,1777.7 L667.0,1777.7 L670.0,1777.7 L673.0,1777.8 L676.0,1777.8 L679.0,1777.8 L682.0,1777.9 L685.0,1777.9 L688.0,1778.0 L691.0,1778.0 L694.0,1778.0 L697.0,1778.1 L700.0,1778.1 L703.0,1778.2 L706.0,1778.2 L709.0,1778.3 L712.0,1778.3 L715.0,1778.3 L718.0,1778.4 L721.0,1778.4 L724.0,1778.5 L727.0,1778.5 L730.0,1778.6 L733.0,1778.7 L736.0,1778.7 L739.0,1778.8 L742.0,1778.8 L745.0,1778.9 L748.0,1779.0 L751.0,1779.0 L754.0,1779.1 L757.0,1779.2 L760.0,1779.3 L763.0,1779.3 L766.0,1779.4 L769.0,1779.5 L772.0,1779.6 L775.0,1779.7 L778.0,1779.8 L781.0,1779.9 L784.0,1780.0 L787.0,1780.1 L790.0,1780.2 L793.0,1780.3 L796.0,1780.4 L799.0,1780.5 L802.0,1780.7 L805.0,1780.8 L808.0,1780.9 L811.0,1781.1 L814.0,1781.2 L817.0,1781.4 L820.0,1781.5 L823.0,1781.7 L826.0,1781.9 L829.0,1782.0 L832.0,1782.2 L835.0,1782.4 L838.0,1782.6 L841.0,1782.8 L844.0,1783.0 L847.0,1783.2 L850.0,1783.4 L853.0,1783.6 L856.0,1783.8 L859.0,1784.0 L862.0,1784.3 L865.0,1784.5 L868.0,1784.7 L871.0,1785.0 L874.0,1785.2 L877.0,1785.4 L880.0,1785.7 L883.0,1785.9 L886.0,1786.2 L889.0,1786.4 L892.0,1786.7 L895.0,1786.9 L898.0,1787.2 L901.0,1787.4 L904.0,1787.7 L907.0,1788.0 L910.0,1788.2 L913.0,1788.5 L916.0,1788.8 L919.0,1789.1 L922.0,1789.4 L925.0,1789.6 L928.0,1789.9 L931.0,1790.2 L934.0,1790.5 L937.0,1790.8 L940.0,1791.1 L943.0,1791.5 L946.0,1791.8 L949.0,1792.1 L952.0,1792.4 L955.0,1792.7 L958.0,1793.1 L961.0,1793.4 L964.0,1793.8 L967.0,1794.1 L970.0,1794.4 L973.0,1794.8 L976.0,1795.2 L979.0,1795.5 L982.0,1795.9 L985.0,1796.2 L988.0,1796.6 L991.0,1797.0 L994.0,1797.3 L997.0,1797.7 L1000.0,1798.1 L1003.0,1798.4 L1006.0,1798.8 L1009.0,1799.2 L1012.0,1799.5 L1015.0,1799.9 L1018.0,1800.3 L1021.0,1800.6 L1024.0,1801.0 L1027.0,1801.3 L1030.0,1801.7 L1033.0,1802.0 L1036.0,1802.4 L1039.0,1802.7 L1042.0,1803.0 L1045.0,1803.4 L1048.0,1803.7 L1051.0,1804.0 L1054.0,1804.3 L1057.0,1804.6 L1060.0,1804.9 L1063.0,1805.2 L1066.0,1805.5 L1069.0,1805.8 L1072.0,1806.1 L1075.0,1806.4 L1078.0,1806.6 L1081.0,1806.9 L1084.0,1807.2 L1087.0,1807.4 L1090.0,1807.7 L1093.0,1807.9 L1096.0,1808.2 L1099.0,1808.4 L1102.0,1808.6 L1105.0,1808.9 L1108.0,1809.1 L1111.0,1809.3 L1114.0,1809.6 L1117.0,1809.8 L1120.0,1810.0 L1123.0,1810.2 L1126.0,1810.4 L1129.0,1810.6 L1132.0,1810.8 L1135.0,1811.0 L1138.0,1811.2 L1141.0,1811.4 L1144.0,1811.6 L1147.0,1811.8 L1150.0,1812.0 L1153.0,1812.2 L1156.0,1812.4 L1159.0,1812.6 L1162.0,1812.8 L1165.0,1812.9 L1168.0,1813.1 L1171.0,1813.3 L1174.0,1813.5 L1177.0,1813.6 L1180.0,1813.8 L1183.0,1814.0 L1186.0,1814.1 L1189.0,1814.3 L1192.0,1814.4 L1195.0,1814.6 L1198.0,1814.7 L1201.0,1814.9 L1204.0,1815.0 L1207.0,1815.2 L1210.0,1815.3 L1213.0,1815.5 L1216.0,1815.6 L1219.0,1815.7 L1222.0,1815.9 L1225.0,1816.0 L1228.0,1816.1 L1231.0,1816.3 L1234.0,1816.4 L1237.0,1816.5 L1240.0,1816.6 L1243.0,1816.7 L1246.0,1816.9 L1249.0,1817.0 L1252.0,1817.1 L1255.0,1817.2 L1258.0,1817.3 L1261.0,1817.4 L1264.0,1817.5 L1267.0,1817.6 L1270.0,1817.7 L1273.0,1817.8 L1276.0,1817.9 L1279.0,1818.0 L1282.0,1818.1 L1285.0,1818.2 L1288.0,1818.3 L1291.0,1818.4 L1294.0,1818.5 L1297.0,1818.6 L1300.0,1818.7 L1303.0,1818.8 L1306.0,1818.9 L1309.0,1819.0 L1312.0,1819.1 L1315.0,1819.2 L1318.0,1819.3 L1321.0,1819.4 L1324.0,1819.4 L1327.0,1819.5 L1330.0,1819.6 L1333.0,1819.7 L1336.0,1819.8 L1339.0,1819.9 L1342.0,1819.9 L1345.0,1820.0 L1348.0,1820.1 L1351.0,1820.2 L1354.0,1820.3 L1357.0,1820.3 L1360.0,1820.4 L1363.0,1820.5 L1366.0,1820.6 L1369.0,1820.6 L1372.0,1820.7 L1375.0,1820.8 L1378.0,1820.8 L1381.0,1820.9 L1384.0,1821.0 L1387.0,1821.0 L1390.0,1821.1 L1393.0,1821.2 L1396.0,1821.2 L1399.0,1821.3 L1402.0,1821.4 L1405.0,1821.4 L1408.0,1821.5 L1411.0,1821.5 L1414.0,1821.6 L1417.0,1821.6 L1420.0,1821.7 L1423.0,1821.7 L1426.0,1821.8 L1429.0,1821.8 L1432.0,1821.9 L1435.0,1821.9 L1438.0,1822.0 L1441.0,1822.0 L1444.0,1822.0 L1447.0,1822.1 L1450.0,1822.1 L1453.0,1822.2 L1456.0,1822.2 L1459.0,1822.2 L1462.0,1822.3 L1465.0,1822.3 L1468.0,1822.3 L1471.0,1822.4 L1474.0,1822.4 L1477.0,1822.4 L1480.0,1822.5 L1483.0,1822.5 L1486.0,1822.5 L1489.0,1822.6 L1492.0,1822.6 L1495.0,1822.6 L1498.0,1822.6 L1501.0,1822.7 L1504.0,1822.7 L1507.0,1822.7 L1510.0,1822.7 L1513.0,1822.7 L1516.0,1822.8 L1519.0,1822.8 L1522.0,1822.8 L1525.0,1822.8 L1528.0,1822.9 L1531.0,1822.9 L1534.0,1822.9 L1537.0,1822.9 L1540.0,1822.9 L1543.0,1822.9 L1546.0,1823.0 L1549.0,1823.0 L1552.0,1823.0 L1555.0,1823.0 L1558.0,1823.0 L1561.0,1823.0 L1564.0,1823.0 L1567.0,1823.1 L1570.0,1823.1 L1573.0,1823.1 L1576.0,1823.1 L1579.0,1823.1 L1582.0,1823.1 L1585.0,1823.1 L1588.0,1823.2 L1591.0,1823.2 L1594.0,1823.2 L1597.0,1823.2 L1600.0,1823.2 L1603.0,1823.2 L1606.0,1823.2 L1609.0,1823.2 L1612.0,1823.2 L1615.0,1823.3 L1618.0,1823.3 L1621.0,1823.3 L1624.0,1823.3 L1627.0,1823.3 L1630.0,1823.3 L1633.0,1823.3 L1636.0,1823.3 L1639.0,1823.3 L1642.0,1823.3 L1645.0,1823.4 L1648.0,1823.4 L1651.0,1823.4 L1654.0,1823.4 L1657.0,1823.4 L1660.0,1823.4 L1663.0,1823.4 L1666.0,1823.4 L1669.0,1823.4 L1672.0,1823.4 L1675.0,1823.4 L1678.0,1823.4 L1681.0,1823.5 L1684.0,1823.5 L1687.0,1823.5 L1690.0,1823.5 L1693.0,1823.5 L1696.0,1823.5 L1699.0,1823.5 L1702.0,1823.5 L1705.0,1823.5 L1708.0,1823.5 L1711.0,1823.5 L1714.0,1823.5 L1717.0,1823.5 L1720.0,1823.6 L1723.0,1823.6 L1726.0,1823.6 L1729.0,1823.6 L1732.0,1823.6 L1735.0,1823.6 L1738.0,1823.6 L1741.0,1823.6 L1744.0,1823.6 L1747.0,1823.6 L1750.0,1823.6 L1753.0,1823.6 L1756.0,1823.6 L1759.0,1823.6 L1762.0,1823.6 L1765.0,1823.6 L1768.0,1823.7 L1771.0,1823.7 L1774.0,1823.7 L1777.0,1823.7 L1780.0,1823.7 L1783.0,1823.7 L1786.0,1823.7 L1789.0,1823.7 L1792.0,1823.7 L1795.0,1823.7 L1798.0,1823.7 L1801.0,1823.7 L1804.0,1823.7 L1807.0,1823.7 L1810.0,1823.7 L1813.0,1823.7 L1816.0,1823.7 L1819.0,1823.8 L1822.0,1823.8 L1825.0,1823.8 L1828.0,1823.8 L1831.0,1823.8 L1834.0,1823.8 L1837.0,1823.8 L1840.0,1823.8 L1843.0,1823.8 L1846.0,1823.8" stroke="#000"/>
<path d="M127.0,1765.0 L129.0,1765.0 L131.0,1764.9 L133.0,1764.9 L135.0,1764.8 L137.0,1764.8 L139.0,1764.7 L141.0,1764.7 L143.0,1764.6 L145.0,1764.6 L147.0,1764.5 L149.0,1764.5 L151.0,1764.4 L153.0,1764.3 L155.0,1764.3 L157.0,1764.2 L159.0,1764.2 L161.0,1764.1 L163.0,1764.1 L165.0,1764.0 L167.0,1763.9 L169.0,1763.9 L171.0,1763.8 L173.0,1763.7 L175.0,1763.7 L177.0,1763.6 L179.0,1763.5 L181.0,1763.5 L183.0,1763.4 L185.0,1763.3 L187.0,1763.3 L189.0,1763.2 L191.0,1763.1 L193.0,1763.1 L195.0,1763.0 L197.0,1762.9 L199.0,1762.8 L201.0,1762.8 L203.0,1762.7 L205.0,1762.6 L207.0,1762.5 L209.0,1762.4 L211.0,1762.4 L213.0,1762.3 L215.0,1762.2 L217.0,1762.1 L219.0,1762.0 L221.0,1761.9 L223.0,1761.8 L225.0,1761.7 L227.0,1761.7 L229.0,1761.6 L231.0,1761.5 L233.0,1761.4 L235.0,1761.3 L237.0,1761.2 L239.0,1761.1 L241.0,1761.0 L243.0,1760.9 L245.0,1760.8 L247.0,1760.6 L249.0,1760.5 L251.0,1760.4 L253.0,1760.3 L255.0,1760.2 L257.0,1760.1 L259.0,1760.0 L261.0,1759.8 L263.0,1759.7 L265.0,1759.6 L267.0,1759.5 L269.0,1759.3 L271.0,1759.2 L273.0,1759.0 L275.0,1758.9 L277.0,1758.8 L279.0,1758.6 L281.0,1758.5 L283.0,1758.3 L285.0,1758.2 L287.0,1758.0 L289.0,1757.8 L291.0,1757.7 L293.0,1757.5 L295.0,1757.3 L297.0,1757.1 L299.0,1757.0 L301.0,1756.8 L303.0,1756.6 L305.0,1756.4 L307.0,1756.2 L309.0,1756.0 L311.0,1755.8 L313.0,1755.6 L315.0,1755.4 L317.0,1755.1 L319.0,1754.9 L321.0,1754.7 L323.0,1754.4 L325.0,1754.2 L327.0,1753.9 L329.0,1753.7 L331.0,1753.4 L333.0,1753.1 L335.0,1752.8 L337.0,1752.6 L339.0,1752.3 L341.0,1752.0 L343.0,1751.7 L345.0,1751.3 L347.0,1751.0 L349.0,1750.7 L351.0,1750.3 L353.0,1750.0 L355.0,1749.6 L357.0,1749.3 L359.0,1748.9 L361.0,1748.5 L363.0,1748.1 L365.0,1747.7 L367.0,1747.3 L369.0,1746.9 L371.0,1746.4 L373.0,1746.0 L375.0,1745.5 L377.0,1745.0 L379.0,1744.6 L381.0,1744.1 L383.0,1743.6 L385.0,1743.1 L387.0,1742.5 L389.0,1742.0 L391.0,1741.4 L393.0,1740.9 L395.0,1740.3 L397.0,1739.7 L399.0,1739.1 L401.0,1738.5 L403.0,1737.9 L405.0,1737.2 L407.0,1736.6 L409.0,1735.9 L411.0,1735.3 L413.0,1734.6 L415.0,1733.9 L417.0,1733.2 L419.0,1732.4 L421.0,1731.7 L423.0,1731.0 L425.0,1730.2 L427.0,1729.4 L429.0,1728.7 L431.0,1727.9 L433.0,1727.1 L435.0,1726.3 L437.0,1725.5 L439.0,1724.6 L441.0,1723.8 L443.0,1723.0 L445.0,1722.2 L447.0,1721.3 L449.0,1720.5 L451.0,1719.7 L453.0,1718.8 L455.0,1718.0 L457.0,1717.2 L459.0,1716.4 L461.0,1715.6 L463.0,1714.8 L465.0,1714.0 L467.0,1713.2 L469.0,1712.5 L471.0,1711.7 L473.0,1711.0 L475.0,1710.3 L477.0,1709.7 L479.0,1709.0 L481.0,1708.4 L483.0,1707.9 L485.0,1707.3 L487.0,1706.8 L489.0,1706.4 L491.0,1705.9 L493.0,1705.6 L495.0,1705.2 L497.0,1704.9 L499.0,1704.7 L501.0,1704.5 L503.0,1704.3 L505.0,1704.2 L507.0,1704.1 L509.0,1704.1 L511.0,1704.1 L513.0,1704.2 L515.0,1704.3 L517.0,1704.4 L519.0,1704.6 L521.0,1704.8 L523.0,1705.1 L525.0,1705.4 L527.0,1705.7 L529.0,1706.0 L531.0,1706.4 L533.0,1706.8 L535.0,1707.2 L537.0,1707.6 L539.0,1708.1 L541.0,1708.6 L543.0,1709.0 L545.0,1709.5 L547.0,1710.0 L549.0,1710.5 L551.0,1711.0 L553.0,1711.6 L555.0,1712.1 L557.0,1712.6 L559.0,1713.1 L561.0,1713.6 L563.0,1714.1 L565.0,1714.5 L567.0,1715.0 L569.0,1715.5 L571.0,1715.9 L573.0,1716.4 L575.0,1716.8 L577.0,1717.2 L579.0,1717.6 L581.0,1718.0 L583.0,1718.4 L585.0,1718.8 L587.0,1719.1 L589.0,1719.4 L591.0,1719.7 L593.0,1720.0 L595.0,1720.3 L597.0,1720.6 L599.0,1720.8 L601.0,1721.0 L603.0,1721.2 L605.0,1721.4 L607.0,1721.6 L609.0,1721.7 L611.0,1721.8 L613.0,1721.9 L615.0,1722.0 L617.0,1722.1 L619.0,1722.1 L621.0,1722.1 L623.0,1722.1 L625.0,1722.1 L627.0,1722.1 L629.0,1722.0 L631.0,1722.0 L633.0,1721.9 L635.0,1721.7 L637.0,1721.6 L639.0,1721.4 L641.0,1721.3 L643.0,1721.1 L645.0,1720.8 L647.0,1720.6 L649.0,1720.3 L651.0,1720.0 L653.0,1719.7 L655.0,1719.4 L657.0,1719.0 L659.0,1718.6 L661.0,1718.2 L663.0,1717.8 L665.0,1717.3 L667.0,1716.8 L669.0,1716.3 L671.0,1715.8 L673.0,1715.2 L675.0,1714.6 L677.0,1714.0 L679.0,1713.3 L681.0,1712.6 L683.0,1711.9 L685.0,1711.1 L687.0,1710.4 L689.0,1709.5 L691.0,1708.7 L693.0,1707.8 L695.0,1706.9 L697.0,1705.9 L699.0,1704.9 L701.0,1703.8 L703.0,1702.7 L705.0,1701.6 L707.0,1700.4 L709.0,1699.1 L711.0,1697.9 L713.0,1696.5 L715.0,1695.1 L717.0,1693.7 L719.0,1692.2 L721.0,1690.6 L723.0,1689.0 L725.0,1687.3 L727.0,1685.6 L729.0,1683.8 L731.0,1681.9 L733.0,1680.0 L735.0,1678.0 L737.0,1675.9 L739.0,1673.7 L741.0,1671.5 L743.0,1669.1 L745.0,1666.7 L747.0,1664.2 L749.0,1661.7 L751.0,1659.0 L753.0,1656.3 L755.0,1653.4 L757.0,1650.5 L759.0,1647.4 L761.0,1644.3 L763.0,1641.0 L765.0,1637.7 L767.0,1634.3 L769.0,1630.7 L771.0,1627.1 L773.0,1623.3 L775.0,1619.4 L777.0,1615.4 L779.0,1611.3 L781.0,1607.1 L783.0,1602.8 L785.0,1598.3 L787.0,1593.8 L789.0,1589.1 L791.0,1584.4 L793.0,1579.5 L795.0,1574.5 L797.0,1569.4 L799.0,1564.2 L801.0,1558.9 L803.0,1553.5 L805.0,1548.0 L807.0,1542.4 L809.0,1536.8 L811.0,1531.1 L813.0,1525.3 L815.0,1519.5 L817.0,1513.6 L819.0,1507.7 L821.0,1501.7 L823.0,1495.8 L825.0,1489.8 L827.0,1483.9 L829.0,1478.0 L831.0,1472.1 L833.0,1466.3 L835.0,1460.6 L837.0,1454.9 L839.0,1449.4 L841.0,1443.9 L843.0,1438.6 L845.0,1433.4 L847.0,1428.3 L849.0,1423.4 L851.0,1418.6 L853.0,1414.0 L855.0,1409.6 L857.0,1405.3 L859.0,1401.2 L861.0,1397.3 L863.0,1393.5 L865.0,1389.8 L867.0,1386.3 L869.0,1382.9 L871.0,1379.7 L873.0,1376.5 L875.0,1373.4 L877.0,1370.5 L879.0,1367.5 L881.0,1364.7 L883.0,1361.8 L885.0,1359.0 L887.0,1356.2 L889.0,1353.4 L891.0,1350.6 L893.0,1347.7 L895.0,1344.8 L897.0,1341.8 L899.0,1338.8 L901.0,1335.7 L903.0,1332.6 L905.0,1329.3 L907.0,1326.0 L909.0,1322.5 L911.0,1319.0 L913.0,1315.3 L915.0,1311.6 L917.0,1307.8 L919.0,1303.9 L921.0,1299.8 L923.0,1295.7 L925.0,1291.5 L927.0,1287.2 L929.0,1282.8 L931.0,1278.4 L933.0,1273.9 L935.0,1269.3 L937.0,1264.7 L939.0,1260.0 L941.0,1255.3 L943.0,1250.6 L945.0,1245.9 L947.0,1241.2 L949.0,1236.5 L951.0,1231.8 L953.0,1227.1 L955.0,1222.5 L957.0,1218.0 L959.0,1213.6 L961.0,1209.2 L963.0,1205.0 L965.0,1200.9 L967.0,1196.9 L969.0,1193.1 L971.0,1189.5 L973.0,1186.1 L975.0,1182.8 L977.0,1179.8 L979.0,1177.0 L981.0,1174.5 L983.0,1172.2 L985.0,1170.2 L987.0,1168.5 L989.0,1167.0 L991.0,1165.9 L993.0,1165.1 L995.0,1164.6 L997.0,1164.4 L999.0,1164.5 L1001.0,1165.0 L1003.0,1165.8 L1005.0,1166.9 L1007.0,1168.3 L1009.0,1170.1 L1011.0,1172.2 L1013.0,1174.6 L1015.0,1177.3 L1017.0,1180.2 L1019.0,1183.5 L1021.0,1187.1 L1023.0,1190.9 L1025.0,1194.9 L1027.0,1199.2 L1029.0,1203.7 L1031.0,1208.4 L1033.0,1213.3 L1035.0,1218.4 L1037.0,1223.6 L1039.0,1229.0 L1041.0,1234.5 L1043.0,1240.2 L1045.0,1245.9 L1047.0,1251.7 L1049.0,1257.6 L1051.0,1263.5 L1053.0,1269.5 L1055.0,1275.5 L1057.0,1281.6 L1059.0,1287.6 L1061.0,1293.7 L1063.0,1299.7 L1065.0,1305.7 L1067.0,1311.7 L1069.0,1317.7 L1071.0,1323.6 L1073.0,1329.4 L1075.0,1335.2 L1077.0,1340.9 L1079.0,1346.5 L1081.0,1352.0 L1083.0,1357.5 L1085.0,1362.9 L1087.0,1368.2 L1089.0,1373.3 L1091.0,1378.4 L1093.0,1383.4 L1095.0,1388.3 L1097.0,1393.1 L1099.0,1397.7 L1101.0,1402.3 L1103.0,1406.8 L1105.0,1411.1 L1107.0,1415.4 L1109.0,1419.5 L1111.0,1423.6 L1113.0,1427.6 L1115.0,1431.4 L1117.0,1435.2 L1119.0,1438.9 L1121.0,1442.5 L1123.0,1446.0 L1125.0,1449.4 L1127.0,1452.8 L1129.0,1456.1 L1131.0,1459.3 L1133.0,1462.5 L1135.0,1465.6 L1137.0,1468.6 L1139.0,1471.7 L1141.0,1474.6 L1143.0,1477.6 L1145.0,1480.4 L1147.0,1483.3 L1149.0,1486.2 L1151.0,1489.0 L1153.0,1491.8 L1155.0,1494.6 L1157.0,1497.4 L1159.0,1500.2 L1161.0,1502.9 L1163.0,1505.7 L1165.0,1508.5 L1167.0,1511.3 L1169.0,1514.1 L1171.0,1516.9 L1173.0,1519.7 L1175.0,1522.5 L1177.0,1525.3 L1179.0,1528.2 L1181.0,1531.0 L1183.0,1533.9 L1185.0,1536.7 L1187.0,1539.6 L1189.0,1542.5 L1191.0,1545.3 L1193.0,1548.2 L1195.0,1551.1 L1197.0,1553.9 L1199.0,1556.8 L1201.0,1559.7 L1203.0,1562.5 L1205.0,1565.3 L1207.0,1568.2 L1209.0,1571.0 L1211.0,1573.8 L1213.0,1576.5 L1215.0,1579.3 L1217.0,1582.0 L1219.0,1584.7 L1221.0,1587.3 L1223.0,1590.0 L1225.0,1592.6 L1227.0,1595.1 L1229.0,1597.7 L1231.0,1600.2 L1233.0,1602.6 L1235.0,1605.0 L1237.0,1607.4 L1239.0,1609.7 L1241.0,1612.0 L1243.0,1614.2 L1245.0,1616.4 L1247.0,1618.6 L1249.0,1620.7 L1251.0,1622.7 L1253.0,1624.7 L1255.0,1626.7 L1257.0,1628.6 L1259.0,1630.4 L1261.0,1632.2 L1263.0,1634.0 L1265.0,1635.7 L1267.0,1637.4 L1269.0,1639.0 L1271.0,1640.6 L1273.0,1642.1 L1275.0,1643.6 L1277.0,1645.1 L1279.0,1646.5 L1281.0,1647.8 L1283.0,1649.2 L1285.0,1650.4 L1287.0,1651.7 L1289.0,1652.9 L1291.0,1654.1 L1293.0,1655.3 L1295.0,1656.4 L1297.0,1657.5 L1299.0,1658.6 L1301.0,1659.6 L1303.0,1660.7 L1305.0,1661.7 L1307.0,1662.7 L1309.0,1663.7 L1311.0,1664.6 L1313.0,1665.6 L1315.0,1666.6 L1317.0,1667.6 L1319.0,1668.5 L1321.0,1669.5 L1323.0,1670.5 L1325.0,1671.4 L1327.0,1672.4 L1329.0,1673.4 L1331.0,1674.4 L1333.0,1675.4 L1335.0,1676.5 L1337.0,1677.5 L1339.0,1678.6 L1341.0,1679.7 L1343.0,1680.8 L1345.0,1681.9 L1347.0,1683.1 L1349.0,1684.3 L1351.0,1685.5 L1353.0,1686.7 L1355.0,1687.9 L1357.0,1689.2 L1359.0,1690.5 L1361.0,1691.8 L1363.0,1693.1 L1365.0,1694.4 L1367.0,1695.8 L1369.0,1697.2 L1371.0,1698.6 L1373.0,1700.0 L1375.0,1701.4 L1377.0,1702.8 L1379.0,1704.3 L1381.0,1705.7 L1383.0,1707.2 L1385.0,1708.7 L1387.0,1710.1 L1389.0,1711.6 L1391.0,1713.1 L1393.0,1714.6 L1395.0,1716.1 L1397.0,1717.6 L1399.0,1719.1 L1401.0,1720.6 L1403.0,1722.1 L1405.0,1723.6 L1407.0,1725.1 L1409.0,1726.6 L1411.0,1728.1 L1413.0,1729.5 L1415.0,1731.0 L1417.0,1732.5 L1419.0,1733.9 L1421.0,1735.4 L1423.0,1736.8 L1425.0,1738.2 L1427.0,1739.7 L1429.0,1741.1 L1431.0,1742.4 L1433.0,1743.8 L1435.0,1745.2 L1437.0,1746.6 L1439.0,1747.9 L1441.0,1749.2 L1443.0,1750.5 L1445.0,1751.8 L1447.0,1753.1 L1449.0,1754.4 L1451.0,1755.6 L1453.0,1756.9 L1455.0,1758.1 L1457.0,1759.3 L1459.0,1760.5 L1461.0,1761.6 L1463.0,1762.8 L1465.0,1763.9 L1467.0,1765.0 L1469.0,1766.1 L1471.0,1767.2 L1473.0,1768.2 L1475.0,1769.3 L1477.0,1770.3 L1479.0,1771.3 L1481.0,1772.3 L1483.0,1773.3 L1485.0,1774.2 L1487.0,1775.1 L1489.0,1776.0 L1491.0,1776.9 L1493.0,1777.8 L1495.0,1778.7 L1497.0,1779.5 L1499.0,1780.3 L1501.0,1781.1 L1503.0,1781.9 L1505.0,1782.7 L1507.0,1783.4 L1509.0,1784.2 L1511.0,1784.9 L1513.0,1785.6 L1515.0,1786.3 L1517.0,1786.9 L1519.0,1787.6 L1521.0,1788.2 L1523.0,1788.8 L1525.0,1789.4 L1527.0,1790.0 L1529.0,1790.6 L1531.0,1791.1 L1533.0,1791.7 L1535.0,1792.2 L1537.0,1792.7 L1539.0,1793.2 L1541.0,1793.7 L1543.0,1794.2 L1545.0,1794.7 L1547.0,1795.1 L1549.0,1795.6 L1551.0,1796.0 L1553.0,1796.4 L1555.0,1796.8 L1557.0,1797.2 L1559.0,1797.6 L1561.0,1798.0 L1563.0,1798.4 L1565.0,1798.7 L1567.0,1799.1 L1569.0,1799.4 L1571.0,1799.7 L1573.0,1800.0 L1575.0,1800.4 L1577.0,1800.7 L1579.0,1801.0 L1581.0,1801.2 L1583.0,1801.5 L1585.0,1801.8 L1587.0,1802.1 L1589.0,1802.3 L1591.0,1802.6 L1593.0,1802.8 L1595.0,1803.1 L1597.0,1803.3 L1599.0,1803.5 L1601.0,1803.8 L1603.0,1804.0 L1605.0,1804.2 L1607.0,1804.4 L1609.0,1804.6 L1611.0,1804.8 L1613.0,1805.0 L1615.0,1805.2 L1617.0,1805.4 L1619.0,1805.6 L1621.0,1805.7 L1623.0,1805.9 L1625.0,1806.1 L1627.0,1806.2 L1629.0,1806.4 L1631.0,1806.6 L1633.0,1806.7 L1635.0,1806.9 L1637.0,1807.0 L1639.0,1807.2 L1641.0,1807.3 L1643.0,1807.5 L1645.0,1807.6 L1647.0,1807.7 L1649.0,1807.9 L1651.0,1808.0 L1653.0,1808.2 L1655.0,1808.3 L1657.0,1808.4 L1659.0,1808.5 L1661.0,1808.7 L1663.0,1808.8 L1665.0,1808.9 L1667.0,1809.0 L1669.0,1809.1 L1671.0,1809.2 L1673.0,1809.4 L1675.0,1809.5 L1677.0,1809.6 L1679.0,1809.7 L1681.0,1809.8 L1683.0,1809.9 L1685.0,1810.0 L1687.0,1810.1 L1689.0,1810.2 L1691.0,1810.3 L1693.0,1810.4 L1695.0,1810.5 L1697.0,1810.6 L1699.0,1810.7 L1701.0,1810.8 L1703.0,1810.9 L1705.0,1811.0 L1707.0,1811.1 L1709.0,1811.2 L1711.0,1811.2 L1713.0,1811.3 L1715.0,1811.4 L1717.0,1811.5 L1719.0,1811.6 L1721.0,1811.7 L1723.0,1811.8 L1725.0,1811.8 L1727.0,1811.9 L1729.0,1812.0 L1731.0,1812.1 L1733.0,1812.2 L1735.0,1812.2 L1737.0,1812.3 L1739.0,1812.4 L1741.0,1812.5 L1743.0,1812.5 L1745.0,1812.6 L1747.0,1812.7 L1749.0,1812.8 L1751.0,1812.8 L1753.0,1812.9 L1755.0,1813.0 L1757.0,1813.0 L1759.0,1813.1 L1761.0,1813.2 L1763.0,1813.2 L1765.0,1813.3 L1767.0,1813.4 L1769.0,1813.4 L1771.0,1813.5 L1773.0,1813.6 L1775.0,1813.6 L1777.0,1813.7 L1779.0,1813.8 L1781.0,1813.8 L1783.0,1813.9 L1785.0,1813.9 L1787.0,1814.0 L1789.0,1814.1 L1791.0,1814.1 L1793.0,1814.2 L1795.0,1814.2 L1797.0,1814.3 L1799.0,1814.4 L1801.0,1814.4 L1803.0,1814.5 L1805.0,1814.5 L1807.0,1814.6 L1809.0,1814.6 L1811.0,1814.7 L1813.0,1814.7 L1815.0,1814.8 L1817.0,1814.9 L1819.0,1814.9 L1821.0,1815.0 L1823.0,1815.0 L1825.0,1815.1 L1827.0,1815.1 L1829.0,1815.2 L1831.0,1815.2 L1833.0,1815.3 L1835.0,1815.3 L1837.0,1815.4 L1839.0,1815.4 L1841.0,1815.5 L1843.0,1815.5 L1845.0,1815.6 L1847.0,1815.6" stroke="#000"/>
<path d="M127.0,1771.5 L129.0,1771.5 L131.0,1771.4 L133.0,1771.4 L135.0,1771.4 L137.0,1771.4 L139.0,1771.4 L141.0,1771.3 L143.0,1771.3 L145.0,1771.3 L147.0,1771.3 L149.0,1771.2 L151.0,1771.2 L153.0,1771.2 L155.0,1771.2 L157.0,1771.1 L159.0,1771.1 L161.0,1771.1 L163.0,1771.1 L165.0,1771.0 L167.0,1771.0 L169.0,1771.0 L171.0,1771.0 L173.0,1770.9 L175.0,1770.9 L177.0,1770.9 L179.0,1770.8 L181.0,1770.8 L183.0,1770.8 L185.0,1770.7 L187.0,1770.7 L189.0,1770.7 L191.0,1770.6 L193.0,1770.6 L195.0,1770.6 L197.0,1770.5 L199.0,1770.5 L201.0,1770.5 L203.0,1770.4 L205.0,1770.4 L207.0,1770.4 L209.0,1770.3 L211.0,1770.3 L213.0,1770.2 L215.0,1770.2 L217.0,1770.1 L219.0,1770.1 L221.0,1770.0 L223.0,1770.0 L225.0,1770.0 L227.0,1769.9 L229.0,1769.9 L231.0,1769.8 L233.0,1769.7 L235.0,1769.7 L237.0,1769.6 L239.0,1769.6 L241.0,1769.5 L243.0,1769.5 L245.0,1769.4 L247.0,1769.3 L249.0,1769.3 L251.0,1769.2 L253.0,1769.2 L255.0,1769.1 L257.0,1769.0 L259.0,1768.9 L261.0,1768.9 L263.0,1768.8 L265.0,1768.7 L267.0,1768.6 L269.0,1768.6 L271.0,1768.5 L273.0,1768.4 L275.0,1768.3 L277.0,1768.2 L279.0,1768.1 L281.0,1768.0 L283.0,1767.9 L285.0,1767.8 L287.0,1767.7 L289.0,1767.6 L291.0,1767.5 L293.0,1767.4 L295.0,1767.3 L297.0,1767.2 L299.0,1767.0 L301.0,1766.9 L303.0,1766.8 L305.0,1766.6 L307.0,1766.5 L309.0,1766.4 L311.0,1766.2 L313.0,1766.1 L315.0,1765.9 L317.0,1765.7 L319.0,1765.6 L321.0,1765.4 L323.0,1765.2 L325.0,1765.1 L327.0,1764.9 L329.0,1764.7 L331.0,1764.5 L333.0,1764.3 L335.0,1764.1 L337.0,1763.8 L339.0,1763.6 L341.0,1763.4 L343.0,1763.2 L345.0,1762.9 L347.0,1762.7 L349.0,1762.4 L351.0,1762.1 L353.0,1761.9 L355.0,1761.6 L357.0,1761.3 L359.0,1761.0 L361.0,1760.7 L363.0,1760.4 L365.0,1760.0 L367.0,1759.7 L369.0,1759.4 L371.0,1759.0 L373.0,1758.6 L375.0,1758.3 L377.0,1757.9 L379.0,1757.5 L381.0,1757.1 L383.0,1756.7 L385.0,1756.2 L387.0,1755.8 L389.0,1755.3 L391.0,1754.9 L393.0,1754.4 L395.0,1753.9 L397.0,1753.4 L399.0,1752.9 L401.0,1752.4 L403.0,1751.9 L405.0,1751.4 L407.0,1750.8 L409.0,1750.2 L411.0,1749.7 L413.0,1749.1 L415.0,1748.5 L417.0,1747.9 L419.0,1747.3 L421.0,1746.6 L423.0,1746.0 L425.0,1745.4 L427.0,1744.7 L429.0,1744.0 L431.0,1743.4 L433.0,1742.7 L435.0,1742.0 L437.0,1741.3 L439.0,1740.6 L441.0,1739.9 L443.0,1739.2 L445.0,1738.5 L447.0,1737.8 L449.0,1737.1 L451.0,1736.4 L453.0,1735.7 L455.0,1735.0 L457.0,1734.3 L459.0,1733.6 L461.0,1732.9 L463.0,1732.3 L465.0,1731.6 L467.0,1731.0 L469.0,1730.4 L471.0,1729.8 L473.0,1729.2 L475.0,1728.7 L477.0,1728.2 L479.0,1727.7 L481.0,1727.2 L483.0,1726.8 L485.0,1726.4 L487.0,1726.1 L489.0,1725.8 L491.0,1725.5 L493.0,1725.3 L495.0,1725.1 L497.0,1725.0 L499.0,1724.9 L501.0,1724.9 L503.0,1724.9 L505.0,1725.0 L507.0,1725.1 L509.0,1725.2 L511.0,1725.4 L513.0,1725.7 L515.0,1726.0 L517.0,1726.3 L519.0,1726.7 L521.0,1727.1 L523.0,1727.5 L525.0,1728.0 L527.0,1728.6 L529.0,1729.1 L531.0,1729.7 L533.0,1730.3 L535.0,1730.9 L537.0,1731.6 L539.0,1732.3 L541.0,1733.0 L543.0,1733.7 L545.0,1734.4 L547.0,1735.1 L549.0,1735.9 L551.0,1736.6 L553.0,1737.4 L555.0,1738.1 L557.0,1738.9 L559.0,1739.7 L561.0,1740.4 L563.0,1741.2 L565.0,1742.0 L567.0,1742.7 L569.0,1743.5 L571.0,1744.2 L573.0,1744.9 L575.0,1745.7 L577.0,1746.4 L579.0,1747.1 L581.0,1747.8 L583.0,1748.5 L585.0,1749.1 L587.0,1749.8 L589.0,1750.5 L591.0,1751.1 L593.0,1751.7 L595.0,1752.4 L597.0,1753.0 L599.0,1753.6 L601.0,1754.2 L603.0,1754.7 L605.0,1755.3 L607.0,1755.8 L609.0,1756.4 L611.0,1756.9 L613.0,1757.4 L615.0,1757.9 L617.0,1758.4 L619.0,1758.9 L621.0,1759.3 L623.0,1759.8 L625.0,1760.2 L627.0,1760.7 L629.0,1761.1 L631.0,1761.5 L633.0,1761.9 L635.0,1762.3 L637.0,1762.7 L639.0,1763.0 L641.0,1763.4 L643.0,1763.7 L645.0,1764.1 L647.0,1764.4 L649.0,1764.7 L651.0,1765.1 L653.0,1765.4 L655.0,1765.7 L657.0,1766.0 L659.0,1766.2 L661.0,1766.5 L663.0,1766.8 L665.0,1767.1 L667.0,1767.3 L669.0,1767.6 L671.0,1767.8 L673.0,1768.0 L675.0,1768.3 L677.0,1768.5 L679.0,1768.7 L681.0,1768.9 L683.0,1769.1 L685.0,1769.3 L687.0,1769.5 L689.0,1769.7 L691.0,1769.9 L693.0,1770.1 L695.0,1770.3 L697.0,1770.5 L699.0,1770.6 L701.0,1770.8 L703.0,1771.0 L705.0,1771.1 L707.0,1771.3 L709.0,1771.5 L711.0,1771.6 L713.0,1771.8 L715.0,1771.9 L717.0,1772.0 L719.0,1772.2 L721.0,1772.3 L723.0,1772.5 L725.0,1772.6 L727.0,1772.7 L729.0,1772.9 L731.0,1773.0 L733.0,1773.1 L735.0,1773.3 L737.0,1773.4 L739.0,1773.5 L741.0,1773.6 L743.0,1773.7 L745.0,1773.9 L747.0,1774.0 L749.0,1774.1 L751.0,1774.2 L753.0,1774.3 L755.0,1774.5 L757.0,1774.6 L759.0,1774.7 L761.0,1774.8 L763.0,1774.9 L765.0,1775.0 L767.0,1775.2 L769.0,1775.3 L771.0,1775.4 L773.0,1775.5 L775.0,1775.6 L777.0,1775.7 L779.0,1775.9 L781.0,1776.0 L783.0,1776.1 L785.0,1776.2 L787.0,1776.3 L789.0,1776.5 L791.0,1776.6 L793.0,1776.7 L795.0,1776.8 L797.0,1776.9 L799.0,1777.1 L801.0,1777.2 L803.0,1777.3 L805.0,1777.5 L807.0,1777.6 L809.0,1777.7 L811.0,1777.9 L813.0,1778.0 L815.0,1778.1 L817.0,1778.3 L819.0,1778.4 L821.0,1778.6 L823.0,1778.7 L825.0,1778.8 L827.0,1779.0 L829.0,1779.1 L831.0,1779.3 L833.0,1779.4 L835.0,1779.6 L837.0,1779.8 L839.0,1779.9 L841.0,1780.1 L843.0,1780.2 L845.0,1780.4 L847.0,1780.6 L849.0,1780.7 L851.0,1780.9 L853.0,1781.1 L855.0,1781.2 L857.0,1781.4 L859.0,1781.6 L861.0,1781.8 L863.0,1781.9 L865.0,1782.1 L867.0,1782.3 L869.0,1782.5 L871.0,1782.6 L873.0,1782.8 L875.0,1783.0 L877.0,1783.2 L879.0,1783.4 L881.0,1783.6 L883.0,1783.7 L885.0,1783.9 L887.0,1784.1 L889.0,1784.3 L891.0,1784.5 L893.0,1784.7 L895.0,1784.9 L897.0,1785.1 L899.0,1785.3 L901.0,1785.5 L903.0,1785.6 L905.0,1785.8 L907.0,1786.0 L909.0,1786.2 L911.0,1786.4 L913.0,1786.6 L915.0,1786.8 L917.0,1787.0 L919.0,1787.2 L921.0,1787.5 L923.0,1787.7 L925.0,1787.9 L927.0,1788.1 L929.0,1788.3 L931.0,1788.5 L933.0,1788.7 L935.0,1788.9 L937.0,1789.1 L939.0,1789.4 L941.0,1789.6 L943.0,1789.8 L945.0,1790.0 L947.0,1790.3 L949.0,1790.5 L951.0,1790.7 L953.0,1790.9 L955.0,1791.2 L957.0,1791.4 L959.0,1791.7 L961.0,1791.9 L963.0,1792.1 L965.0,1792.4 L967.0,1792.6 L969.0,1792.9 L971.0,1793.1 L973.0,1793.4 L975.0,1793.6 L977.0,1793.8 L979.0,1794.1 L981.0,1794.3 L983.0,1794.6 L985.0,1794.9 L987.0,1795.1 L989.0,1795.4 L991.0,1795.6 L993.0,1795.9 L995.0,1796.1 L997.0,1796.4 L999.0,1796.6 L1001.0,1796.9 L1003.0,1797.2 L1005.0,1797.4 L1007.0,1797.7 L1009.0,1797.9 L1011.0,1798.2 L1013.0,1798.4 L1015.0,1798.7 L1017.0,1798.9 L1019.0,1799.2 L1021.0,1799.4 L1023.0,1799.7 L1025.0,1799.9 L1027.0,1800.2 L1029.0,1800.4 L1031.0,1800.6 L1033.0,1800.9 L1035.0,1801.1 L1037.0,1801.3 L1039.0,1801.6 L1041.0,1801.8 L1043.0,1802.0 L1045.0,1802.3 L1047.0,1802.5 L1049.0,1802.7 L1051.0,1802.9 L1053.0,1803.1 L1055.0,1803.4 L1057.0,1803.6 L1059.0,1803.8 L1061.0,1804.0 L1063.0,1804.2 L1065.0,1804.4 L1067.0,1804.6 L1069.0,1804.8 L1071.0,1805.0 L1073.0,1805.2 L1075.0,1805.4 L1077.0,1805.6 L1079.0,1805.7 L1081.0,1805.9 L1083.0,1806.1 L1085.0,1806.3 L1087.0,1806.5 L1089.0,1806.6 L1091.0,1806.8 L1093.0,1807.0 L1095.0,1807.2 L1097.0,1807.3 L1099.0,1807.5 L1101.0,1807.7 L1103.0,1807.8 L1105.0,1808.0 L1107.0,1808.1 L1109.0,1808.3 L1111.0,1808.5 L1113.0,1808.6 L1115.0,1808.8 L1117.0,1808.9 L1119.0,1809.1 L1121.0,1809.2 L1123.0,1809.4 L1125.0,1809.5 L1127.0,1809.7 L1129.0,1809.8 L1131.0,1809.9 L1133.0,1810.1 L1135.0,1810.2 L1137.0,1810.4 L1139.0,1810.5 L1141.0,1810.6 L1143.0,1810.8 L1145.0,1810.9 L1147.0,1811.0 L1149.0,1811.2 L1151.0,1811.3 L1153.0,1811.4 L1155.0,1811.6 L1157.0,1811.7 L1159.0,1811.8 L1161.0,1811.9 L1163.0,1812.1 L1165.0,1812.2 L1167.0,1812.3 L1169.0,1812.4 L1171.0,1812.5 L1173.0,1812.7 L1175.0,1812.8 L1177.0,1812.9 L1179.0,1813.0 L1181.0,1813.1 L1183.0,1813.2 L1185.0,1813.4 L1187.0,1813.5 L1189.0,1813.6 L1191.0,1813.7 L1193.0,1813.8 L1195.0,1813.9 L1197.0,1814.0 L1199.0,1814.1 L1201.0,1814.2 L1203.0,1814.3 L1205.0,1814.4 L1207.0,1814.5 L1209.0,1814.6 L1211.0,1814.7 L1213.0,1814.8 L1215.0,1814.9 L1217.0,1815.0 L1219.0,1815.1 L1221.0,1815.2 L1223.0,1815.3 L1225.0,1815.4 L1227.0,1815.5 L1229.0,1815.6 L1231.0,1815.6 L1233.0,1815.7 L1235.0,1815.8 L1237.0,1815.9 L1239.0,1816.0 L1241.0,1816.1 L1243.0,1816.1 L1245.0,1816.2 L1247.0,1816.3 L1249.0,1816.4 L1251.0,1816.5 L1253.0,1816.5 L1255.0,1816.6 L1257.0,1816.7 L1259.0,1816.8 L1261.0,1816.9 L1263.0,1816.9 L1265.0,1817.0 L1267.0,1817.1 L1269.0,1817.1 L1271.0,1817.2 L1273.0,1817.3 L1275.0,1817.4 L1277.0,1817.4 L1279.0,1817.5 L1281.0,1817.6 L1283.0,1817.6 L1285.0,1817.7 L1287.0,1817.8 L1289.0,1817.8 L1291.0,1817.9 L1293.0,1818.0 L1295.0,1818.0 L1297.0,1818.1 L1299.0,1818.2 L1301.0,1818.2 L1303.0,1818.3 L1305.0,1818.4 L1307.0,1818.4 L1309.0,1818.5 L1311.0,1818.6 L1313.0,1818.6 L1315.0,1818.7 L1317.0,1818.7 L1319.0,1818.8 L1321.0,1818.9 L1323.0,1818.9 L1325.0,1819.0 L1327.0,1819.0 L1329.0,1819.1 L1331.0,1819.2 L1333.0,1819.2 L1335.0,1819.3 L1337.0,1819.3 L1339.0,1819.4 L1341.0,1819.4 L1343.0,1819.5 L1345.0,1819.6 L1347.0,1819.6 L1349.0,1819.7 L1351.0,1819.7 L1353.0,1819.8 L1355.0,1819.8 L1357.0,1819.9 L1359.0,1819.9 L1361.0,1820.0 L1363.0,1820.0 L1365.0,1820.1 L1367.0,1820.1 L1369.0,1820.2 L1371.0,1820.2 L1373.0,1820.3 L1375.0,1820.3 L1377.0,1820.4 L1379.0,1820.4 L1381.0,1820.5 L1383.0,1820.5 L1385.0,1820.6 L1387.0,1820.6 L1389.0,1820.7 L1391.0,1820.7 L1393.0,1820.8 L1395.0,1820.8 L1397.0,1820.8 L1399.0,1820.9 L1401.0,1820.9 L1403.0,1821.0 L1405.0,1821.0 L1407.0,1821.0 L1409.0,1821.1 L1411.0,1821.1 L1413.0,1821.2 L1415.0,1821.2 L1417.0,1821.2 L1419.0,1821.3 L1421.0,1821.3 L1423.0,1821.3 L1425.0,1821.4 L1427.0,1821.4 L1429.0,1821.4 L1431.0,1821.5 L1433.0,1821.5 L1435.0,1821.5 L1437.0,1821.6 L1439.0,1821.6 L1441.0,1821.6 L1443.0,1821.7 L1445.0,1821.7 L1447.0,1821.7 L1449.0,1821.7 L1451.0,1821.8 L1453.0,1821.8 L1455.0,1821.8 L1457.0,1821.9 L1459.0,1821.9 L1461.0,1821.9 L1463.0,1821.9 L1465.0,1822.0 L1467.0,1822.0 L1469.0,1822.0 L1471.0,1822.0 L1473.0,1822.0 L1475.0,1822.1 L1477.0,1822.1 L1479.0,1822.1 L1481.0,1822.1 L1483.0,1822.2 L1485.0,1822.2 L1487.0,1822.2 L1489.0,1822.2 L1491.0,1822.2 L1493.0,1822.3 L1495.0,1822.3 L1497.0,1822.3 L1499.0,1822.3 L1501.0,1822.3 L1503.0,1822.3 L1505.0,1822.4 L1507.0,1822.4 L1509.0,1822.4 L1511.0,1822.4 L1513.0,1822.4 L1515.0,1822.4 L1517.0,1822.5 L1519.0,1822.5 L1521.0,1822.5 L1523.0,1822.5 L1525.0,1822.5 L1527.0,1822.5 L1529.0,1822.5 L1531.0,1822.6 L1533.0,1822.6 L1535.0,1822.6 L1537.0,1822.6 L1539.0,1822.6 L1541.0,1822.6 L1543.0,1822.6 L1545.0,1822.6 L1547.0,1822.7 L1549.0,1822.7 L1551.0,1822.7 L1553.0,1822.7 L1555.0,1822.7 L1557.0,1822.7 L1559.0,1822.7 L1561.0,1822.7 L1563.0,1822.7 L1565.0,1822.8 L1567.0,1822.8 L1569.0,1822.8 L1571.0,1822.8 L1573.0,1822.8 L1575.0,1822.8 L1577.0,1822.8 L1579.0,1822.8 L1581.0,1822.8 L1583.0,1822.9 L1585.0,1822.9 L1587.0,1822.9 L1589.0,1822.9 L1591.0,1822.9 L1593.0,1822.9 L1595.0,1822.9 L1597.0,1822.9 L1599.0,1822.9 L1601.0,1822.9 L1603.0,1822.9 L1605.0,1822.9 L1607.0,1823.0 L1609.0,1823.0 L1611.0,1823.0 L1613.0,1823.0 L1615.0,1823.0 L1617.0,1823.0 L1619.0,1823.0 L1621.0,1823.0 L1623.0,1823.0 L1625.0,1823.0 L1627.0,1823.0 L1629.0,1823.0 L1631.0,1823.1 L1633.0,1823.1 L1635.0,1823.1 L1637.0,1823.1 L1639.0,1823.1 L1641.0,1823.1 L1643.0,1823.1 L1645.0,1823.1 L1647.0,1823.1 L1649.0,1823.1 L1651.0,1823.1 L1653.0,1823.1 L1655.0,1823.1 L1657.0,1823.1 L1659.0,1823.1 L1661.0,1823.2 L1663.0,1823.2 L1665.0,1823.2 L1667.0,1823.2 L1669.0,1823.2 L1671.0,1823.2 L1673.0,1823.2 L1675.0,1823.2 L1677.0,1823.2 L1679.0,1823.2 L1681.0,1823.2 L1683.0,1823.2 L1685.0,1823.2 L1687.0,1823.2 L1689.0,1823.2 L1691.0,1823.2 L1693.0,1823.3 L1695.0,1823.3 L1697.0,1823.3 L1699.0,1823.3 L1701.0,1823.3 L1703.0,1823.3 L1705.0,1823.3 L1707.0,1823.3 L1709.0,1823.3 L1711.0,1823.3 L1713.0,1823.3 L1715.0,1823.3 L1717.0,1823.3 L1719.0,1823.3 L1721.0,1823.3 L1723.0,1823.3 L1725.0,1823.3 L1727.0,1823.3 L1729.0,1823.4 L1731.0,1823.4 L1733.0,1823.4 L1735.0,1823.4 L1737.0,1823.4 L1739.0,1823.4 L1741.0,1823.4 L1743.0,1823.4 L1745.0,1823.4 L1747.0,1823.4 L1749.0,1823.4 L1751.0,1823.4 L1753.0,1823.4 L1755.0,1823.4 L1757.0,1823.4 L1759.0,1823.4 L1761.0,1823.4 L1763.0,1823.4 L1765.0,1823.4 L1767.0,1823.4 L1769.0,1823.5 L1771.0,1823.5 L1773.0,1823.5 L1775.0,1823.5 L1777.0,1823.5 L1779.0,1823.5 L1781.0,1823.5 L1783.0,1823.5 L1785.0,1823.5 L1787.0,1823.5 L1789.0,1823.5 L1791.0,1823.5 L1793.0,1823.5 L1795.0,1823.5 L1797.0,1823.5 L1799.0,1823.5 L1801.0,1823.5 L1803.0,1823.5 L1805.0,1823.5 L1807.0,1823.5 L1809.0,1823.5 L1811.0,1823.5 L1813.0,1823.5 L1815.0,1823.6 L1817.0,1823.6 L1819.0,1823.6 L1821.0,1823.6 L1823.0,1823.6 L1825.0,1823.6 L1827.0,1823.6 L1829.0,1823.6 L1831.0,1823.6 L1833.0,1823.6 L1835.0,1823.6 L1837.0,1823.6 L1839.0,1823.6 L1841.0,1823.6 L1843.0,1823.6 L1845.0,1823.6 L1847.0,1823.6" stroke="#000"/>
<path d="M127.0,1772.1 L129.0,1772.1 L131.0,1772.1 L133.0,1772.1 L135.0,1772.1 L137.0,1772.1 L139.0,1772.1 L141.0,1772.1 L143.0,1772.1 L145.0,1772.1 L147.0,1772.0 L149.0,1772.0 L151.0,1772.0 L153.0,1772.0 L155.0,1772.0 L157.0,1772.0 L159.0,1772.0 L161.0,1772.0 L163.0,1772.0 L165.0,1772.0 L167.0,1772.0 L169.0,1772.0 L171.0,1772.0 L173.0,1772.0 L175.0,1772.0 L177.0,1771.9 L179.0,1771.9 L181.0,1771.9 L183.0,1771.9 L185.0,1771.9 L187.0,1771.9 L189.0,1771.9 L191.0,1771.9 L193.0,1771.9 L195.0,1771.9 L197.0,1771.9 L199.0,1771.9 L201.0,1771.9 L203.0,1771.8 L205.0,1771.8 L207.0,1771.8 L209.0,1771.8 L211.0,1771.8 L213.0,1771.8 L215.0,1771.8 L217.0,1771.8 L219.0,1771.8 L221.0,1771.8 L223.0,1771.8 L225.0,1771.8 L227.0,1771.7 L229.0,1771.7 L231.0,1771.7 L233.0,1771.7 L235.0,1771.7 L237.0,1771.7 L239.0,1771.7 L241.0,1771.7 L243.0,1771.7 L245.0,1771.7 L247.0,1771.6 L249.0,1771.6 L251.0,1771.6 L253.0,1771.6 L255.0,1771.6 L257.0,1771.6 L259.0,1771.6 L261.0,1771.6 L263.0,1771.6 L265.0,1771.6 L267.0,1771.5 L269.0,1771.5 L271.0,1771.5 L273.0,1771.5 L275.0,1771.5 L277.0,1771.5 L279.0,1771.5 L281.0,1771.5 L283.0,1771.4 L285.0,1771.4 L287.0,1771.4 L289.0,1771.4 L291.0,1771.4 L293.0,1771.4 L295.0,1771.4 L297.0,1771.4 L299.0,1771.3 L301.0,1771.3 L303.0,1771.3 L305.0,1771.3 L307.0,1771.3 L309.0,1771.3 L311.0,1771.3 L313.0,1771.3 L315.0,1771.2 L317.0,1771.2 L319.0,1771.2 L321.0,1771.2 L323.0,1771.2 L325.0,1771.2 L327.0,1771.1 L329.0,1771.1 L331.0,1771.1 L333.0,1771.1 L335.0,1771.1 L337.0,1771.1 L339.0,1771.1 L341.0,1771.0 L343.0,1771.0 L345.0,1771.0 L347.0,1771.0 L349.0,1771.0 L351.0,1771.0 L353.0,1770.9 L355.0,1770.9 L357.0,1770.9 L359.0,1770.9 L361.0,1770.9 L363.0,1770.8 L365.0,1770.8 L367.0,1770.8 L369.0,1770.8 L371.0,1770.8 L373.0,1770.8 L375.0,1770.7 L377.0,1770.7 L379.0,1770.7 L381.0,1770.7 L383.0,1770.7 L385.0,1770.6 L387.0,1770.6 L389.0,1770.6 L391.0,1770.6 L393.0,1770.6 L395.0,1770.5 L397.0,1770.5 L399.0,1770.5 L401.0,1770.5 L403.0,1770.4 L405.0,1770.4 L407.0,1770.4 L409.0,1770.4 L411.0,1770.4 L413.0,1770.3 L415.0,1770.3 L417.0,1770.3 L419.0,1770.3 L421.0,1770.2 L423.0,1770.2 L425.0,1770.2 L427.0,1770.2 L429.0,1770.1 L431.0,1770.1 L433.0,1770.1 L435.0,1770.1 L437.0,1770.0 L439.0,1770.0 L441.0,1770.0 L443.0,1770.0 L445.0,1769.9 L447.0,1769.9 L449.0,1769.9 L451.0,1769.8 L453.0,1769.8 L455.0,1769.8 L457.0,1769.8 L459.0,1769.7 L461.0,1769.7 L463.0,1769.7 L465.0,1769.6 L467.0,1769.6 L469.0,1769.6 L471.0,1769.5 L473.0,1769.5 L475.0,1769.5 L477.0,1769.4 L479.0,1769.4 L481.0,1769.4 L483.0,1769.3 L485.0,1769.3 L487.0,1769.3 L489.0,1769.2 L491.0,1769.2 L493.0,1769.1 L495.0,1769.1 L497.0,1769.0 L499.0,1769.0 L501.0,1769.0 L503.0,1768.9 L505.0,1768.9 L507.0,1768.8 L509.0,1768.8 L511.0,1768.7 L513.0,1768.7 L515.0,1768.6 L517.0,1768.6 L519.0,1768.5 L521.0,1768.4 L523.0,1768.4 L525.0,1768.3 L527.0,1768.3 L529.0,1768.2 L531.0,1768.1 L533.0,1768.1 L535.0,1768.0 L537.0,1767.9 L539.0,1767.9 L541.0,1767.8 L543.0,1767.7 L545.0,1767.6 L547.0,1767.5 L549.0,1767.5 L551.0,1767.4 L553.0,1767.3 L555.0,1767.2 L557.0,1767.1 L559.0,1767.0 L561.0,1766.9 L563.0,1766.8 L565.0,1766.7 L567.0,1766.6 L569.0,1766.5 L571.0,1766.4 L573.0,1766.3 L575.0,1766.2 L577.0,1766.0 L579.0,1765.9 L581.0,1765.8 L583.0,1765.7 L585.0,1765.5 L587.0,1765.4 L589.0,1765.3 L591.0,1765.1 L593.0,1765.0 L595.0,1764.8 L597.0,1764.7 L599.0,1764.5 L601.0,1764.4 L603.0,1764.2 L605.0,1764.0 L607.0,1763.9 L609.0,1763.7 L611.0,1763.5 L613.0,1763.3 L615.0,1763.1 L617.0,1762.9 L619.0,1762.7 L621.0,1762.5 L623.0,1762.3 L625.0,1762.1 L627.0,1761.9 L629.0,1761.6 L631.0,1761.4 L633.0,1761.1 L635.0,1760.9 L637.0,1760.6 L639.0,1760.4 L641.0,1760.1 L643.0,1759.8 L645.0,1759.5 L647.0,1759.2 L649.0,1758.9 L651.0,1758.6 L653.0,1758.3 L655.0,1757.9 L657.0,1757.6 L659.0,1757.2 L661.0,1756.8 L663.0,1756.4 L665.0,1756.0 L667.0,1755.6 L669.0,1755.2 L671.0,1754.8 L673.0,1754.3 L675.0,1753.8 L677.0,1753.3 L679.0,1752.8 L681.0,1752.3 L683.0,1751.8 L685.0,1751.2 L687.0,1750.6 L689.0,1750.0 L691.0,1749.4 L693.0,1748.7 L695.0,1748.0 L697.0,1747.3 L699.0,1746.6 L701.0,1745.8 L703.0,1745.0 L705.0,1744.2 L707.0,1743.4 L709.0,1742.5 L711.0,1741.5 L713.0,1740.6 L715.0,1739.6 L717.0,1738.6 L719.0,1737.5 L721.0,1736.4 L723.0,1735.2 L725.0,1734.1 L727.0,1732.8 L729.0,1731.5 L731.0,1730.2 L733.0,1728.8 L735.0,1727.4 L737.0,1725.9 L739.0,1724.4 L741.0,1722.8 L743.0,1721.2 L745.0,1719.5 L747.0,1717.7 L749.0,1715.9 L751.0,1714.0 L753.0,1712.1 L755.0,1710.1 L757.0,1708.0 L759.0,1705.9 L761.0,1703.7 L763.0,1701.4 L765.0,1699.1 L767.0,1696.7 L769.0,1694.2 L771.0,1691.7 L773.0,1689.1 L775.0,1686.4 L777.0,1683.7 L779.0,1680.9 L781.0,1678.0 L783.0,1675.1 L785.0,1672.1 L787.0,1669.0 L789.0,1665.9 L791.0,1662.8 L793.0,1659.5 L795.0,1656.3 L797.0,1653.0 L799.0,1649.6 L801.0,1646.2 L803.0,1642.8 L805.0,1639.3 L807.0,1635.9 L809.0,1632.4 L811.0,1629.0 L813.0,1625.5 L815.0,1622.1 L817.0,1618.7 L819.0,1615.4 L821.0,1612.1 L823.0,1608.9 L825.0,1605.7 L827.0,1602.7 L829.0,1599.8 L831.0,1597.0 L833.0,1594.4 L835.0,1592.0 L837.0,1589.7 L839.0,1587.6 L841.0,1585.7 L843.0,1584.1 L845.0,1582.6 L847.0,1581.5 L849.0,1580.5 L851.0,1579.9 L853.0,1579.5 L855.0,1579.4 L857.0,1579.5 L859.0,1580.0 L861.0,1580.6 L863.0,1581.6 L865.0,1582.8 L867.0,1584.3 L869.0,1586.0 L871.0,1588.0 L873.0,1590.1 L875.0,1592.5 L877.0,1595.1 L879.0,1597.8 L881.0,1600.7 L883.0,1603.7 L885.0,1606.9 L887.0,1610.2 L889.0,1613.6 L891.0,1617.1 L893.0,1620.6 L895.0,1624.2 L897.0,1627.8 L899.0,1631.5 L901.0,1635.2 L903.0,1638.9 L905.0,1642.6 L907.0,1646.3 L909.0,1650.0 L911.0,1653.7 L913.0,1657.3 L915.0,1660.9 L917.0,1664.5 L919.0,1668.0 L921.0,1671.4 L923.0,1674.9 L925.0,1678.2 L927.0,1681.5 L929.0,1684.8 L931.0,1687.9 L933.0,1691.1 L935.0,1694.1 L937.0,1697.1 L939.0,1700.0 L941.0,1702.9 L943.0,1705.7 L945.0,1708.4 L947.0,1711.0 L949.0,1713.6 L951.0,1716.2 L953.0,1718.6 L955.0,1721.0 L957.0,1723.4 L959.0,1725.6 L961.0,1727.8 L963.0,1730.0 L965.0,1732.1 L967.0,1734.1 L969.0,1736.1 L971.0,1738.0 L973.0,1739.9 L975.0,1741.7 L977.0,1743.5 L979.0,1745.2 L981.0,1746.8 L983.0,1748.5 L985.0,1750.0 L987.0,1751.6 L989.0,1753.0 L991.0,1754.5 L993.0,1755.9 L995.0,1757.2 L997.0,1758.5 L999.0,1759.8 L1001.0,1761.0 L1003.0,1762.2 L1005.0,1763.4 L1007.0,1764.6 L1009.0,1765.7 L1011.0,1766.7 L1013.0,1767.8 L1015.0,1768.8 L1017.0,1769.8 L1019.0,1770.7 L1021.0,1771.6 L1023.0,1772.6 L1025.0,1773.4 L1027.0,1774.3 L1029.0,1775.1 L1031.0,1775.9 L1033.0,1776.7 L1035.0,1777.5 L1037.0,1778.2 L1039.0,1779.0 L1041.0,1779.7 L1043.0,1780.4 L1045.0,1781.0 L1047.0,1781.7 L1049.0,1782.3 L1051.0,1783.0 L1053.0,1783.6 L1055.0,1784.2 L1057.0,1784.8 L1059.0,1785.3 L1061.0,1785.9 L1063.0,1786.4 L1065.0,1787.0 L1067.0,1787.5 L1069.0,1788.0 L1071.0,1788.5 L1073.0,1789.0 L1075.0,1789.4 L1077.0,1789.9 L1079.0,1790.4 L1081.0,1790.8 L1083.0,1791.2 L1085.0,1791.7 L1087.0,1792.1 L1089.0,1792.5 L1091.0,1792.9 L1093.0,1793.3 L1095.0,1793.7 L1097.0,1794.1 L1099.0,1794.5 L1101.0,1794.8 L1103.0,1795.2 L1105.0,1795.5 L1107.0,1795.9 L1109.0,1796.2 L1111.0,1796.6 L1113.0,1796.9 L1115.0,1797.2 L1117.0,1797.6 L1119.0,1797.9 L1121.0,1798.2 L1123.0,1798.5 L1125.0,1798.8 L1127.0,1799.1 L1129.0,1799.4 L1131.0,1799.7 L1133.0,1800.0 L1135.0,1800.2 L1137.0,1800.5 L1139.0,1800.8 L1141.0,1801.1 L1143.0,1801.3 L1145.0,1801.6 L1147.0,1801.9 L1149.0,1802.1 L1151.0,1802.4 L1153.0,1802.6 L1155.0,1802.8 L1157.0,1803.1 L1159.0,1803.3 L1161.0,1803.6 L1163.0,1803.8 L1165.0,1804.0 L1167.0,1804.2 L1169.0,1804.5 L1171.0,1804.7 L1173.0,1804.9 L1175.0,1805.1 L1177.0,1805.3 L1179.0,1805.5 L1181.0,1805.7 L1183.0,1806.0 L1185.0,1806.2 L1187.0,1806.4 L1189.0,1806.5 L1191.0,1806.7 L1193.0,1806.9 L1195.0,1807.1 L1197.0,1807.3 L1199.0,1807.5 L1201.0,1807.7 L1203.0,1807.8 L1205.0,1808.0 L1207.0,1808.2 L1209.0,1808.4 L1211.0,1808.5 L1213.0,1808.7 L1215.0,1808.9 L1217.0,1809.0 L1219.0,1809.2 L1221.0,1809.3 L1223.0,1809.5 L1225.0,1809.7 L1227.0,1809.8 L1229.0,1810.0 L1231.0,1810.1 L1233.0,1810.2 L1235.0,1810.4 L1237.0,1810.5 L1239.0,1810.7 L1241.0,1810.8 L1243.0,1811.0 L1245.0,1811.1 L1247.0,1811.2 L1249.0,1811.4 L1251.0,1811.5 L1253.0,1811.6 L1255.0,1811.7 L1257.0,1811.9 L1259.0,1812.0 L1261.0,1812.1 L1263.0,1812.2 L1265.0,1812.4 L1267.0,1812.5 L1269.0,1812.6 L1271.0,1812.7 L1273.0,1812.8 L1275.0,1812.9 L1277.0,1813.1 L1279.0,1813.2 L1281.0,1813.3 L1283.0,1813.4 L1285.0,1813.5 L1287.0,1813.6 L1289.0,1813.7 L1291.0,1813.8 L1293.0,1813.9 L1295.0,1814.0 L1297.0,1814.1 L1299.0,1814.2 L1301.0,1814.3 L1303.0,1814.4 L1305.0,1814.5 L1307.0,1814.6 L1309.0,1814.7 L1311.0,1814.8 L1313.0,1814.9 L1315.0,1815.0 L1317.0,1815.1 L1319.0,1815.2 L1321.0,1815.3 L1323.0,1815.4 L1325.0,1815.5 L1327.0,1815.6 L1329.0,1815.7 L1331.0,1815.7 L1333.0,1815.8 L1335.0,1815.9 L1337.0,1816.0 L1339.0,1816.1 L1341.0,1816.2 L1343.0,1816.3 L1345.0,1816.3 L1347.0,1816.4 L1349.0,1816.5 L1351.0,1816.6 L1353.0,1816.7 L1355.0,1816.7 L1357.0,1816.8 L1359.0,1816.9 L1361.0,1817.0 L1363.0,1817.1 L1365.0,1817.1 L1367.0,1817.2 L1369.0,1817.3 L1371.0,1817.4 L1373.0,1817.4 L1375.0,1817.5 L1377.0,1817.6 L1379.0,1817.6 L1381.0,1817.7 L1383.0,1817.8 L1385.0,1817.8 L1387.0,1817.9 L1389.0,1818.0 L1391.0,1818.0 L1393.0,1818.1 L1395.0,1818.2 L1397.0,1818.2 L1399.0,1818.3 L1401.0,1818.4 L1403.0,1818.4 L1405.0,1818.5 L1407.0,1818.5 L1409.0,1818.6 L1411.0,1818.6 L1413.0,1818.7 L1415.0,1818.8 L1417.0,1818.8 L1419.0,1818.9 L1421.0,1818.9 L1423.0,1819.0 L1425.0,1819.0 L1427.0,1819.1 L1429.0,1819.1 L1431.0,1819.2 L1433.0,1819.2 L1435.0,1819.3 L1437.0,1819.3 L1439.0,1819.4 L1441.0,1819.4 L1443.0,1819.5 L1445.0,1819.5 L1447.0,1819.5 L1449.0,1819.6 L1451.0,1819.6 L1453.0,1819.7 L1455.0,1819.7 L1457.0,1819.8 L1459.0,1819.8 L1461.0,1819.8 L1463.0,1819.9 L1465.0,1819.9 L1467.0,1820.0 L1469.0,1820.0 L1471.0,1820.0 L1473.0,1820.1 L1475.0,1820.1 L1477.0,1820.1 L1479.0,1820.2 L1481.0,1820.2 L1483.0,1820.2 L1485.0,1820.3 L1487.0,1820.3 L1489.0,1820.3 L1491.0,1820.4 L1493.0,1820.4 L1495.0,1820.4 L1497.0,1820.5 L1499.0,1820.5 L1501.0,1820.5 L1503.0,1820.6 L1505.0,1820.6 L1507.0,1820.6 L1509.0,1820.6 L1511.0,1820.7 L1513.0,1820.7 L1515.0,1820.7 L1517.0,1820.7 L1519.0,1820.8 L1521.0,1820.8 L1523.0,1820.8 L1525.0,1820.8 L1527.0,1820.9 L1529.0,1820.9 L1531.0,1820.9 L1533.0,1820.9 L1535.0,1821.0 L1537.0,1821.0 L1539.0,1821.0 L1541.0,1821.0 L1543.0,1821.1 L1545.0,1821.1 L1547.0,1821.1 L1549.0,1821.1 L1551.0,1821.1 L1553.0,1821.2 L1555.0,1821.2 L1557.0,1821.2 L1559.0,1821.2 L1561.0,1821.2 L1563.0,1821.3 L1565.0,1821.3 L1567.0,1821.3 L1569.0,1821.3 L1571.0,1821.3 L1573.0,1821.4 L1575.0,1821.4 L1577.0,1821.4 L1579.0,1821.4 L1581.0,1821.4 L1583.0,1821.4 L1585.0,1821.5 L1587.0,1821.5 L1589.0,1821.5 L1591.0,1821.5 L1593.0,1821.5 L1595.0,1821.5 L1597.0,1821.6 L1599.0,1821.6 L1601.0,1821.6 L1603.0,1821.6 L1605.0,1821.6 L1607.0,1821.6 L1609.0,1821.7 L1611.0,1821.7 L1613.0,1821.7 L1615.0,1821.7 L1617.0,1821.7 L1619.0,1821.7 L1621.0,1821.8 L1623.0,1821.8 L1625.0,1821.8 L1627.0,1821.8 L1629.0,1821.8 L1631.0,1821.8 L1633.0,1821.8 L1635.0,1821.9 L1637.0,1821.9 L1639.0,1821.9 L1641.0,1821.9 L1643.0,1821.9 L1645.0,1821.9 L1647.0,1821.9 L1649.0,1821.9 L1651.0,1822.0 L1653.0,1822.0 L1655.0,1822.0 L1657.0,1822.0 L1659.0,1822.0 L1661.0,1822.0 L1663.0,1822.0 L1665.0,1822.0 L1667.0,1822.1 L1669.0,1822.1 L1671.0,1822.1 L1673.0,1822.1 L1675.0,1822.1 L1677.0,1822.1 L1679.0,1822.1 L1681.0,1822.1 L1683.0,1822.2 L1685.0,1822.2 L1687.0,1822.2 L1689.0,1822.2 L1691.0,1822.2 L1693.0,1822.2 L1695.0,1822.2 L1697.0,1822.2 L1699.0,1822.2 L1701.0,1822.3 L1703.0,1822.3 L1705.0,1822.3 L1707.0,1822.3 L1709.0,1822.3 L1711.0,1822.3 L1713.0,1822.3 L1715.0,1822.3 L1717.0,1822.3 L1719.0,1822.4 L1721.0,1822.4 L1723.0,1822.4 L1725.0,1822.4 L1727.0,1822.4 L1729.0,1822.4 L1731.0,1822.4 L1733.0,1822.4 L1735.0,1822.4 L1737.0,1822.4 L1739.0,1822.4 L1741.0,1822.5 L1743.0,1822.5 L1745.0,1822.5 L1747.0,1822.5 L1749.0,1822.5 L1751.0,1822.5 L1753.0,1822.5 L1755.0,1822.5 L1757.0,1822.5 L1759.0,1822.5 L1761.0,1822.5 L1763.0,1822.6 L1765.0,1822.6 L1767.0,1822.6 L1769.0,1822.6 L1771.0,1822.6 L1773.0,1822.6 L1775.0,1822.6 L1777.0,1822.6 L1779.0,1822.6 L1781.0,1822.6 L1783.0,1822.6 L1785.0,1822.7 L1787.0,1822.7 L1789.0,1822.7 L1791.0,1822.7 L1793.0,1822.7 L1795.0,1822.7 L1797.0,1822.7 L1799.0,1822.7 L1801.0,1822.7 L1803.0,1822.7 L1805.0,1822.7 L1807.0,1822.7 L1809.0,1822.7 L1811.0,1822.8 L1813.0,1822.8 L1815.0,1822.8 L1817.0,1822.8 L1819.0,1822.8 L1821.0,1822.8 L1823.0,1822.8 L1825.0,1822.8 L1827.0,1822.8 L1829.0,1822.8 L1831.0,1822.8 L1833.0,1822.8 L1835.0,1822.8 L1837.0,1822.8 L1839.0,1822.9 L1841.0,1822.9 L1843.0,1822.9 L1845.0,1822.9 L1847.0,1822.9" stroke="#f00" stroke-width="2"/>
<path d="M127.0,1770.0 L129.0,1770.0 L131.0,1770.0 L133.0,1769.9 L135.0,1769.9 L137.0,1769.9 L139.0,1769.9 L141.0,1769.9 L143.0,1769.9 L145.0,1769.9 L147.0,1769.8 L149.0,1769.8 L151.0,1769.8 L153.0,1769.8 L155.0,1769.8 L157.0,1769.8 L159.0,1769.8 L161.0,1769.7 L163.0,1769.7 L165.0,1769.7 L167.0,1769.7 L169.0,1769.7 L171.0,1769.7 L173.0,1769.6 L175.0,1769.6 L177.0,1769.6 L179.0,1769.6 L181.0,1769.6 L183.0,1769.6 L185.0,1769.5 L187.0,1769.5 L189.0,1769.5 L191.0,1769.5 L193.0,1769.5 L195.0,1769.5 L197.0,1769.4 L199.0,1769.4 L201.0,1769.4 L203.0,1769.4 L205.0,1769.4 L207.0,1769.3 L209.0,1769.3 L211.0,1769.3 L213.0,1769.3 L215.0,1769.3 L217.0,1769.3 L219.0,1769.2 L221.0,1769.2 L223.0,1769.2 L225.0,1769.2 L227.0,1769.2 L229.0,1769.1 L231.0,1769.1 L233.0,1769.1 L235.0,1769.1 L237.0,1769.1 L239.0,1769.0 L241.0,1769.0 L243.0,1769.0 L245.0,1769.0 L247.0,1769.0 L249.0,1768.9 L251.0,1768.9 L253.0,1768.9 L255.0,1768.9 L257.0,1768.8 L259.0,1768.8 L261.0,1768.8 L263.0,1768.8 L265.0,1768.8 L267.0,1768.7 L269.0,1768.7 L271.0,1768.7 L273.0,1768.7 L275.0,1768.6 L277.0,1768.6 L279.0,1768.6 L281.0,1768.6 L283.0,1768.5 L285.0,1768.5 L287.0,1768.5 L289.0,1768.5 L291.0,1768.4 L293.0,1768.4 L295.0,1768.4 L297.0,1768.4 L299.0,1768.3 L301.0,1768.3 L303.0,1768.3 L305.0,1768.3 L307.0,1768.2 L309.0,1768.2 L311.0,1768.2 L313.0,1768.2 L315.0,1768.1 L317.0,1768.1 L319.0,1768.1 L321.0,1768.0 L323.0,1768.0 L325.0,1768.0 L327.0,1768.0 L329.0,1767.9 L331.0,1767.9 L333.0,1767.9 L335.0,1767.8 L337.0,1767.8 L339.0,1767.8 L341.0,1767.8 L343.0,1767.7 L345.0,1767.7 L347.0,1767.7 L349.0,1767.6 L351.0,1767.6 L353.0,1767.6 L355.0,1767.5 L357.0,1767.5 L359.0,1767.5 L361.0,1767.4 L363.0,1767.4 L365.0,1767.4 L367.0,1767.3 L369.0,1767.3 L371.0,1767.3 L373.0,1767.2 L375.0,1767.2 L377.0,1767.2 L379.0,1767.1 L381.0,1767.1 L383.0,1767.1 L385.0,1767.0 L387.0,1767.0 L389.0,1767.0 L391.0,1766.9 L393.0,1766.9 L395.0,1766.8 L397.0,1766.8 L399.0,1766.8 L401.0,1766.7 L403.0,1766.7 L405.0,1766.7 L407.0,1766.6 L409.0,1766.6 L411.0,1766.5 L413.0,1766.5 L415.0,1766.5 L417.0,1766.4 L419.0,1766.4 L421.0,1766.3 L423.0,1766.3 L425.0,1766.3 L427.0,1766.2 L429.0,1766.2 L431.0,1766.1 L433.0,1766.1 L435.0,1766.1 L437.0,1766.0 L439.0,1766.0 L441.0,1765.9 L443.0,1765.9 L445.0,1765.8 L447.0,1765.8 L449.0,1765.8 L451.0,1765.7 L453.0,1765.7 L455.0,1765.6 L457.0,1765.6 L459.0,1765.5 L461.0,1765.5 L463.0,1765.4 L465.0,1765.4 L467.0,1765.3 L469.0,1765.3 L471.0,1765.2 L473.0,1765.2 L475.0,1765.1 L477.0,1765.1 L479.0,1765.0 L481.0,1765.0 L483.0,1764.9 L485.0,1764.9 L487.0,1764.8 L489.0,1764.8 L491.0,1764.7 L493.0,1764.7 L495.0,1764.6 L497.0,1764.5 L499.0,1764.5 L501.0,1764.4 L503.0,1764.4 L505.0,1764.3 L507.0,1764.2 L509.0,1764.2 L511.0,1764.1 L513.0,1764.1 L515.0,1764.0 L517.0,1763.9 L519.0,1763.9 L521.0,1763.8 L523.0,1763.7 L525.0,1763.6 L527.0,1763.6 L529.0,1763.5 L531.0,1763.4 L533.0,1763.3 L535.0,1763.3 L537.0,1763.2 L539.0,1763.1 L541.0,1763.0 L543.0,1762.9 L545.0,1762.8 L547.0,1762.8 L549.0,1762.7 L551.0,1762.6 L553.0,1762.5 L555.0,1762.4 L557.0,1762.3 L559.0,1762.2 L561.0,1762.1 L563.0,1762.0 L565.0,1761.9 L567.0,1761.8 L569.0,1761.7 L571.0,1761.6 L573.0,1761.4 L575.0,1761.3 L577.0,1761.2 L579.0,1761.1 L581.0,1761.0 L583.0,1760.9 L585.0,1760.7 L587.0,1760.6 L589.0,1760.5 L591.0,1760.4 L593.0,1760.2 L595.0,1760.1 L597.0,1760.0 L599.0,1759.8 L601.0,1759.7 L603.0,1759.5 L605.0,1759.4 L607.0,1759.2 L609.0,1759.1 L611.0,1758.9 L613.0,1758.8 L615.0,1758.6 L617.0,1758.5 L619.0,1758.3 L621.0,1758.1 L623.0,1758.0 L625.0,1757.8 L627.0,1757.6 L629.0,1757.4 L631.0,1757.2 L633.0,1757.1 L635.0,1756.9 L637.0,1756.7 L639.0,1756.5 L641.0,1756.3 L643.0,1756.1 L645.0,1755.9 L647.0,1755.7 L649.0,1755.4 L651.0,1755.2 L653.0,1755.0 L655.0,1754.8 L657.0,1754.6 L659.0,1754.3 L661.0,1754.1 L663.0,1753.8 L665.0,1753.6 L667.0,1753.3 L669.0,1753.1 L671.0,1752.8 L673.0,1752.5 L675.0,1752.3 L677.0,1752.0 L679.0,1751.7 L681.0,1751.4 L683.0,1751.1 L685.0,1750.8 L687.0,1750.5 L689.0,1750.2 L691.0,1749.8 L693.0,1749.5 L695.0,1749.2 L697.0,1748.8 L699.0,1748.4 L701.0,1748.1 L703.0,1747.7 L705.0,1747.3 L707.0,1746.9 L709.0,1746.5 L711.0,1746.1 L713.0,1745.7 L715.0,1745.2 L717.0,1744.8 L719.0,1744.3 L721.0,1743.8 L723.0,1743.3 L725.0,1742.8 L727.0,1742.3 L729.0,1741.7 L731.0,1741.2 L733.0,1740.6 L735.0,1740.0 L737.0,1739.4 L739.0,1738.8 L741.0,1738.1 L743.0,1737.5 L745.0,1736.8 L747.0,1736.1 L749.0,1735.3 L751.0,1734.6 L753.0,1733.8 L755.0,1732.9 L757.0,1732.1 L759.0,1731.2 L761.0,1730.3 L763.0,1729.4 L765.0,1728.4 L767.0,1727.4 L769.0,1726.4 L771.0,1725.3 L773.0,1724.2 L775.0,1723.1 L777.0,1721.9 L779.0,1720.7 L781.0,1719.4 L783.0,1718.1 L785.0,1716.7 L787.0,1715.3 L789.0,1713.8 L791.0,1712.3 L793.0,1710.7 L795.0,1709.1 L797.0,1707.4 L799.0,1705.7 L801.0,1703.9 L803.0,1702.1 L805.0,1700.1 L807.0,1698.1 L809.0,1696.1 L811.0,1694.0 L813.0,1691.8 L815.0,1689.5 L817.0,1687.2 L819.0,1684.7 L821.0,1682.2 L823.0,1679.7 L825.0,1677.0 L827.0,1674.3 L829.0,1671.4 L831.0,1668.5 L833.0,1665.5 L835.0,1662.4 L837.0,1659.2 L839.0,1655.9 L841.0,1652.6 L843.0,1649.1 L845.0,1645.5 L847.0,1641.8 L849.0,1638.1 L851.0,1634.2 L853.0,1630.2 L855.0,1626.1 L857.0,1621.9 L859.0,1617.6 L861.0,1613.2 L863.0,1608.7 L865.0,1604.1 L867.0,1599.4 L869.0,1594.6 L871.0,1589.6 L873.0,1584.6 L875.0,1579.4 L877.0,1574.2 L879.0,1568.8 L881.0,1563.4 L883.0,1557.8 L885.0,1552.1 L887.0,1546.3 L889.0,1540.5 L891.0,1534.5 L893.0,1528.4 L895.0,1522.2 L897.0,1516.0 L899.0,1509.7 L901.0,1503.2 L903.0,1496.7 L905.0,1490.1 L907.0,1483.5 L909.0,1476.8 L911.0,1470.0 L913.0,1463.1 L915.0,1456.2 L917.0,1449.3 L919.0,1442.3 L921.0,1435.2 L923.0,1428.2 L925.0,1421.1 L927.0,1414.0 L929.0,1406.9 L931.0,1399.8 L933.0,1392.7 L935.0,1385.6 L937.0,1378.6 L939.0,1371.5 L941.0,1364.6 L943.0,1357.7 L945.0,1350.9 L947.0,1344.1 L949.0,1337.5 L951.0,1330.9 L953.0,1324.5 L955.0,1318.2 L957.0,1312.1 L959.0,1306.2 L961.0,1300.4 L963.0,1294.8 L965.0,1289.4 L967.0,1284.2 L969.0,1279.3 L971.0,1274.7 L973.0,1270.3 L975.0,1266.1 L977.0,1262.3 L979.0,1258.8 L981.0,1255.6 L983.0,1252.7 L985.0,1250.2 L987.0,1248.1 L989.0,1246.3 L991.0,1244.8 L993.0,1243.8 L995.0,1243.1 L997.0,1242.8 L999.0,1243.0 L1001.0,1243.5 L1003.0,1244.4 L1005.0,1245.7 L1007.0,1247.4 L1009.0,1249.5 L1011.0,1251.9 L1013.0,1254.8 L1015.0,1257.9 L1017.0,1261.5 L1019.0,1265.4 L1021.0,1269.6 L1023.0,1274.2 L1025.0,1279.0 L1027.0,1284.1 L1029.0,1289.6 L1031.0,1295.2 L1033.0,1301.2 L1035.0,1307.3 L1037.0,1313.7 L1039.0,1320.3 L1041.0,1327.0 L1043.0,1333.9 L1045.0,1341.0 L1047.0,1348.2 L1049.0,1355.6 L1051.0,1363.0 L1053.0,1370.5 L1055.0,1378.1 L1057.0,1385.8 L1059.0,1393.5 L1061.0,1401.3 L1063.0,1409.0 L1065.0,1416.8 L1067.0,1424.7 L1069.0,1432.5 L1071.0,1440.3 L1073.0,1448.0 L1075.0,1455.8 L1077.0,1463.5 L1079.0,1471.1 L1081.0,1478.7 L1083.0,1486.2 L1085.0,1493.7 L1087.0,1501.1 L1089.0,1508.4 L1091.0,1515.7 L1093.0,1522.8 L1095.0,1529.9 L1097.0,1536.8 L1099.0,1543.7 L1101.0,1550.5 L1103.0,1557.1 L1105.0,1563.7 L1107.0,1570.1 L1109.0,1576.4 L1111.0,1582.7 L1113.0,1588.8 L1115.0,1594.7 L1117.0,1600.6 L1119.0,1606.3 L1121.0,1612.0 L1123.0,1617.5 L1125.0,1622.8 L1127.0,1628.1 L1129.0,1633.3 L1131.0,1638.3 L1133.0,1643.2 L1135.0,1648.0 L1137.0,1652.6 L1139.0,1657.2 L1141.0,1661.6 L1143.0,1665.9 L1145.0,1670.1 L1147.0,1674.2 L1149.0,1678.2 L1151.0,1682.1 L1153.0,1685.8 L1155.0,1689.5 L1157.0,1693.0 L1159.0,1696.5 L1161.0,1699.8 L1163.0,1703.1 L1165.0,1706.2 L1167.0,1709.3 L1169.0,1712.2 L1171.0,1715.1 L1173.0,1717.9 L1175.0,1720.6 L1177.0,1723.2 L1179.0,1725.7 L1181.0,1728.2 L1183.0,1730.5 L1185.0,1732.8 L1187.0,1735.0 L1189.0,1737.2 L1191.0,1739.2 L1193.0,1741.2 L1195.0,1743.2 L1197.0,1745.0 L1199.0,1746.8 L1201.0,1748.6 L1203.0,1750.3 L1205.0,1751.9 L1207.0,1753.5 L1209.0,1755.0 L1211.0,1756.5 L1213.0,1757.9 L1215.0,1759.3 L1217.0,1760.6 L1219.0,1761.9 L1221.0,1763.2 L1223.0,1764.4 L1225.0,1765.5 L1227.0,1766.6 L1229.0,1767.7 L1231.0,1768.8 L1233.0,1769.8 L1235.0,1770.8 L1237.0,1771.8 L1239.0,1772.7 L1241.0,1773.6 L1243.0,1774.5 L1245.0,1775.3 L1247.0,1776.1 L1249.0,1776.9 L1251.0,1777.7 L1253.0,1778.4 L1255.0,1779.2 L1257.0,1779.9 L1259.0,1780.6 L1261.0,1781.2 L1263.0,1781.9 L1265.0,1782.5 L1267.0,1783.1 L1269.0,1783.7 L1271.0,1784.3 L1273.0,1784.9 L1275.0,1785.4 L1277.0,1786.0 L1279.0,1786.5 L1281.0,1787.0 L1283.0,1787.5 L1285.0,1788.0 L1287.0,1788.5 L1289.0,1789.0 L1291.0,1789.4 L1293.0,1789.9 L1295.0,1790.3 L1297.0,1790.7 L1299.0,1791.2 L1301.0,1791.6 L1303.0,1792.0 L1305.0,1792.4 L1307.0,1792.8 L1309.0,1793.2 L1311.0,1793.5 L1313.0,1793.9 L1315.0,1794.3 L1317.0,1794.6 L1319.0,1795.0 L1321.0,1795.3 L1323.0,1795.7 L1325.0,1796.0 L1327.0,1796.3 L1329.0,1796.6 L1331.0,1797.0 L1333.0,1797.3 L1335.0,1797.6 L1337.0,1797.9 L1339.0,1798.2 L1341.0,1798.5 L1343.0,1798.8 L1345.0,1799.0 L1347.0,1799.3 L1349.0,1799.6 L1351.0,1799.9 L1353.0,1800.1 L1355.0,1800.4 L1357.0,1800.7 L1359.0,1800.9 L1361.0,1801.2 L1363.0,1801.4 L1365.0,1801.7 L1367.0,1801.9 L1369.0,1802.1 L1371.0,1802.4 L1373.0,1802.6 L1375.0,1802.8 L1377.0,1803.1 L1379.0,1803.3 L1381.0,1803.5 L1383.0,1803.7 L1385.0,1803.9 L1387.0,1804.1 L1389.0,1804.3 L1391.0,1804.5 L1393.0,1804.7 L1395.0,1804.9 L1397.0,1805.1 L1399.0,1805.3 L1401.0,1805.5 L1403.0,1805.7 L1405.0,1805.9 L1407.0,1806.1 L1409.0,1806.2 L1411.0,1806.4 L1413.0,1806.6 L1415.0,1806.8 L1417.0,1806.9 L1419.0,1807.1 L1421.0,1807.3 L1423.0,1807.4 L1425.0,1807.6 L1427.0,1807.8 L1429.0,1807.9 L1431.0,1808.1 L1433.0,1808.2 L1435.0,1808.4 L1437.0,1808.5 L1439.0,1808.7 L1441.0,1808.8 L1443.0,1808.9 L1445.0,1809.1 L1447.0,1809.2 L1449.0,1809.4 L1451.0,1809.5 L1453.0,1809.6 L1455.0,1809.7 L1457.0,1809.9 L1459.0,1810.0 L1461.0,1810.1 L1463.0,1810.3 L1465.0,1810.4 L1467.0,1810.5 L1469.0,1810.6 L1471.0,1810.7 L1473.0,1810.8 L1475.0,1811.0 L1477.0,1811.1 L1479.0,1811.2 L1481.0,1811.3 L1483.0,1811.4 L1485.0,1811.5 L1487.0,1811.6 L1489.0,1811.7 L1491.0,1811.8 L1493.0,1811.9 L1495.0,1812.0 L1497.0,1812.1 L1499.0,1812.2 L1501.0,1812.3 L1503.0,1812.4 L1505.0,1812.5 L1507.0,1812.6 L1509.0,1812.7 L1511.0,1812.8 L1513.0,1812.9 L1515.0,1813.0 L1517.0,1813.0 L1519.0,1813.1 L1521.0,1813.2 L1523.0,1813.3 L1525.0,1813.4 L1527.0,1813.5 L1529.0,1813.5 L1531.0,1813.6 L1533.0,1813.7 L1535.0,1813.8 L1537.0,1813.9 L1539.0,1813.9 L1541.0,1814.0 L1543.0,1814.1 L1545.0,1814.2 L1547.0,1814.2 L1549.0,1814.3 L1551.0,1814.4 L1553.0,1814.4 L1555.0,1814.5 L1557.0,1814.6 L1559.0,1814.7 L1561.0,1814.7 L1563.0,1814.8 L1565.0,1814.9 L1567.0,1814.9 L1569.0,1815.0 L1571.0,1815.0 L1573.0,1815.1 L1575.0,1815.2 L1577.0,1815.2 L1579.0,1815.3 L1581.0,1815.4 L1583.0,1815.4 L1585.0,1815.5 L1587.0,1815.5 L1589.0,1815.6 L1591.0,1815.7 L1593.0,1815.7 L1595.0,1815.8 L1597.0,1815.8 L1599.0,1815.9 L1601.0,1815.9 L1603.0,1816.0 L1605.0,1816.0 L1607.0,1816.1 L1609.0,1816.1 L1611.0,1816.2 L1613.0,1816.2 L1615.0,1816.3 L1617.0,1816.4 L1619.0,1816.4 L1621.0,1816.5 L1623.0,1816.5 L1625.0,1816.5 L1627.0,1816.6 L1629.0,1816.6 L1631.0,1816.7 L1633.0,1816.7 L1635.0,1816.8 L1637.0,1816.8 L1639.0,1816.9 L1641.0,1816.9 L1643.0,1817.0 L1645.0,1817.0 L1647.0,1817.1 L1649.0,1817.1 L1651.0,1817.1 L1653.0,1817.2 L1655.0,1817.2 L1657.0,1817.3 L1659.0,1817.3 L1661.0,1817.4 L1663.0,1817.4 L1665.0,1817.4 L1667.0,1817.5 L1669.0,1817.5 L1671.0,1817.6 L1673.0,1817.6 L1675.0,1817.6 L1677.0,1817.7 L1679.0,1817.7 L1681.0,1817.8 L1683.0,1817.8 L1685.0,1817.8 L1687.0,1817.9 L1689.0,1817.9 L1691.0,1817.9 L1693.0,1818.0 L1695.0,1818.0 L1697.0,1818.1 L1699.0,1818.1 L1701.0,1818.1 L1703.0,1818.2 L1705.0,1818.2 L1707.0,1818.2 L1709.0,1818.3 L1711.0,1818.3 L1713.0,1818.3 L1715.0,1818.4 L1717.0,1818.4 L1719.0,1818.4 L1721.0,1818.5 L1723.0,1818.5 L1725.0,1818.5 L1727.0,1818.6 L1729.0,1818.6 L1731.0,1818.6 L1733.0,1818.6 L1735.0,1818.7 L1737.0,1818.7 L1739.0,1818.7 L1741.0,1818.8 L1743.0,1818.8 L1745.0,1818.8 L1747.0,1818.9 L1749.0,1818.9 L1751.0,1818.9 L1753.0,1818.9 L1755.0,1819.0 L1757.0,1819.0 L1759.0,1819.0 L1761.0,1819.1 L1763.0,1819.1 L1765.0,1819.1 L1767.0,1819.1 L1769.0,1819.2 L1771.0,1819.2 L1773.0,1819.2 L1775.0,1819.2 L1777.0,1819.3 L1779.0,1819.3 L1781.0,1819.3 L1783.0,1819.4 L1785.0,1819.4 L1787.0,1819.4 L1789.0,1819.4 L1791.0,1819.5 L1793.0,1819.5 L1795.0,1819.5 L1797.0,1819.5 L1799.0,1819.5 L1801.0,1819.6 L1803.0,1819.6 L1805.0,1819.6 L1807.0,1819.6 L1809.0,1819.7 L1811.0,1819.7 L1813.0,1819.7 L1815.0,1819.7 L1817.0,1819.8 L1819.0,1819.8 L1821.0,1819.8 L1823.0,1819.8 L1825.0,1819.8 L1827.0,1819.9 L1829.0,1819.9 L1831.0,1819.9 L1833.0,1819.9 L1835.0,1820.0 L1837.0,1820.0 L1839.0,1820.0 L1841.0,1820.0 L1843.0,1820.0 L1845.0,1820.1 L1847.0,1820.1" stroke="#f00" stroke-width="2"/>
<path d="M127.0,1772.9 L129.0,1772.9 L131.0,1772.9 L133.0,1772.9 L135.0,1772.9 L137.0,1772.9 L139.0,1772.9 L141.0,1772.9 L143.0,1772.9 L145.0,1772.9 L147.0,1772.9 L149.0,1772.9 L151.0,1772.9 L153.0,1772.9 L155.0,1772.9 L157.0,1772.9 L159.0,1772.9 L161.0,1772.9 L163.0,1772.9 L165.0,1772.9 L167.0,1772.9 L169.0,1772.9 L171.0,1772.9 L173.0,1772.9 L175.0,1772.9 L177.0,1772.9 L179.0,1772.9 L181.0,1772.9 L183.0,1772.9 L185.0,1772.9 L187.0,1772.9 L189.0,1772.9 L191.0,1772.9 L193.0,1772.9 L195.0,1772.9 L197.0,1772.9 L199.0,1772.9 L201.0,1772.9 L203.0,1772.9 L205.0,1772.9 L207.0,1772.9 L209.0,1772.9 L211.0,1772.9 L213.0,1772.9 L215.0,1772.9 L217.0,1772.9 L219.0,1772.9 L221.0,1772.9 L223.0,1772.9 L225.0,1772.9 L227.0,1772.9 L229.0,1772.9 L231.0,1772.9 L233.0,1772.9 L235.0,1772.9 L237.0,1772.9 L239.0,1772.9 L241.0,1772.9 L243.0,1772.9 L245.0,1772.9 L247.0,1772.9 L249.0,1772.9 L251.0,1772.9 L253.0,1772.9 L255.0,1772.9 L257.0,1772.9 L259.0,1772.9 L261.0,1772.9 L263.0,1772.9 L265.0,1772.9 L267.0,1772.9 L269.0,1772.9 L271.0,1772.9 L273.0,1773.0 L275.0,1773.0 L277.0,1773.0 L279.0,1773.0 L281.0,1773.0 L283.0,1773.0 L285.0,1773.0 L287.0,1773.0 L289.0,1773.0 L291.0,1773.0 L293.0,1773.0 L295.0,1773.0 L297.0,1773.0 L299.0,1773.0 L301.0,1773.0 L303.0,1773.0 L305.0,1773.0 L307.0,1773.0 L309.0,1773.0 L311.0,1773.0 L313.0,1773.0 L315.0,1773.0 L317.0,1773.0 L319.0,1773.0 L321.0,1773.0 L323.0,1773.0 L325.0,1773.0 L327.0,1773.0 L329.0,1773.0 L331.0,1773.0 L333.0,1773.0 L335.0,1773.0 L337.0,1773.0 L339.0,1773.0 L341.0,1773.0 L343.0,1773.0 L345.0,1773.0 L347.0,1773.0 L349.0,1773.0 L351.0,1773.0 L353.0,1773.0 L355.0,1773.0 L357.0,1773.0 L359.0,1773.0 L361.0,1773.0 L363.0,1773.0 L365.0,1773.0 L367.0,1773.0 L369.0,1773.0 L371.0,1773.0 L373.0,1773.0 L375.0,1773.1 L377.0,1773.1 L379.0,1773.1 L381.0,1773.1 L383.0,1773.1 L385.0,1773.1 L387.0,1773.1 L389.0,1773.1 L391.0,1773.1 L393.0,1773.1 L395.0,1773.1 L397.0,1773.1 L399.0,1773.1 L401.0,1773.1 L403.0,1773.1 L405.0,1773.1 L407.0,1773.1 L409.0,1773.1 L411.0,1773.1 L413.0,1773.2 L415.0,1773.2 L417.0,1773.2 L419.0,1773.2 L421.0,1773.2 L423.0,1773.2 L425.0,1773.2 L427.0,1773.2 L429.0,1773.2 L431.0,1773.2 L433.0,1773.2 L435.0,1773.3 L437.0,1773.3 L439.0,1773.3 L441.0,1773.3 L443.0,1773.3 L445.0,1773.3 L447.0,1773.3 L449.0,1773.3 L451.0,1773.3 L453.0,1773.3 L455.0,1773.4 L457.0,1773.4 L459.0,1773.4 L461.0,1773.4 L463.0,1773.4 L465.0,1773.4 L467.0,1773.4 L469.0,1773.5 L471.0,1773.5 L473.0,1773.5 L475.0,1773.5 L477.0,1773.5 L479.0,1773.5 L481.0,1773.5 L483.0,1773.6 L485.0,1773.6 L487.0,1773.6 L489.0,1773.6 L491.0,1773.6 L493.0,1773.6 L495.0,1773.6 L497.0,1773.7 L499.0,1773.7 L501.0,1773.7 L503.0,1773.7 L505.0,1773.7 L507.0,1773.7 L509.0,1773.8 L511.0,1773.8 L513.0,1773.8 L515.0,1773.8 L517.0,1773.8 L519.0,1773.8 L521.0,1773.8 L523.0,1773.9 L525.0,1773.9 L527.0,1773.9 L529.0,1773.9 L531.0,1773.9 L533.0,1773.9 L535.0,1773.9 L537.0,1774.0 L539.0,1774.0 L541.0,1774.0 L543.0,1774.0 L545.0,1774.0 L547.0,1774.0 L549.0,1774.0 L551.0,1774.0 L553.0,1774.1 L555.0,1774.1 L557.0,1774.1 L559.0,1774.1 L561.0,1774.1 L563.0,1774.1 L565.0,1774.1 L567.0,1774.1 L569.0,1774.1 L571.0,1774.1 L573.0,1774.1 L575.0,1774.1 L577.0,1774.2 L579.0,1774.2 L581.0,1774.2 L583.0,1774.2 L585.0,1774.2 L587.0,1774.2 L589.0,1774.2 L591.0,1774.2 L593.0,1774.2 L595.0,1774.2 L597.0,1774.2 L599.0,1774.2 L601.0,1774.2 L603.0,1774.2 L605.0,1774.2 L607.0,1774.2 L609.0,1774.2 L611.0,1774.2 L613.0,1774.2 L615.0,1774.2 L617.0,1774.2 L619.0,1774.2 L621.0,1774.2 L623.0,1774.2 L625.0,1774.2 L627.0,1774.2 L629.0,1774.2 L631.0,1774.2 L633.0,1774.2 L635.0,1774.2 L637.0,1774.2 L639.0,1774.2 L641.0,1774.2 L643.0,1774.2 L645.0,1774.2 L647.0,1774.2 L649.0,1774.2 L651.0,1774.2 L653.0,1774.2 L655.0,1774.2 L657.0,1774.2 L659.0,1774.2 L661.0,1774.2 L663.0,1774.2 L665.0,1774.2 L667.0,1774.2 L669.0,1774.2 L671.0,1774.2 L673.0,1774.2 L675.0,1774.2 L677.0,1774.2 L679.0,1774.2 L681.0,1774.2 L683.0,1774.1 L685.0,1774.1 L687.0,1774.1 L689.0,1774.1 L691.0,1774.1 L693.0,1774.1 L695.0,1774.1 L697.0,1774.1 L699.0,1774.1 L701.0,1774.1 L703.0,1774.1 L705.0,1774.1 L707.0,1774.1 L709.0,1774.1 L711.0,1774.1 L713.0,1774.1 L715.0,1774.1 L717.0,1774.1 L719.0,1774.1 L721.0,1774.1 L723.0,1774.1 L725.0,1774.1 L727.0,1774.1 L729.0,1774.1 L731.0,1774.1 L733.0,1774.1 L735.0,1774.1 L737.0,1774.1 L739.0,1774.1 L741.0,1774.0 L743.0,1774.0 L745.0,1774.0 L747.0,1774.0 L749.0,1774.0 L751.0,1774.0 L753.0,1774.1 L755.0,1774.1 L757.0,1774.1 L759.0,1774.1 L761.0,1774.1 L763.0,1774.1 L765.0,1774.1 L767.0,1774.1 L769.0,1774.1 L771.0,1774.1 L773.0,1774.1 L775.0,1774.1 L777.0,1774.1 L779.0,1774.1 L781.0,1774.1 L783.0,1774.1 L785.0,1774.2 L787.0,1774.2 L789.0,1774.2 L791.0,1774.2 L793.0,1774.2 L795.0,1774.2 L797.0,1774.2 L799.0,1774.3 L801.0,1774.3 L803.0,1774.3 L805.0,1774.3 L807.0,1774.3 L809.0,1774.4 L811.0,1774.4 L813.0,1774.4 L815.0,1774.4 L817.0,1774.5 L819.0,1774.5 L821.0,1774.5 L823.0,1774.6 L825.0,1774.6 L827.0,1774.6 L829.0,1774.7 L831.0,1774.7 L833.0,1774.7 L835.0,1774.8 L837.0,1774.8 L839.0,1774.8 L841.0,1774.9 L843.0,1774.9 L845.0,1775.0 L847.0,1775.0 L849.0,1775.0 L851.0,1775.1 L853.0,1775.1 L855.0,1775.1 L857.0,1775.2 L859.0,1775.2 L861.0,1775.2 L863.0,1775.3 L865.0,1775.3 L867.0,1775.3 L869.0,1775.4 L871.0,1775.4 L873.0,1775.4 L875.0,1775.4 L877.0,1775.5 L879.0,1775.5 L881.0,1775.5 L883.0,1775.5 L885.0,1775.5 L887.0,1775.5 L889.0,1775.5 L891.0,1775.5 L893.0,1775.5 L895.0,1775.5 L897.0,1775.5 L899.0,1775.4 L901.0,1775.4 L903.0,1775.4 L905.0,1775.4 L907.0,1775.3 L909.0,1775.3 L911.0,1775.2 L913.0,1775.2 L915.0,1775.1 L917.0,1775.0 L919.0,1774.9 L921.0,1774.9 L923.0,1774.8 L925.0,1774.7 L927.0,1774.6 L929.0,1774.4 L931.0,1774.3 L933.0,1774.2 L935.0,1774.0 L937.0,1773.9 L939.0,1773.7 L941.0,1773.5 L943.0,1773.3 L945.0,1773.1 L947.0,1772.9 L949.0,1772.7 L951.0,1772.4 L953.0,1772.2 L955.0,1771.9 L957.0,1771.6 L959.0,1771.3 L961.0,1771.0 L963.0,1770.7 L965.0,1770.3 L967.0,1769.9 L969.0,1769.5 L971.0,1769.1 L973.0,1768.7 L975.0,1768.2 L977.0,1767.8 L979.0,1767.3 L981.0,1766.8 L983.0,1766.2 L985.0,1765.6 L987.0,1765.1 L989.0,1764.4 L991.0,1763.8 L993.0,1763.1 L995.0,1762.4 L997.0,1761.7 L999.0,1760.9 L1001.0,1760.1 L1003.0,1759.3 L1005.0,1758.5 L1007.0,1757.6 L1009.0,1756.7 L1011.0,1755.7 L1013.0,1754.8 L1015.0,1753.7 L1017.0,1752.7 L1019.0,1751.6 L1021.0,1750.5 L1023.0,1749.3 L1025.0,1748.1 L1027.0,1746.9 L1029.0,1745.7 L1031.0,1744.4 L1033.0,1743.0 L1035.0,1741.7 L1037.0,1740.2 L1039.0,1738.8 L1041.0,1737.3 L1043.0,1735.8 L1045.0,1734.2 L1047.0,1732.7 L1049.0,1731.0 L1051.0,1729.4 L1053.0,1727.7 L1055.0,1725.9 L1057.0,1724.2 L1059.0,1722.4 L1061.0,1720.5 L1063.0,1718.7 L1065.0,1716.8 L1067.0,1714.9 L1069.0,1712.9 L1071.0,1710.9 L1073.0,1708.9 L1075.0,1706.9 L1077.0,1704.8 L1079.0,1702.8 L1081.0,1700.7 L1083.0,1698.5 L1085.0,1696.4 L1087.0,1694.3 L1089.0,1692.1 L1091.0,1689.9 L1093.0,1687.8 L1095.0,1685.6 L1097.0,1683.4 L1099.0,1681.2 L1101.0,1679.1 L1103.0,1676.9 L1105.0,1674.7 L1107.0,1672.6 L1109.0,1670.5 L1111.0,1668.4 L1113.0,1666.3 L1115.0,1664.2 L1117.0,1662.2 L1119.0,1660.2 L1121.0,1658.3 L1123.0,1656.4 L1125.0,1654.5 L1127.0,1652.7 L1129.0,1651.0 L1131.0,1649.3 L1133.0,1647.7 L1135.0,1646.1 L1137.0,1644.7 L1139.0,1643.3 L1141.0,1642.0 L1143.0,1640.8 L1145.0,1639.6 L1147.0,1638.6 L1149.0,1637.7 L1151.0,1636.8 L1153.0,1636.1 L1155.0,1635.4 L1157.0,1634.9 L1159.0,1634.5 L1161.0,1634.2 L1163.0,1634.0 L1165.0,1633.9 L1167.0,1633.9 L1169.0,1634.1 L1171.0,1634.3 L1173.0,1634.7 L1175.0,1635.2 L1177.0,1635.7 L1179.0,1636.4 L1181.0,1637.2 L1183.0,1638.1 L1185.0,1639.1 L1187.0,1640.2 L1189.0,1641.3 L1191.0,1642.6 L1193.0,1644.0 L1195.0,1645.4 L1197.0,1646.9 L1199.0,1648.5 L1201.0,1650.2 L1203.0,1651.9 L1205.0,1653.7 L1207.0,1655.5 L1209.0,1657.4 L1211.0,1659.4 L1213.0,1661.4 L1215.0,1663.4 L1217.0,1665.5 L1219.0,1667.6 L1221.0,1669.8 L1223.0,1672.0 L1225.0,1674.2 L1227.0,1676.4 L1229.0,1678.7 L1231.0,1680.9 L1233.0,1683.2 L1235.0,1685.5 L1237.0,1687.8 L1239.0,1690.1 L1241.0,1692.4 L1243.0,1694.8 L1245.0,1697.1 L1247.0,1699.4 L1249.0,1701.7 L1251.0,1704.0 L1253.0,1706.2 L1255.0,1708.5 L1257.0,1710.8 L1259.0,1713.0 L1261.0,1715.2 L1263.0,1717.4 L1265.0,1719.6 L1267.0,1721.8 L1269.0,1723.9 L1271.0,1726.0 L1273.0,1728.1 L1275.0,1730.2 L1277.0,1732.3 L1279.0,1734.3 L1281.0,1736.3 L1283.0,1738.3 L1285.0,1740.2 L1287.0,1742.1 L1289.0,1744.0 L1291.0,1745.8 L1293.0,1747.6 L1295.0,1749.4 L1297.0,1751.2 L1299.0,1752.9 L1301.0,1754.6 L1303.0,1756.3 L1305.0,1757.9 L1307.0,1759.5 L1309.0,1761.1 L1311.0,1762.6 L1313.0,1764.1 L1315.0,1765.6 L1317.0,1767.0 L1319.0,1768.4 L1321.0,1769.8 L1323.0,1771.1 L1325.0,1772.4 L1327.0,1773.7 L1329.0,1775.0 L1331.0,1776.2 L1333.0,1777.4 L1335.0,1778.5 L1337.0,1779.7 L1339.0,1780.8 L1341.0,1781.8 L1343.0,1782.9 L1345.0,1783.9 L1347.0,1784.9 L1349.0,1785.9 L1351.0,1786.8 L1353.0,1787.7 L1355.0,1788.6 L1357.0,1789.5 L1359.0,1790.3 L1361.0,1791.1 L1363.0,1791.9 L1365.0,1792.7 L1367.0,1793.4 L1369.0,1794.1 L1371.0,1794.8 L1373.0,1795.5 L1375.0,1796.2 L1377.0,1796.8 L1379.0,1797.4 L1381.0,1798.0 L1383.0,1798.6 L1385.0,1799.2 L1387.0,1799.7 L1389.0,1800.2 L1391.0,1800.8 L1393.0,1801.3 L1395.0,1801.7 L1397.0,1802.2 L1399.0,1802.7 L1401.0,1803.1 L1403.0,1803.5 L1405.0,1803.9 L1407.0,1804.3 L1409.0,1804.7 L1411.0,1805.1 L1413.0,1805.5 L1415.0,1805.8 L1417.0,1806.2 L1419.0,1806.5 L1421.0,1806.8 L1423.0,1807.1 L1425.0,1807.4 L1427.0,1807.7 L1429.0,1808.0 L1431.0,1808.3 L1433.0,1808.6 L1435.0,1808.8 L1437.0,1809.1 L1439.0,1809.3 L1441.0,1809.6 L1443.0,1809.8 L1445.0,1810.0 L1447.0,1810.2 L1449.0,1810.4 L1451.0,1810.6 L1453.0,1810.8 L1455.0,1811.0 L1457.0,1811.2 L1459.0,1811.4 L1461.0,1811.6 L1463.0,1811.8 L1465.0,1812.0 L1467.0,1812.1 L1469.0,1812.3 L1471.0,1812.4 L1473.0,1812.6 L1475.0,1812.7 L1477.0,1812.9 L1479.0,1813.0 L1481.0,1813.2 L1483.0,1813.3 L1485.0,1813.5 L1487.0,1813.6 L1489.0,1813.7 L1491.0,1813.8 L1493.0,1814.0 L1495.0,1814.1 L1497.0,1814.2 L1499.0,1814.3 L1501.0,1814.4 L1503.0,1814.5 L1505.0,1814.7 L1507.0,1814.8 L1509.0,1814.9 L1511.0,1815.0 L1513.0,1815.1 L1515.0,1815.2 L1517.0,1815.3 L1519.0,1815.4 L1521.0,1815.5 L1523.0,1815.5 L1525.0,1815.6 L1527.0,1815.7 L1529.0,1815.8 L1531.0,1815.9 L1533.0,1816.0 L1535.0,1816.1 L1537.0,1816.1 L1539.0,1816.2 L1541.0,1816.3 L1543.0,1816.4 L1545.0,1816.5 L1547.0,1816.5 L1549.0,1816.6 L1551.0,1816.7 L1553.0,1816.8 L1555.0,1816.8 L1557.0,1816.9 L1559.0,1817.0 L1561.0,1817.0 L1563.0,1817.1 L1565.0,1817.2 L1567.0,1817.2 L1569.0,1817.3 L1571.0,1817.4 L1573.0,1817.4 L1575.0,1817.5 L1577.0,1817.5 L1579.0,1817.6 L1581.0,1817.7 L1583.0,1817.7 L1585.0,1817.8 L1587.0,1817.8 L1589.0,1817.9 L1591.0,1817.9 L1593.0,1818.0 L1595.0,1818.0 L1597.0,1818.1 L1599.0,1818.2 L1601.0,1818.2 L1603.0,1818.3 L1605.0,1818.3 L1607.0,1818.4 L1609.0,1818.4 L1611.0,1818.5 L1613.0,1818.5 L1615.0,1818.5 L1617.0,1818.6 L1619.0,1818.6 L1621.0,1818.7 L1623.0,1818.7 L1625.0,1818.8 L1627.0,1818.8 L1629.0,1818.9 L1631.0,1818.9 L1633.0,1818.9 L1635.0,1819.0 L1637.0,1819.0 L1639.0,1819.1 L1641.0,1819.1 L1643.0,1819.2 L1645.0,1819.2 L1647.0,1819.2 L1649.0,1819.3 L1651.0,1819.3 L1653.0,1819.3 L1655.0,1819.4 L1657.0,1819.4 L1659.0,1819.5 L1661.0,1819.5 L1663.0,1819.5 L1665.0,1819.6 L1667.0,1819.6 L1669.0,1819.6 L1671.0,1819.7 L1673.0,1819.7 L1675.0,1819.7 L1677.0,1819.8 L1679.0,1819.8 L1681.0,1819.8 L1683.0,1819.9 L1685.0,1819.9 L1687.0,1819.9 L1689.0,1820.0 L1691.0,1820.0 L1693.0,1820.0 L1695.0,1820.1 L1697.0,1820.1 L1699.0,1820.1 L1701.0,1820.1 L1703.0,1820.2 L1705.0,1820.2 L1707.0,1820.2 L1709.0,1820.3 L1711.0,1820.3 L1713.0,1820.3 L1715.0,1820.3 L1717.0,1820.4 L1719.0,1820.4 L1721.0,1820.4 L1723.0,1820.4 L1725.0,1820.5 L1727.0,1820.5 L1729.0,1820.5 L1731.0,1820.6 L1733.0,1820.6 L1735.0,1820.6 L1737.0,1820.6 L1739.0,1820.6 L1741.0,1820.7 L1743.0,1820.7 L1745.0,1820.7 L1747.0,1820.7 L1749.0,1820.8 L1751.0,1820.8 L1753.0,1820.8 L1755.0,1820.8 L1757.0,1820.9 L1759.0,1820.9 L1761.0,1820.9 L1763.0,1820.9 L1765.0,1820.9 L1767.0,1821.0 L1769.0,1821.0 L1771.0,1821.0 L1773.0,1821.0 L1775.0,1821.1 L1777.0,1821.1 L1779.0,1821.1 L1781.0,1821.1 L1783.0,1821.1 L1785.0,1821.2 L1787.0,1821.2 L1789.0,1821.2 L1791.0,1821.2 L1793.0,1821.2 L1795.0,1821.3 L1797.0,1821.3 L1799.0,1821.3 L1801.0,1821.3 L1803.0,1821.3 L1805.0,1821.3 L1807.0,1821.4 L1809.0,1821.4 L1811.0,1821.4 L1813.0,1821.4 L1815.0,1821.4 L1817.0,1821.4 L1819.0,1821.5 L1821.0,1821.5 L1823.0,1821.5 L1825.0,1821.5 L1827.0,1821.5 L1829.0,1821.5 L1831.0,1821.6 L1833.0,1821.6 L1835.0,1821.6 L1837.0,1821.6 L1839.0,1821.6 L1841.0,1821.6 L1843.0,1821.7 L1845.0,1821.7 L1847.0,1821.7" stroke="#f00" stroke-width="2"/>
<path d="M127.0,1773.6 L129.0,1773.6 L131.0,1773.6 L133.0,1773.6 L135.0,1773.6 L137.0,1773.6 L139.0,1773.6 L141.0,1773.6 L143.0,1773.6 L145.0,1773.6 L147.0,1773.6 L149.0,1773.6 L151.0,1773.6 L153.0,1773.6 L155.0,1773.6 L157.0,1773.6 L159.0,1773.6 L161.0,1773.6 L163.0,1773.6 L165.0,1773.6 L167.0,1773.6 L169.0,1773.7 L171.0,1773.7 L173.0,1773.7 L175.0,1773.7 L177.0,1773.7 L179.0,1773.7 L181.0,1773.7 L183.0,1773.7 L185.0,1773.7 L187.0,1773.7 L189.0,1773.7 L191.0,1773.7 L193.0,1773.7 L195.0,1773.7 L197.0,1773.7 L199.0,1773.7 L201.0,1773.7 L203.0,1773.7 L205.0,1773.7 L207.0,1773.7 L209.0,1773.7 L211.0,1773.7 L213.0,1773.7 L215.0,1773.7 L217.0,1773.7 L219.0,1773.7 L221.0,1773.7 L223.0,1773.7 L225.0,1773.8 L227.0,1773.8 L229.0,1773.8 L231.0,1773.8 L233.0,1773.8 L235.0,1773.8 L237.0,1773.8 L239.0,1773.8 L241.0,1773.8 L243.0,1773.8 L245.0,1773.8 L247.0,1773.8 L249.0,1773.8 L251.0,1773.8 L253.0,1773.8 L255.0,1773.8 L257.0,1773.8 L259.0,1773.8 L261.0,1773.8 L263.0,1773.8 L265.0,1773.8 L267.0,1773.8 L269.0,1773.8 L271.0,1773.9 L273.0,1773.9 L275.0,1773.9 L277.0,1773.9 L279.0,1773.9 L281.0,1773.9 L283.0,1773.9 L285.0,1773.9 L287.0,1773.9 L289.0,1773.9 L291.0,1773.9 L293.0,1773.9 L295.0,1773.9 L297.0,1773.9 L299.0,1773.9 L301.0,1773.9 L303.0,1773.9 L305.0,1773.9 L307.0,1774.0 L309.0,1774.0 L311.0,1774.0 L313.0,1774.0 L315.0,1774.0 L317.0,1774.0 L319.0,1774.0 L321.0,1774.0 L323.0,1774.0 L325.0,1774.0 L327.0,1774.0 L329.0,1774.0 L331.0,1774.0 L333.0,1774.0 L335.0,1774.0 L337.0,1774.1 L339.0,1774.1 L341.0,1774.1 L343.0,1774.1 L345.0,1774.1 L347.0,1774.1 L349.0,1774.1 L351.0,1774.1 L353.0,1774.1 L355.0,1774.1 L357.0,1774.1 L359.0,1774.1 L361.0,1774.1 L363.0,1774.2 L365.0,1774.2 L367.0,1774.2 L369.0,1774.2 L371.0,1774.2 L373.0,1774.2 L375.0,1774.2 L377.0,1774.2 L379.0,1774.2 L381.0,1774.2 L383.0,1774.3 L385.0,1774.3 L387.0,1774.3 L389.0,1774.3 L391.0,1774.3 L393.0,1774.3 L395.0,1774.3 L397.0,1774.3 L399.0,1774.4 L401.0,1774.4 L403.0,1774.4 L405.0,1774.4 L407.0,1774.4 L409.0,1774.4 L411.0,1774.4 L413.0,1774.4 L415.0,1774.5 L417.0,1774.5 L419.0,1774.5 L421.0,1774.5 L423.0,1774.5 L425.0,1774.5 L427.0,1774.6 L429.0,1774.6 L431.0,1774.6 L433.0,1774.6 L435.0,1774.6 L437.0,1774.6 L439.0,1774.7 L441.0,1774.7 L443.0,1774.7 L445.0,1774.7 L447.0,1774.7 L449.0,1774.7 L451.0,1774.8 L453.0,1774.8 L455.0,1774.8 L457.0,1774.8 L459.0,1774.9 L461.0,1774.9 L463.0,1774.9 L465.0,1774.9 L467.0,1774.9 L469.0,1775.0 L471.0,1775.0 L473.0,1775.0 L475.0,1775.0 L477.0,1775.1 L479.0,1775.1 L481.0,1775.1 L483.0,1775.1 L485.0,1775.2 L487.0,1775.2 L489.0,1775.2 L491.0,1775.2 L493.0,1775.3 L495.0,1775.3 L497.0,1775.3 L499.0,1775.3 L501.0,1775.4 L503.0,1775.4 L505.0,1775.4 L507.0,1775.4 L509.0,1775.5 L511.0,1775.5 L513.0,1775.5 L515.0,1775.5 L517.0,1775.6 L519.0,1775.6 L521.0,1775.6 L523.0,1775.6 L525.0,1775.7 L527.0,1775.7 L529.0,1775.7 L531.0,1775.7 L533.0,1775.8 L535.0,1775.8 L537.0,1775.8 L539.0,1775.8 L541.0,1775.9 L543.0,1775.9 L545.0,1775.9 L547.0,1775.9 L549.0,1776.0 L551.0,1776.0 L553.0,1776.0 L555.0,1776.0 L557.0,1776.1 L559.0,1776.1 L561.0,1776.1 L563.0,1776.1 L565.0,1776.1 L567.0,1776.2 L569.0,1776.2 L571.0,1776.2 L573.0,1776.2 L575.0,1776.3 L577.0,1776.3 L579.0,1776.3 L581.0,1776.3 L583.0,1776.3 L585.0,1776.4 L587.0,1776.4 L589.0,1776.4 L591.0,1776.4 L593.0,1776.4 L595.0,1776.5 L597.0,1776.5 L599.0,1776.5 L601.0,1776.5 L603.0,1776.5 L605.0,1776.6 L607.0,1776.6 L609.0,1776.6 L611.0,1776.6 L613.0,1776.6 L615.0,1776.6 L617.0,1776.7 L619.0,1776.7 L621.0,1776.7 L623.0,1776.7 L625.0,1776.7 L627.0,1776.8 L629.0,1776.8 L631.0,1776.8 L633.0,1776.8 L635.0,1776.8 L637.0,1776.9 L639.0,1776.9 L641.0,1776.9 L643.0,1776.9 L645.0,1776.9 L647.0,1776.9 L649.0,1777.0 L651.0,1777.0 L653.0,1777.0 L655.0,1777.0 L657.0,1777.0 L659.0,1777.1 L661.0,1777.1 L663.0,1777.1 L665.0,1777.1 L667.0,1777.1 L669.0,1777.2 L671.0,1777.2 L673.0,1777.2 L675.0,1777.2 L677.0,1777.2 L679.0,1777.3 L681.0,1777.3 L683.0,1777.3 L685.0,1777.3 L687.0,1777.4 L689.0,1777.4 L691.0,1777.4 L693.0,1777.4 L695.0,1777.5 L697.0,1777.5 L699.0,1777.5 L701.0,1777.5 L703.0,1777.5 L705.0,1777.6 L707.0,1777.6 L709.0,1777.6 L711.0,1777.7 L713.0,1777.7 L715.0,1777.7 L717.0,1777.7 L719.0,1777.8 L721.0,1777.8 L723.0,1777.8 L725.0,1777.9 L727.0,1777.9 L729.0,1777.9 L731.0,1778.0 L733.0,1778.0 L735.0,1778.0 L737.0,1778.1 L739.0,1778.1 L741.0,1778.1 L743.0,1778.2 L745.0,1778.2 L747.0,1778.2 L749.0,1778.3 L751.0,1778.3 L753.0,1778.4 L755.0,1778.4 L757.0,1778.5 L759.0,1778.5 L761.0,1778.5 L763.0,1778.6 L765.0,1778.6 L767.0,1778.7 L769.0,1778.7 L771.0,1778.8 L773.0,1778.9 L775.0,1778.9 L777.0,1779.0 L779.0,1779.0 L781.0,1779.1 L783.0,1779.1 L785.0,1779.2 L787.0,1779.3 L789.0,1779.3 L791.0,1779.4 L793.0,1779.5 L795.0,1779.6 L797.0,1779.6 L799.0,1779.7 L801.0,1779.8 L803.0,1779.9 L805.0,1779.9 L807.0,1780.0 L809.0,1780.1 L811.0,1780.2 L813.0,1780.3 L815.0,1780.4 L817.0,1780.5 L819.0,1780.6 L821.0,1780.7 L823.0,1780.8 L825.0,1780.9 L827.0,1781.0 L829.0,1781.1 L831.0,1781.2 L833.0,1781.3 L835.0,1781.5 L837.0,1781.6 L839.0,1781.7 L841.0,1781.8 L843.0,1781.9 L845.0,1782.1 L847.0,1782.2 L849.0,1782.3 L851.0,1782.5 L853.0,1782.6 L855.0,1782.7 L857.0,1782.9 L859.0,1783.0 L861.0,1783.1 L863.0,1783.3 L865.0,1783.4 L867.0,1783.6 L869.0,1783.7 L871.0,1783.9 L873.0,1784.0 L875.0,1784.2 L877.0,1784.3 L879.0,1784.5 L881.0,1784.6 L883.0,1784.8 L885.0,1784.9 L887.0,1785.1 L889.0,1785.2 L891.0,1785.4 L893.0,1785.6 L895.0,1785.7 L897.0,1785.9 L899.0,1786.0 L901.0,1786.2 L903.0,1786.4 L905.0,1786.5 L907.0,1786.7 L909.0,1786.9 L911.0,1787.0 L913.0,1787.2 L915.0,1787.4 L917.0,1787.6 L919.0,1787.7 L921.0,1787.9 L923.0,1788.1 L925.0,1788.3 L927.0,1788.4 L929.0,1788.6 L931.0,1788.8 L933.0,1789.0 L935.0,1789.2 L937.0,1789.4 L939.0,1789.6 L941.0,1789.8 L943.0,1790.0 L945.0,1790.1 L947.0,1790.3 L949.0,1790.5 L951.0,1790.7 L953.0,1791.0 L955.0,1791.2 L957.0,1791.4 L959.0,1791.6 L961.0,1791.8 L963.0,1792.0 L965.0,1792.2 L967.0,1792.4 L969.0,1792.6 L971.0,1792.8 L973.0,1793.1 L975.0,1793.3 L977.0,1793.5 L979.0,1793.7 L981.0,1793.9 L983.0,1794.2 L985.0,1794.4 L987.0,1794.6 L989.0,1794.8 L991.0,1795.1 L993.0,1795.3 L995.0,1795.5 L997.0,1795.7 L999.0,1796.0 L1001.0,1796.2 L1003.0,1796.4 L1005.0,1796.6 L1007.0,1796.9 L1009.0,1797.1 L1011.0,1797.3 L1013.0,1797.5 L1015.0,1797.7 L1017.0,1797.9 L1019.0,1798.2 L1021.0,1798.4 L1023.0,1798.6 L1025.0,1798.8 L1027.0,1799.0 L1029.0,1799.2 L1031.0,1799.4 L1033.0,1799.6 L1035.0,1799.8 L1037.0,1800.0 L1039.0,1800.2 L1041.0,1800.4 L1043.0,1800.6 L1045.0,1800.8 L1047.0,1800.9 L1049.0,1801.1 L1051.0,1801.3 L1053.0,1801.5 L1055.0,1801.6 L1057.0,1801.8 L1059.0,1802.0 L1061.0,1802.1 L1063.0,1802.3 L1065.0,1802.4 L1067.0,1802.6 L1069.0,1802.7 L1071.0,1802.9 L1073.0,1803.0 L1075.0,1803.1 L1077.0,1803.3 L1079.0,1803.4 L1081.0,1803.5 L1083.0,1803.7 L1085.0,1803.8 L1087.0,1803.9 L1089.0,1804.0 L1091.0,1804.1 L1093.0,1804.2 L1095.0,1804.3 L1097.0,1804.4 L1099.0,1804.5 L1101.0,1804.6 L1103.0,1804.6 L1105.0,1804.7 L1107.0,1804.8 L1109.0,1804.8 L1111.0,1804.9 L1113.0,1804.9 L1115.0,1805.0 L1117.0,1805.0 L1119.0,1805.1 L1121.0,1805.1 L1123.0,1805.1 L1125.0,1805.2 L1127.0,1805.2 L1129.0,1805.2 L1131.0,1805.2 L1133.0,1805.2 L1135.0,1805.2 L1137.0,1805.1 L1139.0,1805.1 L1141.0,1805.1 L1143.0,1805.0 L1145.0,1805.0 L1147.0,1804.9 L1149.0,1804.8 L1151.0,1804.7 L1153.0,1804.7 L1155.0,1804.5 L1157.0,1804.4 L1159.0,1804.3 L1161.0,1804.2 L1163.0,1804.0 L1165.0,1803.9 L1167.0,1803.7 L1169.0,1803.5 L1171.0,1803.3 L1173.0,1803.1 L1175.0,1802.9 L1177.0,1802.7 L1179.0,1802.4 L1181.0,1802.1 L1183.0,1801.9 L1185.0,1801.6 L1187.0,1801.2 L1189.0,1800.9 L1191.0,1800.6 L1193.0,1800.2 L1195.0,1799.8 L1197.0,1799.4 L1199.0,1799.0 L1201.0,1798.6 L1203.0,1798.1 L1205.0,1797.6 L1207.0,1797.2 L1209.0,1796.6 L1211.0,1796.1 L1213.0,1795.6 L1215.0,1795.0 L1217.0,1794.4 L1219.0,1793.8 L1221.0,1793.2 L1223.0,1792.5 L1225.0,1791.8 L1227.0,1791.1 L1229.0,1790.4 L1231.0,1789.7 L1233.0,1789.0 L1235.0,1788.2 L1237.0,1787.4 L1239.0,1786.6 L1241.0,1785.8 L1243.0,1784.9 L1245.0,1784.0 L1247.0,1783.2 L1249.0,1782.3 L1251.0,1781.3 L1253.0,1780.4 L1255.0,1779.5 L1257.0,1778.5 L1259.0,1777.5 L1261.0,1776.5 L1263.0,1775.5 L1265.0,1774.5 L1267.0,1773.5 L1269.0,1772.5 L1271.0,1771.4 L1273.0,1770.4 L1275.0,1769.3 L1277.0,1768.3 L1279.0,1767.2 L1281.0,1766.1 L1283.0,1765.1 L1285.0,1764.0 L1287.0,1763.0 L1289.0,1761.9 L1291.0,1760.9 L1293.0,1759.8 L1295.0,1758.8 L1297.0,1757.8 L1299.0,1756.8 L1301.0,1755.9 L1303.0,1754.9 L1305.0,1754.0 L1307.0,1753.1 L1309.0,1752.2 L1311.0,1751.4 L1313.0,1750.5 L1315.0,1749.8 L1317.0,1749.0 L1319.0,1748.3 L1321.0,1747.6 L1323.0,1747.0 L1325.0,1746.4 L1327.0,1745.9 L1329.0,1745.4 L1331.0,1744.9 L1333.0,1744.5 L1335.0,1744.2 L1337.0,1743.9 L1339.0,1743.6 L1341.0,1743.4 L1343.0,1743.3 L1345.0,1743.2 L1347.0,1743.1 L1349.0,1743.1 L1351.0,1743.2 L1353.0,1743.3 L1355.0,1743.5 L1357.0,1743.7 L1359.0,1744.0 L1361.0,1744.3 L1363.0,1744.6 L1365.0,1745.0 L1367.0,1745.5 L1369.0,1745.9 L1371.0,1746.5 L1373.0,1747.0 L1375.0,1747.6 L1377.0,1748.3 L1379.0,1748.9 L1381.0,1749.6 L1383.0,1750.4 L1385.0,1751.1 L1387.0,1751.9 L1389.0,1752.7 L1391.0,1753.6 L1393.0,1754.4 L1395.0,1755.3 L1397.0,1756.2 L1399.0,1757.1 L1401.0,1758.0 L1403.0,1759.0 L1405.0,1759.9 L1407.0,1760.9 L1409.0,1761.9 L1411.0,1762.8 L1413.0,1763.8 L1415.0,1764.8 L1417.0,1765.8 L1419.0,1766.8 L1421.0,1767.8 L1423.0,1768.8 L1425.0,1769.9 L1427.0,1770.9 L1429.0,1771.9 L1431.0,1772.9 L1433.0,1773.9 L1435.0,1774.9 L1437.0,1775.9 L1439.0,1776.9 L1441.0,1777.8 L1443.0,1778.8 L1445.0,1779.8 L1447.0,1780.7 L1449.0,1781.7 L1451.0,1782.6 L1453.0,1783.6 L1455.0,1784.5 L1457.0,1785.4 L1459.0,1786.3 L1461.0,1787.2 L1463.0,1788.1 L1465.0,1788.9 L1467.0,1789.8 L1469.0,1790.6 L1471.0,1791.5 L1473.0,1792.3 L1475.0,1793.1 L1477.0,1793.9 L1479.0,1794.6 L1481.0,1795.4 L1483.0,1796.1 L1485.0,1796.9 L1487.0,1797.6 L1489.0,1798.3 L1491.0,1799.0 L1493.0,1799.6 L1495.0,1800.3 L1497.0,1800.9 L1499.0,1801.5 L1501.0,1802.2 L1503.0,1802.8 L1505.0,1803.3 L1507.0,1803.9 L1509.0,1804.5 L1511.0,1805.0 L1513.0,1805.5 L1515.0,1806.0 L1517.0,1806.5 L1519.0,1807.0 L1521.0,1807.5 L1523.0,1807.9 L1525.0,1808.4 L1527.0,1808.8 L1529.0,1809.2 L1531.0,1809.6 L1533.0,1810.0 L1535.0,1810.4 L1537.0,1810.8 L1539.0,1811.1 L1541.0,1811.5 L1543.0,1811.8 L1545.0,1812.1 L1547.0,1812.5 L1549.0,1812.8 L1551.0,1813.1 L1553.0,1813.3 L1555.0,1813.6 L1557.0,1813.9 L1559.0,1814.1 L1561.0,1814.4 L1563.0,1814.6 L1565.0,1814.9 L1567.0,1815.1 L1569.0,1815.3 L1571.0,1815.5 L1573.0,1815.7 L1575.0,1815.9 L1577.0,1816.1 L1579.0,1816.3 L1581.0,1816.5 L1583.0,1816.6 L1585.0,1816.8 L1587.0,1816.9 L1589.0,1817.1 L1591.0,1817.2 L1593.0,1817.4 L1595.0,1817.5 L1597.0,1817.7 L1599.0,1817.8 L1601.0,1817.9 L1603.0,1818.0 L1605.0,1818.1 L1607.0,1818.3 L1609.0,1818.4 L1611.0,1818.5 L1613.0,1818.6 L1615.0,1818.7 L1617.0,1818.8 L1619.0,1818.8 L1621.0,1818.9 L1623.0,1819.0 L1625.0,1819.1 L1627.0,1819.2 L1629.0,1819.3 L1631.0,1819.3 L1633.0,1819.4 L1635.0,1819.5 L1637.0,1819.5 L1639.0,1819.6 L1641.0,1819.7 L1643.0,1819.7 L1645.0,1819.8 L1647.0,1819.9 L1649.0,1819.9 L1651.0,1820.0 L1653.0,1820.0 L1655.0,1820.1 L1657.0,1820.1 L1659.0,1820.2 L1661.0,1820.2 L1663.0,1820.3 L1665.0,1820.3 L1667.0,1820.4 L1669.0,1820.4 L1671.0,1820.5 L1673.0,1820.5 L1675.0,1820.5 L1677.0,1820.6 L1679.0,1820.6 L1681.0,1820.7 L1683.0,1820.7 L1685.0,1820.7 L1687.0,1820.8 L1689.0,1820.8 L1691.0,1820.9 L1693.0,1820.9 L1695.0,1820.9 L1697.0,1821.0 L1699.0,1821.0 L1701.0,1821.0 L1703.0,1821.1 L1705.0,1821.1 L1707.0,1821.1 L1709.0,1821.1 L1711.0,1821.2 L1713.0,1821.2 L1715.0,1821.2 L1717.0,1821.3 L1719.0,1821.3 L1721.0,1821.3 L1723.0,1821.3 L1725.0,1821.4 L1727.0,1821.4 L1729.0,1821.4 L1731.0,1821.5 L1733.0,1821.5 L1735.0,1821.5 L1737.0,1821.5 L1739.0,1821.6 L1741.0,1821.6 L1743.0,1821.6 L1745.0,1821.6 L1747.0,1821.6 L1749.0,1821.7 L1751.0,1821.7 L1753.0,1821.7 L1755.0,1821.7 L1757.0,1821.8 L1759.0,1821.8 L1761.0,1821.8 L1763.0,1821.8 L1765.0,1821.8 L1767.0,1821.9 L1769.0,1821.9 L1771.0,1821.9 L1773.0,1821.9 L1775.0,1821.9 L1777.0,1822.0 L1779.0,1822.0 L1781.0,1822.0 L1783.0,1822.0 L1785.0,1822.0 L1787.0,1822.1 L1789.0,1822.1 L1791.0,1822.1 L1793.0,1822.1 L1795.0,1822.1 L1797.0,1822.1 L1799.0,1822.2 L1801.0,1822.2 L1803.0,1822.2 L1805.0,1822.2 L1807.0,1822.2 L1809.0,1822.2 L1811.0,1822.3 L1813.0,1822.3 L1815.0,1822.3 L1817.0,1822.3 L1819.0,1822.3 L1821.0,1822.3 L1823.0,1822.3 L1825.0,1822.4 L1827.0,1822.4 L1829.0,1822.4 L1831.0,1822.4 L1833.0,1822.4 L1835.0,1822.4 L1837.0,1822.4 L1839.0,1822.5 L1841.0,1822.5 L1843.0,1822.5 L1845.0,1822.5 L1847.0,1822.5" stroke="#f00" stroke-width="2"/>
<g fill="#000"><circle cx="127.0" cy="2482.1" r="4.5"/><circle cx="130.5" cy="2492.2" r="4.5"/><circle cx="134.0" cy="2494.8" r="4.5"/><circle cx="137.5" cy="2503.9" r="4.5"/><circle cx="141.0" cy="2504.0" r="4.5"/><circle cx="144.5" cy="2500.0" r="4.5"/><circle cx="148.0" cy="2482.9" r="4.5"/><circle cx="151.5" cy="2488.8" r="4.5"/><circle cx="155.0" cy="2488.8" r="4.5"/><circle cx="158.5" cy="2490.5" r="4.5"/><circle cx="162.0" cy="2487.1" r="4.5"/><circle cx="165.5" cy="2480.6" r="4.5"/><circle cx="169.0" cy="2471.6" r="4.5"/><circle cx="172.5" cy="2475.8" r="4.5"/><circle cx="176.0" cy="2484.3" r="4.5"/><circle cx="179.5" cy="2491.3" r="4.5"/><circle cx="183.0" cy="2487.6" r="4.5"/><circle cx="186.5" cy="2483.9" r="4.5"/><circle cx="190.0" cy="2487.7" r="4.5"/><circle cx="193.5" cy="2496.3" r="4.5"/><circle cx="197.0" cy="2496.8" r="4.5"/><circle cx="200.5" cy="2494.3" r="4.5"/><circle cx="204.0" cy="2498.7" r="4.5"/><circle cx="207.5" cy="2503.2" r="4.5"/><circle cx="211.0" cy="2497.3" r="4.5"/><circle cx="214.5" cy="2497.0" r="4.5"/><circle cx="218.0" cy="2490.3" r="4.5"/><circle cx="221.5" cy="2485.8" r="4.5"/><circle cx="225.0" cy="2480.3" r="4.5"/><circle cx="228.5" cy="2479.2" r="4.5"/><circle cx="232.0" cy="2477.4" r="4.5"/><circle cx="235.5" cy="2472.9" r="4.5"/><circle cx="239.0" cy="2467.1" r="4.5"/><circle cx="242.5" cy="2473.2" r="4.5"/><circle cx="246.0" cy="2480.2" r="4.5"/><circle cx="249.5" cy="2485.1" r="4.5"/><circle cx="253.0" cy="2482.8" r="4.5"/><circle cx="256.5" cy="2479.3" r="4.5"/><circle cx="260.0" cy="2485.4" r="4.5"/><circle cx="263.5" cy="2493.5" r="4.5"/><circle cx="267.0" cy="2488.4" r="4.5"/><circle cx="270.5" cy="2485.2" r="4.5"/><circle cx="274.0" cy="2492.4" r="4.5"/><circle cx="277.5" cy="2496.4" r="4.5"/><circle cx="281.0" cy="2487.3" r="4.5"/><circle cx="284.5" cy="2468.5" r="4.5"/><circle cx="288.0" cy="2449.8" r="4.5"/><circle cx="291.5" cy="2456.1" r="4.5"/><circle cx="295.0" cy="2463.7" r="4.5"/><circle cx="298.5" cy="2465.3" r="4.5"/><circle cx="302.0" cy="2468.9" r="4.5"/><circle cx="305.5" cy="2461.8" r="4.5"/><circle cx="309.0" cy="2461.6" r="4.5"/><circle cx="312.5" cy="2445.9" r="4.5"/><circle cx="316.0" cy="2448.3" r="4.5"/><circle cx="319.5" cy="2447.8" r="4.5"/><circle cx="323.0" cy="2446.2" r="4.5"/><circle cx="326.5" cy="2444.0" r="4.5"/><circle cx="330.0" cy="2443.9" r="4.5"/><circle cx="333.5" cy="2448.0" r="4.5"/><circle cx="337.0" cy="2452.7" r="4.5"/><circle cx="340.5" cy="2470.6" r="4.5"/><circle cx="344.0" cy="2476.2" r="4.5"/><circle cx="347.5" cy="2460.4" r="4.5"/><circle cx="351.0" cy="2453.5" r="4.5"/><circle cx="354.5" cy="2453.1" r="4.5"/><circle cx="358.0" cy="2451.9" r="4.5"/><circle cx="361.5" cy="2449.5" r="4.5"/><circle cx="365.0" cy="2452.8" r="4.5"/><circle cx="368.5" cy="2448.8" r="4.5"/><circle cx="372.0" cy="2444.2" r="4.5"/><circle cx="375.5" cy="2437.4" r="4.5"/><circle cx="379.0" cy="2433.7" r="4.5"/><circle cx="382.5" cy="2434.7" r="4.5"/><circle cx="386.0" cy="2436.8" r="4.5"/><circle cx="389.5" cy="2444.3" r="4.5"/><circle cx="393.0" cy="2451.6" r="4.5"/><circle cx="396.5" cy="2454.1" r="4.5"/><circle cx="400.0" cy="2443.0" r="4.5"/><circle cx="403.5" cy="2429.6" r="4.5"/><circle cx="407.0" cy="2416.4" r="4.5"/><circle cx="410.5" cy="2419.5" r="4.5"/><circle cx="414.0" cy="2423.9" r="4.5"/><circle cx="417.5" cy="2426.8" r="4.5"/><circle cx="421.0" cy="2430.3" r="4.5"/><circle cx="424.5" cy="2433.2" r="4.5"/><circle cx="428.0" cy="2435.3" r="4.5"/><circle cx="431.5" cy="2433.5" r="4.5"/><circle cx="435.0" cy="2427.3" r="4.5"/><circle cx="438.5" cy="2428.0" r="4.5"/><circle cx="442.0" cy="2424.6" r="4.5"/><circle cx="445.5" cy="2427.3" r="4.5"/><circle cx="449.0" cy="2428.1" r="4.5"/><circle cx="452.5" cy="2427.2" r="4.5"/><circle cx="456.0" cy="2425.3" r="4.5"/><circle cx="459.5" cy="2423.3" r="4.5"/><circle cx="463.0" cy="2421.0" r="4.5"/><circle cx="466.5" cy="2424.0" r="4.5"/><circle cx="470.0" cy="2423.6" r="4.5"/><circle cx="473.5" cy="2424.7" r="4.5"/><circle cx="477.0" cy="2418.7" r="4.5"/><circle cx="480.5" cy="2415.0" r="4.5"/><circle cx="484.0" cy="2410.8" r="4.5"/><circle cx="487.5" cy="2411.2" r="4.5"/><circle cx="491.0" cy="2410.9" r="4.5"/><circle cx="494.5" cy="2410.8" r="4.5"/><circle cx="498.0" cy="2406.4" r="4.5"/><circle cx="501.5" cy="2403.5" r="4.5"/><circle cx="505.0" cy="2403.4" r="4.5"/><circle cx="508.5" cy="2412.6" r="4.5"/><circle cx="512.0" cy="2421.8" r="4.5"/><circle cx="515.5" cy="2409.8" r="4.5"/><circle cx="519.0" cy="2400.3" r="4.5"/><circle cx="522.5" cy="2395.3" r="4.5"/><circle cx="526.0" cy="2395.0" r="4.5"/><circle cx="529.5" cy="2392.3" r="4.5"/><circle cx="533.0" cy="2390.9" r="4.5"/><circle cx="536.5" cy="2396.4" r="4.5"/><circle cx="540.0" cy="2397.7" r="4.5"/><circle cx="543.5" cy="2397.9" r="4.5"/><circle cx="547.0" cy="2391.6" r="4.5"/><circle cx="550.5" cy="2386.7" r="4.5"/><circle cx="554.0" cy="2381.7" r="4.5"/><circle cx="557.5" cy="2381.3" r="4.5"/><circle cx="561.0" cy="2369.4" r="4.5"/><circle cx="564.5" cy="2376.5" r="4.5"/><circle cx="568.0" cy="2379.1" r="4.5"/><circle cx="571.5" cy="2380.3" r="4.5"/><circle cx="575.0" cy="2375.4" r="4.5"/><circle cx="578.5" cy="2372.2" r="4.5"/><circle cx="582.0" cy="2371.0" r="4.5"/><circle cx="585.5" cy="2370.7" r="4.5"/><circle cx="589.0" cy="2377.8" r="4.5"/><circle cx="592.5" cy="2383.3" r="4.5"/><circle cx="596.0" cy="2391.7" r="4.5"/><circle cx="599.5" cy="2398.2" r="4.5"/><circle cx="603.0" cy="2399.5" r="4.5"/><circle cx="606.5" cy="2394.8" r="4.5"/><circle cx="610.0" cy="2389.9" r="4.5"/><circle cx="613.5" cy="2382.5" r="4.5"/><circle cx="617.0" cy="2388.6" r="4.5"/><circle cx="620.5" cy="2397.2" r="4.5"/><circle cx="624.0" cy="2393.5" r="4.5"/><circle cx="627.5" cy="2381.6" r="4.5"/><circle cx="631.0" cy="2369.0" r="4.5"/><circle cx="634.5" cy="2370.2" r="4.5"/><circle cx="638.0" cy="2368.9" r="4.5"/><circle cx="641.5" cy="2364.7" r="4.5"/><circle cx="645.0" cy="2365.2" r="4.5"/><circle cx="648.5" cy="2364.9" r="4.5"/><circle cx="652.0" cy="2366.4" r="4.5"/><circle cx="655.5" cy="2367.8" r="4.5"/><circle cx="659.0" cy="2367.8" r="4.5"/><circle cx="662.5" cy="2364.9" r="4.5"/><circle cx="666.0" cy="2372.0" r="4.5"/><circle cx="669.5" cy="2383.7" r="4.5"/><circle cx="673.0" cy="2388.6" r="4.5"/><circle cx="676.5" cy="2376.1" r="4.5"/><circle cx="680.0" cy="2364.6" r="4.5"/><circle cx="683.5" cy="2358.4" r="4.5"/><circle cx="687.0" cy="2352.1" r="4.5"/><circle cx="690.5" cy="2348.7" r="4.5"/><circle cx="694.0" cy="2350.8" r="4.5"/><circle cx="697.5" cy="2350.3" r="4.5"/><circle cx="701.0" cy="2349.7" r="4.5"/><circle cx="704.5" cy="2353.7" r="4.5"/><circle cx="708.0" cy="2361.4" r="4.5"/><circle cx="711.5" cy="2367.9" r="4.5"/><circle cx="715.0" cy="2373.9" r="4.5"/><circle cx="718.5" cy="2376.2" r="4.5"/><circle cx="722.0" cy="2375.5" r="4.5"/><circle cx="725.5" cy="2372.8" r="4.5"/><circle cx="729.0" cy="2367.7" r="4.5"/><circle cx="732.5" cy="2361.6" r="4.5"/><circle cx="736.0" cy="2353.2" r="4.5"/><circle cx="739.5" cy="2347.7" r="4.5"/><circle cx="743.0" cy="2341.4" r="4.5"/><circle cx="746.5" cy="2343.1" r="4.5"/><circle cx="750.0" cy="2341.4" r="4.5"/><circle cx="753.5" cy="2338.9" r="4.5"/><circle cx="757.0" cy="2340.6" r="4.5"/><circle cx="760.5" cy="2346.2" r="4.5"/><circle cx="764.0" cy="2345.6" r="4.5"/><circle cx="767.5" cy="2339.9" r="4.5"/><circle cx="771.0" cy="2333.4" r="4.5"/><circle cx="774.5" cy="2327.9" r="4.5"/><circle cx="778.0" cy="2326.2" r="4.5"/><circle cx="781.5" cy="2322.3" r="4.5"/><circle cx="785.0" cy="2318.9" r="4.5"/><circle cx="788.5" cy="2314.3" r="4.5"/><circle cx="792.0" cy="2308.8" r="4.5"/><circle cx="795.5" cy="2310.5" r="4.5"/><circle cx="799.0" cy="2309.9" r="4.5"/><circle cx="802.5" cy="2310.5" r="4.5"/><circle cx="806.0" cy="2310.2" r="4.5"/><circle cx="809.5" cy="2305.8" r="4.5"/><circle cx="813.0" cy="2301.2" r="4.5"/><circle cx="816.5" cy="2295.0" r="4.5"/><circle cx="820.0" cy="2289.6" r="4.5"/><circle cx="823.5" cy="2281.6" r="4.5"/><circle cx="827.0" cy="2276.5" r="4.5"/><circle cx="830.5" cy="2267.9" r="4.5"/><circle cx="834.0" cy="2261.0" r="4.5"/><circle cx="837.5" cy="2252.6" r="4.5"/><circle cx="841.0" cy="2243.0" r="4.5"/><circle cx="844.5" cy="2237.1" r="4.5"/><circle cx="848.0" cy="2229.8" r="4.5"/><circle cx="851.5" cy="2225.8" r="4.5"/><circle cx="855.0" cy="2220.5" r="4.5"/><circle cx="858.5" cy="2216.2" r="4.5"/><circle cx="862.0" cy="2205.8" r="4.5"/><circle cx="865.5" cy="2194.2" r="4.5"/><circle cx="869.0" cy="2178.7" r="4.5"/><circle cx="872.5" cy="2161.8" r="4.5"/><circle cx="876.0" cy="2147.4" r="4.5"/><circle cx="879.5" cy="2132.8" r="4.5"/><circle cx="883.0" cy="2119.0" r="4.5"/><circle cx="886.5" cy="2109.1" r="4.5"/><circle cx="890.0" cy="2097.9" r="4.5"/><circle cx="893.5" cy="2087.5" r="4.5"/><circle cx="897.0" cy="2078.3" r="4.5"/><circle cx="900.5" cy="2068.9" r="4.5"/><circle cx="904.0" cy="2060.9" r="4.5"/><circle cx="907.5" cy="2051.5" r="4.5"/><circle cx="911.0" cy="2040.0" r="4.5"/><circle cx="914.5" cy="2028.9" r="4.5"/><circle cx="918.0" cy="2019.5" r="4.5"/><circle cx="921.5" cy="2010.6" r="4.5"/><circle cx="925.0" cy="2001.2" r="4.5"/><circle cx="928.5" cy="1999.1" r="4.5"/><circle cx="932.0" cy="1994.6" r="4.5"/><circle cx="935.5" cy="1989.8" r="4.5"/><circle cx="939.0" cy="1980.6" r="4.5"/><circle cx="942.5" cy="1980.4" r="4.5"/><circle cx="946.0" cy="1983.2" r="4.5"/><circle cx="949.5" cy="1987.3" r="4.5"/><circle cx="953.0" cy="1983.8" r="4.5"/><circle cx="956.5" cy="1976.4" r="4.5"/><circle cx="960.0" cy="1969.1" r="4.5"/><circle cx="963.5" cy="1964.4" r="4.5"/><circle cx="967.0" cy="1964.5" r="4.5"/><circle cx="970.5" cy="1962.1" r="4.5"/><circle cx="974.0" cy="1958.9" r="4.5"/><circle cx="977.5" cy="1953.6" r="4.5"/><circle cx="981.0" cy="1953.2" r="4.5"/><circle cx="984.5" cy="1948.6" r="4.5"/><circle cx="988.0" cy="1946.3" r="4.5"/><circle cx="991.5" cy="1943.0" r="4.5"/><circle cx="995.0" cy="1940.4" r="4.5"/><circle cx="998.5" cy="1937.2" r="4.5"/><circle cx="1002.0" cy="1936.5" r="4.5"/><circle cx="1005.5" cy="1937.2" r="4.5"/><circle cx="1009.0" cy="1936.6" r="4.5"/><circle cx="1012.5" cy="1936.3" r="4.5"/><circle cx="1016.0" cy="1936.6" r="4.5"/><circle cx="1019.5" cy="1933.8" r="4.5"/><circle cx="1023.0" cy="1931.2" r="4.5"/><circle cx="1026.5" cy="1928.6" r="4.5"/><circle cx="1030.0" cy="1926.8" r="4.5"/><circle cx="1033.5" cy="1919.9" r="4.5"/><circle cx="1037.0" cy="1911.5" r="4.5"/><circle cx="1040.5" cy="1904.9" r="4.5"/><circle cx="1044.0" cy="1906.4" r="4.5"/><circle cx="1047.5" cy="1905.7" r="4.5"/><circle cx="1051.0" cy="1905.9" r="4.5"/><circle cx="1054.5" cy="1903.1" r="4.5"/><circle cx="1058.0" cy="1906.5" r="4.5"/><circle cx="1061.5" cy="1912.0" r="4.5"/><circle cx="1065.0" cy="1920.5" r="4.5"/><circle cx="1068.5" cy="1928.0" r="4.5"/><circle cx="1072.0" cy="1928.6" r="4.5"/><circle cx="1075.5" cy="1930.4" r="4.5"/><circle cx="1079.0" cy="1932.5" r="4.5"/><circle cx="1082.5" cy="1939.5" r="4.5"/><circle cx="1086.0" cy="1946.6" r="4.5"/><circle cx="1089.5" cy="1956.0" r="4.5"/><circle cx="1093.0" cy="1971.5" r="4.5"/><circle cx="1096.5" cy="1985.7" r="4.5"/><circle cx="1100.0" cy="1999.2" r="4.5"/><circle cx="1103.5" cy="2012.4" r="4.5"/><circle cx="1107.0" cy="2022.8" r="4.5"/><circle cx="1110.5" cy="2031.6" r="4.5"/><circle cx="1114.0" cy="2040.4" r="4.5"/><circle cx="1117.5" cy="2052.3" r="4.5"/><circle cx="1121.0" cy="2066.5" r="4.5"/><circle cx="1124.5" cy="2083.5" r="4.5"/><circle cx="1128.0" cy="2101.5" r="4.5"/><circle cx="1131.5" cy="2122.4" r="4.5"/><circle cx="1135.0" cy="2143.3" r="4.5"/><circle cx="1138.5" cy="2158.0" r="4.5"/><circle cx="1142.0" cy="2171.3" r="4.5"/><circle cx="1145.5" cy="2182.5" r="4.5"/><circle cx="1149.0" cy="2195.8" r="4.5"/><circle cx="1152.5" cy="2207.9" r="4.5"/><circle cx="1156.0" cy="2222.5" r="4.5"/><circle cx="1159.5" cy="2238.4" r="4.5"/><circle cx="1163.0" cy="2250.8" r="4.5"/><circle cx="1166.5" cy="2259.8" r="4.5"/><circle cx="1170.0" cy="2264.4" r="4.5"/><circle cx="1173.5" cy="2269.5" r="4.5"/><circle cx="1177.0" cy="2278.3" r="4.5"/><circle cx="1180.5" cy="2293.7" r="4.5"/><circle cx="1184.0" cy="2310.0" r="4.5"/><circle cx="1187.5" cy="2317.7" r="4.5"/><circle cx="1191.0" cy="2322.7" r="4.5"/><circle cx="1194.5" cy="2330.1" r="4.5"/><circle cx="1198.0" cy="2340.5" r="4.5"/><circle cx="1201.5" cy="2349.9" r="4.5"/><circle cx="1205.0" cy="2354.2" r="4.5"/><circle cx="1208.5" cy="2356.1" r="4.5"/><circle cx="1212.0" cy="2358.8" r="4.5"/><circle cx="1215.5" cy="2363.1" r="4.5"/><circle cx="1219.0" cy="2364.3" r="4.5"/><circle cx="1222.5" cy="2368.8" r="4.5"/><circle cx="1226.0" cy="2373.0" r="4.5"/><circle cx="1229.5" cy="2375.6" r="4.5"/><circle cx="1233.0" cy="2376.9" r="4.5"/><circle cx="1236.5" cy="2379.5" r="4.5"/><circle cx="1240.0" cy="2382.1" r="4.5"/><circle cx="1243.5" cy="2389.8" r="4.5"/><circle cx="1247.0" cy="2396.6" r="4.5"/><circle cx="1250.5" cy="2400.8" r="4.5"/><circle cx="1254.0" cy="2402.8" r="4.5"/><circle cx="1257.5" cy="2400.9" r="4.5"/><circle cx="1261.0" cy="2401.2" r="4.5"/><circle cx="1264.5" cy="2400.6" r="4.5"/><circle cx="1268.0" cy="2400.2" r="4.5"/><circle cx="1271.5" cy="2403.3" r="4.5"/><circle cx="1275.0" cy="2407.6" r="4.5"/><circle cx="1278.5" cy="2410.7" r="4.5"/><circle cx="1282.0" cy="2413.5" r="4.5"/><circle cx="1285.5" cy="2416.3" r="4.5"/><circle cx="1289.0" cy="2417.5" r="4.5"/><circle cx="1292.5" cy="2415.5" r="4.5"/><circle cx="1296.0" cy="2413.0" r="4.5"/><circle cx="1299.5" cy="2411.0" r="4.5"/><circle cx="1303.0" cy="2414.5" r="4.5"/><circle cx="1306.5" cy="2419.7" r="4.5"/><circle cx="1310.0" cy="2421.1" r="4.5"/><circle cx="1313.5" cy="2414.8" r="4.5"/><circle cx="1317.0" cy="2408.1" r="4.5"/><circle cx="1320.5" cy="2406.7" r="4.5"/><circle cx="1324.0" cy="2407.5" r="4.5"/><circle cx="1327.5" cy="2411.1" r="4.5"/><circle cx="1331.0" cy="2416.8" r="4.5"/><circle cx="1334.5" cy="2420.6" r="4.5"/><circle cx="1338.0" cy="2423.0" r="4.5"/><circle cx="1341.5" cy="2423.9" r="4.5"/><circle cx="1345.0" cy="2422.6" r="4.5"/><circle cx="1348.5" cy="2420.7" r="4.5"/><circle cx="1352.0" cy="2418.0" r="4.5"/><circle cx="1355.5" cy="2412.0" r="4.5"/><circle cx="1359.0" cy="2406.5" r="4.5"/><circle cx="1362.5" cy="2400.2" r="4.5"/><circle cx="1366.0" cy="2398.7" r="4.5"/><circle cx="1369.5" cy="2393.4" r="4.5"/><circle cx="1373.0" cy="2394.8" r="4.5"/><circle cx="1376.5" cy="2402.2" r="4.5"/><circle cx="1380.0" cy="2406.2" r="4.5"/><circle cx="1383.5" cy="2411.4" r="4.5"/><circle cx="1387.0" cy="2413.1" r="4.5"/><circle cx="1390.5" cy="2406.0" r="4.5"/><circle cx="1394.0" cy="2399.6" r="4.5"/><circle cx="1397.5" cy="2390.9" r="4.5"/><circle cx="1401.0" cy="2391.5" r="4.5"/><circle cx="1404.5" cy="2398.4" r="4.5"/><circle cx="1408.0" cy="2402.6" r="4.5"/><circle cx="1411.5" cy="2405.2" r="4.5"/><circle cx="1415.0" cy="2403.0" r="4.5"/><circle cx="1418.5" cy="2401.6" r="4.5"/><circle cx="1422.0" cy="2401.7" r="4.5"/><circle cx="1425.5" cy="2396.0" r="4.5"/><circle cx="1429.0" cy="2391.3" r="4.5"/><circle cx="1432.5" cy="2387.2" r="4.5"/><circle cx="1436.0" cy="2382.7" r="4.5"/><circle cx="1439.5" cy="2382.1" r="4.5"/><circle cx="1443.0" cy="2379.6" r="4.5"/><circle cx="1446.5" cy="2377.0" r="4.5"/><circle cx="1450.0" cy="2362.7" r="4.5"/><circle cx="1453.5" cy="2355.8" r="4.5"/><circle cx="1457.0" cy="2354.3" r="4.5"/><circle cx="1460.5" cy="2359.0" r="4.5"/><circle cx="1464.0" cy="2366.2" r="4.5"/><circle cx="1467.5" cy="2371.1" r="4.5"/><circle cx="1471.0" cy="2372.5" r="4.5"/><circle cx="1474.5" cy="2359.7" r="4.5"/><circle cx="1478.0" cy="2346.7" r="4.5"/><circle cx="1481.5" cy="2343.9" r="4.5"/><circle cx="1485.0" cy="2343.9" r="4.5"/><circle cx="1488.5" cy="2343.5" r="4.5"/><circle cx="1492.0" cy="2344.6" r="4.5"/><circle cx="1495.5" cy="2346.1" r="4.5"/><circle cx="1499.0" cy="2342.2" r="4.5"/><circle cx="1502.5" cy="2338.0" r="4.5"/><circle cx="1506.0" cy="2336.2" r="4.5"/><circle cx="1509.5" cy="2343.2" r="4.5"/><circle cx="1513.0" cy="2347.2" r="4.5"/><circle cx="1516.5" cy="2343.9" r="4.5"/><circle cx="1520.0" cy="2336.7" r="4.5"/><circle cx="1523.5" cy="2329.5" r="4.5"/><circle cx="1527.0" cy="2326.6" r="4.5"/><circle cx="1530.5" cy="2328.6" r="4.5"/><circle cx="1534.0" cy="2337.7" r="4.5"/><circle cx="1537.5" cy="2346.8" r="4.5"/><circle cx="1541.0" cy="2346.4" r="4.5"/><circle cx="1544.5" cy="2339.2" r="4.5"/><circle cx="1548.0" cy="2332.3" r="4.5"/><circle cx="1551.5" cy="2329.2" r="4.5"/><circle cx="1555.0" cy="2326.8" r="4.5"/><circle cx="1558.5" cy="2320.6" r="4.5"/><circle cx="1562.0" cy="2315.3" r="4.5"/><circle cx="1565.5" cy="2311.4" r="4.5"/><circle cx="1569.0" cy="2310.3" r="4.5"/><circle cx="1572.5" cy="2312.1" r="4.5"/><circle cx="1576.0" cy="2310.3" r="4.5"/><circle cx="1579.5" cy="2308.7" r="4.5"/><circle cx="1583.0" cy="2304.8" r="4.5"/><circle cx="1586.5" cy="2300.4" r="4.5"/><circle cx="1590.0" cy="2294.2" r="4.5"/><circle cx="1593.5" cy="2290.9" r="4.5"/><circle cx="1597.0" cy="2284.6" r="4.5"/><circle cx="1600.5" cy="2283.8" r="4.5"/><circle cx="1604.0" cy="2280.7" r="4.5"/><circle cx="1607.5" cy="2281.2" r="4.5"/><circle cx="1611.0" cy="2283.2" r="4.5"/><circle cx="1614.5" cy="2290.1" r="4.5"/><circle cx="1618.0" cy="2295.6" r="4.5"/><circle cx="1621.5" cy="2302.1" r="4.5"/><circle cx="1625.0" cy="2305.5" r="4.5"/><circle cx="1628.5" cy="2312.7" r="4.5"/><circle cx="1632.0" cy="2312.6" r="4.5"/><circle cx="1635.5" cy="2313.1" r="4.5"/><circle cx="1639.0" cy="2317.5" r="4.5"/><circle cx="1642.5" cy="2338.5" r="4.5"/><circle cx="1646.0" cy="2361.4" r="4.5"/><circle cx="1649.5" cy="2376.9" r="4.5"/><circle cx="1653.0" cy="2392.7" r="4.5"/><circle cx="1656.5" cy="2409.9" r="4.5"/><circle cx="1660.0" cy="2423.0" r="4.5"/><circle cx="1663.5" cy="2435.3" r="4.5"/><circle cx="1667.0" cy="2440.2" r="4.5"/><circle cx="1670.5" cy="2444.8" r="4.5"/><circle cx="1674.0" cy="2450.5" r="4.5"/><circle cx="1677.5" cy="2458.3" r="4.5"/><circle cx="1681.0" cy="2469.0" r="4.5"/><circle cx="1684.5" cy="2475.2" r="4.5"/><circle cx="1688.0" cy="2481.5" r="4.5"/><circle cx="1691.5" cy="2487.8" r="4.5"/><circle cx="1695.0" cy="2491.3" r="4.5"/><circle cx="1698.5" cy="2495.2" r="4.5"/><circle cx="1702.0" cy="2499.3" r="4.5"/><circle cx="1705.5" cy="2505.3" r="4.5"/><circle cx="1709.0" cy="2514.1" r="4.5"/><circle cx="1712.5" cy="2518.9" r="4.5"/><circle cx="1716.0" cy="2524.1" r="4.5"/><circle cx="1719.5" cy="2530.7" r="4.5"/><circle cx="1723.0" cy="2531.7" r="4.5"/><circle cx="1726.5" cy="2534.4" r="4.5"/><circle cx="1730.0" cy="2537.5" r="4.5"/><circle cx="1733.5" cy="2537.8" r="4.5"/><circle cx="1737.0" cy="2539.2" r="4.5"/><circle cx="1740.5" cy="2541.8" r="4.5"/><circle cx="1744.0" cy="2546.7" r="4.5"/><circle cx="1747.5" cy="2546.1" r="4.5"/><circle cx="1751.0" cy="2559.7" r="4.5"/><circle cx="1754.5" cy="2556.2" r="4.5"/><circle cx="1758.0" cy="2550.6" r="4.5"/><circle cx="1761.5" cy="2548.7" r="4.5"/><circle cx="1765.0" cy="2547.0" r="4.5"/><circle cx="1768.5" cy="2548.2" r="4.5"/><circle cx="1772.0" cy="2549.3" r="4.5"/><circle cx="1775.5" cy="2550.3" r="4.5"/><circle cx="1779.0" cy="2552.5" r="4.5"/><circle cx="1782.5" cy="2553.4" r="4.5"/><circle cx="1786.0" cy="2553.8" r="4.5"/><circle cx="1789.5" cy="2554.7" r="4.5"/><circle cx="1793.0" cy="2553.1" r="4.5"/><circle cx="1796.5" cy="2551.7" r="4.5"/><circle cx="1800.0" cy="2545.7" r="4.5"/><circle cx="1803.5" cy="2538.1" r="4.5"/><circle cx="1807.0" cy="2536.4" r="4.5"/><circle cx="1810.5" cy="2541.6" r="4.5"/><circle cx="1814.0" cy="2546.7" r="4.5"/><circle cx="1817.5" cy="2551.7" r="4.5"/><circle cx="1821.0" cy="2553.0" r="4.5"/><circle cx="1824.5" cy="2555.4" r="4.5"/><circle cx="1828.0" cy="2558.3" r="4.5"/><circle cx="1831.5" cy="2558.5" r="4.5"/><circle cx="1835.0" cy="2554.2" r="4.5"/><circle cx="1838.5" cy="2555.2" r="4.5"/><circle cx="1842.0" cy="2562.2" r="4.5"/><circle cx="1845.5" cy="2571.1" r="4.5"/></g>
<path d="M127.0,2517.7 L130.0,2517.7 L133.0,2517.7 L136.0,2517.7 L139.0,2517.7 L142.0,2517.7 L145.0,2517.7 L148.0,2517.7 L151.0,2517.7 L154.0,2517.8 L157.0,2517.8 L160.0,2517.8 L163.0,2517.8 L166.0,2517.8 L169.0,2517.8 L172.0,2517.8 L175.0,2517.8 L178.0,2517.9 L181.0,2517.9 L184.0,2517.9 L187.0,2517.9 L190.0,2517.9 L193.0,2517.9 L196.0,2518.0 L199.0,2518.0 L202.0,2518.0 L205.0,2518.0 L208.0,2518.0 L211.0,2518.0 L214.0,2518.1 L217.0,2518.1 L220.0,2518.1 L223.0,2518.1 L226.0,2518.1 L229.0,2518.1 L232.0,2518.2 L235.0,2518.2 L238.0,2518.2 L241.0,2518.2 L244.0,2518.2 L247.0,2518.3 L250.0,2518.3 L253.0,2518.3 L256.0,2518.3 L259.0,2518.3 L262.0,2518.4 L265.0,2518.4 L268.0,2518.4 L271.0,2518.4 L274.0,2518.5 L277.0,2518.5 L280.0,2518.5 L283.0,2518.5 L286.0,2518.6 L289.0,2518.6 L292.0,2518.6 L295.0,2518.6 L298.0,2518.7 L301.0,2518.7 L304.0,2518.7 L307.0,2518.7 L310.0,2518.8 L313.0,2518.8 L316.0,2518.8 L319.0,2518.9 L322.0,2518.9 L325.0,2518.9 L328.0,2519.0 L331.0,2519.0 L334.0,2519.0 L337.0,2519.0 L340.0,2519.1 L343.0,2519.1 L346.0,2519.1 L349.0,2519.2 L352.0,2519.2 L355.0,2519.2 L358.0,2519.3 L361.0,2519.3 L364.0,2519.4 L367.0,2519.4 L370.0,2519.4 L373.0,2519.5 L376.0,2519.5 L379.0,2519.5 L382.0,2519.6 L385.0,2519.6 L388.0,2519.7 L391.0,2519.7 L394.0,2519.8 L397.0,2519.8 L400.0,2519.8 L403.0,2519.9 L406.0,2519.9 L409.0,2520.0 L412.0,2520.0 L415.0,2520.1 L418.0,2520.1 L421.0,2520.1 L424.0,2520.2 L427.0,2520.2 L430.0,2520.3 L433.0,2520.3 L436.0,2520.4 L439.0,2520.4 L442.0,2520.5 L445.0,2520.5 L448.0,2520.6 L451.0,2520.6 L454.0,2520.7 L457.0,2520.7 L460.0,2520.8 L463.0,2520.9 L466.0,2520.9 L469.0,2521.0 L472.0,2521.0 L475.0,2521.1 L478.0,2521.1 L481.0,2521.2 L484.0,2521.2 L487.0,2521.3 L490.0,2521.4 L493.0,2521.4 L496.0,2521.5 L499.0,2521.5 L502.0,2521.6 L505.0,2521.7 L508.0,2521.7 L511.0,2521.8 L514.0,2521.9 L517.0,2521.9 L520.0,2522.0 L523.0,2522.0 L526.0,2522.1 L529.0,2522.2 L532.0,2522.2 L535.0,2522.3 L538.0,2522.4 L541.0,2522.4 L544.0,2522.5 L547.0,2522.6 L550.0,2522.7 L553.0,2522.7 L556.0,2522.8 L559.0,2522.9 L562.0,2522.9 L565.0,2523.0 L568.0,2523.1 L571.0,2523.1 L574.0,2523.2 L577.0,2523.3 L580.0,2523.4 L583.0,2523.4 L586.0,2523.5 L589.0,2523.6 L592.0,2523.7 L595.0,2523.7 L598.0,2523.8 L601.0,2523.9 L604.0,2524.0 L607.0,2524.0 L610.0,2524.1 L613.0,2524.2 L616.0,2524.3 L619.0,2524.4 L622.0,2524.4 L625.0,2524.5 L628.0,2524.6 L631.0,2524.7 L634.0,2524.8 L637.0,2524.8 L640.0,2524.9 L643.0,2525.0 L646.0,2525.1 L649.0,2525.2 L652.0,2525.2 L655.0,2525.3 L658.0,2525.4 L661.0,2525.5 L664.0,2525.6 L667.0,2525.6 L670.0,2525.7 L673.0,2525.8 L676.0,2525.9 L679.0,2526.0 L682.0,2526.1 L685.0,2526.1 L688.0,2526.2 L691.0,2526.3 L694.0,2526.4 L697.0,2526.5 L700.0,2526.6 L703.0,2526.7 L706.0,2526.7 L709.0,2526.8 L712.0,2526.9 L715.0,2527.0 L718.0,2527.1 L721.0,2527.2 L724.0,2527.3 L727.0,2527.3 L730.0,2527.4 L733.0,2527.5 L736.0,2527.6 L739.0,2527.7 L742.0,2527.8 L745.0,2527.9 L748.0,2528.0 L751.0,2528.1 L754.0,2528.2 L757.0,2528.2 L760.0,2528.3 L763.0,2528.4 L766.0,2528.5 L769.0,2528.6 L772.0,2528.7 L775.0,2528.8 L778.0,2528.9 L781.0,2529.0 L784.0,2529.1 L787.0,2529.2 L790.0,2529.3 L793.0,2529.4 L796.0,2529.5 L799.0,2529.6 L802.0,2529.8 L805.0,2529.9 L808.0,2530.0 L811.0,2530.1 L814.0,2530.2 L817.0,2530.3 L820.0,2530.5 L823.0,2530.6 L826.0,2530.7 L829.0,2530.8 L832.0,2531.0 L835.0,2531.1 L838.0,2531.3 L841.0,2531.4 L844.0,2531.5 L847.0,2531.7 L850.0,2531.9 L853.0,2532.0 L856.0,2532.2 L859.0,2532.4 L862.0,2532.5 L865.0,2532.7 L868.0,2532.9 L871.0,2533.1 L874.0,2533.3 L877.0,2533.5 L880.0,2533.7 L883.0,2533.9 L886.0,2534.1 L889.0,2534.3 L892.0,2534.5 L895.0,2534.8 L898.0,2535.0 L901.0,2535.2 L904.0,2535.5 L907.0,2535.7 L910.0,2536.0 L913.0,2536.3 L916.0,2536.5 L919.0,2536.8 L922.0,2537.1 L925.0,2537.4 L928.0,2537.6 L931.0,2537.9 L934.0,2538.2 L937.0,2538.5 L940.0,2538.8 L943.0,2539.1 L946.0,2539.4 L949.0,2539.7 L952.0,2540.0 L955.0,2540.3 L958.0,2540.6 L961.0,2540.9 L964.0,2541.2 L967.0,2541.6 L970.0,2541.9 L973.0,2542.2 L976.0,2542.5 L979.0,2542.8 L982.0,2543.1 L985.0,2543.4 L988.0,2543.7 L991.0,2544.0 L994.0,2544.4 L997.0,2544.7 L1000.0,2545.0 L1003.0,2545.3 L1006.0,2545.6 L1009.0,2545.9 L1012.0,2546.2 L1015.0,2546.6 L1018.0,2546.9 L1021.0,2547.2 L1024.0,2547.5 L1027.0,2547.9 L1030.0,2548.2 L1033.0,2548.5 L1036.0,2548.8 L1039.0,2549.2 L1042.0,2549.5 L1045.0,2549.8 L1048.0,2550.2 L1051.0,2550.5 L1054.0,2550.9 L1057.0,2551.2 L1060.0,2551.5 L1063.0,2551.9 L1066.0,2552.2 L1069.0,2552.5 L1072.0,2552.9 L1075.0,2553.2 L1078.0,2553.5 L1081.0,2553.8 L1084.0,2554.2 L1087.0,2554.5 L1090.0,2554.8 L1093.0,2555.1 L1096.0,2555.4 L1099.0,2555.7 L1102.0,2556.0 L1105.0,2556.3 L1108.0,2556.6 L1111.0,2556.9 L1114.0,2557.1 L1117.0,2557.4 L1120.0,2557.6 L1123.0,2557.9 L1126.0,2558.1 L1129.0,2558.4 L1132.0,2558.6 L1135.0,2558.8 L1138.0,2559.0 L1141.0,2559.2 L1144.0,2559.4 L1147.0,2559.6 L1150.0,2559.8 L1153.0,2560.0 L1156.0,2560.2 L1159.0,2560.4 L1162.0,2560.5 L1165.0,2560.7 L1168.0,2560.9 L1171.0,2561.0 L1174.0,2561.2 L1177.0,2561.3 L1180.0,2561.5 L1183.0,2561.6 L1186.0,2561.7 L1189.0,2561.8 L1192.0,2562.0 L1195.0,2562.1 L1198.0,2562.2 L1201.0,2562.3 L1204.0,2562.4 L1207.0,2562.5 L1210.0,2562.7 L1213.0,2562.8 L1216.0,2562.9 L1219.0,2563.0 L1222.0,2563.1 L1225.0,2563.2 L1228.0,2563.3 L1231.0,2563.4 L1234.0,2563.4 L1237.0,2563.5 L1240.0,2563.6 L1243.0,2563.7 L1246.0,2563.8 L1249.0,2563.9 L1252.0,2564.0 L1255.0,2564.1 L1258.0,2564.2 L1261.0,2564.2 L1264.0,2564.3 L1267.0,2564.4 L1270.0,2564.5 L1273.0,2564.6 L1276.0,2564.7 L1279.0,2564.7 L1282.0,2564.8 L1285.0,2564.9 L1288.0,2565.0 L1291.0,2565.1 L1294.0,2565.1 L1297.0,2565.2 L1300.0,2565.3 L1303.0,2565.4 L1306.0,2565.5 L1309.0,2565.5 L1312.0,2565.6 L1315.0,2565.7 L1318.0,2565.8 L1321.0,2565.9 L1324.0,2566.0 L1327.0,2566.0 L1330.0,2566.1 L1333.0,2566.2 L1336.0,2566.3 L1339.0,2566.4 L1342.0,2566.4 L1345.0,2566.5 L1348.0,2566.6 L1351.0,2566.7 L1354.0,2566.8 L1357.0,2566.9 L1360.0,2566.9 L1363.0,2567.0 L1366.0,2567.1 L1369.0,2567.2 L1372.0,2567.3 L1375.0,2567.4 L1378.0,2567.4 L1381.0,2567.5 L1384.0,2567.6 L1387.0,2567.7 L1390.0,2567.8 L1393.0,2567.9 L1396.0,2568.0 L1399.0,2568.1 L1402.0,2568.1 L1405.0,2568.2 L1408.0,2568.3 L1411.0,2568.4 L1414.0,2568.5 L1417.0,2568.6 L1420.0,2568.7 L1423.0,2568.8 L1426.0,2568.9 L1429.0,2569.0 L1432.0,2569.1 L1435.0,2569.2 L1438.0,2569.3 L1441.0,2569.4 L1444.0,2569.5 L1447.0,2569.6 L1450.0,2569.7 L1453.0,2569.8 L1456.0,2569.9 L1459.0,2570.0 L1462.0,2570.1 L1465.0,2570.2 L1468.0,2570.3 L1471.0,2570.4 L1474.0,2570.5 L1477.0,2570.6 L1480.0,2570.7 L1483.0,2570.9 L1486.0,2571.0 L1489.0,2571.1 L1492.0,2571.2 L1495.0,2571.3 L1498.0,2571.4 L1501.0,2571.5 L1504.0,2571.7 L1507.0,2571.8 L1510.0,2571.9 L1513.0,2572.0 L1516.0,2572.1 L1519.0,2572.2 L1522.0,2572.4 L1525.0,2572.5 L1528.0,2572.6 L1531.0,2572.7 L1534.0,2572.8 L1537.0,2573.0 L1540.0,2573.1 L1543.0,2573.2 L1546.0,2573.3 L1549.0,2573.4 L1552.0,2573.6 L1555.0,2573.7 L1558.0,2573.8 L1561.0,2573.9 L1564.0,2574.1 L1567.0,2574.2 L1570.0,2574.3 L1573.0,2574.5 L1576.0,2574.6 L1579.0,2574.8 L1582.0,2574.9 L1585.0,2575.0 L1588.0,2575.2 L1591.0,2575.3 L1594.0,2575.5 L1597.0,2575.6 L1600.0,2575.8 L1603.0,2576.0 L1606.0,2576.1 L1609.0,2576.3 L1612.0,2576.4 L1615.0,2576.6 L1618.0,2576.7 L1621.0,2576.9 L1624.0,2577.0 L1627.0,2577.2 L1630.0,2577.3 L1633.0,2577.4 L1636.0,2577.6 L1639.0,2577.7 L1642.0,2577.8 L1645.0,2577.9 L1648.0,2578.0 L1651.0,2578.1 L1654.0,2578.2 L1657.0,2578.3 L1660.0,2578.4 L1663.0,2578.5 L1666.0,2578.6 L1669.0,2578.6 L1672.0,2578.7 L1675.0,2578.8 L1678.0,2578.8 L1681.0,2578.9 L1684.0,2578.9 L1687.0,2579.0 L1690.0,2579.0 L1693.0,2579.1 L1696.0,2579.1 L1699.0,2579.2 L1702.0,2579.2 L1705.0,2579.3 L1708.0,2579.3 L1711.0,2579.3 L1714.0,2579.4 L1717.0,2579.4 L1720.0,2579.4 L1723.0,2579.5 L1726.0,2579.5 L1729.0,2579.5 L1732.0,2579.5 L1735.0,2579.6 L1738.0,2579.6 L1741.0,2579.6 L1744.0,2579.6 L1747.0,2579.6 L1750.0,2579.7 L1753.0,2579.7 L1756.0,2579.7 L1759.0,2579.7 L1762.0,2579.8 L1765.0,2579.8 L1768.0,2579.8 L1771.0,2579.8 L1774.0,2579.8 L1777.0,2579.8 L1780.0,2579.9 L1783.0,2579.9 L1786.0,2579.9 L1789.0,2579.9 L1792.0,2579.9 L1795.0,2579.9 L1798.0,2580.0 L1801.0,2580.0 L1804.0,2580.0 L1807.0,2580.0 L1810.0,2580.0 L1813.0,2580.0 L1816.0,2580.0 L1819.0,2580.0 L1822.0,2580.1 L1825.0,2580.1 L1828.0,2580.1 L1831.0,2580.1 L1834.0,2580.1 L1837.0,2580.1 L1840.0,2580.1 L1843.0,2580.1 L1846.0,2580.2" stroke="#000"/>
<path d="M127.0,2497.0 L129.0,2496.7 L131.0,2496.5 L133.0,2496.3 L135.0,2496.1 L137.0,2495.9 L139.0,2495.7 L141.0,2495.4 L143.0,2495.2 L145.0,2495.0 L147.0,2494.7 L149.0,2494.5 L151.0,2494.3 L153.0,2494.0 L155.0,2493.8 L157.0,2493.5 L159.0,2493.3 L161.0,2493.0 L163.0,2492.8 L165.0,2492.5 L167.0,2492.2 L169.0,2492.0 L171.0,2491.7 L173.0,2491.4 L175.0,2491.1 L177.0,2490.9 L179.0,2490.6 L181.0,2490.3 L183.0,2490.0 L185.0,2489.7 L187.0,2489.4 L189.0,2489.1 L191.0,2488.8 L193.0,2488.5 L195.0,2488.2 L197.0,2487.9 L199.0,2487.6 L201.0,2487.2 L203.0,2486.9 L205.0,2486.6 L207.0,2486.3 L209.0,2485.9 L211.0,2485.6 L213.0,2485.3 L215.0,2484.9 L217.0,2484.6 L219.0,2484.2 L221.0,2483.9 L223.0,2483.5 L225.0,2483.1 L227.0,2482.8 L229.0,2482.4 L231.0,2482.0 L233.0,2481.6 L235.0,2481.3 L237.0,2480.9 L239.0,2480.5 L241.0,2480.1 L243.0,2479.7 L245.0,2479.3 L247.0,2478.9 L249.0,2478.5 L251.0,2478.1 L253.0,2477.7 L255.0,2477.3 L257.0,2476.8 L259.0,2476.4 L261.0,2476.0 L263.0,2475.6 L265.0,2475.1 L267.0,2474.7 L269.0,2474.2 L271.0,2473.8 L273.0,2473.3 L275.0,2472.9 L277.0,2472.4 L279.0,2472.0 L281.0,2471.5 L283.0,2471.0 L285.0,2470.6 L287.0,2470.1 L289.0,2469.6 L291.0,2469.1 L293.0,2468.6 L295.0,2468.1 L297.0,2467.7 L299.0,2467.2 L301.0,2466.7 L303.0,2466.2 L305.0,2465.6 L307.0,2465.1 L309.0,2464.6 L311.0,2464.1 L313.0,2463.6 L315.0,2463.1 L317.0,2462.5 L319.0,2462.0 L321.0,2461.5 L323.0,2460.9 L325.0,2460.4 L327.0,2459.8 L329.0,2459.3 L331.0,2458.7 L333.0,2458.2 L335.0,2457.6 L337.0,2457.1 L339.0,2456.5 L341.0,2455.9 L343.0,2455.4 L345.0,2454.8 L347.0,2454.2 L349.0,2453.6 L351.0,2453.0 L353.0,2452.5 L355.0,2451.9 L357.0,2451.3 L359.0,2450.7 L361.0,2450.1 L363.0,2449.5 L365.0,2448.9 L367.0,2448.3 L369.0,2447.7 L371.0,2447.1 L373.0,2446.5 L375.0,2445.8 L377.0,2445.2 L379.0,2444.6 L381.0,2444.0 L383.0,2443.4 L385.0,2442.7 L387.0,2442.1 L389.0,2441.5 L391.0,2440.9 L393.0,2440.2 L395.0,2439.6 L397.0,2438.9 L399.0,2438.3 L401.0,2437.7 L403.0,2437.0 L405.0,2436.4 L407.0,2435.7 L409.0,2435.1 L411.0,2434.4 L413.0,2433.8 L415.0,2433.1 L417.0,2432.5 L419.0,2431.8 L421.0,2431.2 L423.0,2430.5 L425.0,2429.9 L427.0,2429.2 L429.0,2428.6 L431.0,2427.9 L433.0,2427.3 L435.0,2426.6 L437.0,2425.9 L439.0,2425.3 L441.0,2424.6 L443.0,2424.0 L445.0,2423.3 L447.0,2422.6 L449.0,2422.0 L451.0,2421.3 L453.0,2420.7 L455.0,2420.0 L457.0,2419.3 L459.0,2418.7 L461.0,2418.0 L463.0,2417.4 L465.0,2416.7 L467.0,2416.1 L469.0,2415.4 L471.0,2414.7 L473.0,2414.1 L475.0,2413.4 L477.0,2412.8 L479.0,2412.1 L481.0,2411.5 L483.0,2410.9 L485.0,2410.2 L487.0,2409.6 L489.0,2408.9 L491.0,2408.3 L493.0,2407.6 L495.0,2407.0 L497.0,2406.4 L499.0,2405.8 L501.0,2405.1 L503.0,2404.5 L505.0,2403.9 L507.0,2403.3 L509.0,2402.6 L511.0,2402.0 L513.0,2401.4 L515.0,2400.8 L517.0,2400.2 L519.0,2399.6 L521.0,2399.0 L523.0,2398.4 L525.0,2397.8 L527.0,2397.2 L529.0,2396.6 L531.0,2396.0 L533.0,2395.5 L535.0,2394.9 L537.0,2394.3 L539.0,2393.8 L541.0,2393.2 L543.0,2392.6 L545.0,2392.1 L547.0,2391.5 L549.0,2391.0 L551.0,2390.4 L553.0,2389.9 L555.0,2389.4 L557.0,2388.9 L559.0,2388.3 L561.0,2387.8 L563.0,2387.3 L565.0,2386.8 L567.0,2386.3 L569.0,2385.8 L571.0,2385.3 L573.0,2384.8 L575.0,2384.3 L577.0,2383.9 L579.0,2383.4 L581.0,2382.9 L583.0,2382.5 L585.0,2382.0 L587.0,2381.5 L589.0,2381.1 L591.0,2380.7 L593.0,2380.2 L595.0,2379.8 L597.0,2379.4 L599.0,2379.0 L601.0,2378.5 L603.0,2378.1 L605.0,2377.7 L607.0,2377.3 L609.0,2377.0 L611.0,2376.6 L613.0,2376.2 L615.0,2375.8 L617.0,2375.4 L619.0,2375.1 L621.0,2374.7 L623.0,2374.4 L625.0,2374.0 L627.0,2373.7 L629.0,2373.4 L631.0,2373.0 L633.0,2372.7 L635.0,2372.4 L637.0,2372.1 L639.0,2371.8 L641.0,2371.5 L643.0,2371.2 L645.0,2370.9 L647.0,2370.6 L649.0,2370.3 L651.0,2370.0 L653.0,2369.8 L655.0,2369.5 L657.0,2369.2 L659.0,2369.0 L661.0,2368.7 L663.0,2368.5 L665.0,2368.2 L667.0,2368.0 L669.0,2367.7 L671.0,2367.5 L673.0,2367.2 L675.0,2367.0 L677.0,2366.8 L679.0,2366.6 L681.0,2366.3 L683.0,2366.1 L685.0,2365.9 L687.0,2365.7 L689.0,2365.4 L691.0,2365.2 L693.0,2365.0 L695.0,2364.8 L697.0,2364.5 L699.0,2364.3 L701.0,2364.0 L703.0,2363.8 L705.0,2363.6 L707.0,2363.3 L709.0,2363.0 L711.0,2362.8 L713.0,2362.5 L715.0,2362.2 L717.0,2361.9 L719.0,2361.6 L721.0,2361.3 L723.0,2361.0 L725.0,2360.6 L727.0,2360.2 L729.0,2359.9 L731.0,2359.5 L733.0,2359.0 L735.0,2358.6 L737.0,2358.1 L739.0,2357.6 L741.0,2357.1 L743.0,2356.6 L745.0,2356.0 L747.0,2355.4 L749.0,2354.7 L751.0,2354.1 L753.0,2353.4 L755.0,2352.6 L757.0,2351.8 L759.0,2351.0 L761.0,2350.1 L763.0,2349.2 L765.0,2348.2 L767.0,2347.2 L769.0,2346.1 L771.0,2345.0 L773.0,2343.8 L775.0,2342.5 L777.0,2341.2 L779.0,2339.8 L781.0,2338.4 L783.0,2336.8 L785.0,2335.2 L787.0,2333.6 L789.0,2331.8 L791.0,2330.0 L793.0,2328.1 L795.0,2326.1 L797.0,2324.0 L799.0,2321.8 L801.0,2319.5 L803.0,2317.1 L805.0,2314.7 L807.0,2312.1 L809.0,2309.4 L811.0,2306.6 L813.0,2303.8 L815.0,2300.8 L817.0,2297.7 L819.0,2294.4 L821.0,2291.1 L823.0,2287.6 L825.0,2284.1 L827.0,2280.4 L829.0,2276.6 L831.0,2272.6 L833.0,2268.6 L835.0,2264.4 L837.0,2260.1 L839.0,2255.6 L841.0,2251.1 L843.0,2246.4 L845.0,2241.6 L847.0,2236.6 L849.0,2231.6 L851.0,2226.4 L853.0,2221.1 L855.0,2215.7 L857.0,2210.2 L859.0,2204.5 L861.0,2198.7 L863.0,2192.9 L865.0,2186.9 L867.0,2180.8 L869.0,2174.6 L871.0,2168.4 L873.0,2162.0 L875.0,2155.6 L877.0,2149.1 L879.0,2142.5 L881.0,2135.9 L883.0,2129.2 L885.0,2122.5 L887.0,2115.8 L889.0,2109.0 L891.0,2102.2 L893.0,2095.5 L895.0,2088.7 L897.0,2082.0 L899.0,2075.3 L901.0,2068.7 L903.0,2062.2 L905.0,2055.7 L907.0,2049.4 L909.0,2043.1 L911.0,2037.0 L913.0,2031.1 L915.0,2025.3 L917.0,2019.7 L919.0,2014.3 L921.0,2009.0 L923.0,2004.0 L925.0,1999.3 L927.0,1994.7 L929.0,1990.5 L931.0,1986.4 L933.0,1982.6 L935.0,1979.1 L937.0,1975.9 L939.0,1972.8 L941.0,1970.1 L943.0,1967.6 L945.0,1965.3 L947.0,1963.3 L949.0,1961.5 L951.0,1959.9 L953.0,1958.5 L955.0,1957.3 L957.0,1956.3 L959.0,1955.4 L961.0,1954.7 L963.0,1954.1 L965.0,1953.6 L967.0,1953.2 L969.0,1952.8 L971.0,1952.5 L973.0,1952.3 L975.0,1952.0 L977.0,1951.8 L979.0,1951.6 L981.0,1951.3 L983.0,1951.1 L985.0,1950.7 L987.0,1950.4 L989.0,1949.9 L991.0,1949.4 L993.0,1948.8 L995.0,1948.2 L997.0,1947.4 L999.0,1946.6 L1001.0,1945.7 L1003.0,1944.6 L1005.0,1943.5 L1007.0,1942.3 L1009.0,1941.0 L1011.0,1939.7 L1013.0,1938.2 L1015.0,1936.7 L1017.0,1935.1 L1019.0,1933.5 L1021.0,1931.8 L1023.0,1930.0 L1025.0,1928.3 L1027.0,1926.5 L1029.0,1924.8 L1031.0,1923.0 L1033.0,1921.3 L1035.0,1919.7 L1037.0,1918.1 L1039.0,1916.6 L1041.0,1915.2 L1043.0,1913.9 L1045.0,1912.8 L1047.0,1911.9 L1049.0,1911.1 L1051.0,1910.6 L1053.0,1910.3 L1055.0,1910.2 L1057.0,1910.5 L1059.0,1911.0 L1061.0,1911.8 L1063.0,1912.9 L1065.0,1914.3 L1067.0,1916.2 L1069.0,1918.3 L1071.0,1920.8 L1073.0,1923.7 L1075.0,1927.0 L1077.0,1930.6 L1079.0,1934.6 L1081.0,1939.0 L1083.0,1943.7 L1085.0,1948.8 L1087.0,1954.3 L1089.0,1960.1 L1091.0,1966.1 L1093.0,1972.5 L1095.0,1979.2 L1097.0,1986.2 L1099.0,1993.4 L1101.0,2000.8 L1103.0,2008.4 L1105.0,2016.3 L1107.0,2024.3 L1109.0,2032.4 L1111.0,2040.7 L1113.0,2049.1 L1115.0,2057.6 L1117.0,2066.1 L1119.0,2074.7 L1121.0,2083.3 L1123.0,2092.0 L1125.0,2100.6 L1127.0,2109.3 L1129.0,2117.9 L1131.0,2126.4 L1133.0,2134.9 L1135.0,2143.4 L1137.0,2151.7 L1139.0,2160.0 L1141.0,2168.2 L1143.0,2176.3 L1145.0,2184.2 L1147.0,2192.1 L1149.0,2199.8 L1151.0,2207.4 L1153.0,2214.8 L1155.0,2222.1 L1157.0,2229.3 L1159.0,2236.3 L1161.0,2243.2 L1163.0,2249.8 L1165.0,2256.4 L1167.0,2262.7 L1169.0,2269.0 L1171.0,2275.0 L1173.0,2280.9 L1175.0,2286.6 L1177.0,2292.2 L1179.0,2297.5 L1181.0,2302.8 L1183.0,2307.8 L1185.0,2312.7 L1187.0,2317.5 L1189.0,2322.0 L1191.0,2326.5 L1193.0,2330.7 L1195.0,2334.8 L1197.0,2338.8 L1199.0,2342.6 L1201.0,2346.3 L1203.0,2349.8 L1205.0,2353.2 L1207.0,2356.4 L1209.0,2359.5 L1211.0,2362.5 L1213.0,2365.4 L1215.0,2368.1 L1217.0,2370.7 L1219.0,2373.2 L1221.0,2375.5 L1223.0,2377.8 L1225.0,2380.0 L1227.0,2382.0 L1229.0,2383.9 L1231.0,2385.8 L1233.0,2387.5 L1235.0,2389.2 L1237.0,2390.8 L1239.0,2392.3 L1241.0,2393.7 L1243.0,2395.0 L1245.0,2396.2 L1247.0,2397.4 L1249.0,2398.5 L1251.0,2399.6 L1253.0,2400.6 L1255.0,2401.5 L1257.0,2402.3 L1259.0,2403.1 L1261.0,2403.9 L1263.0,2404.6 L1265.0,2405.2 L1267.0,2405.8 L1269.0,2406.4 L1271.0,2406.9 L1273.0,2407.4 L1275.0,2407.9 L1277.0,2408.3 L1279.0,2408.6 L1281.0,2409.0 L1283.0,2409.3 L1285.0,2409.6 L1287.0,2409.8 L1289.0,2410.1 L1291.0,2410.3 L1293.0,2410.5 L1295.0,2410.6 L1297.0,2410.8 L1299.0,2410.9 L1301.0,2411.0 L1303.0,2411.1 L1305.0,2411.2 L1307.0,2411.2 L1309.0,2411.2 L1311.0,2411.3 L1313.0,2411.3 L1315.0,2411.3 L1317.0,2411.2 L1319.0,2411.2 L1321.0,2411.2 L1323.0,2411.1 L1325.0,2411.0 L1327.0,2411.0 L1329.0,2410.9 L1331.0,2410.8 L1333.0,2410.7 L1335.0,2410.5 L1337.0,2410.4 L1339.0,2410.2 L1341.0,2410.1 L1343.0,2409.9 L1345.0,2409.7 L1347.0,2409.5 L1349.0,2409.3 L1351.0,2409.1 L1353.0,2408.9 L1355.0,2408.7 L1357.0,2408.4 L1359.0,2408.1 L1361.0,2407.8 L1363.0,2407.5 L1365.0,2407.2 L1367.0,2406.9 L1369.0,2406.6 L1371.0,2406.2 L1373.0,2405.8 L1375.0,2405.4 L1377.0,2405.0 L1379.0,2404.6 L1381.0,2404.1 L1383.0,2403.7 L1385.0,2403.2 L1387.0,2402.6 L1389.0,2402.1 L1391.0,2401.6 L1393.0,2401.0 L1395.0,2400.4 L1397.0,2399.7 L1399.0,2399.1 L1401.0,2398.4 L1403.0,2397.7 L1405.0,2397.0 L1407.0,2396.2 L1409.0,2395.4 L1411.0,2394.6 L1413.0,2393.8 L1415.0,2392.9 L1417.0,2392.0 L1419.0,2391.1 L1421.0,2390.2 L1423.0,2389.2 L1425.0,2388.2 L1427.0,2387.2 L1429.0,2386.1 L1431.0,2385.0 L1433.0,2384.0 L1435.0,2382.8 L1437.0,2381.7 L1439.0,2380.6 L1441.0,2379.4 L1443.0,2378.2 L1445.0,2377.0 L1447.0,2375.8 L1449.0,2374.6 L1451.0,2373.4 L1453.0,2372.2 L1455.0,2370.9 L1457.0,2369.7 L1459.0,2368.5 L1461.0,2367.3 L1463.0,2366.2 L1465.0,2365.0 L1467.0,2363.9 L1469.0,2362.8 L1471.0,2361.7 L1473.0,2360.7 L1475.0,2359.7 L1477.0,2358.7 L1479.0,2357.8 L1481.0,2356.9 L1483.0,2356.1 L1485.0,2355.4 L1487.0,2354.7 L1489.0,2354.0 L1491.0,2353.4 L1493.0,2352.9 L1495.0,2352.4 L1497.0,2352.0 L1499.0,2351.6 L1501.0,2351.2 L1503.0,2350.9 L1505.0,2350.6 L1507.0,2350.4 L1509.0,2350.1 L1511.0,2349.9 L1513.0,2349.7 L1515.0,2349.5 L1517.0,2349.3 L1519.0,2349.0 L1521.0,2348.7 L1523.0,2348.4 L1525.0,2348.1 L1527.0,2347.7 L1529.0,2347.2 L1531.0,2346.7 L1533.0,2346.1 L1535.0,2345.4 L1537.0,2344.6 L1539.0,2343.7 L1541.0,2342.8 L1543.0,2341.7 L1545.0,2340.5 L1547.0,2339.2 L1549.0,2337.8 L1551.0,2336.3 L1553.0,2334.7 L1555.0,2332.9 L1557.0,2331.0 L1559.0,2329.0 L1561.0,2326.9 L1563.0,2324.6 L1565.0,2322.3 L1567.0,2319.9 L1569.0,2317.3 L1571.0,2314.7 L1573.0,2312.0 L1575.0,2309.3 L1577.0,2306.5 L1579.0,2303.7 L1581.0,2300.9 L1583.0,2298.1 L1585.0,2295.4 L1587.0,2292.8 L1589.0,2290.3 L1591.0,2288.0 L1593.0,2285.8 L1595.0,2283.9 L1597.0,2282.2 L1599.0,2280.9 L1601.0,2279.9 L1603.0,2279.4 L1605.0,2279.2 L1607.0,2279.5 L1609.0,2280.3 L1611.0,2281.6 L1613.0,2283.5 L1615.0,2285.9 L1617.0,2288.8 L1619.0,2292.2 L1621.0,2296.2 L1623.0,2300.6 L1625.0,2305.5 L1627.0,2310.8 L1629.0,2316.4 L1631.0,2322.4 L1633.0,2328.7 L1635.0,2335.2 L1637.0,2341.9 L1639.0,2348.7 L1641.0,2355.6 L1643.0,2362.6 L1645.0,2369.6 L1647.0,2376.6 L1649.0,2383.5 L1651.0,2390.3 L1653.0,2397.1 L1655.0,2403.7 L1657.0,2410.2 L1659.0,2416.5 L1661.0,2422.6 L1663.0,2428.6 L1665.0,2434.4 L1667.0,2440.0 L1669.0,2445.4 L1671.0,2450.5 L1673.0,2455.5 L1675.0,2460.3 L1677.0,2464.9 L1679.0,2469.2 L1681.0,2473.4 L1683.0,2477.4 L1685.0,2481.2 L1687.0,2484.8 L1689.0,2488.2 L1691.0,2491.5 L1693.0,2494.6 L1695.0,2497.5 L1697.0,2500.3 L1699.0,2503.0 L1701.0,2505.5 L1703.0,2507.9 L1705.0,2510.1 L1707.0,2512.2 L1709.0,2514.3 L1711.0,2516.2 L1713.0,2518.0 L1715.0,2519.7 L1717.0,2521.3 L1719.0,2522.9 L1721.0,2524.4 L1723.0,2525.8 L1725.0,2527.1 L1727.0,2528.4 L1729.0,2529.6 L1731.0,2530.7 L1733.0,2531.8 L1735.0,2532.9 L1737.0,2533.9 L1739.0,2534.8 L1741.0,2535.8 L1743.0,2536.7 L1745.0,2537.5 L1747.0,2538.3 L1749.0,2539.1 L1751.0,2539.9 L1753.0,2540.6 L1755.0,2541.3 L1757.0,2542.0 L1759.0,2542.7 L1761.0,2543.3 L1763.0,2543.9 L1765.0,2544.5 L1767.0,2545.1 L1769.0,2545.7 L1771.0,2546.2 L1773.0,2546.8 L1775.0,2547.3 L1777.0,2547.8 L1779.0,2548.3 L1781.0,2548.7 L1783.0,2549.2 L1785.0,2549.6 L1787.0,2550.1 L1789.0,2550.5 L1791.0,2550.9 L1793.0,2551.3 L1795.0,2551.7 L1797.0,2552.1 L1799.0,2552.5 L1801.0,2552.9 L1803.0,2553.2 L1805.0,2553.6 L1807.0,2553.9 L1809.0,2554.2 L1811.0,2554.6 L1813.0,2554.9 L1815.0,2555.2 L1817.0,2555.5 L1819.0,2555.8 L1821.0,2556.1 L1823.0,2556.4 L1825.0,2556.7 L1827.0,2556.9 L1829.0,2557.2 L1831.0,2557.5 L1833.0,2557.7 L1835.0,2558.0 L1837.0,2558.2 L1839.0,2558.5 L1841.0,2558.7 L1843.0,2558.9 L1845.0,2559.2 L1847.0,2559.4" stroke="#000"/>
<path d="M127.0,2502.9 L129.0,2502.7 L131.0,2502.5 L133.0,2502.3 L135.0,2502.1 L137.0,2501.9 L139.0,2501.7 L141.0,2501.5 L143.0,2501.3 L145.0,2501.1 L147.0,2500.9 L149.0,2500.7 L151.0,2500.5 L153.0,2500.3 L155.0,2500.0 L157.0,2499.8 L159.0,2499.6 L161.0,2499.4 L163.0,2499.1 L165.0,2498.9 L167.0,2498.7 L169.0,2498.4 L171.0,2498.2 L173.0,2497.9 L175.0,2497.7 L177.0,2497.4 L179.0,2497.2 L181.0,2496.9 L183.0,2496.7 L185.0,2496.4 L187.0,2496.1 L189.0,2495.9 L191.0,2495.6 L193.0,2495.3 L195.0,2495.0 L197.0,2494.8 L199.0,2494.5 L201.0,2494.2 L203.0,2493.9 L205.0,2493.6 L207.0,2493.3 L209.0,2493.0 L211.0,2492.7 L213.0,2492.4 L215.0,2492.1 L217.0,2491.8 L219.0,2491.4 L221.0,2491.1 L223.0,2490.8 L225.0,2490.5 L227.0,2490.1 L229.0,2489.8 L231.0,2489.5 L233.0,2489.1 L235.0,2488.8 L237.0,2488.4 L239.0,2488.1 L241.0,2487.7 L243.0,2487.4 L245.0,2487.0 L247.0,2486.6 L249.0,2486.3 L251.0,2485.9 L253.0,2485.5 L255.0,2485.1 L257.0,2484.8 L259.0,2484.4 L261.0,2484.0 L263.0,2483.6 L265.0,2483.2 L267.0,2482.8 L269.0,2482.4 L271.0,2482.0 L273.0,2481.6 L275.0,2481.2 L277.0,2480.8 L279.0,2480.3 L281.0,2479.9 L283.0,2479.5 L285.0,2479.1 L287.0,2478.6 L289.0,2478.2 L291.0,2477.7 L293.0,2477.3 L295.0,2476.9 L297.0,2476.4 L299.0,2476.0 L301.0,2475.5 L303.0,2475.0 L305.0,2474.6 L307.0,2474.1 L309.0,2473.7 L311.0,2473.2 L313.0,2472.7 L315.0,2472.2 L317.0,2471.8 L319.0,2471.3 L321.0,2470.8 L323.0,2470.3 L325.0,2469.8 L327.0,2469.3 L329.0,2468.8 L331.0,2468.3 L333.0,2467.8 L335.0,2467.3 L337.0,2466.8 L339.0,2466.3 L341.0,2465.8 L343.0,2465.3 L345.0,2464.7 L347.0,2464.2 L349.0,2463.7 L351.0,2463.2 L353.0,2462.6 L355.0,2462.1 L357.0,2461.6 L359.0,2461.0 L361.0,2460.5 L363.0,2460.0 L365.0,2459.4 L367.0,2458.9 L369.0,2458.3 L371.0,2457.8 L373.0,2457.2 L375.0,2456.7 L377.0,2456.1 L379.0,2455.6 L381.0,2455.0 L383.0,2454.5 L385.0,2453.9 L387.0,2453.3 L389.0,2452.8 L391.0,2452.2 L393.0,2451.7 L395.0,2451.1 L397.0,2450.5 L399.0,2450.0 L401.0,2449.4 L403.0,2448.8 L405.0,2448.2 L407.0,2447.7 L409.0,2447.1 L411.0,2446.5 L413.0,2446.0 L415.0,2445.4 L417.0,2444.8 L419.0,2444.2 L421.0,2443.7 L423.0,2443.1 L425.0,2442.5 L427.0,2441.9 L429.0,2441.4 L431.0,2440.8 L433.0,2440.2 L435.0,2439.6 L437.0,2439.1 L439.0,2438.5 L441.0,2437.9 L443.0,2437.3 L445.0,2436.8 L447.0,2436.2 L449.0,2435.6 L451.0,2435.1 L453.0,2434.5 L455.0,2433.9 L457.0,2433.4 L459.0,2432.8 L461.0,2432.2 L463.0,2431.7 L465.0,2431.1 L467.0,2430.6 L469.0,2430.0 L471.0,2429.4 L473.0,2428.9 L475.0,2428.4 L477.0,2427.8 L479.0,2427.3 L481.0,2426.7 L483.0,2426.2 L485.0,2425.6 L487.0,2425.1 L489.0,2424.6 L491.0,2424.1 L493.0,2423.5 L495.0,2423.0 L497.0,2422.5 L499.0,2422.0 L501.0,2421.5 L503.0,2421.0 L505.0,2420.5 L507.0,2420.0 L509.0,2419.5 L511.0,2419.0 L513.0,2418.5 L515.0,2418.0 L517.0,2417.6 L519.0,2417.1 L521.0,2416.6 L523.0,2416.2 L525.0,2415.7 L527.0,2415.3 L529.0,2414.8 L531.0,2414.4 L533.0,2413.9 L535.0,2413.5 L537.0,2413.1 L539.0,2412.7 L541.0,2412.3 L543.0,2411.8 L545.0,2411.5 L547.0,2411.1 L549.0,2410.7 L551.0,2410.3 L553.0,2409.9 L555.0,2409.6 L557.0,2409.2 L559.0,2408.8 L561.0,2408.5 L563.0,2408.2 L565.0,2407.8 L567.0,2407.5 L569.0,2407.2 L571.0,2406.9 L573.0,2406.6 L575.0,2406.3 L577.0,2406.0 L579.0,2405.7 L581.0,2405.4 L583.0,2405.2 L585.0,2404.9 L587.0,2404.7 L589.0,2404.5 L591.0,2404.2 L593.0,2404.0 L595.0,2403.8 L597.0,2403.6 L599.0,2403.4 L601.0,2403.2 L603.0,2403.0 L605.0,2402.9 L607.0,2402.7 L609.0,2402.6 L611.0,2402.4 L613.0,2402.3 L615.0,2402.2 L617.0,2402.0 L619.0,2401.9 L621.0,2401.8 L623.0,2401.8 L625.0,2401.7 L627.0,2401.6 L629.0,2401.6 L631.0,2401.5 L633.0,2401.5 L635.0,2401.5 L637.0,2401.5 L639.0,2401.4 L641.0,2401.5 L643.0,2401.5 L645.0,2401.5 L647.0,2401.5 L649.0,2401.6 L651.0,2401.6 L653.0,2401.7 L655.0,2401.8 L657.0,2401.9 L659.0,2402.0 L661.0,2402.1 L663.0,2402.2 L665.0,2402.4 L667.0,2402.5 L669.0,2402.7 L671.0,2402.8 L673.0,2403.0 L675.0,2403.2 L677.0,2403.4 L679.0,2403.6 L681.0,2403.9 L683.0,2404.1 L685.0,2404.3 L687.0,2404.6 L689.0,2404.9 L691.0,2405.1 L693.0,2405.4 L695.0,2405.7 L697.0,2406.1 L699.0,2406.4 L701.0,2406.7 L703.0,2407.1 L705.0,2407.4 L707.0,2407.8 L709.0,2408.2 L711.0,2408.5 L713.0,2408.9 L715.0,2409.3 L717.0,2409.7 L719.0,2410.2 L721.0,2410.6 L723.0,2411.0 L725.0,2411.5 L727.0,2412.0 L729.0,2412.4 L731.0,2412.9 L733.0,2413.4 L735.0,2413.9 L737.0,2414.4 L739.0,2414.9 L741.0,2415.4 L743.0,2415.9 L745.0,2416.5 L747.0,2417.0 L749.0,2417.6 L751.0,2418.1 L753.0,2418.7 L755.0,2419.3 L757.0,2419.8 L759.0,2420.4 L761.0,2421.0 L763.0,2421.6 L765.0,2422.2 L767.0,2422.8 L769.0,2423.4 L771.0,2424.0 L773.0,2424.7 L775.0,2425.3 L777.0,2425.9 L779.0,2426.6 L781.0,2427.2 L783.0,2427.9 L785.0,2428.5 L787.0,2429.2 L789.0,2429.9 L791.0,2430.5 L793.0,2431.2 L795.0,2431.9 L797.0,2432.6 L799.0,2433.3 L801.0,2433.9 L803.0,2434.6 L805.0,2435.3 L807.0,2436.0 L809.0,2436.7 L811.0,2437.5 L813.0,2438.2 L815.0,2438.9 L817.0,2439.6 L819.0,2440.3 L821.0,2441.1 L823.0,2441.8 L825.0,2442.5 L827.0,2443.2 L829.0,2444.0 L831.0,2444.7 L833.0,2445.5 L835.0,2446.2 L837.0,2447.0 L839.0,2447.7 L841.0,2448.5 L843.0,2449.2 L845.0,2450.0 L847.0,2450.7 L849.0,2451.5 L851.0,2452.2 L853.0,2453.0 L855.0,2453.8 L857.0,2454.5 L859.0,2455.3 L861.0,2456.1 L863.0,2456.9 L865.0,2457.6 L867.0,2458.4 L869.0,2459.2 L871.0,2460.0 L873.0,2460.7 L875.0,2461.5 L877.0,2462.3 L879.0,2463.1 L881.0,2463.9 L883.0,2464.6 L885.0,2465.4 L887.0,2466.2 L889.0,2467.0 L891.0,2467.8 L893.0,2468.6 L895.0,2469.4 L897.0,2470.1 L899.0,2470.9 L901.0,2471.7 L903.0,2472.5 L905.0,2473.3 L907.0,2474.1 L909.0,2474.9 L911.0,2475.7 L913.0,2476.4 L915.0,2477.2 L917.0,2478.0 L919.0,2478.8 L921.0,2479.6 L923.0,2480.4 L925.0,2481.2 L927.0,2481.9 L929.0,2482.7 L931.0,2483.5 L933.0,2484.3 L935.0,2485.0 L937.0,2485.8 L939.0,2486.6 L941.0,2487.4 L943.0,2488.1 L945.0,2488.9 L947.0,2489.7 L949.0,2490.4 L951.0,2491.2 L953.0,2491.9 L955.0,2492.7 L957.0,2493.4 L959.0,2494.2 L961.0,2494.9 L963.0,2495.6 L965.0,2496.4 L967.0,2497.1 L969.0,2497.8 L971.0,2498.5 L973.0,2499.3 L975.0,2500.0 L977.0,2500.7 L979.0,2501.4 L981.0,2502.1 L983.0,2502.8 L985.0,2503.5 L987.0,2504.2 L989.0,2504.9 L991.0,2505.6 L993.0,2506.2 L995.0,2506.9 L997.0,2507.6 L999.0,2508.2 L1001.0,2508.9 L1003.0,2509.6 L1005.0,2510.2 L1007.0,2510.9 L1009.0,2511.5 L1011.0,2512.2 L1013.0,2512.8 L1015.0,2513.5 L1017.0,2514.1 L1019.0,2514.7 L1021.0,2515.4 L1023.0,2516.0 L1025.0,2516.6 L1027.0,2517.2 L1029.0,2517.8 L1031.0,2518.5 L1033.0,2519.1 L1035.0,2519.7 L1037.0,2520.3 L1039.0,2520.9 L1041.0,2521.5 L1043.0,2522.1 L1045.0,2522.7 L1047.0,2523.2 L1049.0,2523.8 L1051.0,2524.4 L1053.0,2525.0 L1055.0,2525.5 L1057.0,2526.1 L1059.0,2526.7 L1061.0,2527.2 L1063.0,2527.8 L1065.0,2528.3 L1067.0,2528.9 L1069.0,2529.4 L1071.0,2529.9 L1073.0,2530.5 L1075.0,2531.0 L1077.0,2531.5 L1079.0,2532.0 L1081.0,2532.6 L1083.0,2533.1 L1085.0,2533.6 L1087.0,2534.1 L1089.0,2534.5 L1091.0,2535.0 L1093.0,2535.5 L1095.0,2536.0 L1097.0,2536.5 L1099.0,2536.9 L1101.0,2537.4 L1103.0,2537.8 L1105.0,2538.3 L1107.0,2538.7 L1109.0,2539.1 L1111.0,2539.6 L1113.0,2540.0 L1115.0,2540.4 L1117.0,2540.8 L1119.0,2541.2 L1121.0,2541.6 L1123.0,2542.0 L1125.0,2542.4 L1127.0,2542.7 L1129.0,2543.1 L1131.0,2543.5 L1133.0,2543.8 L1135.0,2544.2 L1137.0,2544.5 L1139.0,2544.9 L1141.0,2545.2 L1143.0,2545.5 L1145.0,2545.9 L1147.0,2546.2 L1149.0,2546.5 L1151.0,2546.8 L1153.0,2547.1 L1155.0,2547.4 L1157.0,2547.7 L1159.0,2548.0 L1161.0,2548.3 L1163.0,2548.5 L1165.0,2548.8 L1167.0,2549.1 L1169.0,2549.3 L1171.0,2549.6 L1173.0,2549.8 L1175.0,2550.1 L1177.0,2550.3 L1179.0,2550.6 L1181.0,2550.8 L1183.0,2551.0 L1185.0,2551.3 L1187.0,2551.5 L1189.0,2551.7 L1191.0,2551.9 L1193.0,2552.1 L1195.0,2552.4 L1197.0,2552.6 L1199.0,2552.8 L1201.0,2553.0 L1203.0,2553.2 L1205.0,2553.4 L1207.0,2553.5 L1209.0,2553.7 L1211.0,2553.9 L1213.0,2554.1 L1215.0,2554.3 L1217.0,2554.4 L1219.0,2554.6 L1221.0,2554.8 L1223.0,2555.0 L1225.0,2555.1 L1227.0,2555.3 L1229.0,2555.4 L1231.0,2555.6 L1233.0,2555.8 L1235.0,2555.9 L1237.0,2556.1 L1239.0,2556.2 L1241.0,2556.4 L1243.0,2556.5 L1245.0,2556.6 L1247.0,2556.8 L1249.0,2556.9 L1251.0,2557.1 L1253.0,2557.2 L1255.0,2557.3 L1257.0,2557.5 L1259.0,2557.6 L1261.0,2557.7 L1263.0,2557.9 L1265.0,2558.0 L1267.0,2558.1 L1269.0,2558.2 L1271.0,2558.4 L1273.0,2558.5 L1275.0,2558.6 L1277.0,2558.7 L1279.0,2558.8 L1281.0,2559.0 L1283.0,2559.1 L1285.0,2559.2 L1287.0,2559.3 L1289.0,2559.4 L1291.0,2559.5 L1293.0,2559.6 L1295.0,2559.7 L1297.0,2559.9 L1299.0,2560.0 L1301.0,2560.1 L1303.0,2560.2 L1305.0,2560.3 L1307.0,2560.4 L1309.0,2560.5 L1311.0,2560.6 L1313.0,2560.7 L1315.0,2560.8 L1317.0,2560.9 L1319.0,2561.0 L1321.0,2561.1 L1323.0,2561.2 L1325.0,2561.3 L1327.0,2561.4 L1329.0,2561.5 L1331.0,2561.6 L1333.0,2561.7 L1335.0,2561.8 L1337.0,2561.8 L1339.0,2561.9 L1341.0,2562.0 L1343.0,2562.1 L1345.0,2562.2 L1347.0,2562.3 L1349.0,2562.4 L1351.0,2562.5 L1353.0,2562.6 L1355.0,2562.7 L1357.0,2562.8 L1359.0,2562.8 L1361.0,2562.9 L1363.0,2563.0 L1365.0,2563.1 L1367.0,2563.2 L1369.0,2563.3 L1371.0,2563.4 L1373.0,2563.4 L1375.0,2563.5 L1377.0,2563.6 L1379.0,2563.7 L1381.0,2563.8 L1383.0,2563.9 L1385.0,2564.0 L1387.0,2564.0 L1389.0,2564.1 L1391.0,2564.2 L1393.0,2564.3 L1395.0,2564.4 L1397.0,2564.5 L1399.0,2564.5 L1401.0,2564.6 L1403.0,2564.7 L1405.0,2564.8 L1407.0,2564.9 L1409.0,2564.9 L1411.0,2565.0 L1413.0,2565.1 L1415.0,2565.2 L1417.0,2565.3 L1419.0,2565.4 L1421.0,2565.4 L1423.0,2565.5 L1425.0,2565.6 L1427.0,2565.7 L1429.0,2565.8 L1431.0,2565.9 L1433.0,2565.9 L1435.0,2566.0 L1437.0,2566.1 L1439.0,2566.2 L1441.0,2566.3 L1443.0,2566.4 L1445.0,2566.4 L1447.0,2566.5 L1449.0,2566.6 L1451.0,2566.7 L1453.0,2566.8 L1455.0,2566.9 L1457.0,2567.0 L1459.0,2567.0 L1461.0,2567.1 L1463.0,2567.2 L1465.0,2567.3 L1467.0,2567.4 L1469.0,2567.5 L1471.0,2567.6 L1473.0,2567.7 L1475.0,2567.7 L1477.0,2567.8 L1479.0,2567.9 L1481.0,2568.0 L1483.0,2568.1 L1485.0,2568.2 L1487.0,2568.3 L1489.0,2568.4 L1491.0,2568.5 L1493.0,2568.5 L1495.0,2568.6 L1497.0,2568.7 L1499.0,2568.8 L1501.0,2568.9 L1503.0,2569.0 L1505.0,2569.1 L1507.0,2569.2 L1509.0,2569.3 L1511.0,2569.4 L1513.0,2569.4 L1515.0,2569.5 L1517.0,2569.6 L1519.0,2569.7 L1521.0,2569.8 L1523.0,2569.9 L1525.0,2570.0 L1527.0,2570.1 L1529.0,2570.2 L1531.0,2570.3 L1533.0,2570.3 L1535.0,2570.4 L1537.0,2570.5 L1539.0,2570.6 L1541.0,2570.7 L1543.0,2570.8 L1545.0,2570.9 L1547.0,2571.0 L1549.0,2571.1 L1551.0,2571.2 L1553.0,2571.3 L1555.0,2571.4 L1557.0,2571.5 L1559.0,2571.6 L1561.0,2571.6 L1563.0,2571.7 L1565.0,2571.8 L1567.0,2571.9 L1569.0,2572.0 L1571.0,2572.1 L1573.0,2572.2 L1575.0,2572.3 L1577.0,2572.4 L1579.0,2572.5 L1581.0,2572.6 L1583.0,2572.8 L1585.0,2572.9 L1587.0,2573.0 L1589.0,2573.1 L1591.0,2573.2 L1593.0,2573.3 L1595.0,2573.4 L1597.0,2573.5 L1599.0,2573.6 L1601.0,2573.7 L1603.0,2573.9 L1605.0,2574.0 L1607.0,2574.1 L1609.0,2574.2 L1611.0,2574.3 L1613.0,2574.4 L1615.0,2574.5 L1617.0,2574.6 L1619.0,2574.7 L1621.0,2574.8 L1623.0,2575.0 L1625.0,2575.1 L1627.0,2575.2 L1629.0,2575.3 L1631.0,2575.4 L1633.0,2575.5 L1635.0,2575.6 L1637.0,2575.6 L1639.0,2575.7 L1641.0,2575.8 L1643.0,2575.9 L1645.0,2576.0 L1647.0,2576.1 L1649.0,2576.1 L1651.0,2576.2 L1653.0,2576.3 L1655.0,2576.4 L1657.0,2576.4 L1659.0,2576.5 L1661.0,2576.6 L1663.0,2576.6 L1665.0,2576.7 L1667.0,2576.7 L1669.0,2576.8 L1671.0,2576.8 L1673.0,2576.9 L1675.0,2576.9 L1677.0,2577.0 L1679.0,2577.0 L1681.0,2577.1 L1683.0,2577.1 L1685.0,2577.2 L1687.0,2577.2 L1689.0,2577.2 L1691.0,2577.3 L1693.0,2577.3 L1695.0,2577.4 L1697.0,2577.4 L1699.0,2577.4 L1701.0,2577.5 L1703.0,2577.5 L1705.0,2577.5 L1707.0,2577.6 L1709.0,2577.6 L1711.0,2577.6 L1713.0,2577.6 L1715.0,2577.7 L1717.0,2577.7 L1719.0,2577.7 L1721.0,2577.7 L1723.0,2577.8 L1725.0,2577.8 L1727.0,2577.8 L1729.0,2577.8 L1731.0,2577.9 L1733.0,2577.9 L1735.0,2577.9 L1737.0,2577.9 L1739.0,2578.0 L1741.0,2578.0 L1743.0,2578.0 L1745.0,2578.0 L1747.0,2578.0 L1749.0,2578.1 L1751.0,2578.1 L1753.0,2578.1 L1755.0,2578.1 L1757.0,2578.1 L1759.0,2578.2 L1761.0,2578.2 L1763.0,2578.2 L1765.0,2578.2 L1767.0,2578.2 L1769.0,2578.2 L1771.0,2578.3 L1773.0,2578.3 L1775.0,2578.3 L1777.0,2578.3 L1779.0,2578.3 L1781.0,2578.3 L1783.0,2578.4 L1785.0,2578.4 L1787.0,2578.4 L1789.0,2578.4 L1791.0,2578.4 L1793.0,2578.4 L1795.0,2578.5 L1797.0,2578.5 L1799.0,2578.5 L1801.0,2578.5 L1803.0,2578.5 L1805.0,2578.5 L1807.0,2578.5 L1809.0,2578.6 L1811.0,2578.6 L1813.0,2578.6 L1815.0,2578.6 L1817.0,2578.6 L1819.0,2578.6 L1821.0,2578.6 L1823.0,2578.6 L1825.0,2578.7 L1827.0,2578.7 L1829.0,2578.7 L1831.0,2578.7 L1833.0,2578.7 L1835.0,2578.7 L1837.0,2578.7 L1839.0,2578.7 L1841.0,2578.8 L1843.0,2578.8 L1845.0,2578.8 L1847.0,2578.8" stroke="#f00" stroke-width="2"/>
<path d="M127.0,2515.4 L129.0,2515.4 L131.0,2515.4 L133.0,2515.4 L135.0,2515.4 L137.0,2515.4 L139.0,2515.4 L141.0,2515.4 L143.0,2515.4 L145.0,2515.4 L147.0,2515.4 L149.0,2515.4 L151.0,2515.4 L153.0,2515.4 L155.0,2515.4 L157.0,2515.4 L159.0,2515.3 L161.0,2515.3 L163.0,2515.3 L165.0,2515.3 L167.0,2515.3 L169.0,2515.3 L171.0,2515.3 L173.0,2515.3 L175.0,2515.3 L177.0,2515.3 L179.0,2515.3 L181.0,2515.3 L183.0,2515.3 L185.0,2515.3 L187.0,2515.3 L189.0,2515.3 L191.0,2515.3 L193.0,2515.3 L195.0,2515.3 L197.0,2515.3 L199.0,2515.3 L201.0,2515.3 L203.0,2515.3 L205.0,2515.3 L207.0,2515.3 L209.0,2515.3 L211.0,2515.2 L213.0,2515.2 L215.0,2515.2 L217.0,2515.2 L219.0,2515.2 L221.0,2515.2 L223.0,2515.2 L225.0,2515.2 L227.0,2515.2 L229.0,2515.2 L231.0,2515.2 L233.0,2515.2 L235.0,2515.2 L237.0,2515.2 L239.0,2515.2 L241.0,2515.2 L243.0,2515.2 L245.0,2515.2 L247.0,2515.2 L249.0,2515.2 L251.0,2515.2 L253.0,2515.2 L255.0,2515.2 L257.0,2515.2 L259.0,2515.2 L261.0,2515.2 L263.0,2515.1 L265.0,2515.1 L267.0,2515.1 L269.0,2515.1 L271.0,2515.1 L273.0,2515.1 L275.0,2515.1 L277.0,2515.1 L279.0,2515.1 L281.0,2515.1 L283.0,2515.1 L285.0,2515.1 L287.0,2515.1 L289.0,2515.1 L291.0,2515.1 L293.0,2515.1 L295.0,2515.1 L297.0,2515.1 L299.0,2515.1 L301.0,2515.1 L303.0,2515.1 L305.0,2515.1 L307.0,2515.1 L309.0,2515.1 L311.0,2515.1 L313.0,2515.0 L315.0,2515.0 L317.0,2515.0 L319.0,2515.0 L321.0,2515.0 L323.0,2515.0 L325.0,2515.0 L327.0,2515.0 L329.0,2515.0 L331.0,2515.0 L333.0,2515.0 L335.0,2515.0 L337.0,2515.0 L339.0,2515.0 L341.0,2515.0 L343.0,2515.0 L345.0,2515.0 L347.0,2515.0 L349.0,2515.0 L351.0,2515.0 L353.0,2515.0 L355.0,2514.9 L357.0,2514.9 L359.0,2514.9 L361.0,2514.9 L363.0,2514.9 L365.0,2514.9 L367.0,2514.9 L369.0,2514.9 L371.0,2514.9 L373.0,2514.9 L375.0,2514.9 L377.0,2514.9 L379.0,2514.9 L381.0,2514.9 L383.0,2514.9 L385.0,2514.9 L387.0,2514.8 L389.0,2514.8 L391.0,2514.8 L393.0,2514.8 L395.0,2514.8 L397.0,2514.8 L399.0,2514.8 L401.0,2514.8 L403.0,2514.8 L405.0,2514.8 L407.0,2514.8 L409.0,2514.8 L411.0,2514.8 L413.0,2514.7 L415.0,2514.7 L417.0,2514.7 L419.0,2514.7 L421.0,2514.7 L423.0,2514.7 L425.0,2514.7 L427.0,2514.7 L429.0,2514.7 L431.0,2514.7 L433.0,2514.6 L435.0,2514.6 L437.0,2514.6 L439.0,2514.6 L441.0,2514.6 L443.0,2514.6 L445.0,2514.6 L447.0,2514.6 L449.0,2514.5 L451.0,2514.5 L453.0,2514.5 L455.0,2514.5 L457.0,2514.5 L459.0,2514.5 L461.0,2514.4 L463.0,2514.4 L465.0,2514.4 L467.0,2514.4 L469.0,2514.4 L471.0,2514.4 L473.0,2514.3 L475.0,2514.3 L477.0,2514.3 L479.0,2514.3 L481.0,2514.3 L483.0,2514.2 L485.0,2514.2 L487.0,2514.2 L489.0,2514.2 L491.0,2514.2 L493.0,2514.1 L495.0,2514.1 L497.0,2514.1 L499.0,2514.1 L501.0,2514.0 L503.0,2514.0 L505.0,2514.0 L507.0,2514.0 L509.0,2513.9 L511.0,2513.9 L513.0,2513.9 L515.0,2513.8 L517.0,2513.8 L519.0,2513.8 L521.0,2513.7 L523.0,2513.7 L525.0,2513.7 L527.0,2513.6 L529.0,2513.6 L531.0,2513.6 L533.0,2513.5 L535.0,2513.5 L537.0,2513.4 L539.0,2513.4 L541.0,2513.4 L543.0,2513.3 L545.0,2513.3 L547.0,2513.2 L549.0,2513.2 L551.0,2513.1 L553.0,2513.1 L555.0,2513.0 L557.0,2513.0 L559.0,2512.9 L561.0,2512.9 L563.0,2512.8 L565.0,2512.8 L567.0,2512.7 L569.0,2512.7 L571.0,2512.6 L573.0,2512.5 L575.0,2512.5 L577.0,2512.4 L579.0,2512.3 L581.0,2512.3 L583.0,2512.2 L585.0,2512.1 L587.0,2512.0 L589.0,2512.0 L591.0,2511.9 L593.0,2511.8 L595.0,2511.7 L597.0,2511.7 L599.0,2511.6 L601.0,2511.5 L603.0,2511.4 L605.0,2511.3 L607.0,2511.2 L609.0,2511.1 L611.0,2511.0 L613.0,2510.9 L615.0,2510.8 L617.0,2510.7 L619.0,2510.6 L621.0,2510.5 L623.0,2510.4 L625.0,2510.2 L627.0,2510.1 L629.0,2510.0 L631.0,2509.9 L633.0,2509.7 L635.0,2509.6 L637.0,2509.5 L639.0,2509.3 L641.0,2509.2 L643.0,2509.0 L645.0,2508.9 L647.0,2508.7 L649.0,2508.6 L651.0,2508.4 L653.0,2508.2 L655.0,2508.1 L657.0,2507.9 L659.0,2507.7 L661.0,2507.5 L663.0,2507.3 L665.0,2507.1 L667.0,2506.9 L669.0,2506.7 L671.0,2506.5 L673.0,2506.3 L675.0,2506.0 L677.0,2505.8 L679.0,2505.6 L681.0,2505.3 L683.0,2505.0 L685.0,2504.8 L687.0,2504.5 L689.0,2504.2 L691.0,2503.9 L693.0,2503.6 L695.0,2503.3 L697.0,2503.0 L699.0,2502.6 L701.0,2502.3 L703.0,2501.9 L705.0,2501.5 L707.0,2501.2 L709.0,2500.8 L711.0,2500.3 L713.0,2499.9 L715.0,2499.5 L717.0,2499.0 L719.0,2498.5 L721.0,2498.0 L723.0,2497.5 L725.0,2496.9 L727.0,2496.4 L729.0,2495.8 L731.0,2495.2 L733.0,2494.5 L735.0,2493.9 L737.0,2493.2 L739.0,2492.4 L741.0,2491.7 L743.0,2490.9 L745.0,2490.1 L747.0,2489.2 L749.0,2488.4 L751.0,2487.4 L753.0,2486.5 L755.0,2485.5 L757.0,2484.4 L759.0,2483.3 L761.0,2482.2 L763.0,2481.0 L765.0,2479.8 L767.0,2478.5 L769.0,2477.1 L771.0,2475.7 L773.0,2474.3 L775.0,2472.7 L777.0,2471.2 L779.0,2469.5 L781.0,2467.8 L783.0,2466.0 L785.0,2464.2 L787.0,2462.2 L789.0,2460.2 L791.0,2458.2 L793.0,2456.0 L795.0,2453.8 L797.0,2451.4 L799.0,2449.0 L801.0,2446.5 L803.0,2444.0 L805.0,2441.3 L807.0,2438.5 L809.0,2435.6 L811.0,2432.7 L813.0,2429.6 L815.0,2426.5 L817.0,2423.2 L819.0,2419.8 L821.0,2416.4 L823.0,2412.8 L825.0,2409.1 L827.0,2405.3 L829.0,2401.5 L831.0,2397.5 L833.0,2393.4 L835.0,2389.2 L837.0,2384.8 L839.0,2380.4 L841.0,2375.9 L843.0,2371.3 L845.0,2366.6 L847.0,2361.7 L849.0,2356.8 L851.0,2351.8 L853.0,2346.7 L855.0,2341.5 L857.0,2336.2 L859.0,2330.9 L861.0,2325.4 L863.0,2319.9 L865.0,2314.3 L867.0,2308.7 L869.0,2303.0 L871.0,2297.2 L873.0,2291.4 L875.0,2285.6 L877.0,2279.8 L879.0,2273.9 L881.0,2268.1 L883.0,2262.2 L885.0,2256.4 L887.0,2250.5 L889.0,2244.8 L891.0,2239.1 L893.0,2233.4 L895.0,2227.9 L897.0,2222.4 L899.0,2217.1 L901.0,2211.9 L903.0,2206.9 L905.0,2202.0 L907.0,2197.3 L909.0,2192.8 L911.0,2188.6 L913.0,2184.5 L915.0,2180.8 L917.0,2177.3 L919.0,2174.1 L921.0,2171.2 L923.0,2168.6 L925.0,2166.4 L927.0,2164.5 L929.0,2163.0 L931.0,2161.8 L933.0,2161.0 L935.0,2160.6 L937.0,2160.6 L939.0,2160.9 L941.0,2161.6 L943.0,2162.7 L945.0,2164.2 L947.0,2166.0 L949.0,2168.2 L951.0,2170.7 L953.0,2173.6 L955.0,2176.7 L957.0,2180.2 L959.0,2184.0 L961.0,2188.0 L963.0,2192.3 L965.0,2196.8 L967.0,2201.6 L969.0,2206.5 L971.0,2211.7 L973.0,2217.0 L975.0,2222.4 L977.0,2228.0 L979.0,2233.7 L981.0,2239.5 L983.0,2245.4 L985.0,2251.3 L987.0,2257.4 L989.0,2263.4 L991.0,2269.5 L993.0,2275.6 L995.0,2281.7 L997.0,2287.8 L999.0,2293.9 L1001.0,2300.0 L1003.0,2306.1 L1005.0,2312.1 L1007.0,2318.1 L1009.0,2324.0 L1011.0,2329.8 L1013.0,2335.6 L1015.0,2341.4 L1017.0,2347.0 L1019.0,2352.6 L1021.0,2358.1 L1023.0,2363.5 L1025.0,2368.8 L1027.0,2374.1 L1029.0,2379.2 L1031.0,2384.2 L1033.0,2389.2 L1035.0,2394.0 L1037.0,2398.8 L1039.0,2403.4 L1041.0,2408.0 L1043.0,2412.4 L1045.0,2416.7 L1047.0,2421.0 L1049.0,2425.1 L1051.0,2429.1 L1053.0,2433.1 L1055.0,2436.9 L1057.0,2440.6 L1059.0,2444.2 L1061.0,2447.7 L1063.0,2451.1 L1065.0,2454.5 L1067.0,2457.7 L1069.0,2460.8 L1071.0,2463.8 L1073.0,2466.8 L1075.0,2469.6 L1077.0,2472.4 L1079.0,2475.1 L1081.0,2477.7 L1083.0,2480.2 L1085.0,2482.6 L1087.0,2484.9 L1089.0,2487.2 L1091.0,2489.4 L1093.0,2491.5 L1095.0,2493.6 L1097.0,2495.5 L1099.0,2497.4 L1101.0,2499.3 L1103.0,2501.1 L1105.0,2502.8 L1107.0,2504.4 L1109.0,2506.0 L1111.0,2507.6 L1113.0,2509.0 L1115.0,2510.5 L1117.0,2511.8 L1119.0,2513.2 L1121.0,2514.5 L1123.0,2515.7 L1125.0,2516.9 L1127.0,2518.0 L1129.0,2519.2 L1131.0,2520.2 L1133.0,2521.3 L1135.0,2522.3 L1137.0,2523.2 L1139.0,2524.2 L1141.0,2525.0 L1143.0,2525.9 L1145.0,2526.8 L1147.0,2527.6 L1149.0,2528.3 L1151.0,2529.1 L1153.0,2529.8 L1155.0,2530.5 L1157.0,2531.2 L1159.0,2531.9 L1161.0,2532.5 L1163.0,2533.2 L1165.0,2533.8 L1167.0,2534.4 L1169.0,2534.9 L1171.0,2535.5 L1173.0,2536.0 L1175.0,2536.5 L1177.0,2537.0 L1179.0,2537.5 L1181.0,2538.0 L1183.0,2538.5 L1185.0,2538.9 L1187.0,2539.4 L1189.0,2539.8 L1191.0,2540.2 L1193.0,2540.6 L1195.0,2541.0 L1197.0,2541.4 L1199.0,2541.8 L1201.0,2542.2 L1203.0,2542.6 L1205.0,2542.9 L1207.0,2543.3 L1209.0,2543.6 L1211.0,2543.9 L1213.0,2544.3 L1215.0,2544.6 L1217.0,2544.9 L1219.0,2545.2 L1221.0,2545.5 L1223.0,2545.8 L1225.0,2546.1 L1227.0,2546.4 L1229.0,2546.7 L1231.0,2546.9 L1233.0,2547.2 L1235.0,2547.5 L1237.0,2547.7 L1239.0,2548.0 L1241.0,2548.2 L1243.0,2548.5 L1245.0,2548.7 L1247.0,2549.0 L1249.0,2549.2 L1251.0,2549.4 L1253.0,2549.7 L1255.0,2549.9 L1257.0,2550.1 L1259.0,2550.3 L1261.0,2550.6 L1263.0,2550.8 L1265.0,2551.0 L1267.0,2551.2 L1269.0,2551.4 L1271.0,2551.6 L1273.0,2551.8 L1275.0,2552.0 L1277.0,2552.2 L1279.0,2552.4 L1281.0,2552.6 L1283.0,2552.8 L1285.0,2552.9 L1287.0,2553.1 L1289.0,2553.3 L1291.0,2553.5 L1293.0,2553.7 L1295.0,2553.8 L1297.0,2554.0 L1299.0,2554.2 L1301.0,2554.4 L1303.0,2554.5 L1305.0,2554.7 L1307.0,2554.9 L1309.0,2555.0 L1311.0,2555.2 L1313.0,2555.3 L1315.0,2555.5 L1317.0,2555.7 L1319.0,2555.8 L1321.0,2556.0 L1323.0,2556.1 L1325.0,2556.3 L1327.0,2556.4 L1329.0,2556.6 L1331.0,2556.7 L1333.0,2556.9 L1335.0,2557.0 L1337.0,2557.1 L1339.0,2557.3 L1341.0,2557.4 L1343.0,2557.6 L1345.0,2557.7 L1347.0,2557.8 L1349.0,2558.0 L1351.0,2558.1 L1353.0,2558.2 L1355.0,2558.4 L1357.0,2558.5 L1359.0,2558.6 L1361.0,2558.8 L1363.0,2558.9 L1365.0,2559.0 L1367.0,2559.2 L1369.0,2559.3 L1371.0,2559.4 L1373.0,2559.5 L1375.0,2559.7 L1377.0,2559.8 L1379.0,2559.9 L1381.0,2560.0 L1383.0,2560.2 L1385.0,2560.3 L1387.0,2560.4 L1389.0,2560.5 L1391.0,2560.6 L1393.0,2560.8 L1395.0,2560.9 L1397.0,2561.0 L1399.0,2561.1 L1401.0,2561.2 L1403.0,2561.3 L1405.0,2561.5 L1407.0,2561.6 L1409.0,2561.7 L1411.0,2561.8 L1413.0,2561.9 L1415.0,2562.0 L1417.0,2562.1 L1419.0,2562.3 L1421.0,2562.4 L1423.0,2562.5 L1425.0,2562.6 L1427.0,2562.7 L1429.0,2562.8 L1431.0,2562.9 L1433.0,2563.1 L1435.0,2563.2 L1437.0,2563.3 L1439.0,2563.4 L1441.0,2563.5 L1443.0,2563.6 L1445.0,2563.7 L1447.0,2563.8 L1449.0,2563.9 L1451.0,2564.1 L1453.0,2564.2 L1455.0,2564.3 L1457.0,2564.4 L1459.0,2564.5 L1461.0,2564.6 L1463.0,2564.7 L1465.0,2564.8 L1467.0,2564.9 L1469.0,2565.1 L1471.0,2565.2 L1473.0,2565.3 L1475.0,2565.4 L1477.0,2565.5 L1479.0,2565.6 L1481.0,2565.7 L1483.0,2565.8 L1485.0,2566.0 L1487.0,2566.1 L1489.0,2566.2 L1491.0,2566.3 L1493.0,2566.4 L1495.0,2566.5 L1497.0,2566.6 L1499.0,2566.7 L1501.0,2566.8 L1503.0,2566.9 L1505.0,2567.1 L1507.0,2567.2 L1509.0,2567.3 L1511.0,2567.4 L1513.0,2567.5 L1515.0,2567.6 L1517.0,2567.7 L1519.0,2567.8 L1521.0,2567.9 L1523.0,2568.0 L1525.0,2568.1 L1527.0,2568.2 L1529.0,2568.4 L1531.0,2568.5 L1533.0,2568.6 L1535.0,2568.7 L1537.0,2568.8 L1539.0,2568.9 L1541.0,2569.0 L1543.0,2569.1 L1545.0,2569.2 L1547.0,2569.3 L1549.0,2569.4 L1551.0,2569.5 L1553.0,2569.6 L1555.0,2569.8 L1557.0,2569.9 L1559.0,2570.0 L1561.0,2570.1 L1563.0,2570.2 L1565.0,2570.3 L1567.0,2570.4 L1569.0,2570.5 L1571.0,2570.6 L1573.0,2570.8 L1575.0,2570.9 L1577.0,2571.0 L1579.0,2571.1 L1581.0,2571.2 L1583.0,2571.3 L1585.0,2571.5 L1587.0,2571.6 L1589.0,2571.7 L1591.0,2571.8 L1593.0,2571.9 L1595.0,2572.1 L1597.0,2572.2 L1599.0,2572.3 L1601.0,2572.4 L1603.0,2572.6 L1605.0,2572.7 L1607.0,2572.8 L1609.0,2572.9 L1611.0,2573.1 L1613.0,2573.2 L1615.0,2573.3 L1617.0,2573.4 L1619.0,2573.5 L1621.0,2573.7 L1623.0,2573.8 L1625.0,2573.9 L1627.0,2574.0 L1629.0,2574.1 L1631.0,2574.2 L1633.0,2574.3 L1635.0,2574.4 L1637.0,2574.5 L1639.0,2574.6 L1641.0,2574.7 L1643.0,2574.8 L1645.0,2574.9 L1647.0,2575.0 L1649.0,2575.1 L1651.0,2575.2 L1653.0,2575.3 L1655.0,2575.3 L1657.0,2575.4 L1659.0,2575.5 L1661.0,2575.6 L1663.0,2575.6 L1665.0,2575.7 L1667.0,2575.8 L1669.0,2575.8 L1671.0,2575.9 L1673.0,2575.9 L1675.0,2576.0 L1677.0,2576.1 L1679.0,2576.1 L1681.0,2576.2 L1683.0,2576.2 L1685.0,2576.3 L1687.0,2576.3 L1689.0,2576.4 L1691.0,2576.4 L1693.0,2576.5 L1695.0,2576.5 L1697.0,2576.5 L1699.0,2576.6 L1701.0,2576.6 L1703.0,2576.7 L1705.0,2576.7 L1707.0,2576.7 L1709.0,2576.8 L1711.0,2576.8 L1713.0,2576.8 L1715.0,2576.9 L1717.0,2576.9 L1719.0,2576.9 L1721.0,2577.0 L1723.0,2577.0 L1725.0,2577.0 L1727.0,2577.1 L1729.0,2577.1 L1731.0,2577.1 L1733.0,2577.2 L1735.0,2577.2 L1737.0,2577.2 L1739.0,2577.2 L1741.0,2577.3 L1743.0,2577.3 L1745.0,2577.3 L1747.0,2577.3 L1749.0,2577.4 L1751.0,2577.4 L1753.0,2577.4 L1755.0,2577.4 L1757.0,2577.5 L1759.0,2577.5 L1761.0,2577.5 L1763.0,2577.5 L1765.0,2577.6 L1767.0,2577.6 L1769.0,2577.6 L1771.0,2577.6 L1773.0,2577.6 L1775.0,2577.7 L1777.0,2577.7 L1779.0,2577.7 L1781.0,2577.7 L1783.0,2577.8 L1785.0,2577.8 L1787.0,2577.8 L1789.0,2577.8 L1791.0,2577.8 L1793.0,2577.9 L1795.0,2577.9 L1797.0,2577.9 L1799.0,2577.9 L1801.0,2577.9 L1803.0,2578.0 L1805.0,2578.0 L1807.0,2578.0 L1809.0,2578.0 L1811.0,2578.0 L1813.0,2578.0 L1815.0,2578.1 L1817.0,2578.1 L1819.0,2578.1 L1821.0,2578.1 L1823.0,2578.1 L1825.0,2578.1 L1827.0,2578.2 L1829.0,2578.2 L1831.0,2578.2 L1833.0,2578.2 L1835.0,2578.2 L1837.0,2578.2 L1839.0,2578.3 L1841.0,2578.3 L1843.0,2578.3 L1845.0,2578.3 L1847.0,2578.3" stroke="#f00" stroke-width="2"/>
<path d="M127.0,2515.4 L129.0,2515.4 L131.0,2515.4 L133.0,2515.4 L135.0,2515.4 L137.0,2515.4 L139.0,2515.4 L141.0,2515.4 L143.0,2515.4 L145.0,2515.4 L147.0,2515.4 L149.0,2515.4 L151.0,2515.4 L153.0,2515.4 L155.0,2515.4 L157.0,2515.4 L159.0,2515.4 L161.0,2515.4 L163.0,2515.4 L165.0,2515.4 L167.0,2515.4 L169.0,2515.4 L171.0,2515.4 L173.0,2515.4 L175.0,2515.4 L177.0,2515.4 L179.0,2515.4 L181.0,2515.4 L183.0,2515.4 L185.0,2515.4 L187.0,2515.4 L189.0,2515.4 L191.0,2515.4 L193.0,2515.4 L195.0,2515.4 L197.0,2515.4 L199.0,2515.4 L201.0,2515.4 L203.0,2515.4 L205.0,2515.4 L207.0,2515.4 L209.0,2515.4 L211.0,2515.3 L213.0,2515.3 L215.0,2515.3 L217.0,2515.3 L219.0,2515.3 L221.0,2515.3 L223.0,2515.3 L225.0,2515.3 L227.0,2515.3 L229.0,2515.3 L231.0,2515.3 L233.0,2515.3 L235.0,2515.3 L237.0,2515.3 L239.0,2515.3 L241.0,2515.3 L243.0,2515.3 L245.0,2515.3 L247.0,2515.3 L249.0,2515.3 L251.0,2515.3 L253.0,2515.3 L255.0,2515.3 L257.0,2515.3 L259.0,2515.3 L261.0,2515.3 L263.0,2515.3 L265.0,2515.3 L267.0,2515.3 L269.0,2515.3 L271.0,2515.3 L273.0,2515.3 L275.0,2515.3 L277.0,2515.3 L279.0,2515.3 L281.0,2515.3 L283.0,2515.3 L285.0,2515.3 L287.0,2515.3 L289.0,2515.3 L291.0,2515.3 L293.0,2515.3 L295.0,2515.3 L297.0,2515.3 L299.0,2515.3 L301.0,2515.3 L303.0,2515.3 L305.0,2515.3 L307.0,2515.4 L309.0,2515.4 L311.0,2515.4 L313.0,2515.4 L315.0,2515.4 L317.0,2515.4 L319.0,2515.4 L321.0,2515.4 L323.0,2515.4 L325.0,2515.4 L327.0,2515.4 L329.0,2515.4 L331.0,2515.4 L333.0,2515.4 L335.0,2515.4 L337.0,2515.4 L339.0,2515.4 L341.0,2515.4 L343.0,2515.4 L345.0,2515.4 L347.0,2515.4 L349.0,2515.4 L351.0,2515.4 L353.0,2515.4 L355.0,2515.4 L357.0,2515.4 L359.0,2515.4 L361.0,2515.4 L363.0,2515.4 L365.0,2515.4 L367.0,2515.4 L369.0,2515.4 L371.0,2515.4 L373.0,2515.4 L375.0,2515.4 L377.0,2515.4 L379.0,2515.4 L381.0,2515.4 L383.0,2515.4 L385.0,2515.4 L387.0,2515.4 L389.0,2515.4 L391.0,2515.4 L393.0,2515.4 L395.0,2515.4 L397.0,2515.5 L399.0,2515.5 L401.0,2515.5 L403.0,2515.5 L405.0,2515.5 L407.0,2515.5 L409.0,2515.5 L411.0,2515.5 L413.0,2515.5 L415.0,2515.5 L417.0,2515.5 L419.0,2515.5 L421.0,2515.5 L423.0,2515.5 L425.0,2515.5 L427.0,2515.5 L429.0,2515.5 L431.0,2515.5 L433.0,2515.5 L435.0,2515.5 L437.0,2515.5 L439.0,2515.5 L441.0,2515.5 L443.0,2515.5 L445.0,2515.5 L447.0,2515.5 L449.0,2515.5 L451.0,2515.5 L453.0,2515.5 L455.0,2515.5 L457.0,2515.5 L459.0,2515.5 L461.0,2515.5 L463.0,2515.5 L465.0,2515.5 L467.0,2515.5 L469.0,2515.5 L471.0,2515.5 L473.0,2515.5 L475.0,2515.6 L477.0,2515.6 L479.0,2515.6 L481.0,2515.6 L483.0,2515.6 L485.0,2515.6 L487.0,2515.6 L489.0,2515.6 L491.0,2515.6 L493.0,2515.6 L495.0,2515.6 L497.0,2515.6 L499.0,2515.6 L501.0,2515.6 L503.0,2515.6 L505.0,2515.6 L507.0,2515.6 L509.0,2515.6 L511.0,2515.6 L513.0,2515.5 L515.0,2515.5 L517.0,2515.5 L519.0,2515.5 L521.0,2515.5 L523.0,2515.5 L525.0,2515.5 L527.0,2515.5 L529.0,2515.5 L531.0,2515.5 L533.0,2515.5 L535.0,2515.5 L537.0,2515.5 L539.0,2515.5 L541.0,2515.5 L543.0,2515.5 L545.0,2515.5 L547.0,2515.5 L549.0,2515.5 L551.0,2515.5 L553.0,2515.5 L555.0,2515.4 L557.0,2515.4 L559.0,2515.4 L561.0,2515.4 L563.0,2515.4 L565.0,2515.4 L567.0,2515.4 L569.0,2515.4 L571.0,2515.4 L573.0,2515.4 L575.0,2515.3 L577.0,2515.3 L579.0,2515.3 L581.0,2515.3 L583.0,2515.3 L585.0,2515.3 L587.0,2515.3 L589.0,2515.2 L591.0,2515.2 L593.0,2515.2 L595.0,2515.2 L597.0,2515.2 L599.0,2515.1 L601.0,2515.1 L603.0,2515.1 L605.0,2515.1 L607.0,2515.1 L609.0,2515.0 L611.0,2515.0 L613.0,2515.0 L615.0,2515.0 L617.0,2514.9 L619.0,2514.9 L621.0,2514.9 L623.0,2514.8 L625.0,2514.8 L627.0,2514.8 L629.0,2514.7 L631.0,2514.7 L633.0,2514.7 L635.0,2514.6 L637.0,2514.6 L639.0,2514.6 L641.0,2514.5 L643.0,2514.5 L645.0,2514.5 L647.0,2514.4 L649.0,2514.4 L651.0,2514.3 L653.0,2514.3 L655.0,2514.2 L657.0,2514.2 L659.0,2514.1 L661.0,2514.1 L663.0,2514.0 L665.0,2514.0 L667.0,2513.9 L669.0,2513.9 L671.0,2513.8 L673.0,2513.7 L675.0,2513.7 L677.0,2513.6 L679.0,2513.6 L681.0,2513.5 L683.0,2513.4 L685.0,2513.4 L687.0,2513.3 L689.0,2513.2 L691.0,2513.1 L693.0,2513.1 L695.0,2513.0 L697.0,2512.9 L699.0,2512.8 L701.0,2512.7 L703.0,2512.7 L705.0,2512.6 L707.0,2512.5 L709.0,2512.4 L711.0,2512.3 L713.0,2512.2 L715.0,2512.1 L717.0,2512.0 L719.0,2511.9 L721.0,2511.8 L723.0,2511.7 L725.0,2511.6 L727.0,2511.4 L729.0,2511.3 L731.0,2511.2 L733.0,2511.1 L735.0,2511.0 L737.0,2510.8 L739.0,2510.7 L741.0,2510.6 L743.0,2510.4 L745.0,2510.3 L747.0,2510.1 L749.0,2510.0 L751.0,2509.8 L753.0,2509.7 L755.0,2509.5 L757.0,2509.4 L759.0,2509.2 L761.0,2509.0 L763.0,2508.9 L765.0,2508.7 L767.0,2508.5 L769.0,2508.3 L771.0,2508.1 L773.0,2507.9 L775.0,2507.7 L777.0,2507.5 L779.0,2507.3 L781.0,2507.1 L783.0,2506.9 L785.0,2506.6 L787.0,2506.4 L789.0,2506.2 L791.0,2505.9 L793.0,2505.7 L795.0,2505.4 L797.0,2505.1 L799.0,2504.9 L801.0,2504.6 L803.0,2504.3 L805.0,2504.0 L807.0,2503.7 L809.0,2503.4 L811.0,2503.1 L813.0,2502.7 L815.0,2502.4 L817.0,2502.0 L819.0,2501.6 L821.0,2501.3 L823.0,2500.9 L825.0,2500.5 L827.0,2500.0 L829.0,2499.6 L831.0,2499.2 L833.0,2498.7 L835.0,2498.2 L837.0,2497.7 L839.0,2497.2 L841.0,2496.6 L843.0,2496.1 L845.0,2495.5 L847.0,2494.9 L849.0,2494.3 L851.0,2493.6 L853.0,2493.0 L855.0,2492.3 L857.0,2491.5 L859.0,2490.8 L861.0,2490.0 L863.0,2489.2 L865.0,2488.3 L867.0,2487.4 L869.0,2486.5 L871.0,2485.5 L873.0,2484.5 L875.0,2483.5 L877.0,2482.4 L879.0,2481.2 L881.0,2480.1 L883.0,2478.8 L885.0,2477.5 L887.0,2476.2 L889.0,2474.8 L891.0,2473.3 L893.0,2471.8 L895.0,2470.2 L897.0,2468.6 L899.0,2466.9 L901.0,2465.1 L903.0,2463.2 L905.0,2461.3 L907.0,2459.3 L909.0,2457.2 L911.0,2455.0 L913.0,2452.8 L915.0,2450.4 L917.0,2448.0 L919.0,2445.5 L921.0,2442.8 L923.0,2440.1 L925.0,2437.3 L927.0,2434.4 L929.0,2431.3 L931.0,2428.2 L933.0,2425.0 L935.0,2421.6 L937.0,2418.1 L939.0,2414.6 L941.0,2410.9 L943.0,2407.1 L945.0,2403.1 L947.0,2399.1 L949.0,2394.9 L951.0,2390.6 L953.0,2386.2 L955.0,2381.6 L957.0,2376.9 L959.0,2372.1 L961.0,2367.2 L963.0,2362.2 L965.0,2357.0 L967.0,2351.7 L969.0,2346.3 L971.0,2340.7 L973.0,2335.0 L975.0,2329.3 L977.0,2323.4 L979.0,2317.3 L981.0,2311.2 L983.0,2305.0 L985.0,2298.6 L987.0,2292.2 L989.0,2285.6 L991.0,2279.0 L993.0,2272.3 L995.0,2265.5 L997.0,2258.6 L999.0,2251.7 L1001.0,2244.7 L1003.0,2237.6 L1005.0,2230.5 L1007.0,2223.3 L1009.0,2216.2 L1011.0,2209.0 L1013.0,2201.8 L1015.0,2194.6 L1017.0,2187.4 L1019.0,2180.3 L1021.0,2173.2 L1023.0,2166.2 L1025.0,2159.2 L1027.0,2152.3 L1029.0,2145.6 L1031.0,2138.9 L1033.0,2132.4 L1035.0,2126.1 L1037.0,2119.9 L1039.0,2114.0 L1041.0,2108.2 L1043.0,2102.7 L1045.0,2097.5 L1047.0,2092.5 L1049.0,2087.9 L1051.0,2083.6 L1053.0,2079.6 L1055.0,2076.0 L1057.0,2072.8 L1059.0,2069.9 L1061.0,2067.5 L1063.0,2065.5 L1065.0,2063.9 L1067.0,2062.8 L1069.0,2062.2 L1071.0,2062.0 L1073.0,2062.3 L1075.0,2063.1 L1077.0,2064.3 L1079.0,2066.0 L1081.0,2068.1 L1083.0,2070.8 L1085.0,2073.8 L1087.0,2077.3 L1089.0,2081.2 L1091.0,2085.5 L1093.0,2090.2 L1095.0,2095.3 L1097.0,2100.7 L1099.0,2106.5 L1101.0,2112.5 L1103.0,2118.8 L1105.0,2125.4 L1107.0,2132.2 L1109.0,2139.3 L1111.0,2146.5 L1113.0,2153.9 L1115.0,2161.4 L1117.0,2169.1 L1119.0,2176.8 L1121.0,2184.7 L1123.0,2192.6 L1125.0,2200.6 L1127.0,2208.6 L1129.0,2216.7 L1131.0,2224.7 L1133.0,2232.7 L1135.0,2240.7 L1137.0,2248.7 L1139.0,2256.6 L1141.0,2264.5 L1143.0,2272.3 L1145.0,2280.0 L1147.0,2287.6 L1149.0,2295.1 L1151.0,2302.5 L1153.0,2309.9 L1155.0,2317.1 L1157.0,2324.1 L1159.0,2331.1 L1161.0,2337.9 L1163.0,2344.6 L1165.0,2351.2 L1167.0,2357.6 L1169.0,2363.9 L1171.0,2370.0 L1173.0,2376.0 L1175.0,2381.9 L1177.0,2387.6 L1179.0,2393.2 L1181.0,2398.6 L1183.0,2403.8 L1185.0,2409.0 L1187.0,2413.9 L1189.0,2418.8 L1191.0,2423.5 L1193.0,2428.0 L1195.0,2432.4 L1197.0,2436.7 L1199.0,2440.8 L1201.0,2444.8 L1203.0,2448.7 L1205.0,2452.5 L1207.0,2456.1 L1209.0,2459.6 L1211.0,2462.9 L1213.0,2466.2 L1215.0,2469.3 L1217.0,2472.3 L1219.0,2475.2 L1221.0,2478.0 L1223.0,2480.8 L1225.0,2483.4 L1227.0,2485.9 L1229.0,2488.3 L1231.0,2490.6 L1233.0,2492.8 L1235.0,2494.9 L1237.0,2497.0 L1239.0,2499.0 L1241.0,2500.9 L1243.0,2502.7 L1245.0,2504.5 L1247.0,2506.1 L1249.0,2507.8 L1251.0,2509.3 L1253.0,2510.8 L1255.0,2512.3 L1257.0,2513.6 L1259.0,2515.0 L1261.0,2516.2 L1263.0,2517.5 L1265.0,2518.7 L1267.0,2519.8 L1269.0,2520.9 L1271.0,2521.9 L1273.0,2523.0 L1275.0,2523.9 L1277.0,2524.9 L1279.0,2525.8 L1281.0,2526.7 L1283.0,2527.5 L1285.0,2528.3 L1287.0,2529.1 L1289.0,2529.9 L1291.0,2530.6 L1293.0,2531.3 L1295.0,2532.0 L1297.0,2532.7 L1299.0,2533.3 L1301.0,2534.0 L1303.0,2534.6 L1305.0,2535.2 L1307.0,2535.7 L1309.0,2536.3 L1311.0,2536.9 L1313.0,2537.4 L1315.0,2537.9 L1317.0,2538.4 L1319.0,2538.9 L1321.0,2539.4 L1323.0,2539.8 L1325.0,2540.3 L1327.0,2540.7 L1329.0,2541.2 L1331.0,2541.6 L1333.0,2542.0 L1335.0,2542.4 L1337.0,2542.8 L1339.0,2543.2 L1341.0,2543.6 L1343.0,2544.0 L1345.0,2544.3 L1347.0,2544.7 L1349.0,2545.0 L1351.0,2545.4 L1353.0,2545.7 L1355.0,2546.1 L1357.0,2546.4 L1359.0,2546.7 L1361.0,2547.0 L1363.0,2547.3 L1365.0,2547.6 L1367.0,2548.0 L1369.0,2548.2 L1371.0,2548.5 L1373.0,2548.8 L1375.0,2549.1 L1377.0,2549.4 L1379.0,2549.7 L1381.0,2549.9 L1383.0,2550.2 L1385.0,2550.5 L1387.0,2550.7 L1389.0,2551.0 L1391.0,2551.3 L1393.0,2551.5 L1395.0,2551.8 L1397.0,2552.0 L1399.0,2552.2 L1401.0,2552.5 L1403.0,2552.7 L1405.0,2553.0 L1407.0,2553.2 L1409.0,2553.4 L1411.0,2553.6 L1413.0,2553.9 L1415.0,2554.1 L1417.0,2554.3 L1419.0,2554.5 L1421.0,2554.7 L1423.0,2555.0 L1425.0,2555.2 L1427.0,2555.4 L1429.0,2555.6 L1431.0,2555.8 L1433.0,2556.0 L1435.0,2556.2 L1437.0,2556.4 L1439.0,2556.6 L1441.0,2556.8 L1443.0,2557.0 L1445.0,2557.2 L1447.0,2557.4 L1449.0,2557.6 L1451.0,2557.8 L1453.0,2557.9 L1455.0,2558.1 L1457.0,2558.3 L1459.0,2558.5 L1461.0,2558.7 L1463.0,2558.9 L1465.0,2559.0 L1467.0,2559.2 L1469.0,2559.4 L1471.0,2559.6 L1473.0,2559.8 L1475.0,2559.9 L1477.0,2560.1 L1479.0,2560.3 L1481.0,2560.5 L1483.0,2560.6 L1485.0,2560.8 L1487.0,2561.0 L1489.0,2561.1 L1491.0,2561.3 L1493.0,2561.5 L1495.0,2561.6 L1497.0,2561.8 L1499.0,2562.0 L1501.0,2562.1 L1503.0,2562.3 L1505.0,2562.4 L1507.0,2562.6 L1509.0,2562.8 L1511.0,2562.9 L1513.0,2563.1 L1515.0,2563.2 L1517.0,2563.4 L1519.0,2563.5 L1521.0,2563.7 L1523.0,2563.8 L1525.0,2564.0 L1527.0,2564.1 L1529.0,2564.3 L1531.0,2564.4 L1533.0,2564.6 L1535.0,2564.7 L1537.0,2564.9 L1539.0,2565.0 L1541.0,2565.2 L1543.0,2565.3 L1545.0,2565.5 L1547.0,2565.6 L1549.0,2565.8 L1551.0,2565.9 L1553.0,2566.1 L1555.0,2566.2 L1557.0,2566.3 L1559.0,2566.5 L1561.0,2566.6 L1563.0,2566.8 L1565.0,2566.9 L1567.0,2567.1 L1569.0,2567.2 L1571.0,2567.4 L1573.0,2567.5 L1575.0,2567.6 L1577.0,2567.8 L1579.0,2567.9 L1581.0,2568.1 L1583.0,2568.2 L1585.0,2568.4 L1587.0,2568.5 L1589.0,2568.7 L1591.0,2568.8 L1593.0,2569.0 L1595.0,2569.1 L1597.0,2569.3 L1599.0,2569.4 L1601.0,2569.6 L1603.0,2569.7 L1605.0,2569.9 L1607.0,2570.0 L1609.0,2570.2 L1611.0,2570.3 L1613.0,2570.5 L1615.0,2570.6 L1617.0,2570.8 L1619.0,2570.9 L1621.0,2571.0 L1623.0,2571.2 L1625.0,2571.3 L1627.0,2571.5 L1629.0,2571.6 L1631.0,2571.7 L1633.0,2571.8 L1635.0,2572.0 L1637.0,2572.1 L1639.0,2572.2 L1641.0,2572.3 L1643.0,2572.4 L1645.0,2572.6 L1647.0,2572.7 L1649.0,2572.8 L1651.0,2572.9 L1653.0,2573.0 L1655.0,2573.1 L1657.0,2573.2 L1659.0,2573.3 L1661.0,2573.4 L1663.0,2573.4 L1665.0,2573.5 L1667.0,2573.6 L1669.0,2573.7 L1671.0,2573.8 L1673.0,2573.8 L1675.0,2573.9 L1677.0,2574.0 L1679.0,2574.1 L1681.0,2574.1 L1683.0,2574.2 L1685.0,2574.3 L1687.0,2574.3 L1689.0,2574.4 L1691.0,2574.5 L1693.0,2574.5 L1695.0,2574.6 L1697.0,2574.6 L1699.0,2574.7 L1701.0,2574.7 L1703.0,2574.8 L1705.0,2574.8 L1707.0,2574.9 L1709.0,2574.9 L1711.0,2575.0 L1713.0,2575.0 L1715.0,2575.1 L1717.0,2575.1 L1719.0,2575.2 L1721.0,2575.2 L1723.0,2575.3 L1725.0,2575.3 L1727.0,2575.4 L1729.0,2575.4 L1731.0,2575.4 L1733.0,2575.5 L1735.0,2575.5 L1737.0,2575.6 L1739.0,2575.6 L1741.0,2575.6 L1743.0,2575.7 L1745.0,2575.7 L1747.0,2575.8 L1749.0,2575.8 L1751.0,2575.8 L1753.0,2575.9 L1755.0,2575.9 L1757.0,2575.9 L1759.0,2576.0 L1761.0,2576.0 L1763.0,2576.0 L1765.0,2576.1 L1767.0,2576.1 L1769.0,2576.1 L1771.0,2576.2 L1773.0,2576.2 L1775.0,2576.2 L1777.0,2576.3 L1779.0,2576.3 L1781.0,2576.3 L1783.0,2576.4 L1785.0,2576.4 L1787.0,2576.4 L1789.0,2576.5 L1791.0,2576.5 L1793.0,2576.5 L1795.0,2576.5 L1797.0,2576.6 L1799.0,2576.6 L1801.0,2576.6 L1803.0,2576.7 L1805.0,2576.7 L1807.0,2576.7 L1809.0,2576.7 L1811.0,2576.8 L1813.0,2576.8 L1815.0,2576.8 L1817.0,2576.8 L1819.0,2576.9 L1821.0,2576.9 L1823.0,2576.9 L1825.0,2576.9 L1827.0,2577.0 L1829.0,2577.0 L1831.0,2577.0 L1833.0,2577.0 L1835.0,2577.1 L1837.0,2577.1 L1839.0,2577.1 L1841.0,2577.1 L1843.0,2577.2 L1845.0,2577.2 L1847.0,2577.2" stroke="#f00" stroke-width="2"/>
<path d="M127.0,2516.7 L129.0,2516.7 L131.0,2516.7 L133.0,2516.7 L135.0,2516.7 L137.0,2516.7 L139.0,2516.7 L141.0,2516.7 L143.0,2516.8 L145.0,2516.8 L147.0,2516.8 L149.0,2516.8 L151.0,2516.8 L153.0,2516.8 L155.0,2516.8 L157.0,2516.8 L159.0,2516.8 L161.0,2516.8 L163.0,2516.8 L165.0,2516.8 L167.0,2516.8 L169.0,2516.8 L171.0,2516.8 L173.0,2516.8 L175.0,2516.8 L177.0,2516.8 L179.0,2516.9 L181.0,2516.9 L183.0,2516.9 L185.0,2516.9 L187.0,2516.9 L189.0,2516.9 L191.0,2516.9 L193.0,2516.9 L195.0,2516.9 L197.0,2516.9 L199.0,2516.9 L201.0,2516.9 L203.0,2516.9 L205.0,2516.9 L207.0,2516.9 L209.0,2517.0 L211.0,2517.0 L213.0,2517.0 L215.0,2517.0 L217.0,2517.0 L219.0,2517.0 L221.0,2517.0 L223.0,2517.0 L225.0,2517.0 L227.0,2517.0 L229.0,2517.0 L231.0,2517.0 L233.0,2517.1 L235.0,2517.1 L237.0,2517.1 L239.0,2517.1 L241.0,2517.1 L243.0,2517.1 L245.0,2517.1 L247.0,2517.1 L249.0,2517.1 L251.0,2517.1 L253.0,2517.1 L255.0,2517.2 L257.0,2517.2 L259.0,2517.2 L261.0,2517.2 L263.0,2517.2 L265.0,2517.2 L267.0,2517.2 L269.0,2517.2 L271.0,2517.2 L273.0,2517.3 L275.0,2517.3 L277.0,2517.3 L279.0,2517.3 L281.0,2517.3 L283.0,2517.3 L285.0,2517.3 L287.0,2517.3 L289.0,2517.4 L291.0,2517.4 L293.0,2517.4 L295.0,2517.4 L297.0,2517.4 L299.0,2517.4 L301.0,2517.4 L303.0,2517.4 L305.0,2517.5 L307.0,2517.5 L309.0,2517.5 L311.0,2517.5 L313.0,2517.5 L315.0,2517.5 L317.0,2517.5 L319.0,2517.6 L321.0,2517.6 L323.0,2517.6 L325.0,2517.6 L327.0,2517.6 L329.0,2517.6 L331.0,2517.7 L333.0,2517.7 L335.0,2517.7 L337.0,2517.7 L339.0,2517.7 L341.0,2517.7 L343.0,2517.8 L345.0,2517.8 L347.0,2517.8 L349.0,2517.8 L351.0,2517.8 L353.0,2517.8 L355.0,2517.9 L357.0,2517.9 L359.0,2517.9 L361.0,2517.9 L363.0,2517.9 L365.0,2517.9 L367.0,2518.0 L369.0,2518.0 L371.0,2518.0 L373.0,2518.0 L375.0,2518.0 L377.0,2518.1 L379.0,2518.1 L381.0,2518.1 L383.0,2518.1 L385.0,2518.2 L387.0,2518.2 L389.0,2518.2 L391.0,2518.2 L393.0,2518.2 L395.0,2518.3 L397.0,2518.3 L399.0,2518.3 L401.0,2518.3 L403.0,2518.3 L405.0,2518.4 L407.0,2518.4 L409.0,2518.4 L411.0,2518.4 L413.0,2518.5 L415.0,2518.5 L417.0,2518.5 L419.0,2518.5 L421.0,2518.6 L423.0,2518.6 L425.0,2518.6 L427.0,2518.6 L429.0,2518.7 L431.0,2518.7 L433.0,2518.7 L435.0,2518.7 L437.0,2518.8 L439.0,2518.8 L441.0,2518.8 L443.0,2518.8 L445.0,2518.9 L447.0,2518.9 L449.0,2518.9 L451.0,2519.0 L453.0,2519.0 L455.0,2519.0 L457.0,2519.0 L459.0,2519.1 L461.0,2519.1 L463.0,2519.1 L465.0,2519.1 L467.0,2519.2 L469.0,2519.2 L471.0,2519.2 L473.0,2519.3 L475.0,2519.3 L477.0,2519.3 L479.0,2519.4 L481.0,2519.4 L483.0,2519.4 L485.0,2519.4 L487.0,2519.5 L489.0,2519.5 L491.0,2519.5 L493.0,2519.6 L495.0,2519.6 L497.0,2519.6 L499.0,2519.7 L501.0,2519.7 L503.0,2519.7 L505.0,2519.8 L507.0,2519.8 L509.0,2519.8 L511.0,2519.9 L513.0,2519.9 L515.0,2519.9 L517.0,2520.0 L519.0,2520.0 L521.0,2520.0 L523.0,2520.1 L525.0,2520.1 L527.0,2520.1 L529.0,2520.2 L531.0,2520.2 L533.0,2520.2 L535.0,2520.3 L537.0,2520.3 L539.0,2520.3 L541.0,2520.4 L543.0,2520.4 L545.0,2520.5 L547.0,2520.5 L549.0,2520.5 L551.0,2520.6 L553.0,2520.6 L555.0,2520.6 L557.0,2520.7 L559.0,2520.7 L561.0,2520.7 L563.0,2520.8 L565.0,2520.8 L567.0,2520.9 L569.0,2520.9 L571.0,2520.9 L573.0,2521.0 L575.0,2521.0 L577.0,2521.0 L579.0,2521.1 L581.0,2521.1 L583.0,2521.2 L585.0,2521.2 L587.0,2521.2 L589.0,2521.3 L591.0,2521.3 L593.0,2521.3 L595.0,2521.4 L597.0,2521.4 L599.0,2521.5 L601.0,2521.5 L603.0,2521.5 L605.0,2521.6 L607.0,2521.6 L609.0,2521.7 L611.0,2521.7 L613.0,2521.7 L615.0,2521.8 L617.0,2521.8 L619.0,2521.9 L621.0,2521.9 L623.0,2521.9 L625.0,2522.0 L627.0,2522.0 L629.0,2522.1 L631.0,2522.1 L633.0,2522.1 L635.0,2522.2 L637.0,2522.2 L639.0,2522.3 L641.0,2522.3 L643.0,2522.3 L645.0,2522.4 L647.0,2522.4 L649.0,2522.5 L651.0,2522.5 L653.0,2522.5 L655.0,2522.6 L657.0,2522.6 L659.0,2522.7 L661.0,2522.7 L663.0,2522.7 L665.0,2522.8 L667.0,2522.8 L669.0,2522.8 L671.0,2522.9 L673.0,2522.9 L675.0,2523.0 L677.0,2523.0 L679.0,2523.0 L681.0,2523.1 L683.0,2523.1 L685.0,2523.2 L687.0,2523.2 L689.0,2523.2 L691.0,2523.3 L693.0,2523.3 L695.0,2523.4 L697.0,2523.4 L699.0,2523.4 L701.0,2523.5 L703.0,2523.5 L705.0,2523.5 L707.0,2523.6 L709.0,2523.6 L711.0,2523.7 L713.0,2523.7 L715.0,2523.7 L717.0,2523.8 L719.0,2523.8 L721.0,2523.9 L723.0,2523.9 L725.0,2523.9 L727.0,2524.0 L729.0,2524.0 L731.0,2524.0 L733.0,2524.1 L735.0,2524.1 L737.0,2524.1 L739.0,2524.2 L741.0,2524.2 L743.0,2524.3 L745.0,2524.3 L747.0,2524.3 L749.0,2524.4 L751.0,2524.4 L753.0,2524.4 L755.0,2524.5 L757.0,2524.5 L759.0,2524.5 L761.0,2524.6 L763.0,2524.6 L765.0,2524.7 L767.0,2524.7 L769.0,2524.7 L771.0,2524.8 L773.0,2524.8 L775.0,2524.8 L777.0,2524.9 L779.0,2524.9 L781.0,2524.9 L783.0,2525.0 L785.0,2525.0 L787.0,2525.1 L789.0,2525.1 L791.0,2525.1 L793.0,2525.2 L795.0,2525.2 L797.0,2525.2 L799.0,2525.3 L801.0,2525.3 L803.0,2525.4 L805.0,2525.4 L807.0,2525.4 L809.0,2525.5 L811.0,2525.5 L813.0,2525.6 L815.0,2525.6 L817.0,2525.6 L819.0,2525.7 L821.0,2525.7 L823.0,2525.8 L825.0,2525.8 L827.0,2525.9 L829.0,2525.9 L831.0,2525.9 L833.0,2526.0 L835.0,2526.0 L837.0,2526.1 L839.0,2526.1 L841.0,2526.2 L843.0,2526.2 L845.0,2526.3 L847.0,2526.3 L849.0,2526.4 L851.0,2526.4 L853.0,2526.5 L855.0,2526.5 L857.0,2526.6 L859.0,2526.7 L861.0,2526.7 L863.0,2526.8 L865.0,2526.8 L867.0,2526.9 L869.0,2526.9 L871.0,2527.0 L873.0,2527.1 L875.0,2527.1 L877.0,2527.2 L879.0,2527.3 L881.0,2527.3 L883.0,2527.4 L885.0,2527.5 L887.0,2527.5 L889.0,2527.6 L891.0,2527.7 L893.0,2527.8 L895.0,2527.8 L897.0,2527.9 L899.0,2528.0 L901.0,2528.1 L903.0,2528.1 L905.0,2528.2 L907.0,2528.3 L909.0,2528.4 L911.0,2528.4 L913.0,2528.5 L915.0,2528.6 L917.0,2528.7 L919.0,2528.8 L921.0,2528.8 L923.0,2528.9 L925.0,2529.0 L927.0,2529.1 L929.0,2529.1 L931.0,2529.2 L933.0,2529.3 L935.0,2529.4 L937.0,2529.4 L939.0,2529.5 L941.0,2529.6 L943.0,2529.7 L945.0,2529.7 L947.0,2529.8 L949.0,2529.9 L951.0,2529.9 L953.0,2530.0 L955.0,2530.0 L957.0,2530.1 L959.0,2530.1 L961.0,2530.2 L963.0,2530.2 L965.0,2530.3 L967.0,2530.3 L969.0,2530.4 L971.0,2530.4 L973.0,2530.4 L975.0,2530.5 L977.0,2530.5 L979.0,2530.5 L981.0,2530.5 L983.0,2530.5 L985.0,2530.6 L987.0,2530.6 L989.0,2530.6 L991.0,2530.6 L993.0,2530.6 L995.0,2530.6 L997.0,2530.6 L999.0,2530.6 L1001.0,2530.5 L1003.0,2530.5 L1005.0,2530.5 L1007.0,2530.5 L1009.0,2530.4 L1011.0,2530.4 L1013.0,2530.4 L1015.0,2530.3 L1017.0,2530.3 L1019.0,2530.2 L1021.0,2530.2 L1023.0,2530.1 L1025.0,2530.1 L1027.0,2530.0 L1029.0,2529.9 L1031.0,2529.9 L1033.0,2529.8 L1035.0,2529.7 L1037.0,2529.6 L1039.0,2529.5 L1041.0,2529.4 L1043.0,2529.4 L1045.0,2529.3 L1047.0,2529.1 L1049.0,2529.0 L1051.0,2528.9 L1053.0,2528.8 L1055.0,2528.7 L1057.0,2528.5 L1059.0,2528.4 L1061.0,2528.3 L1063.0,2528.1 L1065.0,2528.0 L1067.0,2527.8 L1069.0,2527.7 L1071.0,2527.5 L1073.0,2527.3 L1075.0,2527.1 L1077.0,2526.9 L1079.0,2526.7 L1081.0,2526.5 L1083.0,2526.3 L1085.0,2526.1 L1087.0,2525.9 L1089.0,2525.7 L1091.0,2525.4 L1093.0,2525.2 L1095.0,2524.9 L1097.0,2524.7 L1099.0,2524.4 L1101.0,2524.1 L1103.0,2523.9 L1105.0,2523.6 L1107.0,2523.3 L1109.0,2523.0 L1111.0,2522.6 L1113.0,2522.3 L1115.0,2522.0 L1117.0,2521.6 L1119.0,2521.3 L1121.0,2520.9 L1123.0,2520.6 L1125.0,2520.2 L1127.0,2519.8 L1129.0,2519.4 L1131.0,2519.0 L1133.0,2518.6 L1135.0,2518.2 L1137.0,2517.8 L1139.0,2517.4 L1141.0,2516.9 L1143.0,2516.5 L1145.0,2516.1 L1147.0,2515.6 L1149.0,2515.1 L1151.0,2514.7 L1153.0,2514.2 L1155.0,2513.7 L1157.0,2513.2 L1159.0,2512.7 L1161.0,2512.2 L1163.0,2511.7 L1165.0,2511.2 L1167.0,2510.7 L1169.0,2510.1 L1171.0,2509.6 L1173.0,2509.1 L1175.0,2508.5 L1177.0,2508.0 L1179.0,2507.4 L1181.0,2506.9 L1183.0,2506.3 L1185.0,2505.7 L1187.0,2505.2 L1189.0,2504.6 L1191.0,2504.0 L1193.0,2503.4 L1195.0,2502.9 L1197.0,2502.3 L1199.0,2501.7 L1201.0,2501.1 L1203.0,2500.5 L1205.0,2499.9 L1207.0,2499.3 L1209.0,2498.7 L1211.0,2498.1 L1213.0,2497.5 L1215.0,2496.9 L1217.0,2496.3 L1219.0,2495.7 L1221.0,2495.1 L1223.0,2494.5 L1225.0,2493.9 L1227.0,2493.3 L1229.0,2492.7 L1231.0,2492.1 L1233.0,2491.5 L1235.0,2490.9 L1237.0,2490.3 L1239.0,2489.7 L1241.0,2489.1 L1243.0,2488.5 L1245.0,2487.9 L1247.0,2487.4 L1249.0,2486.8 L1251.0,2486.2 L1253.0,2485.7 L1255.0,2485.1 L1257.0,2484.5 L1259.0,2484.0 L1261.0,2483.4 L1263.0,2482.9 L1265.0,2482.4 L1267.0,2481.8 L1269.0,2481.3 L1271.0,2480.8 L1273.0,2480.3 L1275.0,2479.8 L1277.0,2479.3 L1279.0,2478.8 L1281.0,2478.4 L1283.0,2477.9 L1285.0,2477.4 L1287.0,2477.0 L1289.0,2476.6 L1291.0,2476.1 L1293.0,2475.7 L1295.0,2475.3 L1297.0,2474.9 L1299.0,2474.5 L1301.0,2474.2 L1303.0,2473.8 L1305.0,2473.5 L1307.0,2473.1 L1309.0,2472.8 L1311.0,2472.5 L1313.0,2472.2 L1315.0,2472.0 L1317.0,2471.7 L1319.0,2471.4 L1321.0,2471.2 L1323.0,2471.0 L1325.0,2470.8 L1327.0,2470.6 L1329.0,2470.4 L1331.0,2470.3 L1333.0,2470.1 L1335.0,2470.0 L1337.0,2469.9 L1339.0,2469.8 L1341.0,2469.7 L1343.0,2469.7 L1345.0,2469.6 L1347.0,2469.6 L1349.0,2469.6 L1351.0,2469.6 L1353.0,2469.7 L1355.0,2469.7 L1357.0,2469.8 L1359.0,2469.9 L1361.0,2470.0 L1363.0,2470.1 L1365.0,2470.2 L1367.0,2470.4 L1369.0,2470.6 L1371.0,2470.8 L1373.0,2471.0 L1375.0,2471.2 L1377.0,2471.5 L1379.0,2471.8 L1381.0,2472.1 L1383.0,2472.4 L1385.0,2472.7 L1387.0,2473.0 L1389.0,2473.4 L1391.0,2473.8 L1393.0,2474.2 L1395.0,2474.6 L1397.0,2475.0 L1399.0,2475.5 L1401.0,2475.9 L1403.0,2476.4 L1405.0,2476.9 L1407.0,2477.4 L1409.0,2478.0 L1411.0,2478.5 L1413.0,2479.1 L1415.0,2479.6 L1417.0,2480.2 L1419.0,2480.8 L1421.0,2481.4 L1423.0,2482.0 L1425.0,2482.6 L1427.0,2483.3 L1429.0,2483.9 L1431.0,2484.6 L1433.0,2485.3 L1435.0,2485.9 L1437.0,2486.6 L1439.0,2487.3 L1441.0,2488.0 L1443.0,2488.8 L1445.0,2489.5 L1447.0,2490.2 L1449.0,2490.9 L1451.0,2491.7 L1453.0,2492.4 L1455.0,2493.2 L1457.0,2494.0 L1459.0,2494.7 L1461.0,2495.5 L1463.0,2496.3 L1465.0,2497.0 L1467.0,2497.8 L1469.0,2498.6 L1471.0,2499.4 L1473.0,2500.2 L1475.0,2501.0 L1477.0,2501.8 L1479.0,2502.6 L1481.0,2503.4 L1483.0,2504.2 L1485.0,2505.0 L1487.0,2505.8 L1489.0,2506.6 L1491.0,2507.4 L1493.0,2508.2 L1495.0,2509.0 L1497.0,2509.8 L1499.0,2510.6 L1501.0,2511.4 L1503.0,2512.2 L1505.0,2512.9 L1507.0,2513.7 L1509.0,2514.5 L1511.0,2515.3 L1513.0,2516.1 L1515.0,2516.9 L1517.0,2517.7 L1519.0,2518.4 L1521.0,2519.2 L1523.0,2520.0 L1525.0,2520.7 L1527.0,2521.5 L1529.0,2522.3 L1531.0,2523.0 L1533.0,2523.8 L1535.0,2524.5 L1537.0,2525.3 L1539.0,2526.0 L1541.0,2526.7 L1543.0,2527.5 L1545.0,2528.2 L1547.0,2528.9 L1549.0,2529.6 L1551.0,2530.3 L1553.0,2531.0 L1555.0,2531.7 L1557.0,2532.4 L1559.0,2533.1 L1561.0,2533.8 L1563.0,2534.5 L1565.0,2535.2 L1567.0,2535.8 L1569.0,2536.5 L1571.0,2537.2 L1573.0,2537.8 L1575.0,2538.5 L1577.0,2539.1 L1579.0,2539.8 L1581.0,2540.4 L1583.0,2541.0 L1585.0,2541.7 L1587.0,2542.3 L1589.0,2542.9 L1591.0,2543.5 L1593.0,2544.1 L1595.0,2544.7 L1597.0,2545.3 L1599.0,2545.9 L1601.0,2546.5 L1603.0,2547.1 L1605.0,2547.7 L1607.0,2548.2 L1609.0,2548.8 L1611.0,2549.3 L1613.0,2549.9 L1615.0,2550.4 L1617.0,2551.0 L1619.0,2551.5 L1621.0,2552.0 L1623.0,2552.5 L1625.0,2553.0 L1627.0,2553.5 L1629.0,2554.0 L1631.0,2554.5 L1633.0,2554.9 L1635.0,2555.4 L1637.0,2555.9 L1639.0,2556.3 L1641.0,2556.8 L1643.0,2557.2 L1645.0,2557.6 L1647.0,2558.0 L1649.0,2558.4 L1651.0,2558.8 L1653.0,2559.2 L1655.0,2559.6 L1657.0,2560.0 L1659.0,2560.3 L1661.0,2560.7 L1663.0,2561.1 L1665.0,2561.4 L1667.0,2561.7 L1669.0,2562.1 L1671.0,2562.4 L1673.0,2562.7 L1675.0,2563.0 L1677.0,2563.3 L1679.0,2563.6 L1681.0,2563.9 L1683.0,2564.2 L1685.0,2564.5 L1687.0,2564.8 L1689.0,2565.0 L1691.0,2565.3 L1693.0,2565.5 L1695.0,2565.8 L1697.0,2566.0 L1699.0,2566.3 L1701.0,2566.5 L1703.0,2566.7 L1705.0,2567.0 L1707.0,2567.2 L1709.0,2567.4 L1711.0,2567.6 L1713.0,2567.8 L1715.0,2568.0 L1717.0,2568.2 L1719.0,2568.4 L1721.0,2568.6 L1723.0,2568.8 L1725.0,2569.0 L1727.0,2569.2 L1729.0,2569.3 L1731.0,2569.5 L1733.0,2569.7 L1735.0,2569.8 L1737.0,2570.0 L1739.0,2570.2 L1741.0,2570.3 L1743.0,2570.5 L1745.0,2570.6 L1747.0,2570.8 L1749.0,2570.9 L1751.0,2571.0 L1753.0,2571.2 L1755.0,2571.3 L1757.0,2571.4 L1759.0,2571.6 L1761.0,2571.7 L1763.0,2571.8 L1765.0,2571.9 L1767.0,2572.1 L1769.0,2572.2 L1771.0,2572.3 L1773.0,2572.4 L1775.0,2572.5 L1777.0,2572.6 L1779.0,2572.7 L1781.0,2572.8 L1783.0,2572.9 L1785.0,2573.0 L1787.0,2573.1 L1789.0,2573.2 L1791.0,2573.3 L1793.0,2573.4 L1795.0,2573.5 L1797.0,2573.6 L1799.0,2573.6 L1801.0,2573.7 L1803.0,2573.8 L1805.0,2573.9 L1807.0,2574.0 L1809.0,2574.0 L1811.0,2574.1 L1813.0,2574.2 L1815.0,2574.3 L1817.0,2574.3 L1819.0,2574.4 L1821.0,2574.5 L1823.0,2574.5 L1825.0,2574.6 L1827.0,2574.7 L1829.0,2574.7 L1831.0,2574.8 L1833.0,2574.9 L1835.0,2574.9 L1837.0,2575.0 L1839.0,2575.0 L1841.0,2575.1 L1843.0,2575.2 L1845.0,2575.2 L1847.0,2575.3" stroke="#0072bd" stroke-width="2" stroke-dasharray="24 8.5 6.5 8.5"/>
<path d="M127.0,2517.4 L129.0,2517.4 L131.0,2517.5 L133.0,2517.5 L135.0,2517.5 L137.0,2517.5 L139.0,2517.5 L141.0,2517.5 L143.0,2517.5 L145.0,2517.5 L147.0,2517.5 L149.0,2517.5 L151.0,2517.5 L153.0,2517.5 L155.0,2517.5 L157.0,2517.6 L159.0,2517.6 L161.0,2517.6 L163.0,2517.6 L165.0,2517.6 L167.0,2517.6 L169.0,2517.6 L171.0,2517.6 L173.0,2517.6 L175.0,2517.6 L177.0,2517.6 L179.0,2517.6 L181.0,2517.7 L183.0,2517.7 L185.0,2517.7 L187.0,2517.7 L189.0,2517.7 L191.0,2517.7 L193.0,2517.7 L195.0,2517.7 L197.0,2517.7 L199.0,2517.7 L201.0,2517.7 L203.0,2517.8 L205.0,2517.8 L207.0,2517.8 L209.0,2517.8 L211.0,2517.8 L213.0,2517.8 L215.0,2517.8 L217.0,2517.8 L219.0,2517.8 L221.0,2517.9 L223.0,2517.9 L225.0,2517.9 L227.0,2517.9 L229.0,2517.9 L231.0,2517.9 L233.0,2517.9 L235.0,2517.9 L237.0,2517.9 L239.0,2518.0 L241.0,2518.0 L243.0,2518.0 L245.0,2518.0 L247.0,2518.0 L249.0,2518.0 L251.0,2518.0 L253.0,2518.0 L255.0,2518.1 L257.0,2518.1 L259.0,2518.1 L261.0,2518.1 L263.0,2518.1 L265.0,2518.1 L267.0,2518.1 L269.0,2518.2 L271.0,2518.2 L273.0,2518.2 L275.0,2518.2 L277.0,2518.2 L279.0,2518.2 L281.0,2518.3 L283.0,2518.3 L285.0,2518.3 L287.0,2518.3 L289.0,2518.3 L291.0,2518.3 L293.0,2518.3 L295.0,2518.4 L297.0,2518.4 L299.0,2518.4 L301.0,2518.4 L303.0,2518.4 L305.0,2518.4 L307.0,2518.5 L309.0,2518.5 L311.0,2518.5 L313.0,2518.5 L315.0,2518.5 L317.0,2518.6 L319.0,2518.6 L321.0,2518.6 L323.0,2518.6 L325.0,2518.6 L327.0,2518.7 L329.0,2518.7 L331.0,2518.7 L333.0,2518.7 L335.0,2518.7 L337.0,2518.8 L339.0,2518.8 L341.0,2518.8 L343.0,2518.8 L345.0,2518.8 L347.0,2518.9 L349.0,2518.9 L351.0,2518.9 L353.0,2518.9 L355.0,2518.9 L357.0,2519.0 L359.0,2519.0 L361.0,2519.0 L363.0,2519.0 L365.0,2519.1 L367.0,2519.1 L369.0,2519.1 L371.0,2519.1 L373.0,2519.2 L375.0,2519.2 L377.0,2519.2 L379.0,2519.2 L381.0,2519.3 L383.0,2519.3 L385.0,2519.3 L387.0,2519.3 L389.0,2519.4 L391.0,2519.4 L393.0,2519.4 L395.0,2519.4 L397.0,2519.5 L399.0,2519.5 L401.0,2519.5 L403.0,2519.6 L405.0,2519.6 L407.0,2519.6 L409.0,2519.6 L411.0,2519.7 L413.0,2519.7 L415.0,2519.7 L417.0,2519.8 L419.0,2519.8 L421.0,2519.8 L423.0,2519.8 L425.0,2519.9 L427.0,2519.9 L429.0,2519.9 L431.0,2520.0 L433.0,2520.0 L435.0,2520.0 L437.0,2520.1 L439.0,2520.1 L441.0,2520.1 L443.0,2520.2 L445.0,2520.2 L447.0,2520.2 L449.0,2520.3 L451.0,2520.3 L453.0,2520.3 L455.0,2520.4 L457.0,2520.4 L459.0,2520.4 L461.0,2520.5 L463.0,2520.5 L465.0,2520.5 L467.0,2520.6 L469.0,2520.6 L471.0,2520.6 L473.0,2520.7 L475.0,2520.7 L477.0,2520.7 L479.0,2520.8 L481.0,2520.8 L483.0,2520.8 L485.0,2520.9 L487.0,2520.9 L489.0,2521.0 L491.0,2521.0 L493.0,2521.0 L495.0,2521.1 L497.0,2521.1 L499.0,2521.2 L501.0,2521.2 L503.0,2521.2 L505.0,2521.3 L507.0,2521.3 L509.0,2521.4 L511.0,2521.4 L513.0,2521.4 L515.0,2521.5 L517.0,2521.5 L519.0,2521.6 L521.0,2521.6 L523.0,2521.6 L525.0,2521.7 L527.0,2521.7 L529.0,2521.8 L531.0,2521.8 L533.0,2521.8 L535.0,2521.9 L537.0,2521.9 L539.0,2522.0 L541.0,2522.0 L543.0,2522.1 L545.0,2522.1 L547.0,2522.2 L549.0,2522.2 L551.0,2522.2 L553.0,2522.3 L555.0,2522.3 L557.0,2522.4 L559.0,2522.4 L561.0,2522.5 L563.0,2522.5 L565.0,2522.6 L567.0,2522.6 L569.0,2522.6 L571.0,2522.7 L573.0,2522.7 L575.0,2522.8 L577.0,2522.8 L579.0,2522.9 L581.0,2522.9 L583.0,2523.0 L585.0,2523.0 L587.0,2523.1 L589.0,2523.1 L591.0,2523.2 L593.0,2523.2 L595.0,2523.3 L597.0,2523.3 L599.0,2523.4 L601.0,2523.4 L603.0,2523.5 L605.0,2523.5 L607.0,2523.6 L609.0,2523.6 L611.0,2523.7 L613.0,2523.7 L615.0,2523.8 L617.0,2523.8 L619.0,2523.9 L621.0,2523.9 L623.0,2524.0 L625.0,2524.0 L627.0,2524.1 L629.0,2524.1 L631.0,2524.2 L633.0,2524.2 L635.0,2524.3 L637.0,2524.3 L639.0,2524.4 L641.0,2524.4 L643.0,2524.5 L645.0,2524.5 L647.0,2524.6 L649.0,2524.6 L651.0,2524.7 L653.0,2524.7 L655.0,2524.8 L657.0,2524.8 L659.0,2524.9 L661.0,2524.9 L663.0,2525.0 L665.0,2525.0 L667.0,2525.1 L669.0,2525.1 L671.0,2525.2 L673.0,2525.2 L675.0,2525.3 L677.0,2525.3 L679.0,2525.4 L681.0,2525.5 L683.0,2525.5 L685.0,2525.6 L687.0,2525.6 L689.0,2525.7 L691.0,2525.7 L693.0,2525.8 L695.0,2525.8 L697.0,2525.9 L699.0,2525.9 L701.0,2526.0 L703.0,2526.0 L705.0,2526.1 L707.0,2526.1 L709.0,2526.2 L711.0,2526.3 L713.0,2526.3 L715.0,2526.4 L717.0,2526.4 L719.0,2526.5 L721.0,2526.5 L723.0,2526.6 L725.0,2526.6 L727.0,2526.7 L729.0,2526.7 L731.0,2526.8 L733.0,2526.9 L735.0,2526.9 L737.0,2527.0 L739.0,2527.0 L741.0,2527.1 L743.0,2527.1 L745.0,2527.2 L747.0,2527.3 L749.0,2527.3 L751.0,2527.4 L753.0,2527.4 L755.0,2527.5 L757.0,2527.5 L759.0,2527.6 L761.0,2527.7 L763.0,2527.7 L765.0,2527.8 L767.0,2527.8 L769.0,2527.9 L771.0,2528.0 L773.0,2528.0 L775.0,2528.1 L777.0,2528.1 L779.0,2528.2 L781.0,2528.3 L783.0,2528.3 L785.0,2528.4 L787.0,2528.4 L789.0,2528.5 L791.0,2528.6 L793.0,2528.6 L795.0,2528.7 L797.0,2528.8 L799.0,2528.8 L801.0,2528.9 L803.0,2529.0 L805.0,2529.1 L807.0,2529.1 L809.0,2529.2 L811.0,2529.3 L813.0,2529.3 L815.0,2529.4 L817.0,2529.5 L819.0,2529.6 L821.0,2529.6 L823.0,2529.7 L825.0,2529.8 L827.0,2529.9 L829.0,2530.0 L831.0,2530.1 L833.0,2530.1 L835.0,2530.2 L837.0,2530.3 L839.0,2530.4 L841.0,2530.5 L843.0,2530.6 L845.0,2530.7 L847.0,2530.8 L849.0,2530.9 L851.0,2531.0 L853.0,2531.1 L855.0,2531.2 L857.0,2531.3 L859.0,2531.4 L861.0,2531.5 L863.0,2531.6 L865.0,2531.7 L867.0,2531.8 L869.0,2532.0 L871.0,2532.1 L873.0,2532.2 L875.0,2532.3 L877.0,2532.5 L879.0,2532.6 L881.0,2532.7 L883.0,2532.9 L885.0,2533.0 L887.0,2533.1 L889.0,2533.3 L891.0,2533.4 L893.0,2533.6 L895.0,2533.7 L897.0,2533.9 L899.0,2534.0 L901.0,2534.2 L903.0,2534.3 L905.0,2534.5 L907.0,2534.6 L909.0,2534.8 L911.0,2535.0 L913.0,2535.1 L915.0,2535.3 L917.0,2535.5 L919.0,2535.6 L921.0,2535.8 L923.0,2536.0 L925.0,2536.2 L927.0,2536.4 L929.0,2536.5 L931.0,2536.7 L933.0,2536.9 L935.0,2537.1 L937.0,2537.3 L939.0,2537.5 L941.0,2537.7 L943.0,2537.9 L945.0,2538.0 L947.0,2538.2 L949.0,2538.4 L951.0,2538.6 L953.0,2538.8 L955.0,2539.0 L957.0,2539.2 L959.0,2539.4 L961.0,2539.6 L963.0,2539.8 L965.0,2540.0 L967.0,2540.2 L969.0,2540.4 L971.0,2540.6 L973.0,2540.8 L975.0,2541.0 L977.0,2541.2 L979.0,2541.4 L981.0,2541.6 L983.0,2541.8 L985.0,2542.0 L987.0,2542.1 L989.0,2542.3 L991.0,2542.5 L993.0,2542.7 L995.0,2542.9 L997.0,2543.1 L999.0,2543.3 L1001.0,2543.5 L1003.0,2543.7 L1005.0,2543.9 L1007.0,2544.1 L1009.0,2544.3 L1011.0,2544.5 L1013.0,2544.7 L1015.0,2544.9 L1017.0,2545.1 L1019.0,2545.3 L1021.0,2545.5 L1023.0,2545.7 L1025.0,2545.9 L1027.0,2546.1 L1029.0,2546.3 L1031.0,2546.5 L1033.0,2546.7 L1035.0,2546.9 L1037.0,2547.1 L1039.0,2547.4 L1041.0,2547.6 L1043.0,2547.8 L1045.0,2548.0 L1047.0,2548.2 L1049.0,2548.4 L1051.0,2548.6 L1053.0,2548.8 L1055.0,2549.0 L1057.0,2549.2 L1059.0,2549.4 L1061.0,2549.6 L1063.0,2549.8 L1065.0,2550.0 L1067.0,2550.2 L1069.0,2550.5 L1071.0,2550.7 L1073.0,2550.9 L1075.0,2551.1 L1077.0,2551.3 L1079.0,2551.5 L1081.0,2551.6 L1083.0,2551.8 L1085.0,2552.0 L1087.0,2552.2 L1089.0,2552.4 L1091.0,2552.6 L1093.0,2552.8 L1095.0,2553.0 L1097.0,2553.1 L1099.0,2553.3 L1101.0,2553.5 L1103.0,2553.7 L1105.0,2553.8 L1107.0,2554.0 L1109.0,2554.2 L1111.0,2554.3 L1113.0,2554.5 L1115.0,2554.6 L1117.0,2554.8 L1119.0,2554.9 L1121.0,2555.1 L1123.0,2555.2 L1125.0,2555.3 L1127.0,2555.5 L1129.0,2555.6 L1131.0,2555.7 L1133.0,2555.8 L1135.0,2555.9 L1137.0,2556.1 L1139.0,2556.2 L1141.0,2556.3 L1143.0,2556.4 L1145.0,2556.5 L1147.0,2556.6 L1149.0,2556.7 L1151.0,2556.8 L1153.0,2556.9 L1155.0,2556.9 L1157.0,2557.0 L1159.0,2557.1 L1161.0,2557.2 L1163.0,2557.2 L1165.0,2557.3 L1167.0,2557.4 L1169.0,2557.4 L1171.0,2557.5 L1173.0,2557.6 L1175.0,2557.6 L1177.0,2557.7 L1179.0,2557.7 L1181.0,2557.8 L1183.0,2557.8 L1185.0,2557.9 L1187.0,2557.9 L1189.0,2557.9 L1191.0,2558.0 L1193.0,2558.0 L1195.0,2558.0 L1197.0,2558.1 L1199.0,2558.1 L1201.0,2558.1 L1203.0,2558.1 L1205.0,2558.2 L1207.0,2558.2 L1209.0,2558.2 L1211.0,2558.2 L1213.0,2558.2 L1215.0,2558.2 L1217.0,2558.2 L1219.0,2558.2 L1221.0,2558.2 L1223.0,2558.2 L1225.0,2558.2 L1227.0,2558.2 L1229.0,2558.2 L1231.0,2558.2 L1233.0,2558.2 L1235.0,2558.2 L1237.0,2558.2 L1239.0,2558.1 L1241.0,2558.1 L1243.0,2558.1 L1245.0,2558.1 L1247.0,2558.0 L1249.0,2558.0 L1251.0,2558.0 L1253.0,2557.9 L1255.0,2557.9 L1257.0,2557.9 L1259.0,2557.8 L1261.0,2557.8 L1263.0,2557.7 L1265.0,2557.7 L1267.0,2557.6 L1269.0,2557.5 L1271.0,2557.5 L1273.0,2557.4 L1275.0,2557.3 L1277.0,2557.3 L1279.0,2557.2 L1281.0,2557.1 L1283.0,2557.0 L1285.0,2556.9 L1287.0,2556.8 L1289.0,2556.7 L1291.0,2556.6 L1293.0,2556.5 L1295.0,2556.4 L1297.0,2556.2 L1299.0,2556.1 L1301.0,2556.0 L1303.0,2555.8 L1305.0,2555.7 L1307.0,2555.5 L1309.0,2555.3 L1311.0,2555.1 L1313.0,2555.0 L1315.0,2554.8 L1317.0,2554.6 L1319.0,2554.3 L1321.0,2554.1 L1323.0,2553.9 L1325.0,2553.6 L1327.0,2553.3 L1329.0,2553.1 L1331.0,2552.8 L1333.0,2552.5 L1335.0,2552.1 L1337.0,2551.8 L1339.0,2551.5 L1341.0,2551.1 L1343.0,2550.7 L1345.0,2550.3 L1347.0,2549.9 L1349.0,2549.5 L1351.0,2549.0 L1353.0,2548.5 L1355.0,2548.0 L1357.0,2547.5 L1359.0,2547.0 L1361.0,2546.4 L1363.0,2545.8 L1365.0,2545.2 L1367.0,2544.6 L1369.0,2543.9 L1371.0,2543.2 L1373.0,2542.5 L1375.0,2541.8 L1377.0,2541.0 L1379.0,2540.2 L1381.0,2539.4 L1383.0,2538.6 L1385.0,2537.7 L1387.0,2536.8 L1389.0,2535.8 L1391.0,2534.9 L1393.0,2533.9 L1395.0,2532.8 L1397.0,2531.8 L1399.0,2530.7 L1401.0,2529.6 L1403.0,2528.4 L1405.0,2527.2 L1407.0,2526.0 L1409.0,2524.8 L1411.0,2523.5 L1413.0,2522.2 L1415.0,2520.9 L1417.0,2519.5 L1419.0,2518.1 L1421.0,2516.7 L1423.0,2515.3 L1425.0,2513.8 L1427.0,2512.4 L1429.0,2510.9 L1431.0,2509.3 L1433.0,2507.8 L1435.0,2506.3 L1437.0,2504.7 L1439.0,2503.1 L1441.0,2501.5 L1443.0,2499.9 L1445.0,2498.4 L1447.0,2496.8 L1449.0,2495.2 L1451.0,2493.6 L1453.0,2492.1 L1455.0,2490.6 L1457.0,2489.1 L1459.0,2487.6 L1461.0,2486.2 L1463.0,2484.8 L1465.0,2483.4 L1467.0,2482.1 L1469.0,2480.9 L1471.0,2479.7 L1473.0,2478.6 L1475.0,2477.6 L1477.0,2476.6 L1479.0,2475.8 L1481.0,2475.0 L1483.0,2474.4 L1485.0,2473.8 L1487.0,2473.4 L1489.0,2473.0 L1491.0,2472.8 L1493.0,2472.6 L1495.0,2472.6 L1497.0,2472.7 L1499.0,2472.9 L1501.0,2473.3 L1503.0,2473.7 L1505.0,2474.3 L1507.0,2474.9 L1509.0,2475.7 L1511.0,2476.5 L1513.0,2477.5 L1515.0,2478.5 L1517.0,2479.6 L1519.0,2480.8 L1521.0,2482.1 L1523.0,2483.4 L1525.0,2484.8 L1527.0,2486.3 L1529.0,2487.7 L1531.0,2489.3 L1533.0,2490.9 L1535.0,2492.5 L1537.0,2494.1 L1539.0,2495.8 L1541.0,2497.4 L1543.0,2499.1 L1545.0,2500.8 L1547.0,2502.5 L1549.0,2504.2 L1551.0,2505.9 L1553.0,2507.6 L1555.0,2509.3 L1557.0,2511.0 L1559.0,2512.7 L1561.0,2514.3 L1563.0,2516.0 L1565.0,2517.6 L1567.0,2519.2 L1569.0,2520.8 L1571.0,2522.4 L1573.0,2523.9 L1575.0,2525.4 L1577.0,2526.9 L1579.0,2528.3 L1581.0,2529.8 L1583.0,2531.2 L1585.0,2532.6 L1587.0,2533.9 L1589.0,2535.2 L1591.0,2536.5 L1593.0,2537.8 L1595.0,2539.0 L1597.0,2540.2 L1599.0,2541.4 L1601.0,2542.6 L1603.0,2543.7 L1605.0,2544.8 L1607.0,2545.8 L1609.0,2546.9 L1611.0,2547.9 L1613.0,2548.8 L1615.0,2549.8 L1617.0,2550.7 L1619.0,2551.6 L1621.0,2552.5 L1623.0,2553.3 L1625.0,2554.1 L1627.0,2554.9 L1629.0,2555.7 L1631.0,2556.4 L1633.0,2557.1 L1635.0,2557.8 L1637.0,2558.5 L1639.0,2559.1 L1641.0,2559.7 L1643.0,2560.3 L1645.0,2560.9 L1647.0,2561.4 L1649.0,2562.0 L1651.0,2562.5 L1653.0,2563.0 L1655.0,2563.4 L1657.0,2563.9 L1659.0,2564.3 L1661.0,2564.8 L1663.0,2565.2 L1665.0,2565.6 L1667.0,2565.9 L1669.0,2566.3 L1671.0,2566.6 L1673.0,2567.0 L1675.0,2567.3 L1677.0,2567.6 L1679.0,2567.9 L1681.0,2568.2 L1683.0,2568.5 L1685.0,2568.7 L1687.0,2569.0 L1689.0,2569.2 L1691.0,2569.5 L1693.0,2569.7 L1695.0,2569.9 L1697.0,2570.1 L1699.0,2570.4 L1701.0,2570.6 L1703.0,2570.7 L1705.0,2570.9 L1707.0,2571.1 L1709.0,2571.3 L1711.0,2571.5 L1713.0,2571.6 L1715.0,2571.8 L1717.0,2571.9 L1719.0,2572.1 L1721.0,2572.2 L1723.0,2572.4 L1725.0,2572.5 L1727.0,2572.6 L1729.0,2572.8 L1731.0,2572.9 L1733.0,2573.0 L1735.0,2573.1 L1737.0,2573.3 L1739.0,2573.4 L1741.0,2573.5 L1743.0,2573.6 L1745.0,2573.7 L1747.0,2573.8 L1749.0,2573.9 L1751.0,2574.0 L1753.0,2574.1 L1755.0,2574.2 L1757.0,2574.3 L1759.0,2574.4 L1761.0,2574.5 L1763.0,2574.6 L1765.0,2574.6 L1767.0,2574.7 L1769.0,2574.8 L1771.0,2574.9 L1773.0,2575.0 L1775.0,2575.0 L1777.0,2575.1 L1779.0,2575.2 L1781.0,2575.3 L1783.0,2575.3 L1785.0,2575.4 L1787.0,2575.5 L1789.0,2575.5 L1791.0,2575.6 L1793.0,2575.7 L1795.0,2575.7 L1797.0,2575.8 L1799.0,2575.8 L1801.0,2575.9 L1803.0,2576.0 L1805.0,2576.0 L1807.0,2576.1 L1809.0,2576.1 L1811.0,2576.2 L1813.0,2576.2 L1815.0,2576.3 L1817.0,2576.4 L1819.0,2576.4 L1821.0,2576.5 L1823.0,2576.5 L1825.0,2576.6 L1827.0,2576.6 L1829.0,2576.6 L1831.0,2576.7 L1833.0,2576.7 L1835.0,2576.8 L1837.0,2576.8 L1839.0,2576.9 L1841.0,2576.9 L1843.0,2577.0 L1845.0,2577.0 L1847.0,2577.0" stroke="#0072bd" stroke-width="2" stroke-dasharray="24 8.5 6.5 8.5"/>
<path d="M127.0,2517.4 L129.0,2517.4 L131.0,2517.4 L133.0,2517.4 L135.0,2517.4 L137.0,2517.4 L139.0,2517.4 L141.0,2517.4 L143.0,2517.4 L145.0,2517.4 L147.0,2517.4 L149.0,2517.4 L151.0,2517.5 L153.0,2517.5 L155.0,2517.5 L157.0,2517.5 L159.0,2517.5 L161.0,2517.5 L163.0,2517.5 L165.0,2517.5 L167.0,2517.5 L169.0,2517.5 L171.0,2517.5 L173.0,2517.5 L175.0,2517.5 L177.0,2517.6 L179.0,2517.6 L181.0,2517.6 L183.0,2517.6 L185.0,2517.6 L187.0,2517.6 L189.0,2517.6 L191.0,2517.6 L193.0,2517.6 L195.0,2517.6 L197.0,2517.6 L199.0,2517.7 L201.0,2517.7 L203.0,2517.7 L205.0,2517.7 L207.0,2517.7 L209.0,2517.7 L211.0,2517.7 L213.0,2517.7 L215.0,2517.7 L217.0,2517.7 L219.0,2517.8 L221.0,2517.8 L223.0,2517.8 L225.0,2517.8 L227.0,2517.8 L229.0,2517.8 L231.0,2517.8 L233.0,2517.8 L235.0,2517.9 L237.0,2517.9 L239.0,2517.9 L241.0,2517.9 L243.0,2517.9 L245.0,2517.9 L247.0,2517.9 L249.0,2517.9 L251.0,2518.0 L253.0,2518.0 L255.0,2518.0 L257.0,2518.0 L259.0,2518.0 L261.0,2518.0 L263.0,2518.0 L265.0,2518.0 L267.0,2518.1 L269.0,2518.1 L271.0,2518.1 L273.0,2518.1 L275.0,2518.1 L277.0,2518.1 L279.0,2518.1 L281.0,2518.2 L283.0,2518.2 L285.0,2518.2 L287.0,2518.2 L289.0,2518.2 L291.0,2518.2 L293.0,2518.3 L295.0,2518.3 L297.0,2518.3 L299.0,2518.3 L301.0,2518.3 L303.0,2518.3 L305.0,2518.4 L307.0,2518.4 L309.0,2518.4 L311.0,2518.4 L313.0,2518.4 L315.0,2518.5 L317.0,2518.5 L319.0,2518.5 L321.0,2518.5 L323.0,2518.5 L325.0,2518.5 L327.0,2518.6 L329.0,2518.6 L331.0,2518.6 L333.0,2518.6 L335.0,2518.6 L337.0,2518.7 L339.0,2518.7 L341.0,2518.7 L343.0,2518.7 L345.0,2518.7 L347.0,2518.8 L349.0,2518.8 L351.0,2518.8 L353.0,2518.8 L355.0,2518.9 L357.0,2518.9 L359.0,2518.9 L361.0,2518.9 L363.0,2518.9 L365.0,2519.0 L367.0,2519.0 L369.0,2519.0 L371.0,2519.0 L373.0,2519.1 L375.0,2519.1 L377.0,2519.1 L379.0,2519.1 L381.0,2519.2 L383.0,2519.2 L385.0,2519.2 L387.0,2519.2 L389.0,2519.3 L391.0,2519.3 L393.0,2519.3 L395.0,2519.3 L397.0,2519.4 L399.0,2519.4 L401.0,2519.4 L403.0,2519.5 L405.0,2519.5 L407.0,2519.5 L409.0,2519.5 L411.0,2519.6 L413.0,2519.6 L415.0,2519.6 L417.0,2519.7 L419.0,2519.7 L421.0,2519.7 L423.0,2519.7 L425.0,2519.8 L427.0,2519.8 L429.0,2519.8 L431.0,2519.9 L433.0,2519.9 L435.0,2519.9 L437.0,2520.0 L439.0,2520.0 L441.0,2520.0 L443.0,2520.1 L445.0,2520.1 L447.0,2520.1 L449.0,2520.1 L451.0,2520.2 L453.0,2520.2 L455.0,2520.2 L457.0,2520.3 L459.0,2520.3 L461.0,2520.4 L463.0,2520.4 L465.0,2520.4 L467.0,2520.5 L469.0,2520.5 L471.0,2520.5 L473.0,2520.6 L475.0,2520.6 L477.0,2520.6 L479.0,2520.7 L481.0,2520.7 L483.0,2520.7 L485.0,2520.8 L487.0,2520.8 L489.0,2520.9 L491.0,2520.9 L493.0,2520.9 L495.0,2521.0 L497.0,2521.0 L499.0,2521.0 L501.0,2521.1 L503.0,2521.1 L505.0,2521.2 L507.0,2521.2 L509.0,2521.2 L511.0,2521.3 L513.0,2521.3 L515.0,2521.4 L517.0,2521.4 L519.0,2521.4 L521.0,2521.5 L523.0,2521.5 L525.0,2521.6 L527.0,2521.6 L529.0,2521.7 L531.0,2521.7 L533.0,2521.7 L535.0,2521.8 L537.0,2521.8 L539.0,2521.9 L541.0,2521.9 L543.0,2521.9 L545.0,2522.0 L547.0,2522.0 L549.0,2522.1 L551.0,2522.1 L553.0,2522.2 L555.0,2522.2 L557.0,2522.3 L559.0,2522.3 L561.0,2522.3 L563.0,2522.4 L565.0,2522.4 L567.0,2522.5 L569.0,2522.5 L571.0,2522.6 L573.0,2522.6 L575.0,2522.7 L577.0,2522.7 L579.0,2522.8 L581.0,2522.8 L583.0,2522.9 L585.0,2522.9 L587.0,2522.9 L589.0,2523.0 L591.0,2523.0 L593.0,2523.1 L595.0,2523.1 L597.0,2523.2 L599.0,2523.2 L601.0,2523.3 L603.0,2523.3 L605.0,2523.4 L607.0,2523.4 L609.0,2523.5 L611.0,2523.5 L613.0,2523.6 L615.0,2523.6 L617.0,2523.7 L619.0,2523.7 L621.0,2523.8 L623.0,2523.8 L625.0,2523.9 L627.0,2523.9 L629.0,2524.0 L631.0,2524.0 L633.0,2524.1 L635.0,2524.1 L637.0,2524.2 L639.0,2524.2 L641.0,2524.3 L643.0,2524.3 L645.0,2524.4 L647.0,2524.4 L649.0,2524.5 L651.0,2524.5 L653.0,2524.6 L655.0,2524.6 L657.0,2524.7 L659.0,2524.7 L661.0,2524.8 L663.0,2524.8 L665.0,2524.9 L667.0,2525.0 L669.0,2525.0 L671.0,2525.1 L673.0,2525.1 L675.0,2525.2 L677.0,2525.2 L679.0,2525.3 L681.0,2525.3 L683.0,2525.4 L685.0,2525.4 L687.0,2525.5 L689.0,2525.5 L691.0,2525.6 L693.0,2525.6 L695.0,2525.7 L697.0,2525.7 L699.0,2525.8 L701.0,2525.9 L703.0,2525.9 L705.0,2526.0 L707.0,2526.0 L709.0,2526.1 L711.0,2526.1 L713.0,2526.2 L715.0,2526.2 L717.0,2526.3 L719.0,2526.3 L721.0,2526.4 L723.0,2526.4 L725.0,2526.5 L727.0,2526.6 L729.0,2526.6 L731.0,2526.7 L733.0,2526.7 L735.0,2526.8 L737.0,2526.8 L739.0,2526.9 L741.0,2526.9 L743.0,2527.0 L745.0,2527.1 L747.0,2527.1 L749.0,2527.2 L751.0,2527.2 L753.0,2527.3 L755.0,2527.3 L757.0,2527.4 L759.0,2527.5 L761.0,2527.5 L763.0,2527.6 L765.0,2527.6 L767.0,2527.7 L769.0,2527.8 L771.0,2527.8 L773.0,2527.9 L775.0,2527.9 L777.0,2528.0 L779.0,2528.1 L781.0,2528.1 L783.0,2528.2 L785.0,2528.2 L787.0,2528.3 L789.0,2528.4 L791.0,2528.4 L793.0,2528.5 L795.0,2528.6 L797.0,2528.6 L799.0,2528.7 L801.0,2528.8 L803.0,2528.8 L805.0,2528.9 L807.0,2529.0 L809.0,2529.1 L811.0,2529.1 L813.0,2529.2 L815.0,2529.3 L817.0,2529.4 L819.0,2529.4 L821.0,2529.5 L823.0,2529.6 L825.0,2529.7 L827.0,2529.7 L829.0,2529.8 L831.0,2529.9 L833.0,2530.0 L835.0,2530.1 L837.0,2530.2 L839.0,2530.3 L841.0,2530.4 L843.0,2530.5 L845.0,2530.5 L847.0,2530.6 L849.0,2530.7 L851.0,2530.8 L853.0,2530.9 L855.0,2531.0 L857.0,2531.2 L859.0,2531.3 L861.0,2531.4 L863.0,2531.5 L865.0,2531.6 L867.0,2531.7 L869.0,2531.8 L871.0,2531.9 L873.0,2532.1 L875.0,2532.2 L877.0,2532.3 L879.0,2532.5 L881.0,2532.6 L883.0,2532.7 L885.0,2532.9 L887.0,2533.0 L889.0,2533.1 L891.0,2533.3 L893.0,2533.4 L895.0,2533.6 L897.0,2533.7 L899.0,2533.9 L901.0,2534.0 L903.0,2534.2 L905.0,2534.3 L907.0,2534.5 L909.0,2534.7 L911.0,2534.8 L913.0,2535.0 L915.0,2535.2 L917.0,2535.3 L919.0,2535.5 L921.0,2535.7 L923.0,2535.9 L925.0,2536.1 L927.0,2536.2 L929.0,2536.4 L931.0,2536.6 L933.0,2536.8 L935.0,2537.0 L937.0,2537.2 L939.0,2537.3 L941.0,2537.5 L943.0,2537.7 L945.0,2537.9 L947.0,2538.1 L949.0,2538.3 L951.0,2538.5 L953.0,2538.7 L955.0,2538.9 L957.0,2539.1 L959.0,2539.3 L961.0,2539.5 L963.0,2539.7 L965.0,2539.9 L967.0,2540.1 L969.0,2540.3 L971.0,2540.5 L973.0,2540.7 L975.0,2540.9 L977.0,2541.1 L979.0,2541.3 L981.0,2541.5 L983.0,2541.7 L985.0,2541.8 L987.0,2542.0 L989.0,2542.2 L991.0,2542.4 L993.0,2542.6 L995.0,2542.8 L997.0,2543.0 L999.0,2543.2 L1001.0,2543.4 L1003.0,2543.6 L1005.0,2543.8 L1007.0,2544.0 L1009.0,2544.2 L1011.0,2544.4 L1013.0,2544.6 L1015.0,2544.8 L1017.0,2545.0 L1019.0,2545.2 L1021.0,2545.4 L1023.0,2545.6 L1025.0,2545.9 L1027.0,2546.1 L1029.0,2546.3 L1031.0,2546.5 L1033.0,2546.7 L1035.0,2546.9 L1037.0,2547.1 L1039.0,2547.3 L1041.0,2547.5 L1043.0,2547.7 L1045.0,2547.9 L1047.0,2548.1 L1049.0,2548.3 L1051.0,2548.6 L1053.0,2548.8 L1055.0,2549.0 L1057.0,2549.2 L1059.0,2549.4 L1061.0,2549.6 L1063.0,2549.8 L1065.0,2550.0 L1067.0,2550.2 L1069.0,2550.4 L1071.0,2550.6 L1073.0,2550.9 L1075.0,2551.1 L1077.0,2551.3 L1079.0,2551.5 L1081.0,2551.7 L1083.0,2551.9 L1085.0,2552.1 L1087.0,2552.3 L1089.0,2552.4 L1091.0,2552.6 L1093.0,2552.8 L1095.0,2553.0 L1097.0,2553.2 L1099.0,2553.4 L1101.0,2553.6 L1103.0,2553.7 L1105.0,2553.9 L1107.0,2554.1 L1109.0,2554.2 L1111.0,2554.4 L1113.0,2554.6 L1115.0,2554.7 L1117.0,2554.9 L1119.0,2555.0 L1121.0,2555.2 L1123.0,2555.3 L1125.0,2555.5 L1127.0,2555.6 L1129.0,2555.7 L1131.0,2555.9 L1133.0,2556.0 L1135.0,2556.1 L1137.0,2556.2 L1139.0,2556.4 L1141.0,2556.5 L1143.0,2556.6 L1145.0,2556.7 L1147.0,2556.8 L1149.0,2556.9 L1151.0,2557.0 L1153.0,2557.1 L1155.0,2557.2 L1157.0,2557.3 L1159.0,2557.4 L1161.0,2557.5 L1163.0,2557.6 L1165.0,2557.6 L1167.0,2557.7 L1169.0,2557.8 L1171.0,2557.9 L1173.0,2557.9 L1175.0,2558.0 L1177.0,2558.1 L1179.0,2558.1 L1181.0,2558.2 L1183.0,2558.3 L1185.0,2558.3 L1187.0,2558.4 L1189.0,2558.4 L1191.0,2558.5 L1193.0,2558.5 L1195.0,2558.6 L1197.0,2558.6 L1199.0,2558.7 L1201.0,2558.7 L1203.0,2558.8 L1205.0,2558.8 L1207.0,2558.8 L1209.0,2558.9 L1211.0,2558.9 L1213.0,2558.9 L1215.0,2559.0 L1217.0,2559.0 L1219.0,2559.0 L1221.0,2559.0 L1223.0,2559.1 L1225.0,2559.1 L1227.0,2559.1 L1229.0,2559.1 L1231.0,2559.2 L1233.0,2559.2 L1235.0,2559.2 L1237.0,2559.2 L1239.0,2559.2 L1241.0,2559.2 L1243.0,2559.3 L1245.0,2559.3 L1247.0,2559.3 L1249.0,2559.3 L1251.0,2559.3 L1253.0,2559.3 L1255.0,2559.3 L1257.0,2559.3 L1259.0,2559.3 L1261.0,2559.3 L1263.0,2559.3 L1265.0,2559.3 L1267.0,2559.3 L1269.0,2559.3 L1271.0,2559.3 L1273.0,2559.3 L1275.0,2559.3 L1277.0,2559.3 L1279.0,2559.3 L1281.0,2559.3 L1283.0,2559.3 L1285.0,2559.2 L1287.0,2559.2 L1289.0,2559.2 L1291.0,2559.2 L1293.0,2559.2 L1295.0,2559.2 L1297.0,2559.2 L1299.0,2559.1 L1301.0,2559.1 L1303.0,2559.1 L1305.0,2559.1 L1307.0,2559.0 L1309.0,2559.0 L1311.0,2559.0 L1313.0,2558.9 L1315.0,2558.9 L1317.0,2558.9 L1319.0,2558.8 L1321.0,2558.8 L1323.0,2558.8 L1325.0,2558.7 L1327.0,2558.7 L1329.0,2558.6 L1331.0,2558.6 L1333.0,2558.5 L1335.0,2558.5 L1337.0,2558.4 L1339.0,2558.4 L1341.0,2558.3 L1343.0,2558.2 L1345.0,2558.2 L1347.0,2558.1 L1349.0,2558.0 L1351.0,2558.0 L1353.0,2557.9 L1355.0,2557.8 L1357.0,2557.8 L1359.0,2557.7 L1361.0,2557.6 L1363.0,2557.5 L1365.0,2557.4 L1367.0,2557.3 L1369.0,2557.2 L1371.0,2557.1 L1373.0,2557.0 L1375.0,2556.9 L1377.0,2556.8 L1379.0,2556.7 L1381.0,2556.6 L1383.0,2556.4 L1385.0,2556.3 L1387.0,2556.2 L1389.0,2556.0 L1391.0,2555.9 L1393.0,2555.7 L1395.0,2555.6 L1397.0,2555.4 L1399.0,2555.3 L1401.0,2555.1 L1403.0,2554.9 L1405.0,2554.8 L1407.0,2554.6 L1409.0,2554.4 L1411.0,2554.2 L1413.0,2554.0 L1415.0,2553.8 L1417.0,2553.5 L1419.0,2553.3 L1421.0,2553.1 L1423.0,2552.8 L1425.0,2552.6 L1427.0,2552.3 L1429.0,2552.0 L1431.0,2551.7 L1433.0,2551.4 L1435.0,2551.1 L1437.0,2550.8 L1439.0,2550.4 L1441.0,2550.1 L1443.0,2549.7 L1445.0,2549.3 L1447.0,2548.9 L1449.0,2548.5 L1451.0,2548.0 L1453.0,2547.6 L1455.0,2547.1 L1457.0,2546.6 L1459.0,2546.1 L1461.0,2545.5 L1463.0,2544.9 L1465.0,2544.3 L1467.0,2543.7 L1469.0,2543.0 L1471.0,2542.3 L1473.0,2541.6 L1475.0,2540.8 L1477.0,2540.0 L1479.0,2539.1 L1481.0,2538.3 L1483.0,2537.3 L1485.0,2536.3 L1487.0,2535.3 L1489.0,2534.2 L1491.0,2533.1 L1493.0,2531.9 L1495.0,2530.6 L1497.0,2529.3 L1499.0,2527.9 L1501.0,2526.4 L1503.0,2524.9 L1505.0,2523.3 L1507.0,2521.6 L1509.0,2519.9 L1511.0,2518.1 L1513.0,2516.2 L1515.0,2514.2 L1517.0,2512.1 L1519.0,2509.9 L1521.0,2507.6 L1523.0,2505.3 L1525.0,2502.8 L1527.0,2500.2 L1529.0,2497.6 L1531.0,2494.8 L1533.0,2491.9 L1535.0,2488.9 L1537.0,2485.8 L1539.0,2482.6 L1541.0,2479.3 L1543.0,2475.9 L1545.0,2472.3 L1547.0,2468.7 L1549.0,2464.9 L1551.0,2461.0 L1553.0,2457.0 L1555.0,2453.0 L1557.0,2448.8 L1559.0,2444.5 L1561.0,2440.1 L1563.0,2435.6 L1565.0,2431.0 L1567.0,2426.4 L1569.0,2421.7 L1571.0,2417.0 L1573.0,2412.2 L1575.0,2407.4 L1577.0,2402.6 L1579.0,2397.8 L1581.0,2393.0 L1583.0,2388.3 L1585.0,2383.7 L1587.0,2379.2 L1589.0,2374.9 L1591.0,2370.8 L1593.0,2366.9 L1595.0,2363.2 L1597.0,2359.9 L1599.0,2356.9 L1601.0,2354.4 L1603.0,2352.2 L1605.0,2350.6 L1607.0,2349.4 L1609.0,2348.7 L1611.0,2348.6 L1613.0,2349.1 L1615.0,2350.1 L1617.0,2351.7 L1619.0,2353.9 L1621.0,2356.5 L1623.0,2359.7 L1625.0,2363.4 L1627.0,2367.6 L1629.0,2372.1 L1631.0,2377.0 L1633.0,2382.2 L1635.0,2387.6 L1637.0,2393.3 L1639.0,2399.2 L1641.0,2405.1 L1643.0,2411.2 L1645.0,2417.3 L1647.0,2423.4 L1649.0,2429.4 L1651.0,2435.4 L1653.0,2441.4 L1655.0,2447.2 L1657.0,2452.9 L1659.0,2458.5 L1661.0,2463.9 L1663.0,2469.2 L1665.0,2474.3 L1667.0,2479.2 L1669.0,2483.9 L1671.0,2488.5 L1673.0,2492.8 L1675.0,2497.0 L1677.0,2501.0 L1679.0,2504.8 L1681.0,2508.4 L1683.0,2511.8 L1685.0,2515.1 L1687.0,2518.2 L1689.0,2521.2 L1691.0,2523.9 L1693.0,2526.6 L1695.0,2529.0 L1697.0,2531.4 L1699.0,2533.6 L1701.0,2535.6 L1703.0,2537.6 L1705.0,2539.4 L1707.0,2541.2 L1709.0,2542.8 L1711.0,2544.3 L1713.0,2545.8 L1715.0,2547.1 L1717.0,2548.4 L1719.0,2549.6 L1721.0,2550.7 L1723.0,2551.8 L1725.0,2552.8 L1727.0,2553.7 L1729.0,2554.6 L1731.0,2555.5 L1733.0,2556.3 L1735.0,2557.1 L1737.0,2557.8 L1739.0,2558.5 L1741.0,2559.1 L1743.0,2559.7 L1745.0,2560.3 L1747.0,2560.9 L1749.0,2561.4 L1751.0,2561.9 L1753.0,2562.4 L1755.0,2562.9 L1757.0,2563.3 L1759.0,2563.8 L1761.0,2564.2 L1763.0,2564.6 L1765.0,2565.0 L1767.0,2565.3 L1769.0,2565.7 L1771.0,2566.0 L1773.0,2566.4 L1775.0,2566.7 L1777.0,2567.0 L1779.0,2567.3 L1781.0,2567.6 L1783.0,2567.8 L1785.0,2568.1 L1787.0,2568.4 L1789.0,2568.6 L1791.0,2568.9 L1793.0,2569.1 L1795.0,2569.3 L1797.0,2569.6 L1799.0,2569.8 L1801.0,2570.0 L1803.0,2570.2 L1805.0,2570.4 L1807.0,2570.6 L1809.0,2570.8 L1811.0,2571.0 L1813.0,2571.1 L1815.0,2571.3 L1817.0,2571.5 L1819.0,2571.6 L1821.0,2571.8 L1823.0,2572.0 L1825.0,2572.1 L1827.0,2572.3 L1829.0,2572.4 L1831.0,2572.6 L1833.0,2572.7 L1835.0,2572.8 L1837.0,2573.0 L1839.0,2573.1 L1841.0,2573.2 L1843.0,2573.3 L1845.0,2573.4 L1847.0,2573.6" stroke="#0072bd" stroke-width="2" stroke-dasharray="24 8.5 6.5 8.5"/>
</g>
<g stroke="#000" stroke-width="1.4" fill="none" shape-rendering="crispEdges">
<path d="M952.83,112 L949.83,820" stroke-width="2"/>
<path d="M997.95,112 L1000.93,1573" stroke-width="2"/>
<path d="M832,222.6 H930"/>
<path d="M1025,222.6 H1140"/>
</g>
<path d="M953.5,222.6 L912,207.3 L925.5,222.6 L912,237.9 Z" fill="#000" shape-rendering="crispEdges"/>
<path d="M1000,222.6 L1042,207.3 L1028.4,222.6 L1042,237.9 Z" fill="#000" shape-rendering="crispEdges"/>
<g stroke="#1a1a1a" stroke-width="2" fill="none" shape-rendering="crispEdges">
<rect x="127.0" y="43.0" width="1721.0" height="2608.0"/>
<path d="M462.0,43.0 v27 M462.0,2651.0 v-27"/>
<path d="M812.0,43.0 v27 M812.0,2651.0 v-27"/>
<path d="M1162.0,43.0 v27 M1162.0,2651.0 v-27"/>
<path d="M1512.0,43.0 v27 M1512.0,2651.0 v-27"/>
</g>
<g font-family="&quot;Liberation Sans&quot;, sans-serif" fill="#262626" text-anchor="middle">
<text transform="translate(463.5,2748.4) scale(1,1.050)" font-size="71">1090</text>
<text transform="translate(813.5,2748.4) scale(1,1.050)" font-size="71">1085</text>
<text transform="translate(1163.5,2748.4) scale(1,1.050)" font-size="71">1080</text>
<text transform="translate(1513.5,2748.4) scale(1,1.050)" font-size="71">1075</text>
<text x="987.0" y="2849.5" font-size="79.5">Binding energy [eV]</text>
<text transform="translate(87.4,1347) rotate(-90)" font-size="79.3">Intensity (arb. units)</text>
</g>
<g font-family="&quot;Liberation Sans&quot;, sans-serif" fill="#000">
<text transform="translate(215.7,167.7) scale(1,1.015)" font-size="80">Sm 3d<tspan font-size="63" dy="38" dx="1.5">5/2</tspan></text>
<text transform="translate(213.5,304.6) scale(1,1.040)" font-size="80">XPS</text>
<text x="1053.5" y="197.4" font-size="55.7">0.6 eV</text>
<text x="1105.8" y="471.1" font-size="72">after</text>
<text x="1106.5" y="561.8" font-size="72">temperature ramp</text>
<text x="1177.0" y="1357.9" font-size="72">before</text>
<text x="1179.3" y="1448.6" font-size="72">temperature ramp</text>
<text transform="translate(166.5,786.8) scale(1,1.040)" font-size="72.7">0.9 ML Sm</text>
<text x="166.5" y="879.6" font-size="72.4">oxidized</text>
<text transform="translate(166.5,1548.8) scale(1,1.040)" font-size="72.7">0.9 ML Sm</text>
<text x="166.5" y="1641.1" font-size="72.4">oxidized</text>
<text transform="translate(164.5,2348.1) scale(1,1.040)" font-size="72.7">0.8 ML Sm</text>
</g>
</svg>
</body></html>
